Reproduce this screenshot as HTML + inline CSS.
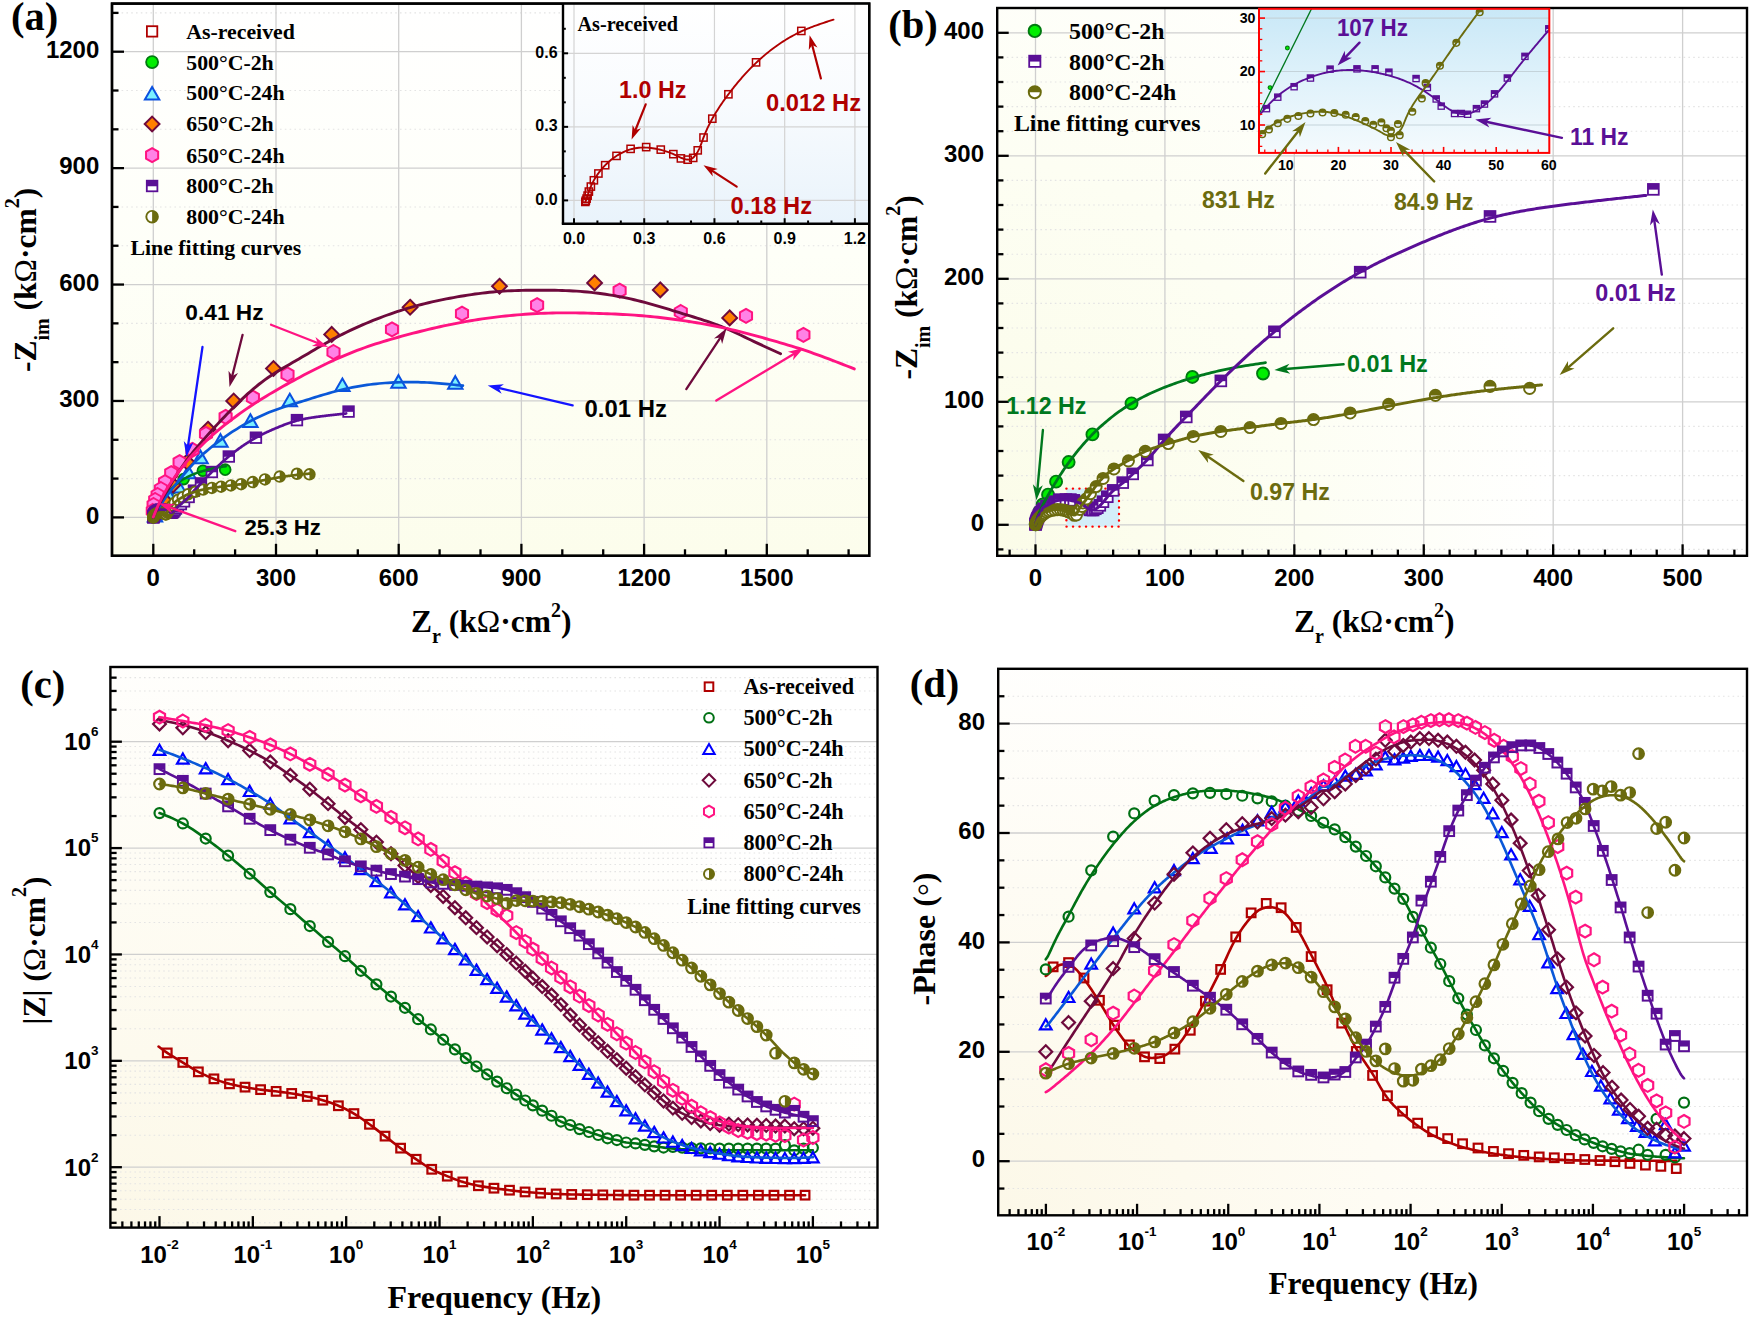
<!DOCTYPE html>
<html><head><meta charset="utf-8"><title>EIS Nyquist and Bode plots</title>
<style>
html,body{margin:0;padding:0;background:#fff;}
svg{display:block;}
text{white-space:pre;}
</style></head>
<body>
<svg width="1750" height="1317" viewBox="0 0 1750 1317">
<defs>
<linearGradient id="bgA" x1="0" y1="0" x2="0" y2="1"><stop offset="0" stop-color="#ffffff"/><stop offset="0.45" stop-color="#fefff8"/><stop offset="1" stop-color="#fcfdec"/></linearGradient>
<linearGradient id="bgAi" x1="0" y1="0" x2="0" y2="1"><stop offset="0" stop-color="#ffffff"/><stop offset="0.45" stop-color="#f8fbfe"/><stop offset="1" stop-color="#e9f3fb"/></linearGradient>
<radialGradient id="bgB" gradientUnits="userSpaceOnUse" cx="0" cy="0" r="1" gradientTransform="translate(997,556) scale(560,720)"><stop offset="0" stop-color="#fbfce8"/><stop offset="0.55" stop-color="#fdfef3"/><stop offset="1" stop-color="#ffffff"/></radialGradient>
<linearGradient id="bgBi" x1="0" y1="0" x2="0" y2="1"><stop offset="0" stop-color="#c9e8f7"/><stop offset="0.55" stop-color="#e2f3fb"/><stop offset="1" stop-color="#f4fafd"/></linearGradient>
<clipPath id="clipBi"><rect x="1259" y="8.8" width="290.3" height="144.1"/></clipPath>
<radialGradient id="bgC" gradientUnits="userSpaceOnUse" cx="0" cy="0" r="1" gradientTransform="translate(110,1227) scale(820,640)"><stop offset="0" stop-color="#fcf8e8"/><stop offset="0.55" stop-color="#fefcf4"/><stop offset="1" stop-color="#ffffff"/></radialGradient>
<radialGradient id="bgD" gradientUnits="userSpaceOnUse" cx="0" cy="0" r="1" gradientTransform="translate(998,1215) scale(700,600)"><stop offset="0" stop-color="#fcf8e8"/><stop offset="0.55" stop-color="#fefcf4"/><stop offset="1" stop-color="#ffffff"/></radialGradient>
<clipPath id="clipD"><rect x="998.2" y="668.8" width="748.8" height="546.5"/></clipPath>
</defs>
<rect x="0" y="0" width="1750" height="1317" fill="#fff"/>
<rect x="112" y="3.6" width="757.2" height="552.2" fill="url(#bgA)"/>
<line x1="112" y1="478.59" x2="869.2" y2="478.59" stroke="#e4e4e4" stroke-width="1.1" stroke-dasharray="1.6 3.2"/>
<line x1="112" y1="439.78" x2="869.2" y2="439.78" stroke="#e4e4e4" stroke-width="1.1" stroke-dasharray="1.6 3.2"/>
<line x1="112" y1="362.17" x2="869.2" y2="362.17" stroke="#e4e4e4" stroke-width="1.1" stroke-dasharray="1.6 3.2"/>
<line x1="112" y1="323.36" x2="869.2" y2="323.36" stroke="#e4e4e4" stroke-width="1.1" stroke-dasharray="1.6 3.2"/>
<line x1="112" y1="245.74" x2="869.2" y2="245.74" stroke="#e4e4e4" stroke-width="1.1" stroke-dasharray="1.6 3.2"/>
<line x1="112" y1="206.93" x2="869.2" y2="206.93" stroke="#e4e4e4" stroke-width="1.1" stroke-dasharray="1.6 3.2"/>
<line x1="112" y1="129.32" x2="869.2" y2="129.32" stroke="#e4e4e4" stroke-width="1.1" stroke-dasharray="1.6 3.2"/>
<line x1="112" y1="90.51" x2="869.2" y2="90.51" stroke="#e4e4e4" stroke-width="1.1" stroke-dasharray="1.6 3.2"/>
<line x1="112" y1="12.89" x2="869.2" y2="12.89" stroke="#e4e4e4" stroke-width="1.1" stroke-dasharray="1.6 3.2"/>
<line x1="112" y1="517.4" x2="869.2" y2="517.4" stroke="#cfcfcf" stroke-width="1.3" />
<line x1="112" y1="400.97" x2="869.2" y2="400.97" stroke="#cfcfcf" stroke-width="1.3" />
<line x1="112" y1="284.55" x2="869.2" y2="284.55" stroke="#cfcfcf" stroke-width="1.3" />
<line x1="112" y1="168.12" x2="869.2" y2="168.12" stroke="#cfcfcf" stroke-width="1.3" />
<line x1="112" y1="51.7" x2="869.2" y2="51.7" stroke="#cfcfcf" stroke-width="1.3" />
<line x1="153.3" y1="3.6" x2="153.3" y2="555.8" stroke="#cfcfcf" stroke-width="1.3" />
<line x1="276" y1="3.6" x2="276" y2="555.8" stroke="#cfcfcf" stroke-width="1.3" />
<line x1="398.7" y1="3.6" x2="398.7" y2="555.8" stroke="#cfcfcf" stroke-width="1.3" />
<line x1="521.4" y1="3.6" x2="521.4" y2="555.8" stroke="#cfcfcf" stroke-width="1.3" />
<line x1="644.1" y1="3.6" x2="644.1" y2="555.8" stroke="#cfcfcf" stroke-width="1.3" />
<line x1="766.8" y1="3.6" x2="766.8" y2="555.8" stroke="#cfcfcf" stroke-width="1.3" />
<rect x="149.8" y="513.7" width="7" height="7" fill="none" stroke="#b00000" stroke-width="1.5"/>
<circle cx="225.2" cy="469.67" r="5.4" fill="#00ee00" stroke="#007a10" stroke-width="1.8"/>
<circle cx="202.87" cy="470.75" r="5.4" fill="#00ee00" stroke="#007a10" stroke-width="1.8"/>
<circle cx="183.65" cy="479.1" r="5.4" fill="#00ee00" stroke="#007a10" stroke-width="1.8"/>
<circle cx="171.3" cy="488.88" r="5.4" fill="#00ee00" stroke="#007a10" stroke-width="1.8"/>
<circle cx="163.77" cy="497.61" r="5.4" fill="#00ee00" stroke="#007a10" stroke-width="1.8"/>
<circle cx="159.8" cy="503.78" r="5.4" fill="#00ee00" stroke="#007a10" stroke-width="1.8"/>
<circle cx="157.27" cy="507.89" r="5.4" fill="#00ee00" stroke="#007a10" stroke-width="1.8"/>
<circle cx="155.59" cy="511" r="5.4" fill="#00ee00" stroke="#007a10" stroke-width="1.8"/>
<circle cx="154.61" cy="513.21" r="5.4" fill="#00ee00" stroke="#007a10" stroke-width="1.8"/>
<circle cx="154.04" cy="514.76" r="5.4" fill="#00ee00" stroke="#007a10" stroke-width="1.8"/>
<circle cx="153.71" cy="515.77" r="5.4" fill="#00ee00" stroke="#007a10" stroke-width="1.8"/>
<circle cx="153.55" cy="516.43" r="5.4" fill="#00ee00" stroke="#007a10" stroke-width="1.8"/>
<circle cx="153.42" cy="516.93" r="5.4" fill="#00ee00" stroke="#007a10" stroke-width="1.8"/>
<circle cx="153.36" cy="517.24" r="5.4" fill="#00ee00" stroke="#007a10" stroke-width="1.8"/>
<polygon points="455.3,376.14 462.5,388.74 448.1,388.74" fill="#7af0ff" stroke="#0a50e0" stroke-width="2" stroke-linejoin="miter"/>
<polygon points="398.5,375.14 405.7,387.74 391.3,387.74" fill="#7af0ff" stroke="#0a50e0" stroke-width="2" stroke-linejoin="miter"/>
<polygon points="342.4,378.44 349.6,391.04 335.2,391.04" fill="#7af0ff" stroke="#0a50e0" stroke-width="2" stroke-linejoin="miter"/>
<polygon points="289.8,393.74 297,406.34 282.6,406.34" fill="#7af0ff" stroke="#0a50e0" stroke-width="2" stroke-linejoin="miter"/>
<polygon points="250.4,414.34 257.6,426.94 243.2,426.94" fill="#7af0ff" stroke="#0a50e0" stroke-width="2" stroke-linejoin="miter"/>
<polygon points="220.5,434.14 227.7,446.74 213.3,446.74" fill="#7af0ff" stroke="#0a50e0" stroke-width="2" stroke-linejoin="miter"/>
<polygon points="200.6,450.64 207.8,463.24 193.4,463.24" fill="#7af0ff" stroke="#0a50e0" stroke-width="2" stroke-linejoin="miter"/>
<polygon points="188.3,465.74 195.5,478.34 181.1,478.34" fill="#7af0ff" stroke="#0a50e0" stroke-width="2" stroke-linejoin="miter"/>
<polygon points="178.5,479.94 185.7,492.54 171.3,492.54" fill="#7af0ff" stroke="#0a50e0" stroke-width="2" stroke-linejoin="miter"/>
<polygon points="170,490.94 177.2,503.54 162.8,503.54" fill="#7af0ff" stroke="#0a50e0" stroke-width="2" stroke-linejoin="miter"/>
<polygon points="163,498.94 170.2,511.54 155.8,511.54" fill="#7af0ff" stroke="#0a50e0" stroke-width="2" stroke-linejoin="miter"/>
<polygon points="158,504.94 165.2,517.54 150.8,517.54" fill="#7af0ff" stroke="#0a50e0" stroke-width="2" stroke-linejoin="miter"/>
<polygon points="155,508.94 162.2,521.54 147.8,521.54" fill="#7af0ff" stroke="#0a50e0" stroke-width="2" stroke-linejoin="miter"/>
<polygon points="729.7,310.5 737.1,317.9 729.7,325.3 722.3,317.9" fill="#ff8000" stroke="#6e0a3c" stroke-width="2"/>
<polygon points="660.3,282.5 667.7,289.9 660.3,297.3 652.9,289.9" fill="#ff8000" stroke="#6e0a3c" stroke-width="2"/>
<polygon points="594.6,275.5 602,282.9 594.6,290.3 587.2,282.9" fill="#ff8000" stroke="#6e0a3c" stroke-width="2"/>
<polygon points="499.5,278.8 506.9,286.2 499.5,293.6 492.1,286.2" fill="#ff8000" stroke="#6e0a3c" stroke-width="2"/>
<polygon points="410.1,299.8 417.5,307.2 410.1,314.6 402.7,307.2" fill="#ff8000" stroke="#6e0a3c" stroke-width="2"/>
<polygon points="331.7,327 339.1,334.4 331.7,341.8 324.3,334.4" fill="#ff8000" stroke="#6e0a3c" stroke-width="2"/>
<polygon points="273.5,361.1 280.9,368.5 273.5,375.9 266.1,368.5" fill="#ff8000" stroke="#6e0a3c" stroke-width="2"/>
<polygon points="233.7,393.6 241.1,401 233.7,408.4 226.3,401" fill="#ff8000" stroke="#6e0a3c" stroke-width="2"/>
<polygon points="208,421.8 215.4,429.2 208,436.6 200.6,429.2" fill="#ff8000" stroke="#6e0a3c" stroke-width="2"/>
<polygon points="187,454.6 194.4,462 187,469.4 179.6,462" fill="#ff8000" stroke="#6e0a3c" stroke-width="2"/>
<polygon points="173,477.6 180.4,485 173,492.4 165.6,485" fill="#ff8000" stroke="#6e0a3c" stroke-width="2"/>
<polygon points="164,492.6 171.4,500 164,507.4 156.6,500" fill="#ff8000" stroke="#6e0a3c" stroke-width="2"/>
<polygon points="158,501.6 165.4,509 158,516.4 150.6,509" fill="#ff8000" stroke="#6e0a3c" stroke-width="2"/>
<polygon points="155,506.6 162.4,514 155,521.4 147.6,514" fill="#ff8000" stroke="#6e0a3c" stroke-width="2"/>
<polygon points="803.4,327.8 809.46,331.3 809.46,338.3 803.4,341.8 797.34,338.3 797.34,331.3" fill="#ff82e6" stroke="#ff1482" stroke-width="2"/>
<polygon points="746,308.9 752.06,312.4 752.06,319.4 746,322.9 739.94,319.4 739.94,312.4" fill="#ff82e6" stroke="#ff1482" stroke-width="2"/>
<polygon points="680.8,305 686.86,308.5 686.86,315.5 680.8,319 674.74,315.5 674.74,308.5" fill="#ff82e6" stroke="#ff1482" stroke-width="2"/>
<polygon points="619.6,283.6 625.66,287.1 625.66,294.1 619.6,297.6 613.54,294.1 613.54,287.1" fill="#ff82e6" stroke="#ff1482" stroke-width="2"/>
<polygon points="537.1,298.1 543.16,301.6 543.16,308.6 537.1,312.1 531.04,308.6 531.04,301.6" fill="#ff82e6" stroke="#ff1482" stroke-width="2"/>
<polygon points="462,306.6 468.06,310.1 468.06,317.1 462,320.6 455.94,317.1 455.94,310.1" fill="#ff82e6" stroke="#ff1482" stroke-width="2"/>
<polygon points="392,322.4 398.06,325.9 398.06,332.9 392,336.4 385.94,332.9 385.94,325.9" fill="#ff82e6" stroke="#ff1482" stroke-width="2"/>
<polygon points="333.5,345 339.56,348.5 339.56,355.5 333.5,359 327.44,355.5 327.44,348.5" fill="#ff82e6" stroke="#ff1482" stroke-width="2"/>
<polygon points="287.5,367.4 293.56,370.9 293.56,377.9 287.5,381.4 281.44,377.9 281.44,370.9" fill="#ff82e6" stroke="#ff1482" stroke-width="2"/>
<polygon points="252.9,390.6 258.96,394.1 258.96,401.1 252.9,404.6 246.84,401.1 246.84,394.1" fill="#ff82e6" stroke="#ff1482" stroke-width="2"/>
<polygon points="225.6,409.9 231.66,413.4 231.66,420.4 225.6,423.9 219.54,420.4 219.54,413.4" fill="#ff82e6" stroke="#ff1482" stroke-width="2"/>
<polygon points="206,426.8 212.06,430.3 212.06,437.3 206,440.8 199.94,437.3 199.94,430.3" fill="#ff82e6" stroke="#ff1482" stroke-width="2"/>
<polygon points="192.4,442.8 198.46,446.3 198.46,453.3 192.4,456.8 186.34,453.3 186.34,446.3" fill="#ff82e6" stroke="#ff1482" stroke-width="2"/>
<polygon points="179.6,455.2 185.66,458.7 185.66,465.7 179.6,469.2 173.54,465.7 173.54,458.7" fill="#ff82e6" stroke="#ff1482" stroke-width="2"/>
<polygon points="171.2,466.2 177.26,469.7 177.26,476.7 171.2,480.2 165.14,476.7 165.14,469.7" fill="#ff82e6" stroke="#ff1482" stroke-width="2"/>
<polygon points="165,475.1 171.06,478.6 171.06,485.6 165,489.1 158.94,485.6 158.94,478.6" fill="#ff82e6" stroke="#ff1482" stroke-width="2"/>
<polygon points="160.9,482 166.96,485.5 166.96,492.5 160.9,496 154.84,492.5 154.84,485.5" fill="#ff82e6" stroke="#ff1482" stroke-width="2"/>
<polygon points="157.6,488 163.66,491.5 163.66,498.5 157.6,502 151.54,498.5 151.54,491.5" fill="#ff82e6" stroke="#ff1482" stroke-width="2"/>
<polygon points="155.2,493 161.26,496.5 161.26,503.5 155.2,507 149.14,503.5 149.14,496.5" fill="#ff82e6" stroke="#ff1482" stroke-width="2"/>
<polygon points="153.6,498 159.66,501.5 159.66,508.5 153.6,512 147.54,508.5 147.54,501.5" fill="#ff82e6" stroke="#ff1482" stroke-width="2"/>
<polygon points="152.8,504 158.86,507.5 158.86,514.5 152.8,518 146.74,514.5 146.74,507.5" fill="#ff82e6" stroke="#ff1482" stroke-width="2"/>
<rect x="148.02" y="512.01" width="10.6" height="10.6" fill="#fff" stroke="#5a0f96" stroke-width="1.8"/>
<rect x="148.02" y="512.01" width="10.6" height="5.57" fill="#5a0f96"/>
<rect x="148.04" y="511.91" width="10.6" height="10.6" fill="#fff" stroke="#5a0f96" stroke-width="1.8"/>
<rect x="148.04" y="511.91" width="10.6" height="5.57" fill="#5a0f96"/>
<rect x="148.08" y="511.73" width="10.6" height="10.6" fill="#fff" stroke="#5a0f96" stroke-width="1.8"/>
<rect x="148.08" y="511.73" width="10.6" height="5.57" fill="#5a0f96"/>
<rect x="148.14" y="511.48" width="10.6" height="10.6" fill="#fff" stroke="#5a0f96" stroke-width="1.8"/>
<rect x="148.14" y="511.48" width="10.6" height="5.57" fill="#5a0f96"/>
<rect x="148.22" y="511.18" width="10.6" height="10.6" fill="#fff" stroke="#5a0f96" stroke-width="1.8"/>
<rect x="148.22" y="511.18" width="10.6" height="5.57" fill="#5a0f96"/>
<rect x="148.33" y="510.85" width="10.6" height="10.6" fill="#fff" stroke="#5a0f96" stroke-width="1.8"/>
<rect x="148.33" y="510.85" width="10.6" height="5.57" fill="#5a0f96"/>
<rect x="148.45" y="510.49" width="10.6" height="10.6" fill="#fff" stroke="#5a0f96" stroke-width="1.8"/>
<rect x="148.45" y="510.49" width="10.6" height="5.57" fill="#5a0f96"/>
<rect x="148.61" y="510.08" width="10.6" height="10.6" fill="#fff" stroke="#5a0f96" stroke-width="1.8"/>
<rect x="148.61" y="510.08" width="10.6" height="5.57" fill="#5a0f96"/>
<rect x="148.82" y="509.63" width="10.6" height="10.6" fill="#fff" stroke="#5a0f96" stroke-width="1.8"/>
<rect x="148.82" y="509.63" width="10.6" height="5.57" fill="#5a0f96"/>
<rect x="149.06" y="509.16" width="10.6" height="10.6" fill="#fff" stroke="#5a0f96" stroke-width="1.8"/>
<rect x="149.06" y="509.16" width="10.6" height="5.57" fill="#5a0f96"/>
<rect x="149.35" y="508.68" width="10.6" height="10.6" fill="#fff" stroke="#5a0f96" stroke-width="1.8"/>
<rect x="149.35" y="508.68" width="10.6" height="5.57" fill="#5a0f96"/>
<rect x="149.72" y="508.14" width="10.6" height="10.6" fill="#fff" stroke="#5a0f96" stroke-width="1.8"/>
<rect x="149.72" y="508.14" width="10.6" height="5.57" fill="#5a0f96"/>
<rect x="150.13" y="507.62" width="10.6" height="10.6" fill="#fff" stroke="#5a0f96" stroke-width="1.8"/>
<rect x="150.13" y="507.62" width="10.6" height="5.57" fill="#5a0f96"/>
<rect x="150.59" y="507.03" width="10.6" height="10.6" fill="#fff" stroke="#5a0f96" stroke-width="1.8"/>
<rect x="150.59" y="507.03" width="10.6" height="5.57" fill="#5a0f96"/>
<rect x="151.47" y="506.2" width="10.6" height="10.6" fill="#fff" stroke="#5a0f96" stroke-width="1.8"/>
<rect x="151.47" y="506.2" width="10.6" height="5.57" fill="#5a0f96"/>
<rect x="152.74" y="505.44" width="10.6" height="10.6" fill="#fff" stroke="#5a0f96" stroke-width="1.8"/>
<rect x="152.74" y="505.44" width="10.6" height="5.57" fill="#5a0f96"/>
<rect x="154.01" y="504.81" width="10.6" height="10.6" fill="#fff" stroke="#5a0f96" stroke-width="1.8"/>
<rect x="154.01" y="504.81" width="10.6" height="5.57" fill="#5a0f96"/>
<rect x="155.53" y="504.16" width="10.6" height="10.6" fill="#fff" stroke="#5a0f96" stroke-width="1.8"/>
<rect x="155.53" y="504.16" width="10.6" height="5.57" fill="#5a0f96"/>
<rect x="157.62" y="504.14" width="10.6" height="10.6" fill="#fff" stroke="#5a0f96" stroke-width="1.8"/>
<rect x="157.62" y="504.14" width="10.6" height="5.57" fill="#5a0f96"/>
<rect x="159.03" y="504.14" width="10.6" height="10.6" fill="#fff" stroke="#5a0f96" stroke-width="1.8"/>
<rect x="159.03" y="504.14" width="10.6" height="5.57" fill="#5a0f96"/>
<rect x="160.11" y="504.38" width="10.6" height="10.6" fill="#fff" stroke="#5a0f96" stroke-width="1.8"/>
<rect x="160.11" y="504.38" width="10.6" height="5.57" fill="#5a0f96"/>
<rect x="162.22" y="504.85" width="10.6" height="10.6" fill="#fff" stroke="#5a0f96" stroke-width="1.8"/>
<rect x="162.22" y="504.85" width="10.6" height="5.57" fill="#5a0f96"/>
<rect x="163.1" y="505.49" width="10.6" height="10.6" fill="#fff" stroke="#5a0f96" stroke-width="1.8"/>
<rect x="163.1" y="505.49" width="10.6" height="5.57" fill="#5a0f96"/>
<rect x="163.78" y="506.33" width="10.6" height="10.6" fill="#fff" stroke="#5a0f96" stroke-width="1.8"/>
<rect x="163.78" y="506.33" width="10.6" height="5.57" fill="#5a0f96"/>
<rect x="164.17" y="506.85" width="10.6" height="10.6" fill="#fff" stroke="#5a0f96" stroke-width="1.8"/>
<rect x="164.17" y="506.85" width="10.6" height="5.57" fill="#5a0f96"/>
<rect x="165.21" y="507.38" width="10.6" height="10.6" fill="#fff" stroke="#5a0f96" stroke-width="1.8"/>
<rect x="165.21" y="507.38" width="10.6" height="5.57" fill="#5a0f96"/>
<rect x="165.74" y="507.38" width="10.6" height="10.6" fill="#fff" stroke="#5a0f96" stroke-width="1.8"/>
<rect x="165.74" y="507.38" width="10.6" height="5.57" fill="#5a0f96"/>
<rect x="166.23" y="507.44" width="10.6" height="10.6" fill="#fff" stroke="#5a0f96" stroke-width="1.8"/>
<rect x="166.23" y="507.44" width="10.6" height="5.57" fill="#5a0f96"/>
<rect x="166.91" y="507.03" width="10.6" height="10.6" fill="#fff" stroke="#5a0f96" stroke-width="1.8"/>
<rect x="166.91" y="507.03" width="10.6" height="5.57" fill="#5a0f96"/>
<rect x="167.54" y="506.7" width="10.6" height="10.6" fill="#fff" stroke="#5a0f96" stroke-width="1.8"/>
<rect x="167.54" y="506.7" width="10.6" height="5.57" fill="#5a0f96"/>
<rect x="168.32" y="505.96" width="10.6" height="10.6" fill="#fff" stroke="#5a0f96" stroke-width="1.8"/>
<rect x="168.32" y="505.96" width="10.6" height="5.57" fill="#5a0f96"/>
<rect x="169.32" y="504.81" width="10.6" height="10.6" fill="#fff" stroke="#5a0f96" stroke-width="1.8"/>
<rect x="169.32" y="504.81" width="10.6" height="5.57" fill="#5a0f96"/>
<rect x="170.69" y="503.24" width="10.6" height="10.6" fill="#fff" stroke="#5a0f96" stroke-width="1.8"/>
<rect x="170.69" y="503.24" width="10.6" height="5.57" fill="#5a0f96"/>
<rect x="172.54" y="501.24" width="10.6" height="10.6" fill="#fff" stroke="#5a0f96" stroke-width="1.8"/>
<rect x="172.54" y="501.24" width="10.6" height="5.57" fill="#5a0f96"/>
<rect x="175.57" y="498.79" width="10.6" height="10.6" fill="#fff" stroke="#5a0f96" stroke-width="1.8"/>
<rect x="175.57" y="498.79" width="10.6" height="5.57" fill="#5a0f96"/>
<rect x="178.72" y="496.03" width="10.6" height="10.6" fill="#fff" stroke="#5a0f96" stroke-width="1.8"/>
<rect x="178.72" y="496.03" width="10.6" height="5.57" fill="#5a0f96"/>
<rect x="183.34" y="491.65" width="10.6" height="10.6" fill="#fff" stroke="#5a0f96" stroke-width="1.8"/>
<rect x="183.34" y="491.65" width="10.6" height="5.57" fill="#5a0f96"/>
<rect x="188.65" y="485.32" width="10.6" height="10.6" fill="#fff" stroke="#5a0f96" stroke-width="1.8"/>
<rect x="188.65" y="485.32" width="10.6" height="5.57" fill="#5a0f96"/>
<rect x="195.65" y="478.07" width="10.6" height="10.6" fill="#fff" stroke="#5a0f96" stroke-width="1.8"/>
<rect x="195.65" y="478.07" width="10.6" height="5.57" fill="#5a0f96"/>
<rect x="206.57" y="466.69" width="10.6" height="10.6" fill="#fff" stroke="#5a0f96" stroke-width="1.8"/>
<rect x="206.57" y="466.69" width="10.6" height="5.57" fill="#5a0f96"/>
<rect x="223.5" y="451.21" width="10.6" height="10.6" fill="#fff" stroke="#5a0f96" stroke-width="1.8"/>
<rect x="223.5" y="451.21" width="10.6" height="5.57" fill="#5a0f96"/>
<rect x="250.62" y="432.39" width="10.6" height="10.6" fill="#fff" stroke="#5a0f96" stroke-width="1.8"/>
<rect x="250.62" y="432.39" width="10.6" height="5.57" fill="#5a0f96"/>
<rect x="291.64" y="414.81" width="10.6" height="10.6" fill="#fff" stroke="#5a0f96" stroke-width="1.8"/>
<rect x="291.64" y="414.81" width="10.6" height="5.57" fill="#5a0f96"/>
<rect x="343.26" y="406.27" width="10.6" height="10.6" fill="#fff" stroke="#5a0f96" stroke-width="1.8"/>
<rect x="343.26" y="406.27" width="10.6" height="5.57" fill="#5a0f96"/>
<circle cx="153.32" cy="517.34" r="5.3" fill="#fff" stroke="#6b6b0e" stroke-width="1.9"/>
<path d="M153.32,512.04 A5.3,5.3 0 0 1 153.32,522.64 Z" fill="#6b6b0e"/>
<circle cx="153.34" cy="517.27" r="5.3" fill="#fff" stroke="#6b6b0e" stroke-width="1.9"/>
<path d="M153.34,511.97 A5.3,5.3 0 0 1 153.34,522.57 Z" fill="#6b6b0e"/>
<circle cx="153.38" cy="517.15" r="5.3" fill="#fff" stroke="#6b6b0e" stroke-width="1.9"/>
<path d="M153.38,511.85 A5.3,5.3 0 0 1 153.38,522.45 Z" fill="#6b6b0e"/>
<circle cx="153.44" cy="516.98" r="5.3" fill="#fff" stroke="#6b6b0e" stroke-width="1.9"/>
<path d="M153.44,511.68 A5.3,5.3 0 0 1 153.44,522.28 Z" fill="#6b6b0e"/>
<circle cx="153.52" cy="516.77" r="5.3" fill="#fff" stroke="#6b6b0e" stroke-width="1.9"/>
<path d="M153.52,511.47 A5.3,5.3 0 0 1 153.52,522.07 Z" fill="#6b6b0e"/>
<circle cx="153.63" cy="516.54" r="5.3" fill="#fff" stroke="#6b6b0e" stroke-width="1.9"/>
<path d="M153.63,511.24 A5.3,5.3 0 0 1 153.63,521.84 Z" fill="#6b6b0e"/>
<circle cx="153.75" cy="516.29" r="5.3" fill="#fff" stroke="#6b6b0e" stroke-width="1.9"/>
<path d="M153.75,510.99 A5.3,5.3 0 0 1 153.75,521.59 Z" fill="#6b6b0e"/>
<circle cx="153.91" cy="516" r="5.3" fill="#fff" stroke="#6b6b0e" stroke-width="1.9"/>
<path d="M153.91,510.7 A5.3,5.3 0 0 1 153.91,521.3 Z" fill="#6b6b0e"/>
<circle cx="154.12" cy="515.7" r="5.3" fill="#fff" stroke="#6b6b0e" stroke-width="1.9"/>
<path d="M154.12,510.4 A5.3,5.3 0 0 1 154.12,521 Z" fill="#6b6b0e"/>
<circle cx="154.36" cy="515.38" r="5.3" fill="#fff" stroke="#6b6b0e" stroke-width="1.9"/>
<path d="M154.36,510.08 A5.3,5.3 0 0 1 154.36,520.68 Z" fill="#6b6b0e"/>
<circle cx="154.65" cy="515.05" r="5.3" fill="#fff" stroke="#6b6b0e" stroke-width="1.9"/>
<path d="M154.65,509.75 A5.3,5.3 0 0 1 154.65,520.35 Z" fill="#6b6b0e"/>
<circle cx="155.02" cy="514.7" r="5.3" fill="#fff" stroke="#6b6b0e" stroke-width="1.9"/>
<path d="M155.02,509.4 A5.3,5.3 0 0 1 155.02,520 Z" fill="#6b6b0e"/>
<circle cx="155.34" cy="514.41" r="5.3" fill="#fff" stroke="#6b6b0e" stroke-width="1.9"/>
<path d="M155.34,509.11 A5.3,5.3 0 0 1 155.34,519.71 Z" fill="#6b6b0e"/>
<circle cx="155.55" cy="514.18" r="5.3" fill="#fff" stroke="#6b6b0e" stroke-width="1.9"/>
<path d="M155.55,508.88 A5.3,5.3 0 0 1 155.55,519.48 Z" fill="#6b6b0e"/>
<circle cx="156.08" cy="513.85" r="5.3" fill="#fff" stroke="#6b6b0e" stroke-width="1.9"/>
<path d="M156.08,508.55 A5.3,5.3 0 0 1 156.08,519.15 Z" fill="#6b6b0e"/>
<circle cx="156.77" cy="513.39" r="5.3" fill="#fff" stroke="#6b6b0e" stroke-width="1.9"/>
<path d="M156.77,508.09 A5.3,5.3 0 0 1 156.77,518.69 Z" fill="#6b6b0e"/>
<circle cx="157.51" cy="513.07" r="5.3" fill="#fff" stroke="#6b6b0e" stroke-width="1.9"/>
<path d="M157.51,507.77 A5.3,5.3 0 0 1 157.51,518.37 Z" fill="#6b6b0e"/>
<circle cx="158.37" cy="512.87" r="5.3" fill="#fff" stroke="#6b6b0e" stroke-width="1.9"/>
<path d="M158.37,507.57 A5.3,5.3 0 0 1 158.37,518.17 Z" fill="#6b6b0e"/>
<circle cx="159.31" cy="512.68" r="5.3" fill="#fff" stroke="#6b6b0e" stroke-width="1.9"/>
<path d="M159.31,507.38 A5.3,5.3 0 0 1 159.31,517.98 Z" fill="#6b6b0e"/>
<circle cx="160.25" cy="512.61" r="5.3" fill="#fff" stroke="#6b6b0e" stroke-width="1.9"/>
<path d="M160.25,507.31 A5.3,5.3 0 0 1 160.25,517.91 Z" fill="#6b6b0e"/>
<circle cx="161.17" cy="512.65" r="5.3" fill="#fff" stroke="#6b6b0e" stroke-width="1.9"/>
<path d="M161.17,507.35 A5.3,5.3 0 0 1 161.17,517.95 Z" fill="#6b6b0e"/>
<circle cx="162.04" cy="512.78" r="5.3" fill="#fff" stroke="#6b6b0e" stroke-width="1.9"/>
<path d="M162.04,507.48 A5.3,5.3 0 0 1 162.04,518.08 Z" fill="#6b6b0e"/>
<circle cx="162.83" cy="512.94" r="5.3" fill="#fff" stroke="#6b6b0e" stroke-width="1.9"/>
<path d="M162.83,507.64 A5.3,5.3 0 0 1 162.83,518.24 Z" fill="#6b6b0e"/>
<circle cx="163.57" cy="513.24" r="5.3" fill="#fff" stroke="#6b6b0e" stroke-width="1.9"/>
<path d="M163.57,507.94 A5.3,5.3 0 0 1 163.57,518.54 Z" fill="#6b6b0e"/>
<circle cx="164.2" cy="513.5" r="5.3" fill="#fff" stroke="#6b6b0e" stroke-width="1.9"/>
<path d="M164.2,508.2 A5.3,5.3 0 0 1 164.2,518.8 Z" fill="#6b6b0e"/>
<circle cx="164.82" cy="513.33" r="5.3" fill="#fff" stroke="#6b6b0e" stroke-width="1.9"/>
<path d="M164.82,508.03 A5.3,5.3 0 0 1 164.82,518.63 Z" fill="#6b6b0e"/>
<circle cx="165.21" cy="513.76" r="5.3" fill="#fff" stroke="#6b6b0e" stroke-width="1.9"/>
<path d="M165.21,508.46 A5.3,5.3 0 0 1 165.21,519.06 Z" fill="#6b6b0e"/>
<circle cx="165.56" cy="513.94" r="5.3" fill="#fff" stroke="#6b6b0e" stroke-width="1.9"/>
<path d="M165.56,508.64 A5.3,5.3 0 0 1 165.56,519.24 Z" fill="#6b6b0e"/>
<circle cx="165.56" cy="514.41" r="5.3" fill="#fff" stroke="#6b6b0e" stroke-width="1.9"/>
<path d="M165.56,509.11 A5.3,5.3 0 0 1 165.56,519.71 Z" fill="#6b6b0e"/>
<circle cx="166.11" cy="513.44" r="5.3" fill="#fff" stroke="#6b6b0e" stroke-width="1.9"/>
<path d="M166.11,508.14 A5.3,5.3 0 0 1 166.11,518.74 Z" fill="#6b6b0e"/>
<circle cx="166.25" cy="514.26" r="5.3" fill="#fff" stroke="#6b6b0e" stroke-width="1.9"/>
<path d="M166.25,508.96 A5.3,5.3 0 0 1 166.25,519.56 Z" fill="#6b6b0e"/>
<circle cx="167.23" cy="512.55" r="5.3" fill="#fff" stroke="#6b6b0e" stroke-width="1.9"/>
<path d="M167.23,507.25 A5.3,5.3 0 0 1 167.23,517.85 Z" fill="#6b6b0e"/>
<circle cx="167.97" cy="511.59" r="5.3" fill="#fff" stroke="#6b6b0e" stroke-width="1.9"/>
<path d="M167.97,506.29 A5.3,5.3 0 0 1 167.97,516.89 Z" fill="#6b6b0e"/>
<circle cx="168.26" cy="510.48" r="5.3" fill="#fff" stroke="#6b6b0e" stroke-width="1.9"/>
<path d="M168.26,505.18 A5.3,5.3 0 0 1 168.26,515.78 Z" fill="#6b6b0e"/>
<circle cx="169.38" cy="509.22" r="5.3" fill="#fff" stroke="#6b6b0e" stroke-width="1.9"/>
<path d="M169.38,503.92 A5.3,5.3 0 0 1 169.38,514.52 Z" fill="#6b6b0e"/>
<circle cx="170.65" cy="507.55" r="5.3" fill="#fff" stroke="#6b6b0e" stroke-width="1.9"/>
<path d="M170.65,502.25 A5.3,5.3 0 0 1 170.65,512.85 Z" fill="#6b6b0e"/>
<circle cx="172.47" cy="505.33" r="5.3" fill="#fff" stroke="#6b6b0e" stroke-width="1.9"/>
<path d="M172.47,500.03 A5.3,5.3 0 0 1 172.47,510.63 Z" fill="#6b6b0e"/>
<circle cx="174.65" cy="502.77" r="5.3" fill="#fff" stroke="#6b6b0e" stroke-width="1.9"/>
<path d="M174.65,497.47 A5.3,5.3 0 0 1 174.65,508.07 Z" fill="#6b6b0e"/>
<circle cx="178.09" cy="499.78" r="5.3" fill="#fff" stroke="#6b6b0e" stroke-width="1.9"/>
<path d="M178.09,494.48 A5.3,5.3 0 0 1 178.09,505.08 Z" fill="#6b6b0e"/>
<circle cx="182.67" cy="497.22" r="5.3" fill="#fff" stroke="#6b6b0e" stroke-width="1.9"/>
<path d="M182.67,491.92 A5.3,5.3 0 0 1 182.67,502.52 Z" fill="#6b6b0e"/>
<circle cx="187.98" cy="494.23" r="5.3" fill="#fff" stroke="#6b6b0e" stroke-width="1.9"/>
<path d="M187.98,488.93 A5.3,5.3 0 0 1 187.98,499.53 Z" fill="#6b6b0e"/>
<circle cx="195.26" cy="491.75" r="5.3" fill="#fff" stroke="#6b6b0e" stroke-width="1.9"/>
<path d="M195.26,486.45 A5.3,5.3 0 0 1 195.26,497.05 Z" fill="#6b6b0e"/>
<circle cx="203.16" cy="489.54" r="5.3" fill="#fff" stroke="#6b6b0e" stroke-width="1.9"/>
<path d="M203.16,484.24 A5.3,5.3 0 0 1 203.16,494.84 Z" fill="#6b6b0e"/>
<circle cx="211.87" cy="487.94" r="5.3" fill="#fff" stroke="#6b6b0e" stroke-width="1.9"/>
<path d="M211.87,482.64 A5.3,5.3 0 0 1 211.87,493.24 Z" fill="#6b6b0e"/>
<circle cx="221.07" cy="486.7" r="5.3" fill="#fff" stroke="#6b6b0e" stroke-width="1.9"/>
<path d="M221.07,481.4 A5.3,5.3 0 0 1 221.07,492 Z" fill="#6b6b0e"/>
<circle cx="230.89" cy="485.42" r="5.3" fill="#fff" stroke="#6b6b0e" stroke-width="1.9"/>
<path d="M230.89,480.12 A5.3,5.3 0 0 1 230.89,490.72 Z" fill="#6b6b0e"/>
<circle cx="241.15" cy="484.18" r="5.3" fill="#fff" stroke="#6b6b0e" stroke-width="1.9"/>
<path d="M241.15,478.88 A5.3,5.3 0 0 1 241.15,489.48 Z" fill="#6b6b0e"/>
<circle cx="252.73" cy="482.12" r="5.3" fill="#fff" stroke="#6b6b0e" stroke-width="1.9"/>
<path d="M252.73,476.82 A5.3,5.3 0 0 1 252.73,487.42 Z" fill="#6b6b0e"/>
<circle cx="264.92" cy="479.41" r="5.3" fill="#fff" stroke="#6b6b0e" stroke-width="1.9"/>
<path d="M264.92,474.11 A5.3,5.3 0 0 1 264.92,484.71 Z" fill="#6b6b0e"/>
<circle cx="279.68" cy="476.57" r="5.3" fill="#fff" stroke="#6b6b0e" stroke-width="1.9"/>
<path d="M279.68,471.27 A5.3,5.3 0 0 1 279.68,481.87 Z" fill="#6b6b0e"/>
<circle cx="296.94" cy="473.74" r="5.3" fill="#fff" stroke="#6b6b0e" stroke-width="1.9"/>
<path d="M296.94,468.44 A5.3,5.3 0 0 1 296.94,479.04 Z" fill="#6b6b0e"/>
<circle cx="309.46" cy="474.36" r="5.3" fill="#fff" stroke="#6b6b0e" stroke-width="1.9"/>
<path d="M309.46,469.06 A5.3,5.3 0 0 1 309.46,479.66 Z" fill="#6b6b0e"/>
<polyline points="153.34,517.4 153.61,516.24 153.94,515.09 154.34,513.97 154.81,512.87 155.31,511.79 155.84,510.72 156.39,509.66 156.97,508.62 157.56,507.58 158.15,506.54 158.75,505.51 159.37,504.49 159.99,503.47 160.62,502.46 161.27,501.46 161.92,500.46 162.59,499.47 163.28,498.49 163.97,497.53 164.68,496.57 165.4,495.62 166.14,494.68 166.89,493.75 167.66,492.84 168.44,491.94 169.24,491.05 170.05,490.17 170.87,489.31 171.72,488.46 172.57,487.62 173.44,486.8 174.33,486 175.23,485.21 176.14,484.44 177.07,483.68 178.01,482.94 178.97,482.22 179.94,481.52 180.92,480.84 181.91,480.18 182.92,479.54 183.94,478.92 184.97,478.32 186.01,477.74 187.07,477.19 188.13,476.65 189.21,476.12 190.29,475.62 191.38,475.14 192.48,474.67 193.59,474.21 194.7,473.78 195.82,473.35 196.95,472.94 198.08,472.55 199.22,472.17 200.36,471.8 201.5,471.44 202.64,471.09 203.79,470.75 204.94,470.43 206.09,470.11 207.25,469.81 208.4,469.51 209.56,469.23 210.72,468.95 211.88,468.69 213.05,468.44 214.21,468.2 215.38,467.97 216.56,467.75 217.73,467.54 218.9,467.34 220.08,467.15 221.26,466.96 222.44,466.78 223.62,466.6 224.8,466.43 225.98,466.25" fill="none" stroke="#00781e" stroke-width="2.5" stroke-linejoin="round" stroke-linecap="round" />
<polyline points="153.2,517 154.73,514.42 156.27,511.84 157.83,509.28 159.42,506.74 161.04,504.22 162.7,501.72 164.4,499.25 166.14,496.81 167.92,494.39 169.73,492 171.56,489.63 173.42,487.28 175.3,484.94 177.19,482.61 179.09,480.28 180.99,477.96 182.89,475.64 184.81,473.33 186.76,471.05 188.72,468.78 190.71,466.54 192.74,464.33 194.81,462.16 196.91,460.03 199.06,457.94 201.24,455.88 203.46,453.85 205.71,451.87 207.99,449.91 210.3,447.99 212.63,446.09 214.98,444.23 217.36,442.39 219.75,440.59 222.17,438.81 224.61,437.06 227.07,435.34 229.54,433.65 232.04,431.99 234.57,430.36 237.11,428.77 239.67,427.2 242.25,425.67 244.85,424.16 247.47,422.69 250.11,421.26 252.77,419.87 255.45,418.51 258.15,417.19 260.87,415.91 263.6,414.68 266.35,413.49 269.13,412.35 271.92,411.25 274.72,410.2 277.54,409.19 280.38,408.21 283.22,407.26 286.07,406.33 288.93,405.42 291.8,404.53 294.67,403.64 297.54,402.76 300.4,401.87 303.27,400.98 306.14,400.09 309,399.19 311.87,398.3 314.73,397.41 317.6,396.53 320.47,395.66 323.34,394.8 326.22,393.95 329.1,393.12 331.99,392.31 334.88,391.53 337.78,390.77 340.69,390.04 343.6,389.33 346.53,388.66 349.46,388.03 352.4,387.43 355.34,386.85 358.3,386.32 361.26,385.81 364.22,385.34 367.19,384.91 370.16,384.5 373.14,384.14 376.13,383.8 379.11,383.5 382.1,383.24 385.09,383 388.08,382.8 391.07,382.62 394.07,382.47 397.07,382.35 400.07,382.26 403.06,382.18 406.06,382.14 409.06,382.11 412.07,382.11 415.06,382.14 418.06,382.2 421.06,382.28 424.06,382.38 427.06,382.52 430.05,382.68 433.04,382.87 436.03,383.08 439.02,383.32 442.01,383.58 445,383.85 447.98,384.13 450.97,384.43 453.95,384.74 456.93,385.06 459.92,385.38 462.9,385.7" fill="none" stroke="#0a58d8" stroke-width="2.7" stroke-linejoin="round" stroke-linecap="round" />
<polyline points="153.3,517.4 153.48,516.65 153.72,515.91 153.98,515.19 154.29,514.5 154.84,513.87 155.33,513.25 155.3,512.54 155.73,511.95 156.51,511.49 157.32,511.07 158.02,510.69 158.67,510.34 159.33,510.04 160.06,509.82 160.82,509.65 161.6,509.56 162.37,509.53 163.14,509.55 163.91,509.63 164.67,509.76 165.43,509.93 166.17,510.15 166.89,510.42 167.59,510.74 168.26,511.12 168.91,511.55 169.53,512 170.18,512.42 170.91,512.7 171.67,512.68 172.39,512.37 173.03,511.93 173.61,511.42 174.14,510.87 174.66,510.29 175.15,509.7 175.64,509.1 176.13,508.5 176.63,507.91 177.14,507.33 177.68,506.78 178.25,506.26 178.84,505.77 179.45,505.3 180.06,504.83 180.68,504.35 181.28,503.87 181.87,503.37 182.45,502.86 183.02,502.34 183.58,501.82 184.15,501.29 184.71,500.76 185.27,500.23 185.83,499.7 186.38,499.16 186.94,498.62 187.48,498.08 188.02,497.52 188.55,496.96 189.07,496.4 189.59,495.82 190.1,495.24 190.6,494.66 191.1,494.07 191.6,493.48 192.09,492.89 192.59,492.3 193.09,491.71 193.59,491.12 194.09,490.54 194.6,489.96 195.12,489.39 195.64,488.82 196.16,488.25 196.69,487.68 197.22,487.12 197.75,486.56 198.28,486.01 198.82,485.45 199.35,484.9 199.89,484.34 200.43,483.79 200.96,483.23 201.5,482.68 202.04,482.12 202.57,481.57 203.11,481.01 203.64,480.45 204.18,479.9 204.71,479.34 205.25,478.78 205.78,478.23 206.32,477.67 206.85,477.12 207.39,476.56 207.92,476.01 208.46,475.45 209,474.9 209.54,474.35 210.08,473.8 210.62,473.25 211.16,472.7 211.71,472.16 212.25,471.61 212.8,471.07 213.35,470.52 213.9,469.98 214.45,469.45 215.01,468.91 215.56,468.37 216.12,467.84 216.68,467.31 217.23,466.78 217.8,466.25 218.36,465.72 218.92,465.19 219.49,464.67 220.06,464.15 220.63,463.63 221.2,463.11 221.77,462.59 222.35,462.07 222.92,461.56 223.5,461.05 224.08,460.54 224.66,460.03 225.25,459.53 225.83,459.02 226.42,458.52 227,458.02 227.59,457.52 228.19,457.02 228.78,456.53 229.38,456.03 229.97,455.54 230.57,455.05 231.17,454.57 231.77,454.08 232.38,453.6 232.98,453.12 233.59,452.64 234.2,452.17 234.81,451.69 235.43,451.22 236.04,450.75 236.66,450.28 237.28,449.82 237.9,449.36 238.52,448.9 239.15,448.44 239.77,447.99 240.4,447.54 241.03,447.09 241.66,446.64 242.29,446.2 242.93,445.76 243.57,445.32 244.21,444.89 244.85,444.46 245.49,444.03 246.14,443.61 246.78,443.18 247.43,442.76 248.08,442.35 248.73,441.94 249.39,441.53 250.04,441.12 250.7,440.72 251.36,440.32 252.03,439.92 252.69,439.53 253.36,439.14 254.02,438.76 254.69,438.37 255.37,437.99 256.04,437.62 256.72,437.25 257.39,436.88 258.07,436.52 258.75,436.16 259.44,435.8 260.12,435.45 260.81,435.1 261.5,434.75 262.19,434.4 262.88,434.06 263.57,433.72 264.27,433.39 264.96,433.06 265.66,432.73 266.36,432.4 267.06,432.07 267.76,431.75 268.46,431.43 269.17,431.11 269.87,430.79 270.58,430.48 271.28,430.17 271.99,429.86 272.7,429.55 273.41,429.24 274.12,428.94 274.83,428.63 275.54,428.33 276.26,428.03 276.97,427.73 277.68,427.44 278.4,427.14 279.11,426.85 279.83,426.56 280.55,426.27 281.27,425.98 281.99,425.7 282.71,425.41 283.43,425.13 284.15,424.86 284.87,424.58 285.59,424.31 286.32,424.05 287.05,423.78 287.77,423.52 288.5,423.27 289.23,423.02 289.96,422.77 290.69,422.53 291.43,422.29 292.16,422.05 292.9,421.82 293.63,421.6 294.37,421.38 295.11,421.16 295.85,420.95 296.59,420.74 297.34,420.55 298.08,420.35 298.83,420.16 299.58,419.98 300.33,419.8 301.08,419.63 301.83,419.46 302.58,419.29 303.34,419.14 304.09,418.98 304.85,418.83 305.61,418.68 306.37,418.54 307.13,418.4 307.89,418.26 308.65,418.13 309.41,418 310.17,417.88 310.93,417.75 311.7,417.63 312.46,417.51 313.23,417.4 313.99,417.29 314.76,417.18 315.52,417.07 316.29,416.96 317.05,416.86 317.82,416.75 318.59,416.65 319.35,416.55 320.12,416.45 320.89,416.36 321.65,416.26 322.42,416.16 323.19,416.07 323.96,415.97 324.72,415.88 325.49,415.79 326.26,415.7 327.02,415.6 327.79,415.51 328.56,415.42 329.32,415.33 330.09,415.25 330.86,415.16 331.62,415.07 332.39,414.98 333.16,414.9 333.92,414.81 334.69,414.72 335.45,414.64 336.22,414.55 336.99,414.47 337.75,414.38 338.52,414.3 339.29,414.22 340.05,414.13 340.82,414.05 341.59,413.97 342.35,413.88 343.12,413.8 343.89,413.72 344.65,413.64 345.42,413.55 346.18,413.47" fill="none" stroke="#5a0f96" stroke-width="2.7" stroke-linejoin="round" stroke-linecap="round" />
<polyline points="153.3,517.4 153.49,516.85 153.74,516.33 154.01,515.83 154.34,515.36 154.86,514.98 155.31,514.59 155.29,514.07 155.58,513.67 156.19,513.41 156.91,513.22 157.54,513.03 158.09,512.86 158.6,512.72 159.14,512.61 159.71,512.55 160.3,512.55 160.88,512.61 161.45,512.73 162.01,512.88 162.56,513.06 163.1,513.27 163.63,513.49 164.15,513.72 164.67,513.98 165.2,514.25 165.76,514.28 166.24,513.95 166.54,513.46 166.78,512.92 167.06,512.4 167.38,511.91 167.72,511.45 168.07,510.99 168.43,510.54 168.78,510.09 169.13,509.63 169.48,509.17 169.82,508.7 170.16,508.23 170.5,507.76 170.83,507.29 171.17,506.81 171.5,506.34 171.84,505.87 172.18,505.4 172.53,504.93 172.88,504.47 173.24,504.02 173.61,503.58 173.99,503.15 174.38,502.73 174.79,502.32 175.22,501.93 175.65,501.55 176.1,501.19 176.56,500.84 177.03,500.5 177.51,500.17 177.99,499.84 178.48,499.53 178.97,499.22 179.46,498.92 179.96,498.62 180.45,498.33 180.95,498.04 181.45,497.76 181.96,497.47 182.46,497.18 182.96,496.9 183.46,496.61 183.97,496.32 184.47,496.04 184.97,495.76 185.48,495.48 185.99,495.21 186.51,494.94 187.02,494.68 187.54,494.43 188.07,494.19 188.6,493.97 189.13,493.75 189.67,493.54 190.21,493.34 190.75,493.15 191.3,492.96 191.85,492.78 192.4,492.61 192.96,492.44 193.51,492.27 194.07,492.1 194.62,491.94 195.18,491.77 195.73,491.61 196.29,491.44 196.84,491.28 197.4,491.11 197.95,490.95 198.51,490.79 199.06,490.63 199.62,490.47 200.17,490.31 200.73,490.16 201.29,490.01 201.84,489.86 202.4,489.72 202.96,489.58 203.53,489.45 204.09,489.32 204.65,489.2 205.22,489.08 205.78,488.97 206.35,488.86 206.92,488.75 207.49,488.65 208.06,488.55 208.63,488.45 209.2,488.35 209.77,488.26 210.34,488.17 210.91,488.09 211.48,488 212.06,487.92 212.63,487.83 213.2,487.75 213.77,487.67 214.35,487.59 214.92,487.52 215.49,487.44 216.06,487.36 216.64,487.29 217.21,487.21 217.78,487.13 218.35,487.06 218.93,486.98 219.5,486.91 220.07,486.83 220.64,486.76 221.22,486.68 221.79,486.61 222.36,486.53 222.93,486.46 223.51,486.38 224.08,486.3 224.65,486.23 225.23,486.15 225.8,486.07 226.37,486 226.94,485.92 227.52,485.85 228.09,485.77 228.66,485.7 229.24,485.63 229.81,485.55 230.38,485.48 230.96,485.41 231.53,485.34 232.1,485.28 232.68,485.21 233.25,485.14 233.83,485.07 234.4,485.01 234.97,484.94 235.55,484.88 236.12,484.81 236.7,484.74 237.27,484.67 237.84,484.6 238.42,484.53 238.99,484.46 239.56,484.39 240.14,484.32 240.71,484.24 241.28,484.16 241.85,484.08 242.42,484 243,483.92 243.57,483.83 244.14,483.75 244.71,483.66 245.28,483.57 245.85,483.48 246.42,483.38 246.99,483.29 247.56,483.19 248.13,483.1 248.7,483 249.27,482.9 249.84,482.8 250.41,482.7 250.98,482.6 251.55,482.49 252.11,482.39 252.68,482.29 253.25,482.18 253.82,482.08 254.39,481.97 254.95,481.86 255.52,481.76 256.09,481.65 256.66,481.54 257.23,481.43 257.79,481.32 258.36,481.22 258.93,481.11 259.49,481 260.06,480.89 260.63,480.78 261.2,480.67 261.76,480.56 262.33,480.45 262.9,480.34 263.47,480.23 264.03,480.12 264.6,480.01 265.17,479.9 265.73,479.79 266.3,479.68 266.87,479.58 267.44,479.47 268,479.36 268.57,479.25 269.14,479.14 269.71,479.04 270.28,478.93 270.84,478.83 271.41,478.72 271.98,478.62 272.55,478.51 273.12,478.41 273.69,478.31 274.25,478.2 274.82,478.1 275.39,478 275.96,477.9 276.53,477.8 277.1,477.7 277.67,477.61 278.24,477.51 278.81,477.42 279.38,477.32 279.95,477.23 280.52,477.14 281.09,477.05 281.66,476.96 282.23,476.87 282.8,476.78 283.37,476.69 283.94,476.61 284.52,476.52 285.09,476.44 285.66,476.35 286.23,476.27 286.8,476.19 287.38,476.11 287.95,476.03 288.52,475.95 289.09,475.87 289.67,475.8 290.24,475.72 290.81,475.65 291.39,475.57 291.96,475.5 292.53,475.43 293.11,475.36 293.68,475.29 294.25,475.22 294.83,475.15 295.4,475.08 295.97,475.02 296.55,474.95 297.12,474.88 297.7,474.82 298.27,474.76 298.84,474.69 299.42,474.63 299.99,474.57 300.57,474.51 301.14,474.45 301.72,474.39 302.29,474.33 302.87,474.27 303.44,474.21 304.02,474.15 304.59,474.1 305.17,474.04 305.74,473.98 306.32,473.93 306.89,473.87 307.47,473.82 308.04,473.76 308.62,473.71 309.19,473.65 309.77,473.6 310.34,473.54 310.92,473.49 311.49,473.44 312.07,473.38 312.64,473.33 313.22,473.27" fill="none" stroke="#6b6b0e" stroke-width="2.7" stroke-linejoin="round" stroke-linecap="round" />
<polyline points="153.3,517 154.81,513.69 156.35,510.4 157.94,507.12 159.59,503.88 161.3,500.68 163.07,497.5 164.87,494.33 166.71,491.19 168.56,488.06 170.43,484.93 172.32,481.82 174.23,478.72 176.17,475.64 178.14,472.59 180.15,469.56 182.2,466.55 184.3,463.58 186.44,460.65 188.63,457.74 190.86,454.87 193.13,452.02 195.43,449.2 197.76,446.41 200.12,443.63 202.49,440.87 204.89,438.13 207.29,435.4 209.71,432.69 212.15,429.99 214.6,427.3 217.06,424.63 219.54,421.97 222.03,419.32 224.53,416.68 227.06,414.06 229.6,411.45 232.15,408.85 234.73,406.27 237.32,403.7 239.93,401.15 242.56,398.63 245.23,396.13 247.92,393.67 250.64,391.25 253.39,388.87 256.18,386.54 259.01,384.25 261.88,382.03 264.8,379.86 267.76,377.77 270.76,375.73 273.81,373.75 276.88,371.81 279.99,369.92 283.11,368.05 286.25,366.21 289.41,364.39 292.57,362.58 295.73,360.76 298.89,358.94 302.04,357.11 305.18,355.26 308.31,353.41 311.44,351.55 314.57,349.69 317.7,347.84 320.84,346.01 323.98,344.19 327.14,342.39 330.32,340.62 333.51,338.88 336.72,337.18 339.95,335.51 343.2,333.87 346.46,332.26 349.74,330.68 353.04,329.14 356.35,327.62 359.67,326.13 363.01,324.67 366.35,323.24 369.71,321.84 373.08,320.46 376.47,319.11 379.86,317.8 383.26,316.51 386.68,315.25 390.11,314.02 393.54,312.82 396.99,311.66 400.45,310.53 403.92,309.44 407.4,308.38 410.89,307.36 414.39,306.37 417.9,305.42 421.42,304.5 424.94,303.61 428.48,302.76 432.02,301.93 435.58,301.14 439.13,300.37 442.7,299.63 446.27,298.92 449.84,298.23 453.42,297.56 457.01,296.92 460.6,296.29 464.19,295.7 467.78,295.13 471.38,294.58 474.99,294.06 478.59,293.58 482.2,293.12 485.82,292.7 489.43,292.31 493.05,291.95 496.67,291.64 500.3,291.36 503.93,291.11 507.56,290.91 511.19,290.73 514.82,290.59 518.46,290.47 522.1,290.38 525.73,290.31 529.37,290.26 533.01,290.22 536.65,290.2 540.29,290.19 543.93,290.19 547.57,290.21 551.21,290.24 554.85,290.29 558.49,290.37 562.13,290.47 565.76,290.6 569.39,290.75 573.03,290.94 576.66,291.16 580.28,291.42 583.91,291.72 587.53,292.05 591.15,292.42 594.77,292.83 598.38,293.28 601.98,293.76 605.59,294.28 609.18,294.84 612.77,295.44 616.36,296.07 619.94,296.74 623.51,297.44 627.07,298.18 630.63,298.95 634.17,299.76 637.71,300.6 641.25,301.47 644.77,302.38 648.28,303.31 651.79,304.28 655.28,305.28 658.77,306.29 662.26,307.33 665.74,308.39 669.22,309.45 672.69,310.53 676.17,311.61 679.64,312.69 683.12,313.77 686.6,314.84 690.08,315.92 693.56,316.99 697.04,318.08 700.51,319.19 703.97,320.31 707.43,321.46 710.87,322.64 714.29,323.86 717.7,325.12 721.09,326.43 724.46,327.78 727.81,329.2 731.13,330.67 734.44,332.18 737.73,333.72 741.02,335.29 744.29,336.87 747.57,338.46 750.85,340.04 754.14,341.6 757.43,343.15 760.73,344.68 764.03,346.2 767.34,347.72 770.65,349.22 773.97,350.72 777.28,352.21 780.6,353.7" fill="none" stroke="#6e0a3c" stroke-width="2.9" stroke-linejoin="round" stroke-linecap="round" />
<polyline points="153.3,517 154.76,513.37 156.25,509.75 157.81,506.15 159.45,502.6 161.18,499.08 162.99,495.61 164.9,492.18 166.89,488.81 168.96,485.49 171.12,482.22 173.34,478.99 175.63,475.81 177.97,472.66 180.35,469.55 182.78,466.47 185.25,463.42 187.76,460.41 190.31,457.44 192.91,454.51 195.56,451.63 198.25,448.79 201,446 203.79,443.25 206.63,440.55 209.51,437.9 212.43,435.29 215.38,432.72 218.38,430.18 221.4,427.69 224.45,425.23 227.53,422.8 230.63,420.4 233.76,418.04 236.91,415.71 240.08,413.41 243.27,411.14 246.49,408.91 249.73,406.7 252.98,404.53 256.26,402.39 259.56,400.28 262.88,398.2 266.21,396.15 269.57,394.13 272.94,392.13 276.32,390.16 279.72,388.22 283.13,386.29 286.55,384.38 289.98,382.5 293.43,380.62 296.88,378.77 300.33,376.92 303.8,375.09 307.27,373.27 310.74,371.47 314.23,369.69 317.73,367.93 321.23,366.19 324.76,364.47 328.29,362.79 331.84,361.13 335.4,359.5 338.98,357.91 342.57,356.35 346.18,354.83 349.8,353.34 353.44,351.89 357.09,350.47 360.76,349.1 364.44,347.76 368.14,346.46 371.84,345.2 375.56,343.98 379.3,342.79 383.04,341.63 386.79,340.5 390.55,339.4 394.31,338.32 398.08,337.27 401.86,336.22 405.64,335.2 409.42,334.19 413.21,333.2 417,332.23 420.8,331.27 424.6,330.34 428.41,329.42 432.22,328.52 436.04,327.64 439.86,326.78 443.68,325.94 447.51,325.13 451.35,324.33 455.19,323.56 459.03,322.81 462.88,322.09 466.73,321.4 470.59,320.74 474.46,320.1 478.33,319.49 482.2,318.91 486.08,318.36 489.96,317.84 493.84,317.34 497.73,316.87 501.62,316.43 505.52,316.01 509.42,315.62 513.32,315.25 517.22,314.91 521.12,314.6 525.03,314.31 528.94,314.04 532.85,313.8 536.76,313.59 540.67,313.4 544.58,313.24 548.49,313.1 552.41,312.99 556.32,312.91 560.24,312.86 564.15,312.83 568.07,312.83 571.98,312.86 575.9,312.9 579.81,312.96 583.73,313.04 587.64,313.13 591.56,313.24 595.47,313.35 599.39,313.48 603.3,313.61 607.22,313.76 611.13,313.91 615.05,314.07 618.96,314.25 622.87,314.45 626.78,314.66 630.69,314.9 634.6,315.16 638.5,315.44 642.41,315.75 646.31,316.09 650.2,316.46 654.1,316.86 657.99,317.28 661.88,317.74 665.76,318.22 669.65,318.73 673.53,319.25 677.41,319.8 681.28,320.36 685.16,320.94 689.03,321.53 692.9,322.14 696.77,322.77 700.63,323.43 704.49,324.1 708.34,324.8 712.19,325.52 716.03,326.27 719.87,327.05 723.7,327.86 727.52,328.71 731.34,329.58 735.14,330.49 738.95,331.42 742.74,332.38 746.53,333.36 750.32,334.36 754.1,335.38 757.88,336.41 761.66,337.45 765.43,338.51 769.2,339.57 772.97,340.64 776.74,341.71 780.5,342.8 784.26,343.9 788.01,345.02 791.76,346.16 795.5,347.32 799.23,348.5 802.95,349.72 806.66,350.96 810.36,352.23 814.05,353.53 817.74,354.85 821.42,356.19 825.09,357.55 828.75,358.93 832.41,360.33 836.07,361.74 839.72,363.16 843.37,364.59 847.01,366.02 850.66,367.46 854.3,368.9" fill="none" stroke="#ff1482" stroke-width="2.9" stroke-linejoin="round" stroke-linecap="round" />
<line x1="112" y1="517.4" x2="124" y2="517.4" stroke="#000" stroke-width="2.3" />
<line x1="112" y1="400.97" x2="124" y2="400.97" stroke="#000" stroke-width="2.3" />
<line x1="112" y1="284.55" x2="124" y2="284.55" stroke="#000" stroke-width="2.3" />
<line x1="112" y1="168.12" x2="124" y2="168.12" stroke="#000" stroke-width="2.3" />
<line x1="112" y1="51.7" x2="124" y2="51.7" stroke="#000" stroke-width="2.3" />
<line x1="112" y1="478.59" x2="118.5" y2="478.59" stroke="#000" stroke-width="2.3" />
<line x1="112" y1="439.78" x2="118.5" y2="439.78" stroke="#000" stroke-width="2.3" />
<line x1="112" y1="362.17" x2="118.5" y2="362.17" stroke="#000" stroke-width="2.3" />
<line x1="112" y1="323.36" x2="118.5" y2="323.36" stroke="#000" stroke-width="2.3" />
<line x1="112" y1="245.74" x2="118.5" y2="245.74" stroke="#000" stroke-width="2.3" />
<line x1="112" y1="206.93" x2="118.5" y2="206.93" stroke="#000" stroke-width="2.3" />
<line x1="112" y1="129.32" x2="118.5" y2="129.32" stroke="#000" stroke-width="2.3" />
<line x1="112" y1="90.51" x2="118.5" y2="90.51" stroke="#000" stroke-width="2.3" />
<line x1="112" y1="12.89" x2="118.5" y2="12.89" stroke="#000" stroke-width="2.3" />
<line x1="153.3" y1="555.8" x2="153.3" y2="543.8" stroke="#000" stroke-width="2.3" />
<line x1="276" y1="555.8" x2="276" y2="543.8" stroke="#000" stroke-width="2.3" />
<line x1="398.7" y1="555.8" x2="398.7" y2="543.8" stroke="#000" stroke-width="2.3" />
<line x1="521.4" y1="555.8" x2="521.4" y2="543.8" stroke="#000" stroke-width="2.3" />
<line x1="644.1" y1="555.8" x2="644.1" y2="543.8" stroke="#000" stroke-width="2.3" />
<line x1="766.8" y1="555.8" x2="766.8" y2="543.8" stroke="#000" stroke-width="2.3" />
<line x1="194.2" y1="555.8" x2="194.2" y2="549.3" stroke="#000" stroke-width="2.3" />
<line x1="235.1" y1="555.8" x2="235.1" y2="549.3" stroke="#000" stroke-width="2.3" />
<line x1="316.9" y1="555.8" x2="316.9" y2="549.3" stroke="#000" stroke-width="2.3" />
<line x1="357.8" y1="555.8" x2="357.8" y2="549.3" stroke="#000" stroke-width="2.3" />
<line x1="439.6" y1="555.8" x2="439.6" y2="549.3" stroke="#000" stroke-width="2.3" />
<line x1="480.5" y1="555.8" x2="480.5" y2="549.3" stroke="#000" stroke-width="2.3" />
<line x1="562.3" y1="555.8" x2="562.3" y2="549.3" stroke="#000" stroke-width="2.3" />
<line x1="603.2" y1="555.8" x2="603.2" y2="549.3" stroke="#000" stroke-width="2.3" />
<line x1="685" y1="555.8" x2="685" y2="549.3" stroke="#000" stroke-width="2.3" />
<line x1="725.9" y1="555.8" x2="725.9" y2="549.3" stroke="#000" stroke-width="2.3" />
<line x1="807.7" y1="555.8" x2="807.7" y2="549.3" stroke="#000" stroke-width="2.3" />
<line x1="848.6" y1="555.8" x2="848.6" y2="549.3" stroke="#000" stroke-width="2.3" />
<rect x="112" y="3.6" width="757.2" height="552.2" fill="none" stroke="#000" stroke-width="2.4"/>
<text x="99.3" y="523.7" font-family='"Liberation Sans", sans-serif' font-size="24" font-weight="bold" text-anchor="end" fill="#000" >0</text>
<text x="99.3" y="407.27" font-family='"Liberation Sans", sans-serif' font-size="24" font-weight="bold" text-anchor="end" fill="#000" >300</text>
<text x="99.3" y="290.85" font-family='"Liberation Sans", sans-serif' font-size="24" font-weight="bold" text-anchor="end" fill="#000" >600</text>
<text x="99.3" y="174.43" font-family='"Liberation Sans", sans-serif' font-size="24" font-weight="bold" text-anchor="end" fill="#000" >900</text>
<text x="99.3" y="58" font-family='"Liberation Sans", sans-serif' font-size="24" font-weight="bold" text-anchor="end" fill="#000" >1200</text>
<text x="153.3" y="586.3" font-family='"Liberation Sans", sans-serif' font-size="24" font-weight="bold" text-anchor="middle" fill="#000" >0</text>
<text x="276" y="586.3" font-family='"Liberation Sans", sans-serif' font-size="24" font-weight="bold" text-anchor="middle" fill="#000" >300</text>
<text x="398.7" y="586.3" font-family='"Liberation Sans", sans-serif' font-size="24" font-weight="bold" text-anchor="middle" fill="#000" >600</text>
<text x="521.4" y="586.3" font-family='"Liberation Sans", sans-serif' font-size="24" font-weight="bold" text-anchor="middle" fill="#000" >900</text>
<text x="644.1" y="586.3" font-family='"Liberation Sans", sans-serif' font-size="24" font-weight="bold" text-anchor="middle" fill="#000" >1200</text>
<text x="766.8" y="586.3" font-family='"Liberation Sans", sans-serif' font-size="24" font-weight="bold" text-anchor="middle" fill="#000" >1500</text>
<text x="10.9" y="30" font-family='"Liberation Serif", serif' font-size="40.5" font-weight="bold" text-anchor="start" fill="#000" >(a)</text>
<text x="411" y="632.3" font-family='"Liberation Serif", serif' font-size="31.5" font-weight="bold" fill="#000">Z<tspan dy="11" font-size="20">r</tspan><tspan dy="-11"> (k</tspan><tspan font-weight="normal">Ω</tspan>·cm<tspan dy="-15" font-size="20">2</tspan><tspan dy="15">)</tspan></text>
<text transform="translate(36,372) rotate(-90)" font-family='"Liberation Serif", serif' font-size="31.5" font-weight="bold" fill="#000">-Z<tspan dy="12.5" font-size="20">im</tspan><tspan dy="-12.5"> (k</tspan><tspan font-weight="normal">Ω</tspan>·cm<tspan dy="-17" font-size="20">2</tspan><tspan dy="17">)</tspan></text>
<rect x="146.9" y="26.2" width="10.4" height="10.4" fill="#fff" stroke="#b00000" stroke-width="1.8"/>
<circle cx="152.1" cy="62.1" r="6" fill="#00ee00" stroke="#007a10" stroke-width="1.8"/>
<polygon points="152.1,86.94 159.3,99.54 144.9,99.54" fill="#7af0ff" stroke="#0a50e0" stroke-width="2" stroke-linejoin="miter"/>
<polygon points="152.1,116.6 159.5,124 152.1,131.4 144.7,124" fill="#ff8000" stroke="#6e0a3c" stroke-width="2"/>
<polygon points="152.1,148.1 158.16,151.6 158.16,158.6 152.1,162.1 146.04,158.6 146.04,151.6" fill="#ff82e6" stroke="#ff1482" stroke-width="2"/>
<rect x="146.8" y="180.7" width="10.6" height="10.6" fill="#fff" stroke="#5a0f96" stroke-width="1.8"/>
<rect x="146.8" y="180.7" width="10.6" height="5.57" fill="#5a0f96"/>
<circle cx="152.1" cy="216.7" r="5.8" fill="#fff" stroke="#6b6b0e" stroke-width="1.9"/>
<path d="M152.1,210.9 A5.8,5.8 0 0 1 152.1,222.5 Z" fill="#6b6b0e"/>
<text x="186.3" y="38.8" font-family='"Liberation Serif", serif' font-size="21.8" font-weight="bold" text-anchor="start" fill="#000" >As-received</text>
<text x="186.3" y="69.5" font-family='"Liberation Serif", serif' font-size="21.8" font-weight="bold" text-anchor="start" fill="#000" >500°C-2h</text>
<text x="186.3" y="100.4" font-family='"Liberation Serif", serif' font-size="21.8" font-weight="bold" text-anchor="start" fill="#000" >500°C-24h</text>
<text x="186.3" y="131.4" font-family='"Liberation Serif", serif' font-size="21.8" font-weight="bold" text-anchor="start" fill="#000" >650°C-2h</text>
<text x="186.3" y="162.5" font-family='"Liberation Serif", serif' font-size="21.8" font-weight="bold" text-anchor="start" fill="#000" >650°C-24h</text>
<text x="186.3" y="193.4" font-family='"Liberation Serif", serif' font-size="21.8" font-weight="bold" text-anchor="start" fill="#000" >800°C-2h</text>
<text x="186.3" y="224.1" font-family='"Liberation Serif", serif' font-size="21.8" font-weight="bold" text-anchor="start" fill="#000" >800°C-24h</text>
<text x="130.5" y="255.2" font-family='"Liberation Serif", serif' font-size="21.8" font-weight="bold" text-anchor="start" fill="#000" >Line fitting curves</text>
<text x="185.3" y="319.7" font-family='"Liberation Sans", "DejaVu Sans", sans-serif' font-size="22.3" font-weight="bold" fill="#000" textLength="78.3" lengthAdjust="spacingAndGlyphs">0.41 Hz</text>
<line x1="271" y1="324.7" x2="317.71" y2="343.02" stroke="#ff1482" stroke-width="2.3" stroke-linecap="round"/>
<polygon points="328.1,347.1 311.88,346 317.71,343.02 315.46,336.88" fill="#ff1482"/>
<line x1="242.6" y1="334.8" x2="232.22" y2="376.08" stroke="#6e0a3c" stroke-width="2.3" stroke-linecap="round"/>
<polygon points="229.5,386.9 228.53,370.67 232.22,376.08 238.03,373.06" fill="#6e0a3c"/>
<line x1="202.5" y1="346.8" x2="188.01" y2="445.96" stroke="#1414ff" stroke-width="2.3" stroke-linecap="round"/>
<polygon points="186.4,457 183.79,440.95 188.01,445.96 193.49,442.37" fill="#1414ff"/>
<text x="584.6" y="416.6" font-family='"Liberation Sans", "DejaVu Sans", sans-serif' font-size="23.3" font-weight="bold" fill="#000" textLength="82.3" lengthAdjust="spacingAndGlyphs">0.01 Hz</text>
<line x1="572.6" y1="405.4" x2="498.56" y2="387.96" stroke="#1414ff" stroke-width="2.3" stroke-linecap="round"/>
<polygon points="487.7,385.4 503.91,384.18 498.56,387.96 501.66,393.72" fill="#1414ff"/>
<line x1="686.3" y1="389.1" x2="720.43" y2="337.6" stroke="#6e0a3c" stroke-width="2.3" stroke-linecap="round"/>
<polygon points="726.6,328.3 722.12,343.93 720.43,337.6 713.95,338.51" fill="#6e0a3c"/>
<line x1="716.3" y1="400.6" x2="794.14" y2="353.75" stroke="#ff1482" stroke-width="2.3" stroke-linecap="round"/>
<polygon points="803.7,348 792.95,360.19 794.14,353.75 787.89,351.79" fill="#ff1482"/>
<text x="244.4" y="535.3" font-family='"Liberation Sans", "DejaVu Sans", sans-serif' font-size="22" font-weight="bold" fill="#000" textLength="76.5" lengthAdjust="spacingAndGlyphs">25.3 Hz</text>
<line x1="235.3" y1="531.2" x2="169.28" y2="507.12" stroke="#ff1482" stroke-width="2.4" stroke-linecap="round"/>
<polygon points="158.8,503.3 175.04,504.01 169.28,507.12 171.68,513.21" fill="#ff1482"/>
<rect x="562.5" y="3.6" width="306.5" height="220.2" fill="url(#bgAi)"/>
<line x1="562.5" y1="200.4" x2="869" y2="200.4" stroke="#d4d4d4" stroke-width="1.2" />
<line x1="562.5" y1="126.85" x2="869" y2="126.85" stroke="#d4d4d4" stroke-width="1.2" />
<line x1="562.5" y1="53.3" x2="869" y2="53.3" stroke="#d4d4d4" stroke-width="1.2" />
<line x1="574" y1="3.6" x2="574" y2="223.8" stroke="#d4d4d4" stroke-width="1.2" />
<line x1="644.23" y1="3.6" x2="644.23" y2="223.8" stroke="#d4d4d4" stroke-width="1.2" />
<line x1="714.45" y1="3.6" x2="714.45" y2="223.8" stroke="#d4d4d4" stroke-width="1.2" />
<line x1="784.67" y1="3.6" x2="784.67" y2="223.8" stroke="#d4d4d4" stroke-width="1.2" />
<line x1="854.9" y1="3.6" x2="854.9" y2="223.8" stroke="#d4d4d4" stroke-width="1.2" />
<rect x="797.73" y="27.33" width="7.2" height="7.2" fill="none" stroke="#b00000" stroke-width="1.5"/>
<rect x="752.47" y="58.76" width="7.2" height="7.2" fill="none" stroke="#b00000" stroke-width="1.5"/>
<rect x="724.81" y="90.69" width="7.2" height="7.2" fill="none" stroke="#b00000" stroke-width="1.5"/>
<rect x="708.72" y="115.08" width="7.2" height="7.2" fill="none" stroke="#b00000" stroke-width="1.5"/>
<rect x="699.92" y="133.94" width="7.2" height="7.2" fill="none" stroke="#b00000" stroke-width="1.5"/>
<rect x="694.13" y="146.76" width="7.2" height="7.2" fill="none" stroke="#b00000" stroke-width="1.5"/>
<rect x="689.61" y="154.31" width="7.2" height="7.2" fill="none" stroke="#b00000" stroke-width="1.5"/>
<rect x="684.07" y="156.07" width="7.2" height="7.2" fill="none" stroke="#b00000" stroke-width="1.5"/>
<rect x="677.29" y="154.81" width="7.2" height="7.2" fill="none" stroke="#b00000" stroke-width="1.5"/>
<rect x="669.74" y="150.54" width="7.2" height="7.2" fill="none" stroke="#b00000" stroke-width="1.5"/>
<rect x="657.17" y="146.01" width="7.2" height="7.2" fill="none" stroke="#b00000" stroke-width="1.5"/>
<rect x="642.59" y="143.5" width="7.2" height="7.2" fill="none" stroke="#b00000" stroke-width="1.5"/>
<rect x="627" y="145.26" width="7.2" height="7.2" fill="none" stroke="#b00000" stroke-width="1.5"/>
<rect x="612.91" y="152.3" width="7.2" height="7.2" fill="none" stroke="#b00000" stroke-width="1.5"/>
<rect x="601.6" y="161.6" width="7.2" height="7.2" fill="none" stroke="#b00000" stroke-width="1.5"/>
<rect x="594.81" y="169.9" width="7.2" height="7.2" fill="none" stroke="#b00000" stroke-width="1.5"/>
<rect x="590.28" y="176.69" width="7.2" height="7.2" fill="none" stroke="#b00000" stroke-width="1.5"/>
<rect x="587.27" y="182.97" width="7.2" height="7.2" fill="none" stroke="#b00000" stroke-width="1.5"/>
<rect x="585.26" y="188" width="7.2" height="7.2" fill="none" stroke="#b00000" stroke-width="1.5"/>
<rect x="584" y="192.02" width="7.2" height="7.2" fill="none" stroke="#b00000" stroke-width="1.5"/>
<rect x="582.99" y="195.04" width="7.2" height="7.2" fill="none" stroke="#b00000" stroke-width="1.5"/>
<rect x="582.24" y="197.05" width="7.2" height="7.2" fill="none" stroke="#b00000" stroke-width="1.5"/>
<rect x="581.74" y="198.31" width="7.2" height="7.2" fill="none" stroke="#b00000" stroke-width="1.5"/>
<polyline points="585.34,201.91 585.97,200.31 586.57,198.71 587.12,197.08 587.64,195.45 588.15,193.81 588.67,192.17 589.22,190.55 589.82,188.94 590.46,187.34 591.14,185.76 591.86,184.2 592.62,182.66 593.42,181.14 594.25,179.64 595.13,178.15 596.04,176.69 596.98,175.26 597.96,173.84 598.98,172.45 600.03,171.09 601.11,169.75 602.22,168.43 603.36,167.14 604.54,165.89 605.74,164.66 606.97,163.46 608.23,162.29 609.52,161.15 610.84,160.04 612.18,158.97 613.55,157.94 614.95,156.94 616.38,155.98 617.84,155.06 619.32,154.18 620.83,153.35 622.36,152.56 623.92,151.82 625.5,151.14 627.1,150.51 628.72,149.93 630.37,149.42 632.03,148.98 633.71,148.59 635.4,148.27 637.11,148.01 638.82,147.81 640.54,147.67 642.26,147.58 643.98,147.56 645.7,147.58 647.42,147.66 649.13,147.79 650.84,147.97 652.54,148.2 654.24,148.47 655.93,148.77 657.61,149.12 659.29,149.5 660.97,149.91 662.64,150.36 664.3,150.83 665.95,151.34 667.59,151.88 669.21,152.45 670.81,153.06 672.38,153.71 673.93,154.4 675.46,155.13 676.98,155.87 678.51,156.61 680.07,157.32 681.67,158.01 683.32,158.64 685.04,159.18 686.79,159.56 688.51,159.67 690.15,159.43 691.66,158.76 693.05,157.73 694.31,156.47 695.46,155.08 696.5,153.64 697.43,152.16 698.28,150.65 699.05,149.12 699.76,147.56 700.42,145.98 701.04,144.38 701.63,142.78 702.21,141.17 702.78,139.55 703.37,137.94 703.97,136.34 704.6,134.74 705.25,133.16 705.92,131.58 706.61,130.01 707.32,128.44 708.06,126.89 708.81,125.34 709.58,123.81 710.37,122.28 711.18,120.76 712,119.25 712.84,117.75 713.69,116.26 714.56,114.78 715.44,113.3 716.34,111.84 717.25,110.38 718.17,108.94 719.1,107.5 720.05,106.06 721.01,104.64 721.98,103.22 722.95,101.81 723.94,100.4 724.94,99.01 725.95,97.62 726.97,96.23 727.99,94.85 729.02,93.48 730.06,92.11 731.11,90.75 732.17,89.39 733.23,88.04 734.3,86.69 735.38,85.36 736.47,84.03 737.57,82.7 738.67,81.39 739.78,80.08 740.91,78.77 742.04,77.48 743.18,76.2 744.32,74.92 745.48,73.65 746.65,72.39 747.82,71.13 749.01,69.89 750.2,68.66 751.4,67.43 752.62,66.22 753.84,65.01 755.07,63.81 756.31,62.63 757.56,61.45 758.83,60.29 760.1,59.13 761.38,57.99 762.67,56.86 763.97,55.74 765.28,54.63 766.6,53.53 767.94,52.45 769.28,51.37 770.63,50.32 771.99,49.27 773.36,48.23 774.75,47.21 776.14,46.21 777.54,45.21 778.95,44.23 780.38,43.27 781.81,42.32 783.25,41.38 784.71,40.46 786.17,39.56 787.64,38.67 789.12,37.8 790.61,36.94 792.11,36.1 793.62,35.28 795.14,34.48 796.67,33.69 798.2,32.92 799.74,32.18 801.3,31.45 802.86,30.73 804.42,30.04 806,29.37 807.58,28.71 809.17,28.06 810.77,27.44 812.37,26.82 813.97,26.22 815.58,25.63 817.2,25.05 818.82,24.48 820.44,23.91 822.07,23.36 823.7,22.81 825.33,22.27 826.96,21.73 828.6,21.2 830.24,20.67 831.87,20.14 833.51,19.61" fill="none" stroke="#b00000" stroke-width="1.9" stroke-linejoin="round" stroke-linecap="round" />
<line x1="562.5" y1="200.4" x2="568.1" y2="200.4" stroke="#000" stroke-width="2" />
<line x1="562.5" y1="126.85" x2="568.1" y2="126.85" stroke="#000" stroke-width="2" />
<line x1="562.5" y1="53.3" x2="568.1" y2="53.3" stroke="#000" stroke-width="2" />
<line x1="562.5" y1="175.88" x2="565.8" y2="175.88" stroke="#000" stroke-width="2" />
<line x1="562.5" y1="151.37" x2="565.8" y2="151.37" stroke="#000" stroke-width="2" />
<line x1="562.5" y1="102.33" x2="565.8" y2="102.33" stroke="#000" stroke-width="2" />
<line x1="562.5" y1="77.82" x2="565.8" y2="77.82" stroke="#000" stroke-width="2" />
<line x1="562.5" y1="28.78" x2="565.8" y2="28.78" stroke="#000" stroke-width="2" />
<line x1="574" y1="223.8" x2="574" y2="218.2" stroke="#000" stroke-width="2" />
<line x1="644.23" y1="223.8" x2="644.23" y2="218.2" stroke="#000" stroke-width="2" />
<line x1="714.45" y1="223.8" x2="714.45" y2="218.2" stroke="#000" stroke-width="2" />
<line x1="784.67" y1="223.8" x2="784.67" y2="218.2" stroke="#000" stroke-width="2" />
<line x1="854.9" y1="223.8" x2="854.9" y2="218.2" stroke="#000" stroke-width="2" />
<line x1="597.41" y1="223.8" x2="597.41" y2="220.5" stroke="#000" stroke-width="2" />
<line x1="620.82" y1="223.8" x2="620.82" y2="220.5" stroke="#000" stroke-width="2" />
<line x1="667.63" y1="223.8" x2="667.63" y2="220.5" stroke="#000" stroke-width="2" />
<line x1="691.04" y1="223.8" x2="691.04" y2="220.5" stroke="#000" stroke-width="2" />
<line x1="737.86" y1="223.8" x2="737.86" y2="220.5" stroke="#000" stroke-width="2" />
<line x1="761.27" y1="223.8" x2="761.27" y2="220.5" stroke="#000" stroke-width="2" />
<line x1="808.08" y1="223.8" x2="808.08" y2="220.5" stroke="#000" stroke-width="2" />
<line x1="831.49" y1="223.8" x2="831.49" y2="220.5" stroke="#000" stroke-width="2" />
<line x1="563" y1="3.6" x2="563" y2="223.8" stroke="#000" stroke-width="2.4" />
<line x1="561.8" y1="223.8" x2="869" y2="223.8" stroke="#000" stroke-width="2.4" />
<text x="557.6" y="205" font-family='"Liberation Sans", sans-serif' font-size="16" font-weight="bold" text-anchor="end" fill="#000" >0.0</text>
<text x="557.6" y="131.45" font-family='"Liberation Sans", sans-serif' font-size="16" font-weight="bold" text-anchor="end" fill="#000" >0.3</text>
<text x="557.6" y="57.9" font-family='"Liberation Sans", sans-serif' font-size="16" font-weight="bold" text-anchor="end" fill="#000" >0.6</text>
<text x="574" y="243.6" font-family='"Liberation Sans", sans-serif' font-size="16" font-weight="bold" text-anchor="middle" fill="#000" >0.0</text>
<text x="644.23" y="243.6" font-family='"Liberation Sans", sans-serif' font-size="16" font-weight="bold" text-anchor="middle" fill="#000" >0.3</text>
<text x="714.45" y="243.6" font-family='"Liberation Sans", sans-serif' font-size="16" font-weight="bold" text-anchor="middle" fill="#000" >0.6</text>
<text x="784.67" y="243.6" font-family='"Liberation Sans", sans-serif' font-size="16" font-weight="bold" text-anchor="middle" fill="#000" >0.9</text>
<text x="854.9" y="243.6" font-family='"Liberation Sans", sans-serif' font-size="16" font-weight="bold" text-anchor="middle" fill="#000" >1.2</text>
<text x="577.5" y="30.7" font-family='"Liberation Serif", serif' font-size="20.2" font-weight="bold" text-anchor="start" fill="#000" >As-received</text>
<text x="619" y="98" font-family='"Liberation Sans", "DejaVu Sans", sans-serif' font-size="24" font-weight="bold" fill="#b00000" textLength="67.4" lengthAdjust="spacingAndGlyphs">1.0 Hz</text>
<line x1="645.7" y1="104.3" x2="635.34" y2="130.24" stroke="#b00000" stroke-width="2.2" stroke-linecap="round"/>
<polygon points="631.6,139.6 632.61,124.93 635.34,130.24 640.97,128.27" fill="#b00000"/>
<text x="766" y="110.6" font-family='"Liberation Sans", "DejaVu Sans", sans-serif' font-size="24" font-weight="bold" fill="#b00000" textLength="95" lengthAdjust="spacingAndGlyphs">0.012 Hz</text>
<line x1="820.9" y1="78.5" x2="812.15" y2="44.95" stroke="#b00000" stroke-width="2.2" stroke-linecap="round"/>
<polygon points="809.6,35.2 817.49,47.61 812.15,44.95 808.78,49.88" fill="#b00000"/>
<text x="730.4" y="213.7" font-family='"Liberation Sans", "DejaVu Sans", sans-serif' font-size="24" font-weight="bold" fill="#b00000" textLength="81.6" lengthAdjust="spacingAndGlyphs">0.18 Hz</text>
<line x1="736.7" y1="186.6" x2="711.97" y2="170.66" stroke="#b00000" stroke-width="2.2" stroke-linecap="round"/>
<polygon points="703.5,165.2 717.71,169 711.97,170.66 712.83,176.57" fill="#b00000"/>
<rect x="112" y="3.6" width="757.2" height="552.2" fill="none" stroke="#000" stroke-width="2.4"/>
<rect x="997.2" y="8" width="749.8" height="547.8" fill="url(#bgB)"/>
<line x1="997.2" y1="549.4" x2="1747" y2="549.4" stroke="#e4e4e4" stroke-width="1.1" stroke-dasharray="1.6 3.2"/>
<line x1="997.2" y1="500.2" x2="1747" y2="500.2" stroke="#e4e4e4" stroke-width="1.1" stroke-dasharray="1.6 3.2"/>
<line x1="997.2" y1="475.6" x2="1747" y2="475.6" stroke="#e4e4e4" stroke-width="1.1" stroke-dasharray="1.6 3.2"/>
<line x1="997.2" y1="451" x2="1747" y2="451" stroke="#e4e4e4" stroke-width="1.1" stroke-dasharray="1.6 3.2"/>
<line x1="997.2" y1="426.4" x2="1747" y2="426.4" stroke="#e4e4e4" stroke-width="1.1" stroke-dasharray="1.6 3.2"/>
<line x1="997.2" y1="377.2" x2="1747" y2="377.2" stroke="#e4e4e4" stroke-width="1.1" stroke-dasharray="1.6 3.2"/>
<line x1="997.2" y1="352.6" x2="1747" y2="352.6" stroke="#e4e4e4" stroke-width="1.1" stroke-dasharray="1.6 3.2"/>
<line x1="997.2" y1="328" x2="1747" y2="328" stroke="#e4e4e4" stroke-width="1.1" stroke-dasharray="1.6 3.2"/>
<line x1="997.2" y1="303.4" x2="1747" y2="303.4" stroke="#e4e4e4" stroke-width="1.1" stroke-dasharray="1.6 3.2"/>
<line x1="997.2" y1="254.2" x2="1747" y2="254.2" stroke="#e4e4e4" stroke-width="1.1" stroke-dasharray="1.6 3.2"/>
<line x1="997.2" y1="229.6" x2="1747" y2="229.6" stroke="#e4e4e4" stroke-width="1.1" stroke-dasharray="1.6 3.2"/>
<line x1="997.2" y1="205" x2="1747" y2="205" stroke="#e4e4e4" stroke-width="1.1" stroke-dasharray="1.6 3.2"/>
<line x1="997.2" y1="180.4" x2="1747" y2="180.4" stroke="#e4e4e4" stroke-width="1.1" stroke-dasharray="1.6 3.2"/>
<line x1="997.2" y1="131.2" x2="1747" y2="131.2" stroke="#e4e4e4" stroke-width="1.1" stroke-dasharray="1.6 3.2"/>
<line x1="997.2" y1="106.6" x2="1747" y2="106.6" stroke="#e4e4e4" stroke-width="1.1" stroke-dasharray="1.6 3.2"/>
<line x1="997.2" y1="82" x2="1747" y2="82" stroke="#e4e4e4" stroke-width="1.1" stroke-dasharray="1.6 3.2"/>
<line x1="997.2" y1="57.4" x2="1747" y2="57.4" stroke="#e4e4e4" stroke-width="1.1" stroke-dasharray="1.6 3.2"/>
<line x1="997.2" y1="8.2" x2="1747" y2="8.2" stroke="#e4e4e4" stroke-width="1.1" stroke-dasharray="1.6 3.2"/>
<line x1="997.2" y1="524.8" x2="1747" y2="524.8" stroke="#cfcfcf" stroke-width="1.3" />
<line x1="997.2" y1="401.8" x2="1747" y2="401.8" stroke="#cfcfcf" stroke-width="1.3" />
<line x1="997.2" y1="278.8" x2="1747" y2="278.8" stroke="#cfcfcf" stroke-width="1.3" />
<line x1="997.2" y1="155.8" x2="1747" y2="155.8" stroke="#cfcfcf" stroke-width="1.3" />
<line x1="997.2" y1="32.8" x2="1747" y2="32.8" stroke="#cfcfcf" stroke-width="1.3" />
<line x1="1035.5" y1="8" x2="1035.5" y2="555.8" stroke="#cfcfcf" stroke-width="1.3" />
<line x1="1164.92" y1="8" x2="1164.92" y2="555.8" stroke="#cfcfcf" stroke-width="1.3" />
<line x1="1294.34" y1="8" x2="1294.34" y2="555.8" stroke="#cfcfcf" stroke-width="1.3" />
<line x1="1423.76" y1="8" x2="1423.76" y2="555.8" stroke="#cfcfcf" stroke-width="1.3" />
<line x1="1553.18" y1="8" x2="1553.18" y2="555.8" stroke="#cfcfcf" stroke-width="1.3" />
<line x1="1682.6" y1="8" x2="1682.6" y2="555.8" stroke="#cfcfcf" stroke-width="1.3" />
<rect x="1066.4" y="488.6" width="52.6" height="38" fill="#d4eef9" stroke="#ff0000" stroke-width="2.4" stroke-dasharray="0.1 6.4" stroke-linecap="round"/>
<circle cx="1263.02" cy="373.51" r="6" fill="#00ee00" stroke="#007a10" stroke-width="1.9"/>
<circle cx="1192.36" cy="376.95" r="6" fill="#00ee00" stroke="#007a10" stroke-width="1.9"/>
<circle cx="1131.53" cy="403.4" r="6" fill="#00ee00" stroke="#007a10" stroke-width="1.9"/>
<circle cx="1092.44" cy="434.39" r="6" fill="#00ee00" stroke="#007a10" stroke-width="1.9"/>
<circle cx="1068.63" cy="462.07" r="6" fill="#00ee00" stroke="#007a10" stroke-width="1.9"/>
<circle cx="1056.08" cy="481.63" r="6" fill="#00ee00" stroke="#007a10" stroke-width="1.9"/>
<circle cx="1048.05" cy="494.66" r="6" fill="#00ee00" stroke="#007a10" stroke-width="1.9"/>
<circle cx="1042.75" cy="504.5" r="6" fill="#00ee00" stroke="#007a10" stroke-width="1.9"/>
<circle cx="1039.64" cy="511.52" r="6" fill="#00ee00" stroke="#007a10" stroke-width="1.9"/>
<circle cx="1037.83" cy="516.44" r="6" fill="#00ee00" stroke="#007a10" stroke-width="1.9"/>
<circle cx="1036.79" cy="519.63" r="6" fill="#00ee00" stroke="#007a10" stroke-width="1.9"/>
<circle cx="1036.28" cy="521.72" r="6" fill="#00ee00" stroke="#007a10" stroke-width="1.9"/>
<circle cx="1035.89" cy="523.32" r="6" fill="#00ee00" stroke="#007a10" stroke-width="1.9"/>
<circle cx="1035.69" cy="524.31" r="6" fill="#00ee00" stroke="#007a10" stroke-width="1.9"/>
<rect x="1030.16" y="519.1" width="10.8" height="10.8" fill="#fff" stroke="#5a0f96" stroke-width="1.8"/>
<rect x="1030.16" y="519.1" width="10.8" height="5.67" fill="#5a0f96"/>
<rect x="1030.23" y="518.81" width="10.8" height="10.8" fill="#fff" stroke="#5a0f96" stroke-width="1.8"/>
<rect x="1030.23" y="518.81" width="10.8" height="5.67" fill="#5a0f96"/>
<rect x="1030.36" y="518.23" width="10.8" height="10.8" fill="#fff" stroke="#5a0f96" stroke-width="1.8"/>
<rect x="1030.36" y="518.23" width="10.8" height="5.67" fill="#5a0f96"/>
<rect x="1030.55" y="517.42" width="10.8" height="10.8" fill="#fff" stroke="#5a0f96" stroke-width="1.8"/>
<rect x="1030.55" y="517.42" width="10.8" height="5.67" fill="#5a0f96"/>
<rect x="1030.81" y="516.47" width="10.8" height="10.8" fill="#fff" stroke="#5a0f96" stroke-width="1.8"/>
<rect x="1030.81" y="516.47" width="10.8" height="5.67" fill="#5a0f96"/>
<rect x="1031.14" y="515.43" width="10.8" height="10.8" fill="#fff" stroke="#5a0f96" stroke-width="1.8"/>
<rect x="1031.14" y="515.43" width="10.8" height="5.67" fill="#5a0f96"/>
<rect x="1031.52" y="514.31" width="10.8" height="10.8" fill="#fff" stroke="#5a0f96" stroke-width="1.8"/>
<rect x="1031.52" y="514.31" width="10.8" height="5.67" fill="#5a0f96"/>
<rect x="1032.04" y="513" width="10.8" height="10.8" fill="#fff" stroke="#5a0f96" stroke-width="1.8"/>
<rect x="1032.04" y="513" width="10.8" height="5.67" fill="#5a0f96"/>
<rect x="1032.69" y="511.58" width="10.8" height="10.8" fill="#fff" stroke="#5a0f96" stroke-width="1.8"/>
<rect x="1032.69" y="511.58" width="10.8" height="5.67" fill="#5a0f96"/>
<rect x="1033.46" y="510.08" width="10.8" height="10.8" fill="#fff" stroke="#5a0f96" stroke-width="1.8"/>
<rect x="1033.46" y="510.08" width="10.8" height="5.67" fill="#5a0f96"/>
<rect x="1034.37" y="508.56" width="10.8" height="10.8" fill="#fff" stroke="#5a0f96" stroke-width="1.8"/>
<rect x="1034.37" y="508.56" width="10.8" height="5.67" fill="#5a0f96"/>
<rect x="1035.54" y="506.84" width="10.8" height="10.8" fill="#fff" stroke="#5a0f96" stroke-width="1.8"/>
<rect x="1035.54" y="506.84" width="10.8" height="5.67" fill="#5a0f96"/>
<rect x="1036.83" y="505.19" width="10.8" height="10.8" fill="#fff" stroke="#5a0f96" stroke-width="1.8"/>
<rect x="1036.83" y="505.19" width="10.8" height="5.67" fill="#5a0f96"/>
<rect x="1038.28" y="503.34" width="10.8" height="10.8" fill="#fff" stroke="#5a0f96" stroke-width="1.8"/>
<rect x="1038.28" y="503.34" width="10.8" height="5.67" fill="#5a0f96"/>
<rect x="1041.07" y="500.7" width="10.8" height="10.8" fill="#fff" stroke="#5a0f96" stroke-width="1.8"/>
<rect x="1041.07" y="500.7" width="10.8" height="5.67" fill="#5a0f96"/>
<rect x="1045.09" y="498.29" width="10.8" height="10.8" fill="#fff" stroke="#5a0f96" stroke-width="1.8"/>
<rect x="1045.09" y="498.29" width="10.8" height="5.67" fill="#5a0f96"/>
<rect x="1049.11" y="496.29" width="10.8" height="10.8" fill="#fff" stroke="#5a0f96" stroke-width="1.8"/>
<rect x="1049.11" y="496.29" width="10.8" height="5.67" fill="#5a0f96"/>
<rect x="1053.94" y="494.24" width="10.8" height="10.8" fill="#fff" stroke="#5a0f96" stroke-width="1.8"/>
<rect x="1053.94" y="494.24" width="10.8" height="5.67" fill="#5a0f96"/>
<rect x="1060.56" y="494.18" width="10.8" height="10.8" fill="#fff" stroke="#5a0f96" stroke-width="1.8"/>
<rect x="1060.56" y="494.18" width="10.8" height="5.67" fill="#5a0f96"/>
<rect x="1065.01" y="494.18" width="10.8" height="10.8" fill="#fff" stroke="#5a0f96" stroke-width="1.8"/>
<rect x="1065.01" y="494.18" width="10.8" height="5.67" fill="#5a0f96"/>
<rect x="1068.41" y="494.94" width="10.8" height="10.8" fill="#fff" stroke="#5a0f96" stroke-width="1.8"/>
<rect x="1068.41" y="494.94" width="10.8" height="5.67" fill="#5a0f96"/>
<rect x="1075.09" y="496.41" width="10.8" height="10.8" fill="#fff" stroke="#5a0f96" stroke-width="1.8"/>
<rect x="1075.09" y="496.41" width="10.8" height="5.67" fill="#5a0f96"/>
<rect x="1077.88" y="498.47" width="10.8" height="10.8" fill="#fff" stroke="#5a0f96" stroke-width="1.8"/>
<rect x="1077.88" y="498.47" width="10.8" height="5.67" fill="#5a0f96"/>
<rect x="1080.04" y="501.11" width="10.8" height="10.8" fill="#fff" stroke="#5a0f96" stroke-width="1.8"/>
<rect x="1080.04" y="501.11" width="10.8" height="5.67" fill="#5a0f96"/>
<rect x="1081.28" y="502.75" width="10.8" height="10.8" fill="#fff" stroke="#5a0f96" stroke-width="1.8"/>
<rect x="1081.28" y="502.75" width="10.8" height="5.67" fill="#5a0f96"/>
<rect x="1084.56" y="504.45" width="10.8" height="10.8" fill="#fff" stroke="#5a0f96" stroke-width="1.8"/>
<rect x="1084.56" y="504.45" width="10.8" height="5.67" fill="#5a0f96"/>
<rect x="1086.23" y="504.45" width="10.8" height="10.8" fill="#fff" stroke="#5a0f96" stroke-width="1.8"/>
<rect x="1086.23" y="504.45" width="10.8" height="5.67" fill="#5a0f96"/>
<rect x="1087.78" y="504.63" width="10.8" height="10.8" fill="#fff" stroke="#5a0f96" stroke-width="1.8"/>
<rect x="1087.78" y="504.63" width="10.8" height="5.67" fill="#5a0f96"/>
<rect x="1089.94" y="503.34" width="10.8" height="10.8" fill="#fff" stroke="#5a0f96" stroke-width="1.8"/>
<rect x="1089.94" y="503.34" width="10.8" height="5.67" fill="#5a0f96"/>
<rect x="1091.92" y="502.28" width="10.8" height="10.8" fill="#fff" stroke="#5a0f96" stroke-width="1.8"/>
<rect x="1091.92" y="502.28" width="10.8" height="5.67" fill="#5a0f96"/>
<rect x="1094.4" y="499.93" width="10.8" height="10.8" fill="#fff" stroke="#5a0f96" stroke-width="1.8"/>
<rect x="1094.4" y="499.93" width="10.8" height="5.67" fill="#5a0f96"/>
<rect x="1097.55" y="496.29" width="10.8" height="10.8" fill="#fff" stroke="#5a0f96" stroke-width="1.8"/>
<rect x="1097.55" y="496.29" width="10.8" height="5.67" fill="#5a0f96"/>
<rect x="1101.88" y="491.31" width="10.8" height="10.8" fill="#fff" stroke="#5a0f96" stroke-width="1.8"/>
<rect x="1101.88" y="491.31" width="10.8" height="5.67" fill="#5a0f96"/>
<rect x="1107.76" y="484.97" width="10.8" height="10.8" fill="#fff" stroke="#5a0f96" stroke-width="1.8"/>
<rect x="1107.76" y="484.97" width="10.8" height="5.67" fill="#5a0f96"/>
<rect x="1117.33" y="477.21" width="10.8" height="10.8" fill="#fff" stroke="#5a0f96" stroke-width="1.8"/>
<rect x="1117.33" y="477.21" width="10.8" height="5.67" fill="#5a0f96"/>
<rect x="1127.29" y="468.48" width="10.8" height="10.8" fill="#fff" stroke="#5a0f96" stroke-width="1.8"/>
<rect x="1127.29" y="468.48" width="10.8" height="5.67" fill="#5a0f96"/>
<rect x="1141.92" y="454.58" width="10.8" height="10.8" fill="#fff" stroke="#5a0f96" stroke-width="1.8"/>
<rect x="1141.92" y="454.58" width="10.8" height="5.67" fill="#5a0f96"/>
<rect x="1158.74" y="434.53" width="10.8" height="10.8" fill="#fff" stroke="#5a0f96" stroke-width="1.8"/>
<rect x="1158.74" y="434.53" width="10.8" height="5.67" fill="#5a0f96"/>
<rect x="1180.87" y="411.53" width="10.8" height="10.8" fill="#fff" stroke="#5a0f96" stroke-width="1.8"/>
<rect x="1180.87" y="411.53" width="10.8" height="5.67" fill="#5a0f96"/>
<rect x="1215.43" y="375.49" width="10.8" height="10.8" fill="#fff" stroke="#5a0f96" stroke-width="1.8"/>
<rect x="1215.43" y="375.49" width="10.8" height="5.67" fill="#5a0f96"/>
<rect x="1269.01" y="326.41" width="10.8" height="10.8" fill="#fff" stroke="#5a0f96" stroke-width="1.8"/>
<rect x="1269.01" y="326.41" width="10.8" height="5.67" fill="#5a0f96"/>
<rect x="1354.81" y="266.76" width="10.8" height="10.8" fill="#fff" stroke="#5a0f96" stroke-width="1.8"/>
<rect x="1354.81" y="266.76" width="10.8" height="5.67" fill="#5a0f96"/>
<rect x="1484.62" y="211.04" width="10.8" height="10.8" fill="#fff" stroke="#5a0f96" stroke-width="1.8"/>
<rect x="1484.62" y="211.04" width="10.8" height="5.67" fill="#5a0f96"/>
<rect x="1647.95" y="183.98" width="10.8" height="10.8" fill="#fff" stroke="#5a0f96" stroke-width="1.8"/>
<rect x="1647.95" y="183.98" width="10.8" height="5.67" fill="#5a0f96"/>
<circle cx="1035.56" cy="524.6" r="5.6" fill="#fff" stroke="#6b6b0e" stroke-width="1.9"/>
<path d="M1029.96,524.6 A5.6,5.6 0 0 1 1041.16,524.6 Z" fill="#6b6b0e"/>
<circle cx="1035.63" cy="524.4" r="5.6" fill="#fff" stroke="#6b6b0e" stroke-width="1.9"/>
<path d="M1030.03,524.4 A5.6,5.6 0 0 1 1041.23,524.4 Z" fill="#6b6b0e"/>
<circle cx="1035.76" cy="524.01" r="5.6" fill="#fff" stroke="#6b6b0e" stroke-width="1.9"/>
<path d="M1030.16,524.01 A5.6,5.6 0 0 1 1041.36,524.01 Z" fill="#6b6b0e"/>
<circle cx="1035.95" cy="523.45" r="5.6" fill="#fff" stroke="#6b6b0e" stroke-width="1.9"/>
<path d="M1030.35,523.45 A5.6,5.6 0 0 1 1041.55,523.45 Z" fill="#6b6b0e"/>
<circle cx="1036.21" cy="522.8" r="5.6" fill="#fff" stroke="#6b6b0e" stroke-width="1.9"/>
<path d="M1030.61,522.8 A5.6,5.6 0 0 1 1041.81,522.8 Z" fill="#6b6b0e"/>
<circle cx="1036.54" cy="522.07" r="5.6" fill="#fff" stroke="#6b6b0e" stroke-width="1.9"/>
<path d="M1030.94,522.07 A5.6,5.6 0 0 1 1042.14,522.07 Z" fill="#6b6b0e"/>
<circle cx="1036.92" cy="521.29" r="5.6" fill="#fff" stroke="#6b6b0e" stroke-width="1.9"/>
<path d="M1031.32,521.29 A5.6,5.6 0 0 1 1042.52,521.29 Z" fill="#6b6b0e"/>
<circle cx="1037.44" cy="520.37" r="5.6" fill="#fff" stroke="#6b6b0e" stroke-width="1.9"/>
<path d="M1031.84,520.37 A5.6,5.6 0 0 1 1043.04,520.37 Z" fill="#6b6b0e"/>
<circle cx="1038.09" cy="519.4" r="5.6" fill="#fff" stroke="#6b6b0e" stroke-width="1.9"/>
<path d="M1032.49,519.4 A5.6,5.6 0 0 1 1043.69,519.4 Z" fill="#6b6b0e"/>
<circle cx="1038.86" cy="518.39" r="5.6" fill="#fff" stroke="#6b6b0e" stroke-width="1.9"/>
<path d="M1033.26,518.39 A5.6,5.6 0 0 1 1044.46,518.39 Z" fill="#6b6b0e"/>
<circle cx="1039.77" cy="517.37" r="5.6" fill="#fff" stroke="#6b6b0e" stroke-width="1.9"/>
<path d="M1034.17,517.37 A5.6,5.6 0 0 1 1045.37,517.37 Z" fill="#6b6b0e"/>
<circle cx="1040.94" cy="516.23" r="5.6" fill="#fff" stroke="#6b6b0e" stroke-width="1.9"/>
<path d="M1035.34,516.23 A5.6,5.6 0 0 1 1046.54,516.23 Z" fill="#6b6b0e"/>
<circle cx="1041.97" cy="515.33" r="5.6" fill="#fff" stroke="#6b6b0e" stroke-width="1.9"/>
<path d="M1036.37,515.33 A5.6,5.6 0 0 1 1047.57,515.33 Z" fill="#6b6b0e"/>
<circle cx="1042.63" cy="514.61" r="5.6" fill="#fff" stroke="#6b6b0e" stroke-width="1.9"/>
<path d="M1037.03,514.61 A5.6,5.6 0 0 1 1048.23,514.61 Z" fill="#6b6b0e"/>
<circle cx="1044.3" cy="513.55" r="5.6" fill="#fff" stroke="#6b6b0e" stroke-width="1.9"/>
<path d="M1038.7,513.55 A5.6,5.6 0 0 1 1049.9,513.55 Z" fill="#6b6b0e"/>
<circle cx="1046.47" cy="512.08" r="5.6" fill="#fff" stroke="#6b6b0e" stroke-width="1.9"/>
<path d="M1040.87,512.08 A5.6,5.6 0 0 1 1052.07,512.08 Z" fill="#6b6b0e"/>
<circle cx="1048.82" cy="511.08" r="5.6" fill="#fff" stroke="#6b6b0e" stroke-width="1.9"/>
<path d="M1043.22,511.08 A5.6,5.6 0 0 1 1054.42,511.08 Z" fill="#6b6b0e"/>
<circle cx="1051.54" cy="510.44" r="5.6" fill="#fff" stroke="#6b6b0e" stroke-width="1.9"/>
<path d="M1045.94,510.44 A5.6,5.6 0 0 1 1057.14,510.44 Z" fill="#6b6b0e"/>
<circle cx="1054.51" cy="509.85" r="5.6" fill="#fff" stroke="#6b6b0e" stroke-width="1.9"/>
<path d="M1048.91,509.85 A5.6,5.6 0 0 1 1060.11,509.85 Z" fill="#6b6b0e"/>
<circle cx="1057.48" cy="509.62" r="5.6" fill="#fff" stroke="#6b6b0e" stroke-width="1.9"/>
<path d="M1051.88,509.62 A5.6,5.6 0 0 1 1063.08,509.62 Z" fill="#6b6b0e"/>
<circle cx="1060.39" cy="509.73" r="5.6" fill="#fff" stroke="#6b6b0e" stroke-width="1.9"/>
<path d="M1054.79,509.73 A5.6,5.6 0 0 1 1065.99,509.73 Z" fill="#6b6b0e"/>
<circle cx="1063.17" cy="510.15" r="5.6" fill="#fff" stroke="#6b6b0e" stroke-width="1.9"/>
<path d="M1057.57,510.15 A5.6,5.6 0 0 1 1068.77,510.15 Z" fill="#6b6b0e"/>
<circle cx="1065.65" cy="510.67" r="5.6" fill="#fff" stroke="#6b6b0e" stroke-width="1.9"/>
<path d="M1060.05,510.67 A5.6,5.6 0 0 1 1071.25,510.67 Z" fill="#6b6b0e"/>
<circle cx="1068" cy="511.61" r="5.6" fill="#fff" stroke="#6b6b0e" stroke-width="1.9"/>
<path d="M1062.4,511.61 A5.6,5.6 0 0 1 1073.6,511.61 Z" fill="#6b6b0e"/>
<circle cx="1069.98" cy="512.43" r="5.6" fill="#fff" stroke="#6b6b0e" stroke-width="1.9"/>
<path d="M1064.38,512.43 A5.6,5.6 0 0 1 1075.58,512.43 Z" fill="#6b6b0e"/>
<circle cx="1071.96" cy="511.91" r="5.6" fill="#fff" stroke="#6b6b0e" stroke-width="1.9"/>
<path d="M1066.36,511.91 A5.6,5.6 0 0 1 1077.56,511.91 Z" fill="#6b6b0e"/>
<circle cx="1073.19" cy="513.26" r="5.6" fill="#fff" stroke="#6b6b0e" stroke-width="1.9"/>
<path d="M1067.59,513.26 A5.6,5.6 0 0 1 1078.79,513.26 Z" fill="#6b6b0e"/>
<circle cx="1074.31" cy="513.84" r="5.6" fill="#fff" stroke="#6b6b0e" stroke-width="1.9"/>
<path d="M1068.71,513.84 A5.6,5.6 0 0 1 1079.91,513.84 Z" fill="#6b6b0e"/>
<circle cx="1074.31" cy="515.31" r="5.6" fill="#fff" stroke="#6b6b0e" stroke-width="1.9"/>
<path d="M1068.71,515.31 A5.6,5.6 0 0 1 1079.91,515.31 Z" fill="#6b6b0e"/>
<circle cx="1076.04" cy="512.26" r="5.6" fill="#fff" stroke="#6b6b0e" stroke-width="1.9"/>
<path d="M1070.44,512.26 A5.6,5.6 0 0 1 1081.64,512.26 Z" fill="#6b6b0e"/>
<circle cx="1076.47" cy="514.84" r="5.6" fill="#fff" stroke="#6b6b0e" stroke-width="1.9"/>
<path d="M1070.87,514.84 A5.6,5.6 0 0 1 1082.07,514.84 Z" fill="#6b6b0e"/>
<circle cx="1079.57" cy="509.44" r="5.6" fill="#fff" stroke="#6b6b0e" stroke-width="1.9"/>
<path d="M1073.97,509.44 A5.6,5.6 0 0 1 1085.17,509.44 Z" fill="#6b6b0e"/>
<circle cx="1081.92" cy="506.39" r="5.6" fill="#fff" stroke="#6b6b0e" stroke-width="1.9"/>
<path d="M1076.32,506.39 A5.6,5.6 0 0 1 1087.52,506.39 Z" fill="#6b6b0e"/>
<circle cx="1082.85" cy="502.87" r="5.6" fill="#fff" stroke="#6b6b0e" stroke-width="1.9"/>
<path d="M1077.25,502.87 A5.6,5.6 0 0 1 1088.45,502.87 Z" fill="#6b6b0e"/>
<circle cx="1086.37" cy="498.88" r="5.6" fill="#fff" stroke="#6b6b0e" stroke-width="1.9"/>
<path d="M1080.77,498.88 A5.6,5.6 0 0 1 1091.97,498.88 Z" fill="#6b6b0e"/>
<circle cx="1090.39" cy="493.6" r="5.6" fill="#fff" stroke="#6b6b0e" stroke-width="1.9"/>
<path d="M1084.79,493.6 A5.6,5.6 0 0 1 1095.99,493.6 Z" fill="#6b6b0e"/>
<circle cx="1096.15" cy="486.55" r="5.6" fill="#fff" stroke="#6b6b0e" stroke-width="1.9"/>
<path d="M1090.55,486.55 A5.6,5.6 0 0 1 1101.75,486.55 Z" fill="#6b6b0e"/>
<circle cx="1103.06" cy="478.43" r="5.6" fill="#fff" stroke="#6b6b0e" stroke-width="1.9"/>
<path d="M1097.46,478.43 A5.6,5.6 0 0 1 1108.66,478.43 Z" fill="#6b6b0e"/>
<circle cx="1113.93" cy="468.96" r="5.6" fill="#fff" stroke="#6b6b0e" stroke-width="1.9"/>
<path d="M1108.33,468.96 A5.6,5.6 0 0 1 1119.53,468.96 Z" fill="#6b6b0e"/>
<circle cx="1128.42" cy="460.84" r="5.6" fill="#fff" stroke="#6b6b0e" stroke-width="1.9"/>
<path d="M1122.82,460.84 A5.6,5.6 0 0 1 1134.02,460.84 Z" fill="#6b6b0e"/>
<circle cx="1145.25" cy="451.37" r="5.6" fill="#fff" stroke="#6b6b0e" stroke-width="1.9"/>
<path d="M1139.65,451.37 A5.6,5.6 0 0 1 1150.85,451.37 Z" fill="#6b6b0e"/>
<circle cx="1168.28" cy="443.5" r="5.6" fill="#fff" stroke="#6b6b0e" stroke-width="1.9"/>
<path d="M1162.68,443.5 A5.6,5.6 0 0 1 1173.88,443.5 Z" fill="#6b6b0e"/>
<circle cx="1193.26" cy="436.49" r="5.6" fill="#fff" stroke="#6b6b0e" stroke-width="1.9"/>
<path d="M1187.66,436.49 A5.6,5.6 0 0 1 1198.86,436.49 Z" fill="#6b6b0e"/>
<circle cx="1220.83" cy="431.44" r="5.6" fill="#fff" stroke="#6b6b0e" stroke-width="1.9"/>
<path d="M1215.23,431.44 A5.6,5.6 0 0 1 1226.43,431.44 Z" fill="#6b6b0e"/>
<circle cx="1249.95" cy="427.51" r="5.6" fill="#fff" stroke="#6b6b0e" stroke-width="1.9"/>
<path d="M1244.35,427.51 A5.6,5.6 0 0 1 1255.55,427.51 Z" fill="#6b6b0e"/>
<circle cx="1281.01" cy="423.45" r="5.6" fill="#fff" stroke="#6b6b0e" stroke-width="1.9"/>
<path d="M1275.41,423.45 A5.6,5.6 0 0 1 1286.61,423.45 Z" fill="#6b6b0e"/>
<circle cx="1313.49" cy="419.51" r="5.6" fill="#fff" stroke="#6b6b0e" stroke-width="1.9"/>
<path d="M1307.89,419.51 A5.6,5.6 0 0 1 1319.09,419.51 Z" fill="#6b6b0e"/>
<circle cx="1350.12" cy="412.99" r="5.6" fill="#fff" stroke="#6b6b0e" stroke-width="1.9"/>
<path d="M1344.52,412.99 A5.6,5.6 0 0 1 1355.72,412.99 Z" fill="#6b6b0e"/>
<circle cx="1388.69" cy="404.38" r="5.6" fill="#fff" stroke="#6b6b0e" stroke-width="1.9"/>
<path d="M1383.09,404.38 A5.6,5.6 0 0 1 1394.29,404.38 Z" fill="#6b6b0e"/>
<circle cx="1435.41" cy="395.4" r="5.6" fill="#fff" stroke="#6b6b0e" stroke-width="1.9"/>
<path d="M1429.81,395.4 A5.6,5.6 0 0 1 1441.01,395.4 Z" fill="#6b6b0e"/>
<circle cx="1490.02" cy="386.42" r="5.6" fill="#fff" stroke="#6b6b0e" stroke-width="1.9"/>
<path d="M1484.42,386.42 A5.6,5.6 0 0 1 1495.62,386.42 Z" fill="#6b6b0e"/>
<circle cx="1529.63" cy="388.39" r="5.6" fill="#fff" stroke="#6b6b0e" stroke-width="1.9"/>
<path d="M1524.03,388.39 A5.6,5.6 0 0 1 1535.23,388.39 Z" fill="#6b6b0e"/>
<polyline points="1035.63,524.8 1036.17,522.35 1036.78,519.92 1037.51,517.52 1038.34,515.15 1039.25,512.82 1040.24,510.51 1041.27,508.23 1042.36,505.97 1043.48,503.73 1044.64,501.5 1045.83,499.29 1047.04,497.1 1048.26,494.91 1049.5,492.72 1050.75,490.55 1052.02,488.38 1053.29,486.22 1054.58,484.07 1055.88,481.92 1057.2,479.79 1058.53,477.67 1059.88,475.55 1061.25,473.45 1062.63,471.36 1064.03,469.27 1065.44,467.21 1066.88,465.15 1068.33,463.11 1069.8,461.08 1071.29,459.06 1072.8,457.06 1074.33,455.07 1075.89,453.1 1077.46,451.15 1079.05,449.21 1080.66,447.29 1082.29,445.38 1083.94,443.49 1085.62,441.62 1087.31,439.77 1089.02,437.93 1090.76,436.12 1092.52,434.32 1094.29,432.55 1096.09,430.79 1097.91,429.06 1099.75,427.34 1101.61,425.65 1103.49,423.98 1105.39,422.33 1107.32,420.71 1109.26,419.11 1111.21,417.53 1113.19,415.98 1115.19,414.46 1117.21,412.96 1119.24,411.48 1121.3,410.04 1123.37,408.62 1125.46,407.22 1127.56,405.86 1129.69,404.52 1131.83,403.22 1133.99,401.94 1136.16,400.7 1138.35,399.48 1140.56,398.29 1142.78,397.12 1145.02,395.98 1147.27,394.87 1149.53,393.79 1151.81,392.73 1154.09,391.69 1156.39,390.68 1158.7,389.69 1161.02,388.72 1163.36,387.78 1165.7,386.86 1168.05,385.95 1170.4,385.07 1172.77,384.21 1175.14,383.37 1177.52,382.54 1179.91,381.73 1182.3,380.95 1184.69,380.17 1187.09,379.42 1189.5,378.67 1191.91,377.95 1194.32,377.24 1196.73,376.54 1199.15,375.86 1201.57,375.19 1203.99,374.54 1206.42,373.9 1208.85,373.27 1211.28,372.67 1213.71,372.07 1216.15,371.49 1218.59,370.93 1221.04,370.38 1223.48,369.85 1225.93,369.34 1228.39,368.84 1230.85,368.35 1233.31,367.88 1235.77,367.43 1238.24,366.99 1240.7,366.56 1243.18,366.14 1245.65,365.73 1248.12,365.33 1250.6,364.94 1253.08,364.55 1255.56,364.17 1258.04,363.8 1260.52,363.43 1263,363.06 1265.48,362.69" fill="none" stroke="#00781e" stroke-width="2.8" stroke-linejoin="round" stroke-linecap="round" />
<polyline points="1035.5,524.8 1035.9,523.01 1036.41,521.25 1037.03,519.53 1037.65,517.82 1038.34,516.15 1039.39,514.58 1040.86,513.15 1041.92,511.66 1041.78,509.95 1042.28,508.42 1043.71,507.16 1045.61,506.07 1047.57,505.08 1049.33,504.14 1050.93,503.25 1052.46,502.43 1054.02,501.71 1055.68,501.11 1057.44,500.62 1059.26,500.25 1061.11,500.01 1062.94,499.87 1064.76,499.85 1066.59,499.93 1068.41,500.1 1070.22,500.36 1072.03,500.7 1073.82,501.12 1075.59,501.62 1077.33,502.2 1079.03,502.88 1080.68,503.67 1082.28,504.56 1083.83,505.54 1085.34,506.57 1086.82,507.65 1088.33,508.68 1089.98,509.53 1091.76,510 1093.56,509.85 1095.3,509.17 1096.89,508.23 1098.34,507.12 1099.7,505.89 1100.99,504.6 1102.22,503.25 1103.42,501.86 1104.59,500.45 1105.74,499.02 1106.9,497.59 1108.07,496.17 1109.25,494.78 1110.47,493.41 1111.72,492.07 1113.02,490.79 1114.37,489.57 1115.77,488.39 1117.2,487.25 1118.65,486.13 1120.11,485.02 1121.56,483.9 1123,482.76 1124.42,481.6 1125.81,480.41 1127.18,479.2 1128.54,477.98 1129.89,476.74 1131.23,475.49 1132.57,474.24 1133.9,472.99 1135.24,471.73 1136.57,470.47 1137.89,469.21 1139.21,467.94 1140.53,466.66 1141.83,465.38 1143.13,464.09 1144.41,462.78 1145.68,461.47 1146.94,460.14 1148.18,458.8 1149.41,457.44 1150.63,456.07 1151.83,454.7 1153.03,453.31 1154.21,451.92 1155.4,450.52 1156.58,449.12 1157.75,447.72 1158.93,446.31 1160.11,444.91 1161.29,443.51 1162.47,442.12 1163.67,440.73 1164.87,439.35 1166.08,437.97 1167.3,436.61 1168.52,435.25 1169.76,433.9 1171,432.55 1172.24,431.21 1173.49,429.87 1174.75,428.54 1176.01,427.22 1177.27,425.89 1178.54,424.57 1179.81,423.25 1181.08,421.93 1182.35,420.62 1183.63,419.3 1184.9,417.98 1186.17,416.67 1187.44,415.35 1188.71,414.03 1189.98,412.71 1191.25,411.39 1192.52,410.07 1193.79,408.75 1195.05,407.43 1196.32,406.11 1197.59,404.79 1198.86,403.47 1200.12,402.14 1201.39,400.82 1202.66,399.5 1203.93,398.19 1205.2,396.87 1206.47,395.55 1207.74,394.23 1209.01,392.92 1210.29,391.61 1211.56,390.29 1212.84,388.98 1214.12,387.68 1215.4,386.37 1216.69,385.07 1217.97,383.76 1219.26,382.47 1220.55,381.17 1221.85,379.87 1223.14,378.58 1224.44,377.29 1225.74,376.01 1227.05,374.72 1228.35,373.44 1229.66,372.17 1230.98,370.89 1232.29,369.62 1233.61,368.35 1234.93,367.09 1236.26,365.82 1237.58,364.56 1238.91,363.3 1240.25,362.05 1241.58,360.8 1242.92,359.55 1244.26,358.31 1245.61,357.06 1246.95,355.82 1248.31,354.59 1249.66,353.35 1251.01,352.13 1252.37,350.9 1253.74,349.67 1255.1,348.45 1256.47,347.24 1257.84,346.02 1259.21,344.81 1260.59,343.6 1261.97,342.4 1263.36,341.2 1264.74,340 1266.13,338.81 1267.52,337.62 1268.92,336.43 1270.32,335.24 1271.72,334.06 1273.12,332.88 1274.53,331.71 1275.94,330.54 1277.36,329.37 1278.78,328.21 1280.2,327.05 1281.62,325.89 1283.05,324.74 1284.48,323.59 1285.91,322.45 1287.35,321.3 1288.79,320.17 1290.23,319.03 1291.68,317.9 1293.13,316.78 1294.58,315.66 1296.04,314.54 1297.49,313.43 1298.96,312.32 1300.42,311.22 1301.89,310.12 1303.36,309.02 1304.84,307.93 1306.32,306.85 1307.8,305.77 1309.29,304.69 1310.78,303.62 1312.27,302.55 1313.76,301.49 1315.26,300.43 1316.76,299.38 1318.27,298.33 1319.78,297.29 1321.29,296.25 1322.81,295.22 1324.32,294.2 1325.85,293.18 1327.37,292.16 1328.9,291.15 1330.43,290.14 1331.97,289.15 1333.51,288.15 1335.05,287.16 1336.6,286.18 1338.15,285.2 1339.7,284.23 1341.25,283.27 1342.81,282.31 1344.38,281.36 1345.94,280.41 1347.51,279.47 1349.09,278.53 1350.66,277.61 1352.25,276.68 1353.83,275.77 1355.42,274.86 1357.01,273.95 1358.6,273.06 1360.2,272.17 1361.8,271.28 1363.41,270.41 1365.01,269.53 1366.63,268.67 1368.24,267.81 1369.86,266.96 1371.48,266.11 1373.1,265.27 1374.73,264.44 1376.36,263.61 1378,262.78 1379.63,261.96 1381.27,261.15 1382.91,260.34 1384.56,259.54 1386.2,258.74 1387.85,257.95 1389.51,257.16 1391.16,256.38 1392.82,255.6 1394.48,254.82 1396.14,254.05 1397.8,253.29 1399.47,252.52 1401.13,251.77 1402.8,251.01 1404.48,250.26 1406.15,249.51 1407.83,248.77 1409.5,248.03 1411.18,247.3 1412.86,246.56 1414.54,245.83 1416.23,245.11 1417.91,244.38 1419.6,243.66 1421.29,242.95 1422.98,242.23 1424.67,241.52 1426.36,240.81 1428.05,240.1 1429.75,239.4 1431.44,238.69 1433.14,238 1434.84,237.3 1436.54,236.61 1438.24,235.93 1439.94,235.24 1441.65,234.56 1443.35,233.89 1445.06,233.22 1446.77,232.56 1448.48,231.9 1450.2,231.25 1451.91,230.6 1453.63,229.96 1455.35,229.32 1457.07,228.69 1458.79,228.06 1460.51,227.45 1462.24,226.84 1463.97,226.23 1465.7,225.63 1467.43,225.05 1469.17,224.46 1470.9,223.89 1472.64,223.32 1474.38,222.76 1476.13,222.21 1477.87,221.67 1479.62,221.13 1481.37,220.61 1483.13,220.09 1484.88,219.59 1486.64,219.09 1488.4,218.6 1490.17,218.12 1491.93,217.65 1493.7,217.2 1495.47,216.75 1497.25,216.31 1499.02,215.88 1500.8,215.45 1502.58,215.04 1504.36,214.64 1506.15,214.24 1507.94,213.85 1509.73,213.47 1511.52,213.1 1513.31,212.73 1515.1,212.38 1516.9,212.03 1518.7,211.68 1520.5,211.35 1522.3,211.02 1524.1,210.69 1525.91,210.37 1527.71,210.06 1529.52,209.76 1531.33,209.46 1533.14,209.16 1534.95,208.87 1536.76,208.59 1538.57,208.31 1540.38,208.03 1542.2,207.76 1544.01,207.49 1545.83,207.23 1547.65,206.97 1549.46,206.72 1551.28,206.46 1553.1,206.21 1554.92,205.97 1556.73,205.73 1558.55,205.48 1560.37,205.25 1562.19,205.01 1564.01,204.78 1565.83,204.54 1567.65,204.31 1569.47,204.09 1571.29,203.86 1573.11,203.63 1574.93,203.41 1576.75,203.19 1578.56,202.96 1580.38,202.74 1582.2,202.52 1584.02,202.31 1585.84,202.09 1587.66,201.88 1589.48,201.66 1591.3,201.45 1593.12,201.24 1594.93,201.03 1596.75,200.82 1598.57,200.61 1600.39,200.4 1602.21,200.19 1604.03,199.99 1605.84,199.78 1607.66,199.58 1609.48,199.37 1611.3,199.17 1613.12,198.97 1614.94,198.77 1616.75,198.57 1618.57,198.37 1620.39,198.17 1622.21,197.97 1624.03,197.77 1625.85,197.57 1627.66,197.37 1629.48,197.17 1631.3,196.98 1633.12,196.78 1634.94,196.58 1636.75,196.39 1638.57,196.19 1640.39,195.99 1642.21,195.8 1644.03,195.6 1645.84,195.41" fill="none" stroke="#5a0f96" stroke-width="3" stroke-linejoin="round" stroke-linecap="round" />
<polyline points="1035.5,524.8 1035.94,523.5 1036.47,522.24 1037.1,521.01 1037.74,519.82 1038.47,518.68 1039.52,517.69 1040.88,516.85 1041.87,515.91 1041.82,514.66 1042.08,513.55 1043.11,512.75 1044.63,512.16 1046.33,511.69 1047.93,511.26 1049.34,510.83 1050.62,510.43 1051.84,510.07 1053.08,509.77 1054.39,509.56 1055.76,509.44 1057.16,509.42 1058.54,509.51 1059.9,509.7 1061.24,509.98 1062.57,510.33 1063.88,510.73 1065.18,511.19 1066.46,511.69 1067.72,512.21 1068.97,512.74 1070.2,513.31 1071.44,513.92 1072.7,514.59 1074,515.01 1075.32,514.75 1076.41,513.92 1077.17,512.78 1077.76,511.5 1078.35,510.22 1079.02,509 1079.75,507.84 1080.53,506.72 1081.35,505.63 1082.19,504.55 1083.04,503.48 1083.88,502.41 1084.72,501.32 1085.54,500.24 1086.37,499.14 1087.18,498.04 1087.99,496.93 1088.8,495.82 1089.6,494.71 1090.4,493.59 1091.19,492.46 1091.99,491.33 1092.78,490.21 1093.57,489.08 1094.37,487.96 1095.18,486.84 1095.99,485.74 1096.82,484.64 1097.66,483.55 1098.51,482.48 1099.38,481.43 1100.28,480.39 1101.19,479.38 1102.13,478.38 1103.09,477.42 1104.08,476.47 1105.09,475.56 1106.13,474.66 1107.19,473.79 1108.27,472.95 1109.37,472.12 1110.48,471.31 1111.61,470.52 1112.74,469.74 1113.89,468.98 1115.04,468.24 1116.2,467.51 1117.37,466.78 1118.54,466.07 1119.71,465.37 1120.89,464.67 1122.08,463.98 1123.26,463.3 1124.45,462.62 1125.64,461.94 1126.83,461.26 1128.02,460.58 1129.21,459.9 1130.4,459.21 1131.59,458.53 1132.79,457.85 1133.98,457.18 1135.18,456.5 1136.38,455.84 1137.58,455.18 1138.79,454.54 1140.01,453.9 1141.23,453.28 1142.45,452.67 1143.69,452.08 1144.93,451.51 1146.18,450.96 1147.44,450.43 1148.7,449.91 1149.98,449.41 1151.26,448.93 1152.54,448.46 1153.83,448 1155.13,447.56 1156.43,447.12 1157.74,446.7 1159.05,446.28 1160.36,445.87 1161.67,445.47 1162.99,445.07 1164.3,444.68 1165.62,444.29 1166.94,443.9 1168.26,443.51 1169.57,443.11 1170.89,442.72 1172.21,442.33 1173.52,441.94 1174.84,441.55 1176.15,441.16 1177.47,440.77 1178.78,440.38 1180.1,440 1181.41,439.62 1182.73,439.25 1184.05,438.88 1185.37,438.51 1186.69,438.16 1188.01,437.8 1189.34,437.46 1190.66,437.12 1191.99,436.79 1193.32,436.47 1194.66,436.16 1195.99,435.86 1197.33,435.56 1198.67,435.27 1200.01,435 1201.35,434.72 1202.7,434.46 1204.04,434.2 1205.39,433.95 1206.74,433.71 1208.09,433.47 1209.44,433.23 1210.79,433 1212.14,432.78 1213.5,432.56 1214.85,432.35 1216.21,432.14 1217.57,431.93 1218.92,431.73 1220.28,431.52 1221.64,431.33 1222.99,431.13 1224.35,430.94 1225.71,430.74 1227.06,430.55 1228.42,430.37 1229.78,430.18 1231.14,429.99 1232.5,429.81 1233.85,429.63 1235.21,429.45 1236.57,429.27 1237.93,429.09 1239.29,428.91 1240.64,428.73 1242,428.55 1243.36,428.37 1244.72,428.19 1246.08,428.02 1247.44,427.84 1248.79,427.66 1250.15,427.48 1251.51,427.3 1252.87,427.12 1254.23,426.94 1255.58,426.76 1256.94,426.58 1258.3,426.39 1259.66,426.21 1261.02,426.03 1262.38,425.85 1263.73,425.67 1265.09,425.49 1266.45,425.31 1267.81,425.13 1269.17,424.95 1270.53,424.77 1271.89,424.6 1273.24,424.42 1274.6,424.25 1275.96,424.08 1277.32,423.9 1278.68,423.73 1280.04,423.57 1281.4,423.4 1282.76,423.24 1284.12,423.07 1285.49,422.91 1286.85,422.75 1288.21,422.59 1289.57,422.43 1290.93,422.28 1292.29,422.12 1293.65,421.96 1295.01,421.8 1296.37,421.64 1297.74,421.48 1299.1,421.32 1300.46,421.16 1301.82,421 1303.18,420.83 1304.54,420.67 1305.9,420.5 1307.26,420.33 1308.62,420.16 1309.98,419.98 1311.33,419.8 1312.69,419.62 1314.05,419.44 1315.41,419.25 1316.76,419.05 1318.12,418.86 1319.48,418.66 1320.83,418.46 1322.19,418.25 1323.54,418.05 1324.89,417.84 1326.25,417.62 1327.6,417.41 1328.95,417.19 1330.31,416.97 1331.66,416.74 1333.01,416.52 1334.36,416.29 1335.71,416.06 1337.06,415.82 1338.41,415.59 1339.76,415.35 1341.11,415.12 1342.46,414.88 1343.81,414.63 1345.16,414.39 1346.51,414.15 1347.86,413.9 1349.2,413.65 1350.55,413.41 1351.9,413.16 1353.25,412.91 1354.59,412.65 1355.94,412.4 1357.29,412.15 1358.63,411.89 1359.98,411.64 1361.33,411.38 1362.67,411.13 1364.02,410.87 1365.37,410.61 1366.71,410.35 1368.06,410.1 1369.4,409.84 1370.75,409.58 1372.09,409.32 1373.44,409.06 1374.78,408.8 1376.13,408.54 1377.47,408.28 1378.82,408.02 1380.16,407.75 1381.51,407.49 1382.85,407.23 1384.2,406.97 1385.55,406.71 1386.89,406.45 1388.24,406.19 1389.58,405.93 1390.93,405.67 1392.27,405.41 1393.62,405.16 1394.96,404.9 1396.31,404.64 1397.66,404.38 1399,404.13 1400.35,403.87 1401.7,403.62 1403.04,403.36 1404.39,403.11 1405.74,402.86 1407.08,402.61 1408.43,402.36 1409.78,402.11 1411.13,401.86 1412.47,401.61 1413.82,401.37 1415.17,401.12 1416.52,400.88 1417.87,400.63 1419.22,400.39 1420.56,400.15 1421.91,399.91 1423.26,399.68 1424.61,399.44 1425.96,399.21 1427.31,398.98 1428.66,398.74 1430.02,398.52 1431.37,398.29 1432.72,398.06 1434.07,397.84 1435.42,397.62 1436.77,397.4 1438.13,397.18 1439.48,396.96 1440.83,396.75 1442.19,396.53 1443.54,396.32 1444.9,396.11 1446.25,395.9 1447.61,395.7 1448.96,395.5 1450.32,395.29 1451.67,395.09 1453.03,394.89 1454.38,394.7 1455.74,394.5 1457.1,394.31 1458.45,394.12 1459.81,393.93 1461.17,393.74 1462.53,393.55 1463.88,393.37 1465.24,393.18 1466.6,393 1467.96,392.82 1469.32,392.64 1470.68,392.47 1472.04,392.29 1473.4,392.12 1474.75,391.94 1476.11,391.77 1477.47,391.6 1478.83,391.44 1480.2,391.27 1481.56,391.11 1482.92,390.94 1484.28,390.78 1485.64,390.62 1487,390.46 1488.36,390.3 1489.72,390.15 1491.08,389.99 1492.45,389.84 1493.81,389.69 1495.17,389.54 1496.53,389.39 1497.89,389.24 1499.26,389.1 1500.62,388.95 1501.98,388.81 1503.34,388.66 1504.71,388.52 1506.07,388.38 1507.43,388.24 1508.8,388.1 1510.16,387.96 1511.52,387.83 1512.89,387.69 1514.25,387.55 1515.61,387.42 1516.98,387.29 1518.34,387.15 1519.71,387.02 1521.07,386.89 1522.43,386.75 1523.8,386.62 1525.16,386.49 1526.53,386.36 1527.89,386.23 1529.25,386.1 1530.62,385.97 1531.98,385.85 1533.35,385.72 1534.71,385.59 1536.07,385.46 1537.44,385.33 1538.8,385.2 1540.17,385.08 1541.53,384.95" fill="none" stroke="#6b6b0e" stroke-width="3" stroke-linejoin="round" stroke-linecap="round" />
<line x1="997.2" y1="524.8" x2="1008.7" y2="524.8" stroke="#000" stroke-width="2.3" />
<line x1="997.2" y1="401.8" x2="1008.7" y2="401.8" stroke="#000" stroke-width="2.3" />
<line x1="997.2" y1="278.8" x2="1008.7" y2="278.8" stroke="#000" stroke-width="2.3" />
<line x1="997.2" y1="155.8" x2="1008.7" y2="155.8" stroke="#000" stroke-width="2.3" />
<line x1="997.2" y1="32.8" x2="1008.7" y2="32.8" stroke="#000" stroke-width="2.3" />
<line x1="997.2" y1="549.4" x2="1003.4" y2="549.4" stroke="#000" stroke-width="2.3" />
<line x1="997.2" y1="500.2" x2="1003.4" y2="500.2" stroke="#000" stroke-width="2.3" />
<line x1="997.2" y1="475.6" x2="1003.4" y2="475.6" stroke="#000" stroke-width="2.3" />
<line x1="997.2" y1="451" x2="1003.4" y2="451" stroke="#000" stroke-width="2.3" />
<line x1="997.2" y1="426.4" x2="1003.4" y2="426.4" stroke="#000" stroke-width="2.3" />
<line x1="997.2" y1="377.2" x2="1003.4" y2="377.2" stroke="#000" stroke-width="2.3" />
<line x1="997.2" y1="352.6" x2="1003.4" y2="352.6" stroke="#000" stroke-width="2.3" />
<line x1="997.2" y1="328" x2="1003.4" y2="328" stroke="#000" stroke-width="2.3" />
<line x1="997.2" y1="303.4" x2="1003.4" y2="303.4" stroke="#000" stroke-width="2.3" />
<line x1="997.2" y1="254.2" x2="1003.4" y2="254.2" stroke="#000" stroke-width="2.3" />
<line x1="997.2" y1="229.6" x2="1003.4" y2="229.6" stroke="#000" stroke-width="2.3" />
<line x1="997.2" y1="205" x2="1003.4" y2="205" stroke="#000" stroke-width="2.3" />
<line x1="997.2" y1="180.4" x2="1003.4" y2="180.4" stroke="#000" stroke-width="2.3" />
<line x1="997.2" y1="131.2" x2="1003.4" y2="131.2" stroke="#000" stroke-width="2.3" />
<line x1="997.2" y1="106.6" x2="1003.4" y2="106.6" stroke="#000" stroke-width="2.3" />
<line x1="997.2" y1="82" x2="1003.4" y2="82" stroke="#000" stroke-width="2.3" />
<line x1="997.2" y1="57.4" x2="1003.4" y2="57.4" stroke="#000" stroke-width="2.3" />
<line x1="1035.5" y1="555.8" x2="1035.5" y2="544.3" stroke="#000" stroke-width="2.3" />
<line x1="1164.92" y1="555.8" x2="1164.92" y2="544.3" stroke="#000" stroke-width="2.3" />
<line x1="1294.34" y1="555.8" x2="1294.34" y2="544.3" stroke="#000" stroke-width="2.3" />
<line x1="1423.76" y1="555.8" x2="1423.76" y2="544.3" stroke="#000" stroke-width="2.3" />
<line x1="1553.18" y1="555.8" x2="1553.18" y2="544.3" stroke="#000" stroke-width="2.3" />
<line x1="1682.6" y1="555.8" x2="1682.6" y2="544.3" stroke="#000" stroke-width="2.3" />
<line x1="1009.62" y1="555.8" x2="1009.62" y2="549.6" stroke="#000" stroke-width="2.3" />
<line x1="1061.38" y1="555.8" x2="1061.38" y2="549.6" stroke="#000" stroke-width="2.3" />
<line x1="1087.27" y1="555.8" x2="1087.27" y2="549.6" stroke="#000" stroke-width="2.3" />
<line x1="1113.15" y1="555.8" x2="1113.15" y2="549.6" stroke="#000" stroke-width="2.3" />
<line x1="1139.04" y1="555.8" x2="1139.04" y2="549.6" stroke="#000" stroke-width="2.3" />
<line x1="1190.8" y1="555.8" x2="1190.8" y2="549.6" stroke="#000" stroke-width="2.3" />
<line x1="1216.69" y1="555.8" x2="1216.69" y2="549.6" stroke="#000" stroke-width="2.3" />
<line x1="1242.57" y1="555.8" x2="1242.57" y2="549.6" stroke="#000" stroke-width="2.3" />
<line x1="1268.46" y1="555.8" x2="1268.46" y2="549.6" stroke="#000" stroke-width="2.3" />
<line x1="1320.22" y1="555.8" x2="1320.22" y2="549.6" stroke="#000" stroke-width="2.3" />
<line x1="1346.11" y1="555.8" x2="1346.11" y2="549.6" stroke="#000" stroke-width="2.3" />
<line x1="1371.99" y1="555.8" x2="1371.99" y2="549.6" stroke="#000" stroke-width="2.3" />
<line x1="1397.88" y1="555.8" x2="1397.88" y2="549.6" stroke="#000" stroke-width="2.3" />
<line x1="1449.64" y1="555.8" x2="1449.64" y2="549.6" stroke="#000" stroke-width="2.3" />
<line x1="1475.53" y1="555.8" x2="1475.53" y2="549.6" stroke="#000" stroke-width="2.3" />
<line x1="1501.41" y1="555.8" x2="1501.41" y2="549.6" stroke="#000" stroke-width="2.3" />
<line x1="1527.3" y1="555.8" x2="1527.3" y2="549.6" stroke="#000" stroke-width="2.3" />
<line x1="1579.06" y1="555.8" x2="1579.06" y2="549.6" stroke="#000" stroke-width="2.3" />
<line x1="1604.95" y1="555.8" x2="1604.95" y2="549.6" stroke="#000" stroke-width="2.3" />
<line x1="1630.83" y1="555.8" x2="1630.83" y2="549.6" stroke="#000" stroke-width="2.3" />
<line x1="1656.72" y1="555.8" x2="1656.72" y2="549.6" stroke="#000" stroke-width="2.3" />
<line x1="1708.48" y1="555.8" x2="1708.48" y2="549.6" stroke="#000" stroke-width="2.3" />
<line x1="1734.37" y1="555.8" x2="1734.37" y2="549.6" stroke="#000" stroke-width="2.3" />
<rect x="997.2" y="8" width="749.8" height="547.8" fill="none" stroke="#000" stroke-width="2.4"/>
<text x="984" y="531.1" font-family='"Liberation Sans", sans-serif' font-size="24" font-weight="bold" text-anchor="end" fill="#000" >0</text>
<text x="984" y="408.1" font-family='"Liberation Sans", sans-serif' font-size="24" font-weight="bold" text-anchor="end" fill="#000" >100</text>
<text x="984" y="285.1" font-family='"Liberation Sans", sans-serif' font-size="24" font-weight="bold" text-anchor="end" fill="#000" >200</text>
<text x="984" y="162.1" font-family='"Liberation Sans", sans-serif' font-size="24" font-weight="bold" text-anchor="end" fill="#000" >300</text>
<text x="984" y="39.1" font-family='"Liberation Sans", sans-serif' font-size="24" font-weight="bold" text-anchor="end" fill="#000" >400</text>
<text x="1035.5" y="586.3" font-family='"Liberation Sans", sans-serif' font-size="24" font-weight="bold" text-anchor="middle" fill="#000" >0</text>
<text x="1164.92" y="586.3" font-family='"Liberation Sans", sans-serif' font-size="24" font-weight="bold" text-anchor="middle" fill="#000" >100</text>
<text x="1294.34" y="586.3" font-family='"Liberation Sans", sans-serif' font-size="24" font-weight="bold" text-anchor="middle" fill="#000" >200</text>
<text x="1423.76" y="586.3" font-family='"Liberation Sans", sans-serif' font-size="24" font-weight="bold" text-anchor="middle" fill="#000" >300</text>
<text x="1553.18" y="586.3" font-family='"Liberation Sans", sans-serif' font-size="24" font-weight="bold" text-anchor="middle" fill="#000" >400</text>
<text x="1682.6" y="586.3" font-family='"Liberation Sans", sans-serif' font-size="24" font-weight="bold" text-anchor="middle" fill="#000" >500</text>
<text x="888.3" y="38.3" font-family='"Liberation Serif", serif' font-size="40.5" font-weight="bold" text-anchor="start" fill="#000" >(b)</text>
<text x="1294" y="632.3" font-family='"Liberation Serif", serif' font-size="31.5" font-weight="bold" fill="#000">Z<tspan dy="11" font-size="20">r</tspan><tspan dy="-11"> (k</tspan><tspan font-weight="normal">Ω</tspan>·cm<tspan dy="-15" font-size="20">2</tspan><tspan dy="15">)</tspan></text>
<text transform="translate(917.3,379.5) rotate(-90)" font-family='"Liberation Serif", serif' font-size="31.5" font-weight="bold" fill="#000">-Z<tspan dy="12.5" font-size="20">im</tspan><tspan dy="-12.5"> (k</tspan><tspan font-weight="normal">Ω</tspan>·cm<tspan dy="-17" font-size="20">2</tspan><tspan dy="17">)</tspan></text>
<circle cx="1034.8" cy="30.9" r="6.2" fill="#00ee00" stroke="#007a10" stroke-width="1.9"/>
<rect x="1029.2" y="55.7" width="11.2" height="11.2" fill="#fff" stroke="#5a0f96" stroke-width="1.8"/>
<rect x="1029.2" y="55.7" width="11.2" height="5.88" fill="#5a0f96"/>
<circle cx="1034.8" cy="92.2" r="6" fill="#fff" stroke="#6b6b0e" stroke-width="2"/>
<path d="M1028.8,92.2 A6,6 0 0 1 1040.8,92.2 Z" fill="#6b6b0e"/>
<text x="1069" y="39.1" font-family='"Liberation Serif", serif' font-size="23.8" font-weight="bold" text-anchor="start" fill="#000" >500°C-2h</text>
<text x="1069" y="69.5" font-family='"Liberation Serif", serif' font-size="23.8" font-weight="bold" text-anchor="start" fill="#000" >800°C-2h</text>
<text x="1069" y="100.4" font-family='"Liberation Serif", serif' font-size="23.8" font-weight="bold" text-anchor="start" fill="#000" >800°C-24h</text>
<text x="1014" y="131" font-family='"Liberation Serif", serif' font-size="23.8" font-weight="bold" text-anchor="start" fill="#000" >Line fitting curves</text>
<rect x="1259" y="8.8" width="290.3" height="144.1" fill="url(#bgBi)"/>
<line x1="1259" y1="125" x2="1549.3" y2="125" stroke="#c4d3da" stroke-width="1.1" />
<line x1="1259" y1="71.55" x2="1549.3" y2="71.55" stroke="#c4d3da" stroke-width="1.1" />
<line x1="1259" y1="18.1" x2="1549.3" y2="18.1" stroke="#c4d3da" stroke-width="1.1" />
<g clip-path="url(#clipBi)">
<circle cx="1270.02" cy="87.58" r="1.9" fill="#00ee00" stroke="#007a10" stroke-width="1.1"/>
<circle cx="1287.38" cy="48.03" r="1.9" fill="#00ee00" stroke="#007a10" stroke-width="1.1"/>
<line x1="1259.67" y1="112.98" x2="1312.98" y2="5.87" stroke="#00781e" stroke-width="1.3" />
<rect x="1263.36" y="105.55" width="6.2" height="6.2" fill="none" stroke="#5a0f96" stroke-width="1.3"/>
<rect x="1263.36" y="105.55" width="6.2" height="3.26" fill="#5a0f96"/>
<rect x="1274.67" y="94.07" width="6.2" height="6.2" fill="none" stroke="#5a0f96" stroke-width="1.3"/>
<rect x="1274.67" y="94.07" width="6.2" height="3.26" fill="#5a0f96"/>
<rect x="1291.02" y="83.61" width="6.2" height="6.2" fill="none" stroke="#5a0f96" stroke-width="1.3"/>
<rect x="1291.02" y="83.61" width="6.2" height="3.26" fill="#5a0f96"/>
<rect x="1307.36" y="74.94" width="6.2" height="6.2" fill="none" stroke="#5a0f96" stroke-width="1.3"/>
<rect x="1307.36" y="74.94" width="6.2" height="3.26" fill="#5a0f96"/>
<rect x="1326.98" y="66.02" width="6.2" height="6.2" fill="none" stroke="#5a0f96" stroke-width="1.3"/>
<rect x="1326.98" y="66.02" width="6.2" height="3.26" fill="#5a0f96"/>
<rect x="1353.88" y="65.76" width="6.2" height="6.2" fill="none" stroke="#5a0f96" stroke-width="1.3"/>
<rect x="1353.88" y="65.76" width="6.2" height="3.26" fill="#5a0f96"/>
<rect x="1371.98" y="65.76" width="6.2" height="6.2" fill="none" stroke="#5a0f96" stroke-width="1.3"/>
<rect x="1371.98" y="65.76" width="6.2" height="3.26" fill="#5a0f96"/>
<rect x="1385.81" y="69.08" width="6.2" height="6.2" fill="none" stroke="#5a0f96" stroke-width="1.3"/>
<rect x="1385.81" y="69.08" width="6.2" height="3.26" fill="#5a0f96"/>
<rect x="1412.97" y="75.45" width="6.2" height="6.2" fill="none" stroke="#5a0f96" stroke-width="1.3"/>
<rect x="1412.97" y="75.45" width="6.2" height="3.26" fill="#5a0f96"/>
<rect x="1424.28" y="84.38" width="6.2" height="6.2" fill="none" stroke="#5a0f96" stroke-width="1.3"/>
<rect x="1424.28" y="84.38" width="6.2" height="3.26" fill="#5a0f96"/>
<rect x="1433.09" y="95.86" width="6.2" height="6.2" fill="none" stroke="#5a0f96" stroke-width="1.3"/>
<rect x="1433.09" y="95.86" width="6.2" height="3.26" fill="#5a0f96"/>
<rect x="1438.11" y="103" width="6.2" height="6.2" fill="none" stroke="#5a0f96" stroke-width="1.3"/>
<rect x="1438.11" y="103" width="6.2" height="3.26" fill="#5a0f96"/>
<rect x="1451.44" y="110.39" width="6.2" height="6.2" fill="none" stroke="#5a0f96" stroke-width="1.3"/>
<rect x="1451.44" y="110.39" width="6.2" height="3.26" fill="#5a0f96"/>
<rect x="1458.23" y="110.39" width="6.2" height="6.2" fill="none" stroke="#5a0f96" stroke-width="1.3"/>
<rect x="1458.23" y="110.39" width="6.2" height="3.26" fill="#5a0f96"/>
<rect x="1464.52" y="111.16" width="6.2" height="6.2" fill="none" stroke="#5a0f96" stroke-width="1.3"/>
<rect x="1464.52" y="111.16" width="6.2" height="3.26" fill="#5a0f96"/>
<rect x="1473.32" y="105.55" width="6.2" height="6.2" fill="none" stroke="#5a0f96" stroke-width="1.3"/>
<rect x="1473.32" y="105.55" width="6.2" height="3.26" fill="#5a0f96"/>
<rect x="1481.36" y="100.96" width="6.2" height="6.2" fill="none" stroke="#5a0f96" stroke-width="1.3"/>
<rect x="1481.36" y="100.96" width="6.2" height="3.26" fill="#5a0f96"/>
<rect x="1491.42" y="90.76" width="6.2" height="6.2" fill="none" stroke="#5a0f96" stroke-width="1.3"/>
<rect x="1491.42" y="90.76" width="6.2" height="3.26" fill="#5a0f96"/>
<rect x="1504.24" y="74.94" width="6.2" height="6.2" fill="none" stroke="#5a0f96" stroke-width="1.3"/>
<rect x="1504.24" y="74.94" width="6.2" height="3.26" fill="#5a0f96"/>
<rect x="1521.85" y="53.27" width="6.2" height="6.2" fill="none" stroke="#5a0f96" stroke-width="1.3"/>
<rect x="1521.85" y="53.27" width="6.2" height="3.26" fill="#5a0f96"/>
<rect x="1545.73" y="25.72" width="6.2" height="6.2" fill="none" stroke="#5a0f96" stroke-width="1.3"/>
<rect x="1545.73" y="25.72" width="6.2" height="3.26" fill="#5a0f96"/>
<circle cx="1262.19" cy="134.15" r="3.3" fill="none" stroke="#6b6b0e" stroke-width="1.5"/>
<path d="M1258.89,134.15 A3.3,3.3 0 0 1 1265.49,134.15 Z" fill="#6b6b0e"/>
<circle cx="1268.97" cy="129.56" r="3.3" fill="none" stroke="#6b6b0e" stroke-width="1.5"/>
<path d="M1265.67,129.56 A3.3,3.3 0 0 1 1272.27,129.56 Z" fill="#6b6b0e"/>
<circle cx="1277.77" cy="123.18" r="3.3" fill="none" stroke="#6b6b0e" stroke-width="1.5"/>
<path d="M1274.47,123.18 A3.3,3.3 0 0 1 1281.07,123.18 Z" fill="#6b6b0e"/>
<circle cx="1287.33" cy="118.85" r="3.3" fill="none" stroke="#6b6b0e" stroke-width="1.5"/>
<path d="M1284.03,118.85 A3.3,3.3 0 0 1 1290.63,118.85 Z" fill="#6b6b0e"/>
<circle cx="1298.39" cy="116.04" r="3.3" fill="none" stroke="#6b6b0e" stroke-width="1.5"/>
<path d="M1295.09,116.04 A3.3,3.3 0 0 1 1301.69,116.04 Z" fill="#6b6b0e"/>
<circle cx="1310.46" cy="113.49" r="3.3" fill="none" stroke="#6b6b0e" stroke-width="1.5"/>
<path d="M1307.16,113.49 A3.3,3.3 0 0 1 1313.76,113.49 Z" fill="#6b6b0e"/>
<circle cx="1322.53" cy="112.47" r="3.3" fill="none" stroke="#6b6b0e" stroke-width="1.5"/>
<path d="M1319.23,112.47 A3.3,3.3 0 0 1 1325.83,112.47 Z" fill="#6b6b0e"/>
<circle cx="1334.35" cy="112.98" r="3.3" fill="none" stroke="#6b6b0e" stroke-width="1.5"/>
<path d="M1331.05,112.98 A3.3,3.3 0 0 1 1337.65,112.98 Z" fill="#6b6b0e"/>
<circle cx="1345.67" cy="114.77" r="3.3" fill="none" stroke="#6b6b0e" stroke-width="1.5"/>
<path d="M1342.37,114.77 A3.3,3.3 0 0 1 1348.97,114.77 Z" fill="#6b6b0e"/>
<circle cx="1355.72" cy="117.06" r="3.3" fill="none" stroke="#6b6b0e" stroke-width="1.5"/>
<path d="M1352.42,117.06 A3.3,3.3 0 0 1 1359.02,117.06 Z" fill="#6b6b0e"/>
<circle cx="1365.28" cy="121.14" r="3.3" fill="none" stroke="#6b6b0e" stroke-width="1.5"/>
<path d="M1361.98,121.14 A3.3,3.3 0 0 1 1368.58,121.14 Z" fill="#6b6b0e"/>
<circle cx="1373.32" cy="124.71" r="3.3" fill="none" stroke="#6b6b0e" stroke-width="1.5"/>
<path d="M1370.02,124.71 A3.3,3.3 0 0 1 1376.62,124.71 Z" fill="#6b6b0e"/>
<circle cx="1381.37" cy="122.42" r="3.3" fill="none" stroke="#6b6b0e" stroke-width="1.5"/>
<path d="M1378.07,122.42 A3.3,3.3 0 0 1 1384.67,122.42 Z" fill="#6b6b0e"/>
<circle cx="1386.4" cy="128.28" r="3.3" fill="none" stroke="#6b6b0e" stroke-width="1.5"/>
<path d="M1383.1,128.28 A3.3,3.3 0 0 1 1389.7,128.28 Z" fill="#6b6b0e"/>
<circle cx="1390.93" cy="130.83" r="3.3" fill="none" stroke="#6b6b0e" stroke-width="1.5"/>
<path d="M1387.63,130.83 A3.3,3.3 0 0 1 1394.23,130.83 Z" fill="#6b6b0e"/>
<circle cx="1390.93" cy="137.21" r="3.3" fill="none" stroke="#6b6b0e" stroke-width="1.5"/>
<path d="M1387.63,137.21 A3.3,3.3 0 0 1 1394.23,137.21 Z" fill="#6b6b0e"/>
<circle cx="1397.97" cy="123.95" r="3.3" fill="none" stroke="#6b6b0e" stroke-width="1.5"/>
<path d="M1394.67,123.95 A3.3,3.3 0 0 1 1401.27,123.95 Z" fill="#6b6b0e"/>
<circle cx="1399.73" cy="135.17" r="3.3" fill="none" stroke="#6b6b0e" stroke-width="1.5"/>
<path d="M1396.43,135.17 A3.3,3.3 0 0 1 1403.03,135.17 Z" fill="#6b6b0e"/>
<circle cx="1412.3" cy="111.71" r="3.3" fill="none" stroke="#6b6b0e" stroke-width="1.5"/>
<path d="M1409,111.71 A3.3,3.3 0 0 1 1415.6,111.71 Z" fill="#6b6b0e"/>
<circle cx="1421.85" cy="98.45" r="3.3" fill="none" stroke="#6b6b0e" stroke-width="1.5"/>
<path d="M1418.55,98.45 A3.3,3.3 0 0 1 1425.15,98.45 Z" fill="#6b6b0e"/>
<circle cx="1425.62" cy="83.14" r="3.3" fill="none" stroke="#6b6b0e" stroke-width="1.5"/>
<path d="M1422.32,83.14 A3.3,3.3 0 0 1 1428.92,83.14 Z" fill="#6b6b0e"/>
<circle cx="1439.96" cy="65.8" r="3.3" fill="none" stroke="#6b6b0e" stroke-width="1.5"/>
<path d="M1436.66,65.8 A3.3,3.3 0 0 1 1443.26,65.8 Z" fill="#6b6b0e"/>
<circle cx="1456.3" cy="42.85" r="3.3" fill="none" stroke="#6b6b0e" stroke-width="1.5"/>
<path d="M1453,42.85 A3.3,3.3 0 0 1 1459.6,42.85 Z" fill="#6b6b0e"/>
<circle cx="1479.69" cy="12.25" r="3.3" fill="none" stroke="#6b6b0e" stroke-width="1.5"/>
<path d="M1476.39,12.25 A3.3,3.3 0 0 1 1482.99,12.25 Z" fill="#6b6b0e"/>
<polyline points="1258.92,115.53 1260.09,114.2 1261.26,112.86 1262.44,111.53 1263.62,110.21 1264.81,108.89 1266,107.57 1267.2,106.27 1268.41,104.98 1269.63,103.7 1270.87,102.44 1272.11,101.19 1273.37,99.96 1274.65,98.75 1275.95,97.56 1277.26,96.39 1278.6,95.24 1279.95,94.12 1281.33,93.03 1282.74,91.97 1284.16,90.93 1285.6,89.92 1287.07,88.93 1288.55,87.97 1290.06,87.04 1291.58,86.13 1293.11,85.25 1294.67,84.39 1296.24,83.55 1297.82,82.75 1299.41,81.96 1301.02,81.2 1302.64,80.46 1304.27,79.75 1305.91,79.06 1307.56,78.39 1309.22,77.75 1310.89,77.12 1312.56,76.52 1314.24,75.94 1315.92,75.39 1317.61,74.86 1319.31,74.35 1321.01,73.87 1322.72,73.42 1324.44,72.99 1326.16,72.59 1327.88,72.21 1329.61,71.87 1331.35,71.55 1333.09,71.26 1334.84,71.01 1336.59,70.78 1338.34,70.58 1340.1,70.42 1341.86,70.28 1343.62,70.17 1345.39,70.09 1347.16,70.04 1348.93,70.01 1350.7,70.01 1352.46,70.03 1354.23,70.08 1356,70.15 1357.76,70.25 1359.53,70.36 1361.29,70.5 1363.05,70.67 1364.81,70.85 1366.56,71.06 1368.31,71.28 1370.06,71.53 1371.81,71.8 1373.55,72.09 1375.29,72.4 1377.03,72.73 1378.77,73.08 1380.5,73.45 1382.23,73.84 1383.95,74.24 1385.67,74.67 1387.38,75.11 1389.1,75.58 1390.8,76.06 1392.5,76.56 1394.2,77.08 1395.88,77.62 1397.56,78.19 1399.24,78.77 1400.9,79.37 1402.56,80 1404.2,80.65 1405.84,81.32 1407.46,82.02 1409.08,82.73 1410.68,83.48 1412.27,84.24 1413.85,85.04 1415.42,85.85 1416.97,86.7 1418.51,87.56 1420.03,88.46 1421.54,89.37 1423.04,90.31 1424.53,91.26 1426.01,92.24 1427.47,93.23 1428.93,94.23 1430.37,95.26 1431.81,96.29 1433.23,97.34 1434.65,98.4 1436.05,99.46 1437.45,100.54 1438.85,101.62 1440.23,102.71 1441.62,103.79 1443.01,104.87 1444.42,105.93 1445.84,106.96 1447.29,107.97 1448.77,108.94 1450.29,109.87 1451.86,110.75 1453.47,111.57 1455.12,112.31 1456.8,112.96 1458.51,113.49 1460.24,113.9 1461.97,114.16 1463.72,114.26 1465.46,114.18 1467.2,113.94 1468.92,113.55 1470.63,113.03 1472.31,112.39 1473.97,111.67 1475.59,110.87 1477.18,110.01 1478.73,109.1 1480.24,108.15 1481.71,107.16 1483.15,106.12 1484.56,105.05 1485.94,103.95 1487.29,102.81 1488.62,101.64 1489.92,100.45 1491.19,99.23 1492.45,98 1493.69,96.74 1494.91,95.47 1496.12,94.19 1497.31,92.89 1498.49,91.58 1499.66,90.25 1500.81,88.92 1501.95,87.58 1503.09,86.22 1504.21,84.86 1505.33,83.5 1506.43,82.12 1507.53,80.74 1508.63,79.35 1509.72,77.96 1510.81,76.57 1511.9,75.17 1512.98,73.77 1514.06,72.37 1515.14,70.97 1516.22,69.57 1517.31,68.18 1518.4,66.78 1519.49,65.39 1520.58,64 1521.68,62.62 1522.78,61.24 1523.89,59.86 1525,58.48 1526.11,57.11 1527.23,55.74 1528.35,54.38 1529.47,53.02 1530.6,51.65 1531.72,50.3 1532.85,48.94 1533.99,47.59 1535.12,46.23 1536.26,44.88 1537.39,43.53 1538.53,42.19 1539.67,40.84 1540.82,39.49 1541.96,38.15 1543.1,36.81 1544.25,35.46 1545.39,34.12 1546.54,32.78 1547.69,31.44 1548.83,30.1" fill="none" stroke="#5a0f96" stroke-width="1.9" stroke-linejoin="round" stroke-linecap="round" />
<polyline points="1258.92,134.66 1260.13,133.75 1261.35,132.84 1262.57,131.94 1263.79,131.04 1265.01,130.15 1266.24,129.27 1267.47,128.4 1268.71,127.54 1269.96,126.69 1271.22,125.86 1272.48,125.04 1273.76,124.25 1275.04,123.48 1276.34,122.72 1277.65,122 1278.97,121.3 1280.31,120.62 1281.67,119.98 1283.03,119.36 1284.41,118.77 1285.81,118.21 1287.21,117.68 1288.63,117.17 1290.06,116.68 1291.5,116.23 1292.95,115.79 1294.4,115.38 1295.87,114.99 1297.34,114.62 1298.82,114.28 1300.3,113.95 1301.79,113.65 1303.28,113.36 1304.77,113.09 1306.27,112.85 1307.77,112.61 1309.27,112.4 1310.77,112.22 1312.27,112.05 1313.77,111.91 1315.28,111.8 1316.78,111.71 1318.28,111.66 1319.78,111.64 1321.29,111.65 1322.79,111.7 1324.28,111.78 1325.78,111.9 1327.28,112.05 1328.77,112.24 1330.26,112.46 1331.74,112.71 1333.23,112.99 1334.71,113.3 1336.18,113.63 1337.65,113.99 1339.12,114.37 1340.58,114.77 1342.04,115.19 1343.49,115.64 1344.93,116.1 1346.37,116.57 1347.8,117.07 1349.23,117.57 1350.65,118.1 1352.06,118.63 1353.47,119.18 1354.88,119.74 1356.27,120.31 1357.66,120.88 1359.05,121.47 1360.43,122.07 1361.8,122.67 1363.16,123.27 1364.52,123.89 1365.88,124.5 1367.22,125.12 1368.56,125.75 1369.9,126.38 1371.24,127.02 1372.57,127.67 1373.91,128.34 1375.25,129.03 1376.59,129.73 1377.93,130.46 1379.28,131.2 1380.64,131.98 1382.01,132.77 1383.38,133.56 1384.77,134.31 1386.17,134.96 1387.58,135.47 1389.02,135.82 1390.46,135.95 1391.93,135.82 1393.39,135.45 1394.82,134.86 1396.17,134.11 1397.43,133.22 1398.55,132.22 1399.56,131.13 1400.47,129.95 1401.29,128.7 1402.04,127.4 1402.72,126.04 1403.36,124.64 1403.96,123.21 1404.54,121.77 1405.11,120.32 1405.69,118.87 1406.28,117.44 1406.91,116.02 1407.55,114.63 1408.22,113.25 1408.91,111.9 1409.63,110.55 1410.36,109.23 1411.11,107.91 1411.88,106.62 1412.67,105.33 1413.47,104.06 1414.28,102.79 1415.11,101.54 1415.95,100.29 1416.8,99.06 1417.66,97.83 1418.52,96.6 1419.4,95.38 1420.28,94.17 1421.16,92.96 1422.05,91.75 1422.94,90.54 1423.83,89.33 1424.72,88.13 1425.61,86.92 1426.49,85.71 1427.37,84.49 1428.25,83.27 1429.13,82.06 1430,80.83 1430.88,79.61 1431.74,78.38 1432.61,77.15 1433.48,75.92 1434.34,74.69 1435.2,73.46 1436.06,72.22 1436.91,70.98 1437.77,69.75 1438.63,68.51 1439.48,67.27 1440.33,66.03 1441.18,64.78 1442.04,63.54 1442.89,62.3 1443.74,61.05 1444.59,59.81 1445.44,58.57 1446.29,57.32 1447.14,56.08 1447.99,54.84 1448.85,53.59 1449.7,52.35 1450.56,51.11 1451.41,49.87 1452.27,48.63 1453.13,47.39 1453.99,46.16 1454.85,44.92 1455.71,43.69 1456.58,42.45 1457.45,41.22 1458.32,39.99 1459.19,38.77 1460.07,37.54 1460.94,36.32 1461.82,35.09 1462.7,33.87 1463.58,32.65 1464.47,31.43 1465.35,30.21 1466.24,29 1467.13,27.78 1468.01,26.57 1468.9,25.35 1469.8,24.14 1470.69,22.93 1471.58,21.72 1472.47,20.51 1473.37,19.3 1474.27,18.09 1475.16,16.88 1476.06,15.67 1476.96,14.46 1477.85,13.25 1478.75,12.04 1479.65,10.84 1480.55,9.63 1481.45,8.42" fill="none" stroke="#6b6b0e" stroke-width="1.9" stroke-linejoin="round" stroke-linecap="round" />
</g>
<line x1="1259" y1="125" x2="1265" y2="125" stroke="#ff0000" stroke-width="1.6" />
<line x1="1259" y1="71.55" x2="1265" y2="71.55" stroke="#ff0000" stroke-width="1.6" />
<line x1="1259" y1="18.1" x2="1265" y2="18.1" stroke="#ff0000" stroke-width="1.6" />
<line x1="1259" y1="146.38" x2="1262.3" y2="146.38" stroke="#ff0000" stroke-width="1.3" />
<line x1="1259" y1="135.69" x2="1262.3" y2="135.69" stroke="#ff0000" stroke-width="1.3" />
<line x1="1259" y1="114.31" x2="1262.3" y2="114.31" stroke="#ff0000" stroke-width="1.3" />
<line x1="1259" y1="103.62" x2="1262.3" y2="103.62" stroke="#ff0000" stroke-width="1.3" />
<line x1="1259" y1="92.93" x2="1262.3" y2="92.93" stroke="#ff0000" stroke-width="1.3" />
<line x1="1259" y1="82.24" x2="1262.3" y2="82.24" stroke="#ff0000" stroke-width="1.3" />
<line x1="1259" y1="60.86" x2="1262.3" y2="60.86" stroke="#ff0000" stroke-width="1.3" />
<line x1="1259" y1="50.17" x2="1262.3" y2="50.17" stroke="#ff0000" stroke-width="1.3" />
<line x1="1259" y1="39.48" x2="1262.3" y2="39.48" stroke="#ff0000" stroke-width="1.3" />
<line x1="1259" y1="28.79" x2="1262.3" y2="28.79" stroke="#ff0000" stroke-width="1.3" />
<line x1="1285.8" y1="152.9" x2="1285.8" y2="146.9" stroke="#ff0000" stroke-width="1.6" />
<line x1="1338.4" y1="152.9" x2="1338.4" y2="146.9" stroke="#ff0000" stroke-width="1.6" />
<line x1="1391" y1="152.9" x2="1391" y2="146.9" stroke="#ff0000" stroke-width="1.6" />
<line x1="1443.6" y1="152.9" x2="1443.6" y2="146.9" stroke="#ff0000" stroke-width="1.6" />
<line x1="1496.2" y1="152.9" x2="1496.2" y2="146.9" stroke="#ff0000" stroke-width="1.6" />
<line x1="1264.76" y1="152.9" x2="1264.76" y2="149.6" stroke="#ff0000" stroke-width="1.3" />
<line x1="1275.28" y1="152.9" x2="1275.28" y2="149.6" stroke="#ff0000" stroke-width="1.3" />
<line x1="1296.32" y1="152.9" x2="1296.32" y2="149.6" stroke="#ff0000" stroke-width="1.3" />
<line x1="1306.84" y1="152.9" x2="1306.84" y2="149.6" stroke="#ff0000" stroke-width="1.3" />
<line x1="1317.36" y1="152.9" x2="1317.36" y2="149.6" stroke="#ff0000" stroke-width="1.3" />
<line x1="1327.88" y1="152.9" x2="1327.88" y2="149.6" stroke="#ff0000" stroke-width="1.3" />
<line x1="1348.92" y1="152.9" x2="1348.92" y2="149.6" stroke="#ff0000" stroke-width="1.3" />
<line x1="1359.44" y1="152.9" x2="1359.44" y2="149.6" stroke="#ff0000" stroke-width="1.3" />
<line x1="1369.96" y1="152.9" x2="1369.96" y2="149.6" stroke="#ff0000" stroke-width="1.3" />
<line x1="1380.48" y1="152.9" x2="1380.48" y2="149.6" stroke="#ff0000" stroke-width="1.3" />
<line x1="1401.52" y1="152.9" x2="1401.52" y2="149.6" stroke="#ff0000" stroke-width="1.3" />
<line x1="1412.04" y1="152.9" x2="1412.04" y2="149.6" stroke="#ff0000" stroke-width="1.3" />
<line x1="1422.56" y1="152.9" x2="1422.56" y2="149.6" stroke="#ff0000" stroke-width="1.3" />
<line x1="1433.08" y1="152.9" x2="1433.08" y2="149.6" stroke="#ff0000" stroke-width="1.3" />
<line x1="1454.12" y1="152.9" x2="1454.12" y2="149.6" stroke="#ff0000" stroke-width="1.3" />
<line x1="1464.64" y1="152.9" x2="1464.64" y2="149.6" stroke="#ff0000" stroke-width="1.3" />
<line x1="1475.16" y1="152.9" x2="1475.16" y2="149.6" stroke="#ff0000" stroke-width="1.3" />
<line x1="1485.68" y1="152.9" x2="1485.68" y2="149.6" stroke="#ff0000" stroke-width="1.3" />
<line x1="1506.72" y1="152.9" x2="1506.72" y2="149.6" stroke="#ff0000" stroke-width="1.3" />
<line x1="1517.24" y1="152.9" x2="1517.24" y2="149.6" stroke="#ff0000" stroke-width="1.3" />
<line x1="1527.76" y1="152.9" x2="1527.76" y2="149.6" stroke="#ff0000" stroke-width="1.3" />
<line x1="1538.28" y1="152.9" x2="1538.28" y2="149.6" stroke="#ff0000" stroke-width="1.3" />
<rect x="1259" y="8.8" width="290.3" height="144.1" fill="none" stroke="#ff0000" stroke-width="2"/>
<text x="1255.5" y="129.6" font-family='"Liberation Sans", sans-serif' font-size="14.2" font-weight="bold" text-anchor="end" fill="#000" >10</text>
<text x="1255.5" y="76.15" font-family='"Liberation Sans", sans-serif' font-size="14.2" font-weight="bold" text-anchor="end" fill="#000" >20</text>
<text x="1255.5" y="22.7" font-family='"Liberation Sans", sans-serif' font-size="14.2" font-weight="bold" text-anchor="end" fill="#000" >30</text>
<text x="1285.8" y="170.3" font-family='"Liberation Sans", sans-serif' font-size="14.2" font-weight="bold" text-anchor="middle" fill="#000" >10</text>
<text x="1338.4" y="170.3" font-family='"Liberation Sans", sans-serif' font-size="14.2" font-weight="bold" text-anchor="middle" fill="#000" >20</text>
<text x="1391" y="170.3" font-family='"Liberation Sans", sans-serif' font-size="14.2" font-weight="bold" text-anchor="middle" fill="#000" >30</text>
<text x="1443.6" y="170.3" font-family='"Liberation Sans", sans-serif' font-size="14.2" font-weight="bold" text-anchor="middle" fill="#000" >40</text>
<text x="1496.2" y="170.3" font-family='"Liberation Sans", sans-serif' font-size="14.2" font-weight="bold" text-anchor="middle" fill="#000" >50</text>
<text x="1548.8" y="170.3" font-family='"Liberation Sans", sans-serif' font-size="14.2" font-weight="bold" text-anchor="middle" fill="#000" >60</text>
<text x="1336.9" y="36" font-family='"Liberation Sans", "DejaVu Sans", sans-serif' font-size="23" font-weight="bold" fill="#5a0f96" textLength="71" lengthAdjust="spacingAndGlyphs">107 Hz</text>
<line x1="1359.5" y1="42.7" x2="1345.35" y2="57.37" stroke="#5a0f96" stroke-width="2.4" stroke-linecap="round"/>
<polygon points="1337.6,65.4 1344.76,50.77 1345.35,57.37 1351.96,57.72" fill="#5a0f96"/>
<text x="1570" y="145.3" font-family='"Liberation Sans", "DejaVu Sans", sans-serif' font-size="23" font-weight="bold" fill="#5a0f96" textLength="58.5" lengthAdjust="spacingAndGlyphs">11 Hz</text>
<line x1="1561.9" y1="137.8" x2="1486.12" y2="121.72" stroke="#5a0f96" stroke-width="2.4" stroke-linecap="round"/>
<polygon points="1475.2,119.4 1491.4,117.73 1486.12,121.72 1489.32,127.51" fill="#5a0f96"/>
<text x="1393.9" y="210" font-family='"Liberation Sans", "DejaVu Sans", sans-serif' font-size="23" font-weight="bold" fill="#6b6b0e" textLength="79.5" lengthAdjust="spacingAndGlyphs">84.9 Hz</text>
<line x1="1434.2" y1="181.5" x2="1403.77" y2="150.11" stroke="#6b6b0e" stroke-width="2.4" stroke-linecap="round"/>
<polygon points="1396,142.1 1410.38,149.75 1403.77,150.11 1403.2,156.71" fill="#6b6b0e"/>
<text x="1201.9" y="208" font-family='"Liberation Sans", "DejaVu Sans", sans-serif' font-size="23" font-weight="bold" fill="#6b6b0e" textLength="72.9" lengthAdjust="spacingAndGlyphs">831 Hz</text>
<line x1="1265.2" y1="173.5" x2="1298.62" y2="130.79" stroke="#6b6b0e" stroke-width="2.4" stroke-linecap="round"/>
<polygon points="1305.5,122 1299.89,137.29 1298.62,130.79 1292.01,131.13" fill="#6b6b0e"/>
<text x="1595.2" y="300.7" font-family='"Liberation Sans", "DejaVu Sans", sans-serif' font-size="23" font-weight="bold" fill="#5a0f96" textLength="80.6" lengthAdjust="spacingAndGlyphs">0.01 Hz</text>
<line x1="1661.8" y1="274.6" x2="1654.33" y2="220.55" stroke="#5a0f96" stroke-width="2.4" stroke-linecap="round"/>
<polygon points="1652.8,209.5 1659.88,224.17 1654.33,220.55 1649.97,225.54" fill="#5a0f96"/>
<line x1="1613.2" y1="328.3" x2="1568.02" y2="367.58" stroke="#6b6b0e" stroke-width="2.4" stroke-linecap="round"/>
<polygon points="1559.6,374.9 1568.02,360.96 1568.02,367.58 1574.58,368.5" fill="#6b6b0e"/>
<text x="1347.1" y="371.9" font-family='"Liberation Sans", "DejaVu Sans", sans-serif' font-size="23" font-weight="bold" fill="#00781e" textLength="80.7" lengthAdjust="spacingAndGlyphs">0.01 Hz</text>
<line x1="1343.6" y1="364.3" x2="1285.52" y2="369" stroke="#00781e" stroke-width="2.4" stroke-linecap="round"/>
<polygon points="1274.4,369.9 1289.45,363.67 1285.52,369 1290.25,373.63" fill="#00781e"/>
<text x="1006.3" y="413.5" font-family='"Liberation Sans", "DejaVu Sans", sans-serif' font-size="23" font-weight="bold" fill="#00781e" textLength="80.2" lengthAdjust="spacingAndGlyphs">1.12 Hz</text>
<line x1="1042.9" y1="430" x2="1037.43" y2="489.09" stroke="#00781e" stroke-width="2.4" stroke-linecap="round"/>
<polygon points="1036.4,500.2 1032.85,484.31 1037.43,489.09 1042.81,485.23" fill="#00781e"/>
<text x="1249.9" y="500.2" font-family='"Liberation Sans", "DejaVu Sans", sans-serif' font-size="23" font-weight="bold" fill="#6b6b0e" textLength="80.1" lengthAdjust="spacingAndGlyphs">0.97 Hz</text>
<line x1="1243.4" y1="481.1" x2="1207.39" y2="456.33" stroke="#6b6b0e" stroke-width="2.4" stroke-linecap="round"/>
<polygon points="1198.2,450 1213.8,454.67 1207.39,456.33 1208.14,462.91" fill="#6b6b0e"/>
<rect x="110.4" y="667" width="767.1" height="560.6" fill="url(#bgC)"/>
<line x1="110.4" y1="1222.82" x2="877.5" y2="1222.82" stroke="#e4e4e4" stroke-width="1.1" stroke-dasharray="1.6 3.2"/>
<line x1="110.4" y1="1209.53" x2="877.5" y2="1209.53" stroke="#e4e4e4" stroke-width="1.1" stroke-dasharray="1.6 3.2"/>
<line x1="110.4" y1="1199.22" x2="877.5" y2="1199.22" stroke="#e4e4e4" stroke-width="1.1" stroke-dasharray="1.6 3.2"/>
<line x1="110.4" y1="1190.8" x2="877.5" y2="1190.8" stroke="#e4e4e4" stroke-width="1.1" stroke-dasharray="1.6 3.2"/>
<line x1="110.4" y1="1183.68" x2="877.5" y2="1183.68" stroke="#e4e4e4" stroke-width="1.1" stroke-dasharray="1.6 3.2"/>
<line x1="110.4" y1="1177.51" x2="877.5" y2="1177.51" stroke="#e4e4e4" stroke-width="1.1" stroke-dasharray="1.6 3.2"/>
<line x1="110.4" y1="1172.07" x2="877.5" y2="1172.07" stroke="#e4e4e4" stroke-width="1.1" stroke-dasharray="1.6 3.2"/>
<line x1="110.4" y1="1135.18" x2="877.5" y2="1135.18" stroke="#e4e4e4" stroke-width="1.1" stroke-dasharray="1.6 3.2"/>
<line x1="110.4" y1="1116.45" x2="877.5" y2="1116.45" stroke="#e4e4e4" stroke-width="1.1" stroke-dasharray="1.6 3.2"/>
<line x1="110.4" y1="1103.16" x2="877.5" y2="1103.16" stroke="#e4e4e4" stroke-width="1.1" stroke-dasharray="1.6 3.2"/>
<line x1="110.4" y1="1092.85" x2="877.5" y2="1092.85" stroke="#e4e4e4" stroke-width="1.1" stroke-dasharray="1.6 3.2"/>
<line x1="110.4" y1="1084.42" x2="877.5" y2="1084.42" stroke="#e4e4e4" stroke-width="1.1" stroke-dasharray="1.6 3.2"/>
<line x1="110.4" y1="1077.3" x2="877.5" y2="1077.3" stroke="#e4e4e4" stroke-width="1.1" stroke-dasharray="1.6 3.2"/>
<line x1="110.4" y1="1071.13" x2="877.5" y2="1071.13" stroke="#e4e4e4" stroke-width="1.1" stroke-dasharray="1.6 3.2"/>
<line x1="110.4" y1="1065.69" x2="877.5" y2="1065.69" stroke="#e4e4e4" stroke-width="1.1" stroke-dasharray="1.6 3.2"/>
<line x1="110.4" y1="1028.8" x2="877.5" y2="1028.8" stroke="#e4e4e4" stroke-width="1.1" stroke-dasharray="1.6 3.2"/>
<line x1="110.4" y1="1010.07" x2="877.5" y2="1010.07" stroke="#e4e4e4" stroke-width="1.1" stroke-dasharray="1.6 3.2"/>
<line x1="110.4" y1="996.78" x2="877.5" y2="996.78" stroke="#e4e4e4" stroke-width="1.1" stroke-dasharray="1.6 3.2"/>
<line x1="110.4" y1="986.47" x2="877.5" y2="986.47" stroke="#e4e4e4" stroke-width="1.1" stroke-dasharray="1.6 3.2"/>
<line x1="110.4" y1="978.05" x2="877.5" y2="978.05" stroke="#e4e4e4" stroke-width="1.1" stroke-dasharray="1.6 3.2"/>
<line x1="110.4" y1="970.93" x2="877.5" y2="970.93" stroke="#e4e4e4" stroke-width="1.1" stroke-dasharray="1.6 3.2"/>
<line x1="110.4" y1="964.76" x2="877.5" y2="964.76" stroke="#e4e4e4" stroke-width="1.1" stroke-dasharray="1.6 3.2"/>
<line x1="110.4" y1="959.32" x2="877.5" y2="959.32" stroke="#e4e4e4" stroke-width="1.1" stroke-dasharray="1.6 3.2"/>
<line x1="110.4" y1="922.43" x2="877.5" y2="922.43" stroke="#e4e4e4" stroke-width="1.1" stroke-dasharray="1.6 3.2"/>
<line x1="110.4" y1="903.7" x2="877.5" y2="903.7" stroke="#e4e4e4" stroke-width="1.1" stroke-dasharray="1.6 3.2"/>
<line x1="110.4" y1="890.41" x2="877.5" y2="890.41" stroke="#e4e4e4" stroke-width="1.1" stroke-dasharray="1.6 3.2"/>
<line x1="110.4" y1="880.1" x2="877.5" y2="880.1" stroke="#e4e4e4" stroke-width="1.1" stroke-dasharray="1.6 3.2"/>
<line x1="110.4" y1="871.67" x2="877.5" y2="871.67" stroke="#e4e4e4" stroke-width="1.1" stroke-dasharray="1.6 3.2"/>
<line x1="110.4" y1="864.55" x2="877.5" y2="864.55" stroke="#e4e4e4" stroke-width="1.1" stroke-dasharray="1.6 3.2"/>
<line x1="110.4" y1="858.38" x2="877.5" y2="858.38" stroke="#e4e4e4" stroke-width="1.1" stroke-dasharray="1.6 3.2"/>
<line x1="110.4" y1="852.94" x2="877.5" y2="852.94" stroke="#e4e4e4" stroke-width="1.1" stroke-dasharray="1.6 3.2"/>
<line x1="110.4" y1="816.05" x2="877.5" y2="816.05" stroke="#e4e4e4" stroke-width="1.1" stroke-dasharray="1.6 3.2"/>
<line x1="110.4" y1="797.32" x2="877.5" y2="797.32" stroke="#e4e4e4" stroke-width="1.1" stroke-dasharray="1.6 3.2"/>
<line x1="110.4" y1="784.03" x2="877.5" y2="784.03" stroke="#e4e4e4" stroke-width="1.1" stroke-dasharray="1.6 3.2"/>
<line x1="110.4" y1="773.72" x2="877.5" y2="773.72" stroke="#e4e4e4" stroke-width="1.1" stroke-dasharray="1.6 3.2"/>
<line x1="110.4" y1="765.3" x2="877.5" y2="765.3" stroke="#e4e4e4" stroke-width="1.1" stroke-dasharray="1.6 3.2"/>
<line x1="110.4" y1="758.18" x2="877.5" y2="758.18" stroke="#e4e4e4" stroke-width="1.1" stroke-dasharray="1.6 3.2"/>
<line x1="110.4" y1="752.01" x2="877.5" y2="752.01" stroke="#e4e4e4" stroke-width="1.1" stroke-dasharray="1.6 3.2"/>
<line x1="110.4" y1="746.57" x2="877.5" y2="746.57" stroke="#e4e4e4" stroke-width="1.1" stroke-dasharray="1.6 3.2"/>
<line x1="110.4" y1="709.68" x2="877.5" y2="709.68" stroke="#e4e4e4" stroke-width="1.1" stroke-dasharray="1.6 3.2"/>
<line x1="110.4" y1="690.95" x2="877.5" y2="690.95" stroke="#e4e4e4" stroke-width="1.1" stroke-dasharray="1.6 3.2"/>
<line x1="110.4" y1="677.66" x2="877.5" y2="677.66" stroke="#e4e4e4" stroke-width="1.1" stroke-dasharray="1.6 3.2"/>
<line x1="110.4" y1="1167.2" x2="877.5" y2="1167.2" stroke="#cfcfcf" stroke-width="1.3" />
<line x1="110.4" y1="1060.83" x2="877.5" y2="1060.83" stroke="#cfcfcf" stroke-width="1.3" />
<line x1="110.4" y1="954.45" x2="877.5" y2="954.45" stroke="#cfcfcf" stroke-width="1.3" />
<line x1="110.4" y1="848.08" x2="877.5" y2="848.08" stroke="#cfcfcf" stroke-width="1.3" />
<line x1="110.4" y1="741.7" x2="877.5" y2="741.7" stroke="#cfcfcf" stroke-width="1.3" />
<rect x="162.95" y="1048.61" width="8.6" height="8.6" fill="none" stroke="#b00000" stroke-width="2.2"/>
<rect x="178.5" y="1058.14" width="8.6" height="8.6" fill="none" stroke="#b00000" stroke-width="2.2"/>
<rect x="194.06" y="1067.54" width="8.6" height="8.6" fill="none" stroke="#b00000" stroke-width="2.2"/>
<rect x="209.62" y="1074.55" width="8.6" height="8.6" fill="none" stroke="#b00000" stroke-width="2.2"/>
<rect x="225.17" y="1079.54" width="8.6" height="8.6" fill="none" stroke="#b00000" stroke-width="2.2"/>
<rect x="240.73" y="1082.84" width="8.6" height="8.6" fill="none" stroke="#b00000" stroke-width="2.2"/>
<rect x="256.29" y="1085.33" width="8.6" height="8.6" fill="none" stroke="#b00000" stroke-width="2.2"/>
<rect x="271.84" y="1087.08" width="8.6" height="8.6" fill="none" stroke="#b00000" stroke-width="2.2"/>
<rect x="287.4" y="1089.14" width="8.6" height="8.6" fill="none" stroke="#b00000" stroke-width="2.2"/>
<rect x="302.96" y="1092.18" width="8.6" height="8.6" fill="none" stroke="#b00000" stroke-width="2.2"/>
<rect x="318.51" y="1095.91" width="8.6" height="8.6" fill="none" stroke="#b00000" stroke-width="2.2"/>
<rect x="334.07" y="1101.46" width="8.6" height="8.6" fill="none" stroke="#b00000" stroke-width="2.2"/>
<rect x="349.63" y="1109.27" width="8.6" height="8.6" fill="none" stroke="#b00000" stroke-width="2.2"/>
<rect x="365.18" y="1120.01" width="8.6" height="8.6" fill="none" stroke="#b00000" stroke-width="2.2"/>
<rect x="380.74" y="1131.82" width="8.6" height="8.6" fill="none" stroke="#b00000" stroke-width="2.2"/>
<rect x="396.3" y="1143.85" width="8.6" height="8.6" fill="none" stroke="#b00000" stroke-width="2.2"/>
<rect x="411.85" y="1154.96" width="8.6" height="8.6" fill="none" stroke="#b00000" stroke-width="2.2"/>
<rect x="427.41" y="1164.99" width="8.6" height="8.6" fill="none" stroke="#b00000" stroke-width="2.2"/>
<rect x="442.97" y="1171.87" width="8.6" height="8.6" fill="none" stroke="#b00000" stroke-width="2.2"/>
<rect x="458.52" y="1177.62" width="8.6" height="8.6" fill="none" stroke="#b00000" stroke-width="2.2"/>
<rect x="474.08" y="1181.46" width="8.6" height="8.6" fill="none" stroke="#b00000" stroke-width="2.2"/>
<rect x="489.64" y="1183.9" width="8.6" height="8.6" fill="none" stroke="#b00000" stroke-width="2.2"/>
<rect x="505.19" y="1185.9" width="8.6" height="8.6" fill="none" stroke="#b00000" stroke-width="2.2"/>
<rect x="520.75" y="1187.64" width="8.6" height="8.6" fill="none" stroke="#b00000" stroke-width="2.2"/>
<rect x="536.31" y="1188.87" width="8.6" height="8.6" fill="none" stroke="#b00000" stroke-width="2.2"/>
<rect x="551.86" y="1189.65" width="8.6" height="8.6" fill="none" stroke="#b00000" stroke-width="2.2"/>
<rect x="567.42" y="1190.15" width="8.6" height="8.6" fill="none" stroke="#b00000" stroke-width="2.2"/>
<rect x="582.98" y="1190.39" width="8.6" height="8.6" fill="none" stroke="#b00000" stroke-width="2.2"/>
<rect x="598.53" y="1190.59" width="8.6" height="8.6" fill="none" stroke="#b00000" stroke-width="2.2"/>
<rect x="614.09" y="1190.76" width="8.6" height="8.6" fill="none" stroke="#b00000" stroke-width="2.2"/>
<rect x="629.65" y="1190.87" width="8.6" height="8.6" fill="none" stroke="#b00000" stroke-width="2.2"/>
<rect x="645.2" y="1190.88" width="8.6" height="8.6" fill="none" stroke="#b00000" stroke-width="2.2"/>
<rect x="660.76" y="1190.88" width="8.6" height="8.6" fill="none" stroke="#b00000" stroke-width="2.2"/>
<rect x="676.32" y="1190.88" width="8.6" height="8.6" fill="none" stroke="#b00000" stroke-width="2.2"/>
<rect x="691.87" y="1190.88" width="8.6" height="8.6" fill="none" stroke="#b00000" stroke-width="2.2"/>
<rect x="707.43" y="1190.88" width="8.6" height="8.6" fill="none" stroke="#b00000" stroke-width="2.2"/>
<rect x="722.99" y="1190.88" width="8.6" height="8.6" fill="none" stroke="#b00000" stroke-width="2.2"/>
<rect x="738.54" y="1190.88" width="8.6" height="8.6" fill="none" stroke="#b00000" stroke-width="2.2"/>
<rect x="754.1" y="1190.88" width="8.6" height="8.6" fill="none" stroke="#b00000" stroke-width="2.2"/>
<rect x="769.66" y="1190.88" width="8.6" height="8.6" fill="none" stroke="#b00000" stroke-width="2.2"/>
<rect x="785.21" y="1190.88" width="8.6" height="8.6" fill="none" stroke="#b00000" stroke-width="2.2"/>
<rect x="800.77" y="1190.88" width="8.6" height="8.6" fill="none" stroke="#b00000" stroke-width="2.2"/>
<polyline points="158.57,1046.58 161.82,1049.04 165.06,1051.4 168.31,1053.61 171.56,1055.68 174.81,1057.66 178.06,1059.6 181.31,1061.54 184.56,1063.52 187.81,1065.56 191.06,1067.61 194.31,1069.58 197.56,1071.42 200.8,1073.09 204.05,1074.66 207.3,1076.14 210.55,1077.53 213.8,1078.8 217.05,1079.99 220.3,1081.12 223.55,1082.17 226.8,1083.13 230.05,1083.99 233.3,1084.77 236.54,1085.48 239.79,1086.15 243.04,1086.77 246.29,1087.37 249.54,1087.94 252.79,1088.48 256.04,1088.99 259.29,1089.46 262.54,1089.87 265.79,1090.25 269.04,1090.59 272.28,1090.94 275.53,1091.31 278.78,1091.7 282.03,1092.1 285.28,1092.51 288.53,1092.96 291.78,1093.45 295.03,1094.01 298.28,1094.62 301.53,1095.27 304.78,1095.95 308.02,1096.65 311.27,1097.35 314.52,1098.08 317.77,1098.86 321.02,1099.71 324.27,1100.64 327.52,1101.67 330.77,1102.8 334.02,1104.01 337.27,1105.3 340.51,1106.68 343.76,1108.17 347.01,1109.78 350.26,1111.5 353.51,1113.32 356.76,1115.31 360.01,1117.48 363.26,1119.78 366.51,1122.15 369.76,1124.51 373.01,1126.91 376.25,1129.36 379.5,1131.86 382.75,1134.36 386,1136.86 389.25,1139.39 392.5,1141.94 395.75,1144.47 399,1146.96 402.25,1149.38 405.5,1151.75 408.75,1154.09 411.99,1156.39 415.24,1158.64 418.49,1160.86 421.74,1163.09 424.99,1165.27 428.24,1167.32 431.49,1169.17 434.74,1170.81 437.99,1172.31 441.24,1173.7 444.49,1175.04 447.73,1176.35 450.98,1177.66 454.23,1178.94 457.48,1180.15 460.73,1181.27 463.98,1182.26 467.23,1183.17 470.48,1184.02 473.73,1184.79 476.98,1185.48 480.23,1186.1 483.47,1186.65 486.72,1187.15 489.97,1187.63 493.22,1188.1 496.47,1188.55 499.72,1188.98 502.97,1189.4 506.22,1189.8 509.47,1190.19 512.72,1190.59 515.96,1190.97 519.21,1191.35 522.46,1191.69 525.71,1192.01 528.96,1192.3 532.21,1192.57 535.46,1192.82 538.71,1193.05 541.96,1193.25 545.21,1193.44 548.46,1193.61 551.7,1193.76 554.95,1193.9 558.2,1194.03 561.45,1194.15 564.7,1194.26 567.95,1194.36 571.2,1194.44 574.45,1194.5 577.7,1194.56 580.95,1194.61 584.2,1194.65 587.44,1194.69 590.69,1194.73 593.94,1194.78 597.19,1194.82 600.44,1194.86 603.69,1194.9 606.94,1194.94 610.19,1194.98 613.44,1195.01 616.69,1195.05 619.94,1195.08 623.18,1195.11 626.43,1195.13 629.68,1195.15 632.93,1195.17 636.18,1195.18 639.43,1195.18 642.68,1195.18 645.93,1195.18 649.18,1195.18 652.43,1195.18 655.68,1195.18 658.92,1195.18 662.17,1195.18 665.42,1195.18 668.67,1195.18 671.92,1195.18 675.17,1195.18 678.42,1195.18 681.67,1195.18 684.92,1195.18 688.17,1195.18 691.42,1195.18 694.66,1195.18 697.91,1195.18 701.16,1195.18 704.41,1195.18 707.66,1195.18 710.91,1195.18 714.16,1195.18 717.41,1195.18 720.66,1195.18 723.91,1195.18 727.15,1195.18 730.4,1195.18 733.65,1195.18 736.9,1195.18 740.15,1195.18 743.4,1195.18 746.65,1195.18 749.9,1195.18 753.15,1195.18 756.4,1195.18 759.65,1195.18 762.89,1195.18 766.14,1195.18 769.39,1195.18 772.64,1195.18 775.89,1195.18 779.14,1195.18 782.39,1195.18 785.64,1195.18 788.89,1195.18 792.14,1195.18 795.39,1195.18 798.63,1195.18 801.88,1195.18 805.13,1195.18" fill="none" stroke="#b00000" stroke-width="2.6" stroke-linejoin="round" stroke-linecap="round" />
<circle cx="159.5" cy="813.09" r="5" fill="none" stroke="#007014" stroke-width="2.2"/>
<circle cx="182.84" cy="823.47" r="5" fill="none" stroke="#007014" stroke-width="2.2"/>
<circle cx="205.7" cy="838.56" r="5" fill="none" stroke="#007014" stroke-width="2.2"/>
<circle cx="228.1" cy="855.68" r="5" fill="none" stroke="#007014" stroke-width="2.2"/>
<circle cx="249.67" cy="873.73" r="5" fill="none" stroke="#007014" stroke-width="2.2"/>
<circle cx="270.29" cy="892.09" r="5" fill="none" stroke="#007014" stroke-width="2.2"/>
<circle cx="290.36" cy="909.15" r="5" fill="none" stroke="#007014" stroke-width="2.2"/>
<circle cx="309.78" cy="926.04" r="5" fill="none" stroke="#007014" stroke-width="2.2"/>
<circle cx="328.07" cy="941.83" r="5" fill="none" stroke="#007014" stroke-width="2.2"/>
<circle cx="344.97" cy="956.21" r="5" fill="none" stroke="#007014" stroke-width="2.2"/>
<circle cx="360.83" cy="970.81" r="5" fill="none" stroke="#007014" stroke-width="2.2"/>
<circle cx="376.42" cy="984.37" r="5" fill="none" stroke="#007014" stroke-width="2.2"/>
<circle cx="390.98" cy="996.56" r="5" fill="none" stroke="#007014" stroke-width="2.2"/>
<circle cx="404.98" cy="1007.81" r="5" fill="none" stroke="#007014" stroke-width="2.2"/>
<circle cx="418.15" cy="1019.2" r="5" fill="none" stroke="#007014" stroke-width="2.2"/>
<circle cx="430.84" cy="1029.47" r="5" fill="none" stroke="#007014" stroke-width="2.2"/>
<circle cx="443.16" cy="1039.71" r="5" fill="none" stroke="#007014" stroke-width="2.2"/>
<circle cx="454.92" cy="1049.42" r="5" fill="none" stroke="#007014" stroke-width="2.2"/>
<circle cx="465.75" cy="1058.12" r="5" fill="none" stroke="#007014" stroke-width="2.2"/>
<circle cx="476.48" cy="1066.48" r="5" fill="none" stroke="#007014" stroke-width="2.2"/>
<circle cx="487.12" cy="1074.43" r="5" fill="none" stroke="#007014" stroke-width="2.2"/>
<circle cx="497.11" cy="1081.61" r="5" fill="none" stroke="#007014" stroke-width="2.2"/>
<circle cx="506.72" cy="1088.24" r="5" fill="none" stroke="#007014" stroke-width="2.2"/>
<circle cx="516.25" cy="1094.59" r="5" fill="none" stroke="#007014" stroke-width="2.2"/>
<circle cx="525.21" cy="1100.51" r="5" fill="none" stroke="#007014" stroke-width="2.2"/>
<circle cx="532.86" cy="1105.36" r="5" fill="none" stroke="#007014" stroke-width="2.2"/>
<circle cx="542.19" cy="1110.63" r="5" fill="none" stroke="#007014" stroke-width="2.2"/>
<circle cx="551.53" cy="1115.75" r="5" fill="none" stroke="#007014" stroke-width="2.2"/>
<circle cx="560.86" cy="1121.55" r="5" fill="none" stroke="#007014" stroke-width="2.2"/>
<circle cx="570.2" cy="1124.99" r="5" fill="none" stroke="#007014" stroke-width="2.2"/>
<circle cx="579.53" cy="1129.11" r="5" fill="none" stroke="#007014" stroke-width="2.2"/>
<circle cx="588.86" cy="1132.01" r="5" fill="none" stroke="#007014" stroke-width="2.2"/>
<circle cx="598.2" cy="1135.02" r="5" fill="none" stroke="#007014" stroke-width="2.2"/>
<circle cx="607.53" cy="1138.28" r="5" fill="none" stroke="#007014" stroke-width="2.2"/>
<circle cx="616.87" cy="1140.06" r="5" fill="none" stroke="#007014" stroke-width="2.2"/>
<circle cx="626.2" cy="1142.51" r="5" fill="none" stroke="#007014" stroke-width="2.2"/>
<circle cx="635.53" cy="1143.44" r="5" fill="none" stroke="#007014" stroke-width="2.2"/>
<circle cx="644.87" cy="1144.84" r="5" fill="none" stroke="#007014" stroke-width="2.2"/>
<circle cx="654.2" cy="1146.33" r="5" fill="none" stroke="#007014" stroke-width="2.2"/>
<circle cx="663.54" cy="1147.56" r="5" fill="none" stroke="#007014" stroke-width="2.2"/>
<circle cx="672.87" cy="1146.85" r="5" fill="none" stroke="#007014" stroke-width="2.2"/>
<circle cx="682.2" cy="1147.57" r="5" fill="none" stroke="#007014" stroke-width="2.2"/>
<circle cx="691.54" cy="1148.05" r="5" fill="none" stroke="#007014" stroke-width="2.2"/>
<circle cx="700.87" cy="1148.31" r="5" fill="none" stroke="#007014" stroke-width="2.2"/>
<circle cx="710.21" cy="1148.5" r="5" fill="none" stroke="#007014" stroke-width="2.2"/>
<circle cx="719.54" cy="1148.58" r="5" fill="none" stroke="#007014" stroke-width="2.2"/>
<circle cx="728.87" cy="1148.58" r="5" fill="none" stroke="#007014" stroke-width="2.2"/>
<circle cx="738.21" cy="1148.58" r="5" fill="none" stroke="#007014" stroke-width="2.2"/>
<circle cx="747.54" cy="1148.58" r="5" fill="none" stroke="#007014" stroke-width="2.2"/>
<circle cx="756.88" cy="1148.58" r="5" fill="none" stroke="#007014" stroke-width="2.2"/>
<circle cx="766.21" cy="1148.58" r="5" fill="none" stroke="#007014" stroke-width="2.2"/>
<circle cx="775.54" cy="1148.58" r="5" fill="none" stroke="#007014" stroke-width="2.2"/>
<circle cx="784.88" cy="1145.18" r="5" fill="none" stroke="#007014" stroke-width="2.2"/>
<circle cx="794.21" cy="1150.29" r="5" fill="none" stroke="#007014" stroke-width="2.2"/>
<circle cx="803.55" cy="1148.58" r="5" fill="none" stroke="#007014" stroke-width="2.2"/>
<circle cx="812.88" cy="1147.73" r="5" fill="none" stroke="#007014" stroke-width="2.2"/>
<polyline points="159.5,813.09 162.02,813.97 164.55,814.93 167.07,815.94 169.59,817.02 172.11,818.15 174.64,819.33 177.16,820.56 179.68,821.83 182.2,823.14 184.73,824.51 187.25,825.98 189.77,827.54 192.3,829.18 194.82,830.88 197.34,832.63 199.86,834.4 202.39,836.2 204.91,837.99 207.43,839.79 209.95,841.63 212.48,843.5 215,845.4 217.52,847.34 220.04,849.3 222.57,851.28 225.09,853.27 227.61,855.28 230.14,857.31 232.66,859.36 235.18,861.44 237.7,863.54 240.23,865.66 242.75,867.8 245.27,869.95 247.79,872.12 250.32,874.29 252.84,876.5 255.36,878.74 257.89,881.01 260.41,883.28 262.93,885.56 265.45,887.82 267.98,890.06 270.5,892.27 273.02,894.45 275.54,896.6 278.07,898.74 280.59,900.87 283.11,902.99 285.64,905.12 288.16,907.26 290.68,909.42 293.2,911.6 295.73,913.79 298.25,915.99 300.77,918.19 303.29,920.4 305.82,922.6 308.34,924.8 310.86,926.98 313.38,929.17 315.91,931.35 318.43,933.53 320.95,935.71 323.48,937.88 326,940.05 328.52,942.22 331.04,944.36 333.57,946.48 336.09,948.6 338.61,950.72 341.13,952.87 343.66,955.05 346.18,957.29 348.7,959.59 351.23,961.93 353.75,964.3 356.27,966.65 358.79,968.98 361.32,971.24 363.84,973.47 366.36,975.69 368.88,977.89 371.41,980.07 373.93,982.24 376.45,984.39 378.98,986.53 381.5,988.66 384.02,990.78 386.54,992.88 389.07,994.98 391.59,997.06 394.11,999.1 396.63,1001.11 399.16,1003.11 401.68,1005.12 404.2,1007.17 406.72,1009.27 409.25,1011.45 411.77,1013.67 414.29,1015.89 416.82,1018.07 419.34,1020.19 421.86,1022.25 424.38,1024.28 426.91,1026.3 429.43,1028.32 431.95,1030.38 434.47,1032.46 437,1034.56 439.52,1036.66 442.04,1038.77 444.57,1040.88 447.09,1042.99 449.61,1045.08 452.13,1047.15 454.66,1049.21 457.18,1051.25 459.7,1053.28 462.22,1055.31 464.75,1057.32 467.27,1059.32 469.79,1061.31 472.32,1063.28 474.84,1065.22 477.36,1067.15 479.88,1069.05 482.41,1070.94 484.93,1072.82 487.45,1074.67 489.97,1076.51 492.5,1078.33 495.02,1080.13 497.54,1081.91 500.06,1083.68 502.59,1085.42 505.11,1087.14 507.63,1088.85 510.16,1090.55 512.68,1092.23 515.2,1093.9 517.72,1095.57 520.25,1097.24 522.77,1098.91 525.29,1100.56 527.81,1102.2 530.34,1103.8 532.86,1105.36 535.38,1106.87 537.91,1108.3 540.43,1109.68 542.95,1111.04 545.47,1112.38 548,1113.75 550.52,1115.16 553.04,1116.65 555.56,1118.34 558.09,1120.05 560.61,1121.43 563.13,1122.49 565.66,1123.4 568.18,1124.26 570.7,1125.19 573.22,1126.29 575.75,1127.5 578.27,1128.63 580.79,1129.55 583.31,1130.35 585.84,1131.1 588.36,1131.85 590.88,1132.64 593.4,1133.45 595.93,1134.27 598.45,1135.11 600.97,1136.02 603.5,1136.97 606.02,1137.83 608.54,1138.53 611.06,1139.04 613.59,1139.46 616.11,1139.91 618.63,1140.5 621.15,1141.23 623.68,1141.95 626.2,1142.51 628.72,1142.83 631.25,1143.06 633.77,1143.26 636.29,1143.53 638.81,1143.87 641.34,1144.25 643.86,1144.67 646.38,1145.1 648.9,1145.52 651.43,1145.93 653.95,1146.3 656.47,1146.64 659,1146.97 661.52,1147.3 664.04,1147.62 666.56,1147.92 669.09,1148.19 671.61,1148.44 674.13,1148.65 676.65,1148.86 679.18,1149.05 681.7,1149.24 684.22,1149.4 686.74,1149.55 689.27,1149.67 691.79,1149.77 694.31,1149.84 696.84,1149.91 699.36,1149.98 701.88,1150.04 704.4,1150.1 706.93,1150.15 709.45,1150.19 711.97,1150.23 714.49,1150.26 717.02,1150.28 719.54,1150.29 722.06,1150.29 724.59,1150.29 727.11,1150.29 729.63,1150.29 732.15,1150.29 734.68,1150.29 737.2,1150.29 739.72,1150.29 742.24,1150.29 744.77,1150.29 747.29,1150.29 749.81,1150.29 752.34,1150.29 754.86,1150.29 757.38,1150.29 759.9,1150.29 762.43,1150.29 764.95,1150.29 767.47,1150.29 769.99,1150.29 772.52,1150.29 775.04,1150.29 777.56,1150.29 780.08,1150.29 782.61,1150.29 785.13,1150.29 787.65,1150.29 790.18,1150.29 792.7,1150.29 795.22,1150.29 797.74,1150.29 800.27,1150.29 802.79,1150.29 805.31,1150.29 807.83,1150.29 810.36,1150.29 812.88,1150.29" fill="none" stroke="#007014" stroke-width="2.6" stroke-linejoin="round" stroke-linecap="round" />
<polygon points="159.5,744.77 165.3,754.92 153.7,754.92" fill="none" stroke="#0000ff" stroke-width="2.2" stroke-linejoin="miter"/>
<polygon points="182.84,753.49 188.64,763.64 177.03,763.64" fill="none" stroke="#0000ff" stroke-width="2.2" stroke-linejoin="miter"/>
<polygon points="205.7,763.17 211.5,773.32 199.9,773.32" fill="none" stroke="#0000ff" stroke-width="2.2" stroke-linejoin="miter"/>
<polygon points="228.1,773.95 233.9,784.1 222.3,784.1" fill="none" stroke="#0000ff" stroke-width="2.2" stroke-linejoin="miter"/>
<polygon points="249.67,785.84 255.47,795.99 243.87,795.99" fill="none" stroke="#0000ff" stroke-width="2.2" stroke-linejoin="miter"/>
<polygon points="270.29,798.5 276.09,808.65 264.49,808.65" fill="none" stroke="#0000ff" stroke-width="2.2" stroke-linejoin="miter"/>
<polygon points="290.36,813.19 296.16,823.34 284.56,823.34" fill="none" stroke="#0000ff" stroke-width="2.2" stroke-linejoin="miter"/>
<polygon points="309.78,827.06 315.58,837.21 303.98,837.21" fill="none" stroke="#0000ff" stroke-width="2.2" stroke-linejoin="miter"/>
<polygon points="328.07,840.12 333.87,850.27 322.27,850.27" fill="none" stroke="#0000ff" stroke-width="2.2" stroke-linejoin="miter"/>
<polygon points="344.97,852.2 350.77,862.35 339.17,862.35" fill="none" stroke="#0000ff" stroke-width="2.2" stroke-linejoin="miter"/>
<polygon points="360.83,864.02 366.63,874.17 355.03,874.17" fill="none" stroke="#0000ff" stroke-width="2.2" stroke-linejoin="miter"/>
<polygon points="376.42,876.02 382.22,886.17 370.62,886.17" fill="none" stroke="#0000ff" stroke-width="2.2" stroke-linejoin="miter"/>
<polygon points="390.98,887.3 396.78,897.45 385.18,897.45" fill="none" stroke="#0000ff" stroke-width="2.2" stroke-linejoin="miter"/>
<polygon points="404.98,899.23 410.78,909.38 399.18,909.38" fill="none" stroke="#0000ff" stroke-width="2.2" stroke-linejoin="miter"/>
<polygon points="418.15,910.99 423.95,921.14 412.35,921.14" fill="none" stroke="#0000ff" stroke-width="2.2" stroke-linejoin="miter"/>
<polygon points="430.84,922.36 436.64,932.51 425.04,932.51" fill="none" stroke="#0000ff" stroke-width="2.2" stroke-linejoin="miter"/>
<polygon points="443.16,933.24 448.96,943.39 437.36,943.39" fill="none" stroke="#0000ff" stroke-width="2.2" stroke-linejoin="miter"/>
<polygon points="454.92,943.89 460.72,954.04 449.12,954.04" fill="none" stroke="#0000ff" stroke-width="2.2" stroke-linejoin="miter"/>
<polygon points="465.75,954.35 471.55,964.5 459.95,964.5" fill="none" stroke="#0000ff" stroke-width="2.2" stroke-linejoin="miter"/>
<polygon points="476.48,964.64 482.28,974.79 470.68,974.79" fill="none" stroke="#0000ff" stroke-width="2.2" stroke-linejoin="miter"/>
<polygon points="487.12,974 492.92,984.15 481.32,984.15" fill="none" stroke="#0000ff" stroke-width="2.2" stroke-linejoin="miter"/>
<polygon points="497.11,982.7 502.91,992.85 491.31,992.85" fill="none" stroke="#0000ff" stroke-width="2.2" stroke-linejoin="miter"/>
<polygon points="506.72,991.39 512.52,1001.54 500.92,1001.54" fill="none" stroke="#0000ff" stroke-width="2.2" stroke-linejoin="miter"/>
<polygon points="516.25,1000.13 522.05,1010.28 510.45,1010.28" fill="none" stroke="#0000ff" stroke-width="2.2" stroke-linejoin="miter"/>
<polygon points="525.21,1008.45 531.01,1018.6 519.41,1018.6" fill="none" stroke="#0000ff" stroke-width="2.2" stroke-linejoin="miter"/>
<polygon points="532.86,1015.61 538.66,1025.76 527.06,1025.76" fill="none" stroke="#0000ff" stroke-width="2.2" stroke-linejoin="miter"/>
<polygon points="542.19,1024.39 547.99,1034.54 536.39,1034.54" fill="none" stroke="#0000ff" stroke-width="2.2" stroke-linejoin="miter"/>
<polygon points="551.53,1033.21 557.33,1043.36 545.73,1043.36" fill="none" stroke="#0000ff" stroke-width="2.2" stroke-linejoin="miter"/>
<polygon points="560.86,1042.04 566.66,1052.19 555.06,1052.19" fill="none" stroke="#0000ff" stroke-width="2.2" stroke-linejoin="miter"/>
<polygon points="570.2,1050.88 576,1061.03 564.4,1061.03" fill="none" stroke="#0000ff" stroke-width="2.2" stroke-linejoin="miter"/>
<polygon points="579.53,1059.78 585.33,1069.93 573.73,1069.93" fill="none" stroke="#0000ff" stroke-width="2.2" stroke-linejoin="miter"/>
<polygon points="588.86,1068.7 594.66,1078.85 583.06,1078.85" fill="none" stroke="#0000ff" stroke-width="2.2" stroke-linejoin="miter"/>
<polygon points="598.2,1077.56 604,1087.71 592.4,1087.71" fill="none" stroke="#0000ff" stroke-width="2.2" stroke-linejoin="miter"/>
<polygon points="607.53,1086.53 613.33,1096.68 601.73,1096.68" fill="none" stroke="#0000ff" stroke-width="2.2" stroke-linejoin="miter"/>
<polygon points="616.87,1096.07 622.67,1106.22 611.07,1106.22" fill="none" stroke="#0000ff" stroke-width="2.2" stroke-linejoin="miter"/>
<polygon points="626.2,1105.19 632,1115.34 620.4,1115.34" fill="none" stroke="#0000ff" stroke-width="2.2" stroke-linejoin="miter"/>
<polygon points="635.53,1113.24 641.33,1123.39 629.73,1123.39" fill="none" stroke="#0000ff" stroke-width="2.2" stroke-linejoin="miter"/>
<polygon points="644.87,1120.45 650.67,1130.6 639.07,1130.6" fill="none" stroke="#0000ff" stroke-width="2.2" stroke-linejoin="miter"/>
<polygon points="654.2,1126.9 660,1137.05 648.4,1137.05" fill="none" stroke="#0000ff" stroke-width="2.2" stroke-linejoin="miter"/>
<polygon points="663.54,1132.35 669.34,1142.5 657.74,1142.5" fill="none" stroke="#0000ff" stroke-width="2.2" stroke-linejoin="miter"/>
<polygon points="672.87,1136.59 678.67,1146.74 667.07,1146.74" fill="none" stroke="#0000ff" stroke-width="2.2" stroke-linejoin="miter"/>
<polygon points="682.2,1140.03 688,1150.18 676.4,1150.18" fill="none" stroke="#0000ff" stroke-width="2.2" stroke-linejoin="miter"/>
<polygon points="691.54,1142.85 697.34,1153 685.74,1153" fill="none" stroke="#0000ff" stroke-width="2.2" stroke-linejoin="miter"/>
<polygon points="700.87,1145.17 706.67,1155.32 695.07,1155.32" fill="none" stroke="#0000ff" stroke-width="2.2" stroke-linejoin="miter"/>
<polygon points="710.21,1147.04 716.01,1157.19 704.41,1157.19" fill="none" stroke="#0000ff" stroke-width="2.2" stroke-linejoin="miter"/>
<polygon points="719.54,1148.61 725.34,1158.76 713.74,1158.76" fill="none" stroke="#0000ff" stroke-width="2.2" stroke-linejoin="miter"/>
<polygon points="728.87,1150.08 734.67,1160.23 723.07,1160.23" fill="none" stroke="#0000ff" stroke-width="2.2" stroke-linejoin="miter"/>
<polygon points="738.21,1151.22 744.01,1161.37 732.41,1161.37" fill="none" stroke="#0000ff" stroke-width="2.2" stroke-linejoin="miter"/>
<polygon points="747.54,1151.87 753.34,1162.02 741.74,1162.02" fill="none" stroke="#0000ff" stroke-width="2.2" stroke-linejoin="miter"/>
<polygon points="756.88,1152.36 762.68,1162.51 751.08,1162.51" fill="none" stroke="#0000ff" stroke-width="2.2" stroke-linejoin="miter"/>
<polygon points="766.21,1152.66 772.01,1162.81 760.41,1162.81" fill="none" stroke="#0000ff" stroke-width="2.2" stroke-linejoin="miter"/>
<polygon points="775.54,1152.83 781.34,1162.98 769.74,1162.98" fill="none" stroke="#0000ff" stroke-width="2.2" stroke-linejoin="miter"/>
<polygon points="784.88,1152.96 790.68,1163.11 779.08,1163.11" fill="none" stroke="#0000ff" stroke-width="2.2" stroke-linejoin="miter"/>
<polygon points="794.21,1153.01 800.01,1163.16 788.41,1163.16" fill="none" stroke="#0000ff" stroke-width="2.2" stroke-linejoin="miter"/>
<polygon points="803.55,1152.74 809.35,1162.89 797.75,1162.89" fill="none" stroke="#0000ff" stroke-width="2.2" stroke-linejoin="miter"/>
<polygon points="812.88,1152.15 818.68,1162.3 807.08,1162.3" fill="none" stroke="#0000ff" stroke-width="2.2" stroke-linejoin="miter"/>
<polyline points="159.5,749.76 162.02,750.65 164.55,751.55 167.07,752.46 169.59,753.39 172.11,754.33 174.64,755.29 177.16,756.26 179.68,757.24 182.2,758.23 184.73,759.24 187.25,760.26 189.77,761.29 192.3,762.34 194.82,763.4 197.34,764.48 199.86,765.57 202.39,766.67 204.91,767.8 207.43,768.94 209.95,770.09 212.48,771.27 215,772.46 217.52,773.67 220.04,774.89 222.57,776.14 225.09,777.4 227.61,778.69 230.14,779.99 232.66,781.32 235.18,782.68 237.7,784.05 240.23,785.45 242.75,786.86 245.27,788.3 247.79,789.74 250.32,791.21 252.84,792.68 255.36,794.17 257.89,795.67 260.41,797.2 262.93,798.76 265.45,800.34 267.98,801.96 270.5,803.63 273.02,805.35 275.54,807.15 278.07,809 280.59,810.88 283.11,812.78 285.64,814.68 288.16,816.56 290.68,818.41 293.2,820.22 295.73,822.03 298.25,823.84 300.77,825.63 303.29,827.43 305.82,829.22 308.34,831.02 310.86,832.82 313.38,834.62 315.91,836.42 318.43,838.23 320.95,840.03 323.48,841.83 326,843.63 328.52,845.43 331.04,847.23 333.57,849.02 336.09,850.81 338.61,852.6 341.13,854.41 343.66,856.23 346.18,858.08 348.7,859.93 351.23,861.8 353.75,863.68 356.27,865.57 358.79,867.47 361.32,869.38 363.84,871.3 366.36,873.24 368.88,875.18 371.41,877.13 373.93,879.08 376.45,881.03 378.98,882.96 381.5,884.88 384.02,886.8 386.54,888.75 389.07,890.74 391.59,892.79 394.11,894.87 396.63,897 399.16,899.15 401.68,901.33 404.2,903.53 406.72,905.76 409.25,908 411.77,910.25 414.29,912.51 416.82,914.78 419.34,917.05 421.86,919.32 424.38,921.59 426.91,923.85 429.43,926.1 431.95,928.33 434.47,930.56 437,932.78 439.52,935.01 442.04,937.24 444.57,939.48 447.09,941.73 449.61,944.01 452.13,946.3 454.66,948.63 457.18,951.01 459.7,953.43 462.22,955.89 464.75,958.36 467.27,960.84 469.79,963.3 472.32,965.73 474.84,968.11 477.36,970.43 479.88,972.7 482.41,974.91 484.93,977.1 487.45,979.27 489.97,981.44 492.5,983.62 495.02,985.83 497.54,988.07 500.06,990.34 502.59,992.62 505.11,994.91 507.63,997.21 510.16,999.52 512.68,1001.84 515.2,1004.16 517.72,1006.49 520.25,1008.82 522.77,1011.17 525.29,1013.52 527.81,1015.87 530.34,1018.23 532.86,1020.6 535.38,1022.96 537.91,1025.34 540.43,1027.71 542.95,1030.09 545.47,1032.47 548,1034.86 550.52,1037.24 553.04,1039.63 555.56,1042.02 558.09,1044.41 560.61,1046.8 563.13,1049.18 565.66,1051.57 568.18,1053.96 570.7,1056.35 573.22,1058.74 575.75,1061.15 578.27,1063.56 580.79,1065.97 583.31,1068.39 585.84,1070.8 588.36,1073.21 590.88,1075.61 593.4,1078.01 595.93,1080.4 598.45,1082.79 600.97,1085.19 603.5,1087.61 606.02,1090.05 608.54,1092.52 611.06,1095.07 613.59,1097.67 616.11,1100.28 618.63,1102.86 621.15,1105.4 623.68,1107.85 626.2,1110.18 628.72,1112.43 631.25,1114.62 633.77,1116.77 636.29,1118.85 638.81,1120.88 641.34,1122.83 643.86,1124.71 646.38,1126.52 648.9,1128.3 651.43,1130.04 653.95,1131.72 656.47,1133.34 659,1134.86 661.52,1136.29 664.04,1137.59 666.56,1138.81 669.09,1139.96 671.61,1141.05 674.13,1142.09 676.65,1143.06 679.18,1143.99 681.7,1144.85 684.22,1145.68 686.74,1146.46 689.27,1147.2 691.79,1147.91 694.31,1148.59 696.84,1149.22 699.36,1149.82 701.88,1150.38 704.4,1150.91 706.93,1151.42 709.45,1151.89 711.97,1152.34 714.49,1152.78 717.02,1153.2 719.54,1153.6 722.06,1153.99 724.59,1154.4 727.11,1154.79 729.63,1155.18 732.15,1155.53 734.68,1155.85 737.2,1156.12 739.72,1156.33 742.24,1156.51 744.77,1156.68 747.29,1156.85 749.81,1157 752.34,1157.13 754.86,1157.26 757.38,1157.37 759.9,1157.47 762.43,1157.55 764.95,1157.62 767.47,1157.67 769.99,1157.72 772.52,1157.77 775.04,1157.82 777.56,1157.86 780.08,1157.89 782.61,1157.93 785.13,1157.95 787.65,1157.98 790.18,1157.99 792.7,1158 795.22,1158 797.74,1157.96 800.27,1157.88 802.79,1157.77 805.31,1157.64 807.83,1157.48 810.36,1157.31 812.88,1157.14" fill="none" stroke="#0a58d8" stroke-width="2.6" stroke-linejoin="round" stroke-linecap="round" />
<polygon points="159.5,717.57 165.9,723.97 159.5,730.37 153.1,723.97" fill="none" stroke="#6e0a3c" stroke-width="2.2"/>
<polygon points="182.84,721.45 189.24,727.85 182.84,734.25 176.44,727.85" fill="none" stroke="#6e0a3c" stroke-width="2.2"/>
<polygon points="205.7,726.24 212.1,732.64 205.7,739.04 199.3,732.64" fill="none" stroke="#6e0a3c" stroke-width="2.2"/>
<polygon points="228.1,734.3 234.5,740.7 228.1,747.1 221.7,740.7" fill="none" stroke="#6e0a3c" stroke-width="2.2"/>
<polygon points="249.67,744.15 256.07,750.55 249.67,756.95 243.27,750.55" fill="none" stroke="#6e0a3c" stroke-width="2.2"/>
<polygon points="270.29,755.63 276.69,762.03 270.29,768.43 263.89,762.03" fill="none" stroke="#6e0a3c" stroke-width="2.2"/>
<polygon points="290.36,768.92 296.76,775.32 290.36,781.72 283.96,775.32" fill="none" stroke="#6e0a3c" stroke-width="2.2"/>
<polygon points="309.78,782.79 316.18,789.19 309.78,795.59 303.38,789.19" fill="none" stroke="#6e0a3c" stroke-width="2.2"/>
<polygon points="328.07,797.26 334.47,803.66 328.07,810.06 321.67,803.66" fill="none" stroke="#6e0a3c" stroke-width="2.2"/>
<polygon points="344.97,811.04 351.37,817.44 344.97,823.84 338.57,817.44" fill="none" stroke="#6e0a3c" stroke-width="2.2"/>
<polygon points="360.83,823.19 367.23,829.59 360.83,835.99 354.43,829.59" fill="none" stroke="#6e0a3c" stroke-width="2.2"/>
<polygon points="376.42,835.7 382.82,842.1 376.42,848.5 370.02,842.1" fill="none" stroke="#6e0a3c" stroke-width="2.2"/>
<polygon points="390.98,847.32 397.38,853.72 390.98,860.12 384.58,853.72" fill="none" stroke="#6e0a3c" stroke-width="2.2"/>
<polygon points="404.98,859.14 411.38,865.54 404.98,871.94 398.58,865.54" fill="none" stroke="#6e0a3c" stroke-width="2.2"/>
<polygon points="418.15,870.24 424.55,876.64 418.15,883.04 411.75,876.64" fill="none" stroke="#6e0a3c" stroke-width="2.2"/>
<polygon points="430.84,879.08 437.24,885.48 430.84,891.88 424.44,885.48" fill="none" stroke="#6e0a3c" stroke-width="2.2"/>
<polygon points="443.16,890.06 449.56,896.46 443.16,902.86 436.76,896.46" fill="none" stroke="#6e0a3c" stroke-width="2.2"/>
<polygon points="454.92,901.33 461.32,907.73 454.92,914.13 448.52,907.73" fill="none" stroke="#6e0a3c" stroke-width="2.2"/>
<polygon points="465.75,911.4 472.15,917.8 465.75,924.2 459.35,917.8" fill="none" stroke="#6e0a3c" stroke-width="2.2"/>
<polygon points="476.48,921.23 482.88,927.63 476.48,934.03 470.08,927.63" fill="none" stroke="#6e0a3c" stroke-width="2.2"/>
<polygon points="487.12,930.56 493.52,936.96 487.12,943.36 480.72,936.96" fill="none" stroke="#6e0a3c" stroke-width="2.2"/>
<polygon points="497.11,939.29 503.51,945.69 497.11,952.09 490.71,945.69" fill="none" stroke="#6e0a3c" stroke-width="2.2"/>
<polygon points="506.72,947.99 513.12,954.39 506.72,960.79 500.32,954.39" fill="none" stroke="#6e0a3c" stroke-width="2.2"/>
<polygon points="516.25,956.68 522.65,963.08 516.25,969.48 509.85,963.08" fill="none" stroke="#6e0a3c" stroke-width="2.2"/>
<polygon points="525.21,964.83 531.61,971.23 525.21,977.63 518.81,971.23" fill="none" stroke="#6e0a3c" stroke-width="2.2"/>
<polygon points="532.86,971.78 539.26,978.18 532.86,984.58 526.46,978.18" fill="none" stroke="#6e0a3c" stroke-width="2.2"/>
<polygon points="542.19,980.14 548.59,986.54 542.19,992.94 535.79,986.54" fill="none" stroke="#6e0a3c" stroke-width="2.2"/>
<polygon points="551.53,988.63 557.93,995.03 551.53,1001.43 545.13,995.03" fill="none" stroke="#6e0a3c" stroke-width="2.2"/>
<polygon points="560.86,998.21 567.26,1004.61 560.86,1011.01 554.46,1004.61" fill="none" stroke="#6e0a3c" stroke-width="2.2"/>
<polygon points="570.2,1008.6 576.6,1015 570.2,1021.4 563.8,1015" fill="none" stroke="#6e0a3c" stroke-width="2.2"/>
<polygon points="579.53,1018.56 585.93,1024.96 579.53,1031.36 573.13,1024.96" fill="none" stroke="#6e0a3c" stroke-width="2.2"/>
<polygon points="588.86,1027.62 595.26,1034.02 588.86,1040.42 582.46,1034.02" fill="none" stroke="#6e0a3c" stroke-width="2.2"/>
<polygon points="598.2,1036.34 604.6,1042.74 598.2,1049.14 591.8,1042.74" fill="none" stroke="#6e0a3c" stroke-width="2.2"/>
<polygon points="607.53,1044.86 613.93,1051.26 607.53,1057.66 601.13,1051.26" fill="none" stroke="#6e0a3c" stroke-width="2.2"/>
<polygon points="616.87,1053.3 623.27,1059.7 616.87,1066.1 610.47,1059.7" fill="none" stroke="#6e0a3c" stroke-width="2.2"/>
<polygon points="626.2,1061.84 632.6,1068.24 626.2,1074.64 619.8,1068.24" fill="none" stroke="#6e0a3c" stroke-width="2.2"/>
<polygon points="635.53,1070.26 641.93,1076.66 635.53,1083.06 629.13,1076.66" fill="none" stroke="#6e0a3c" stroke-width="2.2"/>
<polygon points="644.87,1078.43 651.27,1084.83 644.87,1091.23 638.47,1084.83" fill="none" stroke="#6e0a3c" stroke-width="2.2"/>
<polygon points="654.2,1086.39 660.6,1092.79 654.2,1099.19 647.8,1092.79" fill="none" stroke="#6e0a3c" stroke-width="2.2"/>
<polygon points="663.54,1094.54 669.94,1100.94 663.54,1107.34 657.14,1100.94" fill="none" stroke="#6e0a3c" stroke-width="2.2"/>
<polygon points="672.87,1101.71 679.27,1108.11 672.87,1114.51 666.47,1108.11" fill="none" stroke="#6e0a3c" stroke-width="2.2"/>
<polygon points="682.2,1106.96 688.6,1113.36 682.2,1119.76 675.8,1113.36" fill="none" stroke="#6e0a3c" stroke-width="2.2"/>
<polygon points="691.54,1111.13 697.94,1117.53 691.54,1123.93 685.14,1117.53" fill="none" stroke="#6e0a3c" stroke-width="2.2"/>
<polygon points="700.87,1114.59 707.27,1120.99 700.87,1127.39 694.47,1120.99" fill="none" stroke="#6e0a3c" stroke-width="2.2"/>
<polygon points="710.21,1117.19 716.61,1123.59 710.21,1129.99 703.81,1123.59" fill="none" stroke="#6e0a3c" stroke-width="2.2"/>
<polygon points="719.54,1118.78 725.94,1125.18 719.54,1131.58 713.14,1125.18" fill="none" stroke="#6e0a3c" stroke-width="2.2"/>
<polygon points="728.87,1117.7 735.27,1124.1 728.87,1130.5 722.47,1124.1" fill="none" stroke="#6e0a3c" stroke-width="2.2"/>
<polygon points="738.21,1118.25 744.61,1124.65 738.21,1131.05 731.81,1124.65" fill="none" stroke="#6e0a3c" stroke-width="2.2"/>
<polygon points="747.54,1118.59 753.94,1124.99 747.54,1131.39 741.14,1124.99" fill="none" stroke="#6e0a3c" stroke-width="2.2"/>
<polygon points="756.88,1118.8 763.28,1125.2 756.88,1131.6 750.48,1125.2" fill="none" stroke="#6e0a3c" stroke-width="2.2"/>
<polygon points="766.21,1118.98 772.61,1125.38 766.21,1131.78 759.81,1125.38" fill="none" stroke="#6e0a3c" stroke-width="2.2"/>
<polygon points="775.54,1119.63 781.94,1126.03 775.54,1132.43 769.14,1126.03" fill="none" stroke="#6e0a3c" stroke-width="2.2"/>
<polygon points="784.88,1119.66 791.28,1126.06 784.88,1132.46 778.48,1126.06" fill="none" stroke="#6e0a3c" stroke-width="2.2"/>
<polygon points="794.21,1122.32 800.61,1128.72 794.21,1135.12 787.81,1128.72" fill="none" stroke="#6e0a3c" stroke-width="2.2"/>
<polygon points="803.55,1122.32 809.95,1128.72 803.55,1135.12 797.15,1128.72" fill="none" stroke="#6e0a3c" stroke-width="2.2"/>
<polygon points="812.88,1121.79 819.28,1128.19 812.88,1134.59 806.48,1128.19" fill="none" stroke="#6e0a3c" stroke-width="2.2"/>
<polyline points="159.5,720.25 162.02,720.65 164.55,721.09 167.07,721.55 169.59,722.04 172.11,722.56 174.64,723.09 177.16,723.65 179.68,724.23 182.2,724.82 184.73,725.45 187.25,726.1 189.77,726.79 192.3,727.52 194.82,728.27 197.34,729.05 199.86,729.85 202.39,730.67 204.91,731.52 207.43,732.39 209.95,733.3 212.48,734.26 215,735.24 217.52,736.26 220.04,737.3 222.57,738.35 225.09,739.42 227.61,740.49 230.14,741.56 232.66,742.65 235.18,743.76 237.7,744.88 240.23,746.03 242.75,747.2 245.27,748.39 247.79,749.62 250.32,750.88 252.84,752.17 255.36,753.5 257.89,754.86 260.41,756.26 262.93,757.69 265.45,759.15 267.98,760.63 270.5,762.15 273.02,763.7 275.54,765.31 278.07,766.96 280.59,768.64 283.11,770.34 285.64,772.07 288.16,773.81 290.68,775.54 293.2,777.29 295.73,779.04 298.25,780.81 300.77,782.6 303.29,784.42 305.82,786.25 308.34,788.12 310.86,790.01 313.38,791.94 315.91,793.91 318.43,795.91 320.95,797.93 323.48,799.96 326,801.99 328.52,804.02 331.04,806.08 333.57,808.15 336.09,810.24 338.61,812.31 341.13,814.38 343.66,816.41 346.18,818.39 348.7,820.34 351.23,822.25 353.75,824.16 356.27,826.07 358.79,828 361.32,829.97 363.84,831.97 366.36,833.99 368.88,836.02 371.41,838.06 373.93,840.1 376.45,842.12 378.98,844.13 381.5,846.12 384.02,848.12 386.54,850.13 389.07,852.15 391.59,854.22 394.11,856.32 396.63,858.45 399.16,860.59 401.68,862.73 404.2,864.88 406.72,867.02 409.25,869.21 411.77,871.4 414.29,873.55 416.82,875.6 419.34,877.53 421.86,879.29 424.38,880.96 426.91,882.65 429.43,884.42 431.95,886.36 434.47,888.46 437,890.68 439.52,893 442.04,895.38 444.57,897.82 447.09,900.27 449.61,902.71 452.13,905.13 454.66,907.49 457.18,909.82 459.7,912.17 462.22,914.52 464.75,916.87 467.27,919.21 469.79,921.54 472.32,923.86 474.84,926.15 477.36,928.42 479.88,930.66 482.41,932.87 484.93,935.06 487.45,937.24 489.97,939.43 492.5,941.62 495.02,943.83 497.54,946.07 500.06,948.33 502.59,950.62 505.11,952.91 507.63,955.22 510.16,957.52 512.68,959.83 515.2,962.13 517.72,964.42 520.25,966.72 522.77,969.01 525.29,971.3 527.81,973.6 530.34,975.89 532.86,978.18 535.38,980.48 537.91,982.74 540.43,984.98 542.95,987.21 545.47,989.46 548,991.74 550.52,994.08 553.04,996.49 555.56,999 558.09,1001.62 560.61,1004.33 563.13,1007.11 565.66,1009.92 568.18,1012.75 570.7,1015.57 573.22,1018.34 575.75,1021.06 578.27,1023.69 580.79,1026.22 583.31,1028.7 585.84,1031.14 588.36,1033.54 590.88,1035.92 593.4,1038.27 595.93,1040.62 598.45,1042.97 600.97,1045.3 603.5,1047.6 606.02,1049.89 608.54,1052.17 611.06,1054.45 613.59,1056.72 616.11,1059.01 618.63,1061.31 621.15,1063.61 623.68,1065.93 626.2,1068.24 628.72,1070.54 631.25,1072.83 633.77,1075.09 636.29,1077.33 638.81,1079.56 641.34,1081.76 643.86,1083.96 646.38,1086.14 648.9,1088.3 651.43,1090.44 653.95,1092.57 656.47,1094.73 659,1096.94 661.52,1099.17 664.04,1101.37 666.56,1103.49 669.09,1105.48 671.61,1107.29 674.13,1108.89 676.65,1110.38 679.18,1111.79 681.7,1113.11 684.22,1114.35 686.74,1115.52 689.27,1116.61 691.79,1117.63 694.31,1118.61 696.84,1119.56 699.36,1120.47 701.88,1121.33 704.4,1122.12 706.93,1122.82 709.45,1123.43 711.97,1123.92 714.49,1124.38 717.02,1124.8 719.54,1125.18 722.06,1125.53 724.59,1125.83 727.11,1126.08 729.63,1126.28 732.15,1126.44 734.68,1126.59 737.2,1126.73 739.72,1126.84 742.24,1126.95 744.77,1127.04 747.29,1127.11 749.81,1127.17 752.34,1127.23 754.86,1127.29 757.38,1127.34 759.9,1127.39 762.43,1127.44 764.95,1127.49 767.47,1127.53 769.99,1127.57 772.52,1127.6 775.04,1127.62 777.56,1127.64 780.08,1127.65 782.61,1127.66 785.13,1127.66 787.65,1127.66 790.18,1127.66 792.7,1127.66 795.22,1127.66 797.74,1127.66 800.27,1127.66 802.79,1127.66 805.31,1127.66 807.83,1127.66 810.36,1127.66 812.88,1127.66" fill="none" stroke="#6e0a3c" stroke-width="2.6" stroke-linejoin="round" stroke-linecap="round" />
<polygon points="159.5,710.76 165.04,713.96 165.04,720.36 159.5,723.56 153.96,720.36 153.96,713.96" fill="none" stroke="#ff1482" stroke-width="2.2"/>
<polygon points="182.84,714.6 188.38,717.8 188.38,724.2 182.84,727.4 177.29,724.2 177.29,717.8" fill="none" stroke="#ff1482" stroke-width="2.2"/>
<polygon points="205.7,718.85 211.25,722.05 211.25,728.45 205.7,731.65 200.16,728.45 200.16,722.05" fill="none" stroke="#ff1482" stroke-width="2.2"/>
<polygon points="228.1,724.16 233.65,727.36 233.65,733.76 228.1,736.96 222.56,733.76 222.56,727.36" fill="none" stroke="#ff1482" stroke-width="2.2"/>
<polygon points="249.67,730.96 255.21,734.16 255.21,740.56 249.67,743.76 244.12,740.56 244.12,734.16" fill="none" stroke="#ff1482" stroke-width="2.2"/>
<polygon points="270.29,738.55 275.84,741.75 275.84,748.15 270.29,751.35 264.75,748.15 264.75,741.75" fill="none" stroke="#ff1482" stroke-width="2.2"/>
<polygon points="290.36,747.53 295.91,750.73 295.91,757.13 290.36,760.33 284.82,757.13 284.82,750.73" fill="none" stroke="#ff1482" stroke-width="2.2"/>
<polygon points="309.78,757.92 315.32,761.12 315.32,767.52 309.78,770.72 304.23,767.52 304.23,761.12" fill="none" stroke="#ff1482" stroke-width="2.2"/>
<polygon points="328.07,768.04 333.61,771.24 333.61,777.64 328.07,780.84 322.53,777.64 322.53,771.24" fill="none" stroke="#ff1482" stroke-width="2.2"/>
<polygon points="344.97,778.75 350.51,781.95 350.51,788.35 344.97,791.55 339.42,788.35 339.42,781.95" fill="none" stroke="#ff1482" stroke-width="2.2"/>
<polygon points="360.83,789.4 366.38,792.6 366.38,799 360.83,802.2 355.29,799 355.29,792.6" fill="none" stroke="#ff1482" stroke-width="2.2"/>
<polygon points="376.42,800.02 381.96,803.22 381.96,809.62 376.42,812.82 370.88,809.62 370.88,803.22" fill="none" stroke="#ff1482" stroke-width="2.2"/>
<polygon points="390.98,810.95 396.53,814.15 396.53,820.55 390.98,823.75 385.44,820.55 385.44,814.15" fill="none" stroke="#ff1482" stroke-width="2.2"/>
<polygon points="404.98,821.42 410.53,824.62 410.53,831.02 404.98,834.22 399.44,831.02 399.44,824.62" fill="none" stroke="#ff1482" stroke-width="2.2"/>
<polygon points="418.15,832.53 423.69,835.73 423.69,842.13 418.15,845.33 412.6,842.13 412.6,835.73" fill="none" stroke="#ff1482" stroke-width="2.2"/>
<polygon points="430.84,843.05 436.38,846.25 436.38,852.65 430.84,855.85 425.3,852.65 425.3,846.25" fill="none" stroke="#ff1482" stroke-width="2.2"/>
<polygon points="443.16,854.65 448.7,857.85 448.7,864.25 443.16,867.45 437.62,864.25 437.62,857.85" fill="none" stroke="#ff1482" stroke-width="2.2"/>
<polygon points="454.92,866.24 460.46,869.44 460.46,875.84 454.92,879.04 449.38,875.84 449.38,869.44" fill="none" stroke="#ff1482" stroke-width="2.2"/>
<polygon points="465.75,876.74 471.29,879.94 471.29,886.34 465.75,889.54 460.21,886.34 460.21,879.94" fill="none" stroke="#ff1482" stroke-width="2.2"/>
<polygon points="476.48,887.17 482.03,890.37 482.03,896.77 476.48,899.97 470.94,896.77 470.94,890.37" fill="none" stroke="#ff1482" stroke-width="2.2"/>
<polygon points="487.12,896.17 492.67,899.37 492.67,905.77 487.12,908.97 481.58,905.77 481.58,899.37" fill="none" stroke="#ff1482" stroke-width="2.2"/>
<polygon points="497.11,903.69 502.65,906.89 502.65,913.29 497.11,916.49 491.57,913.29 491.57,906.89" fill="none" stroke="#ff1482" stroke-width="2.2"/>
<polygon points="506.72,909.29 512.27,912.49 512.27,918.89 506.72,922.09 501.18,918.89 501.18,912.49" fill="none" stroke="#ff1482" stroke-width="2.2"/>
<polygon points="516.25,926.15 521.79,929.35 521.79,935.75 516.25,938.95 510.7,935.75 510.7,929.35" fill="none" stroke="#ff1482" stroke-width="2.2"/>
<polygon points="525.21,935.1 530.75,938.3 530.75,944.7 525.21,947.9 519.66,944.7 519.66,938.3" fill="none" stroke="#ff1482" stroke-width="2.2"/>
<polygon points="532.86,942.79 538.4,945.99 538.4,952.39 532.86,955.59 527.32,952.39 527.32,945.99" fill="none" stroke="#ff1482" stroke-width="2.2"/>
<polygon points="542.19,952.21 547.74,955.41 547.74,961.81 542.19,965.01 536.65,961.81 536.65,955.41" fill="none" stroke="#ff1482" stroke-width="2.2"/>
<polygon points="551.53,961.62 557.07,964.82 557.07,971.22 551.53,974.42 545.99,971.22 545.99,964.82" fill="none" stroke="#ff1482" stroke-width="2.2"/>
<polygon points="560.86,971.01 566.4,974.21 566.4,980.61 560.86,983.81 555.32,980.61 555.32,974.21" fill="none" stroke="#ff1482" stroke-width="2.2"/>
<polygon points="570.2,980.4 575.74,983.6 575.74,990 570.2,993.2 564.65,990 564.65,983.6" fill="none" stroke="#ff1482" stroke-width="2.2"/>
<polygon points="579.53,989.79 585.07,992.99 585.07,999.39 579.53,1002.59 573.99,999.39 573.99,992.99" fill="none" stroke="#ff1482" stroke-width="2.2"/>
<polygon points="588.86,999.18 594.41,1002.38 594.41,1008.78 588.86,1011.98 583.32,1008.78 583.32,1002.38" fill="none" stroke="#ff1482" stroke-width="2.2"/>
<polygon points="598.2,1008.57 603.74,1011.77 603.74,1018.17 598.2,1021.37 592.66,1018.17 592.66,1011.77" fill="none" stroke="#ff1482" stroke-width="2.2"/>
<polygon points="607.53,1017.95 613.07,1021.15 613.07,1027.55 607.53,1030.75 601.99,1027.55 601.99,1021.15" fill="none" stroke="#ff1482" stroke-width="2.2"/>
<polygon points="616.87,1027.34 622.41,1030.54 622.41,1036.94 616.87,1040.14 611.32,1036.94 611.32,1030.54" fill="none" stroke="#ff1482" stroke-width="2.2"/>
<polygon points="626.2,1036.74 631.74,1039.94 631.74,1046.34 626.2,1049.54 620.66,1046.34 620.66,1039.94" fill="none" stroke="#ff1482" stroke-width="2.2"/>
<polygon points="635.53,1046.08 641.08,1049.28 641.08,1055.68 635.53,1058.88 629.99,1055.68 629.99,1049.28" fill="none" stroke="#ff1482" stroke-width="2.2"/>
<polygon points="644.87,1055.5 650.41,1058.7 650.41,1065.1 644.87,1068.3 639.33,1065.1 639.33,1058.7" fill="none" stroke="#ff1482" stroke-width="2.2"/>
<polygon points="654.2,1065.39 659.74,1068.59 659.74,1074.99 654.2,1078.19 648.66,1074.99 648.66,1068.59" fill="none" stroke="#ff1482" stroke-width="2.2"/>
<polygon points="663.54,1075.12 669.08,1078.32 669.08,1084.72 663.54,1087.92 657.99,1084.72 657.99,1078.32" fill="none" stroke="#ff1482" stroke-width="2.2"/>
<polygon points="672.87,1083.9 678.41,1087.1 678.41,1093.5 672.87,1096.7 667.33,1093.5 667.33,1087.1" fill="none" stroke="#ff1482" stroke-width="2.2"/>
<polygon points="682.2,1092.01 687.75,1095.21 687.75,1101.61 682.2,1104.81 676.66,1101.61 676.66,1095.21" fill="none" stroke="#ff1482" stroke-width="2.2"/>
<polygon points="691.54,1099.82 697.08,1103.02 697.08,1109.42 691.54,1112.62 686,1109.42 686,1103.02" fill="none" stroke="#ff1482" stroke-width="2.2"/>
<polygon points="700.87,1106.34 706.41,1109.54 706.41,1115.94 700.87,1119.14 695.33,1115.94 695.33,1109.54" fill="none" stroke="#ff1482" stroke-width="2.2"/>
<polygon points="710.21,1111.19 715.75,1114.39 715.75,1120.79 710.21,1123.99 704.66,1120.79 704.66,1114.39" fill="none" stroke="#ff1482" stroke-width="2.2"/>
<polygon points="719.54,1116.48 725.08,1119.68 725.08,1126.08 719.54,1129.28 714,1126.08 714,1119.68" fill="none" stroke="#ff1482" stroke-width="2.2"/>
<polygon points="728.87,1120.7 734.42,1123.9 734.42,1130.3 728.87,1133.5 723.33,1130.3 723.33,1123.9" fill="none" stroke="#ff1482" stroke-width="2.2"/>
<polygon points="738.21,1124.13 743.75,1127.33 743.75,1133.73 738.21,1136.93 732.67,1133.73 732.67,1127.33" fill="none" stroke="#ff1482" stroke-width="2.2"/>
<polygon points="747.54,1126.02 753.08,1129.22 753.08,1135.62 747.54,1138.82 742,1135.62 742,1129.22" fill="none" stroke="#ff1482" stroke-width="2.2"/>
<polygon points="756.88,1127.22 762.42,1130.42 762.42,1136.82 756.88,1140.02 751.33,1136.82 751.33,1130.42" fill="none" stroke="#ff1482" stroke-width="2.2"/>
<polygon points="766.21,1127.67 771.75,1130.87 771.75,1137.27 766.21,1140.47 760.67,1137.27 760.67,1130.87" fill="none" stroke="#ff1482" stroke-width="2.2"/>
<polygon points="775.54,1128.85 781.09,1132.05 781.09,1138.45 775.54,1141.65 770,1138.45 770,1132.05" fill="none" stroke="#ff1482" stroke-width="2.2"/>
<polygon points="784.88,1129.26 790.42,1132.46 790.42,1138.86 784.88,1142.06 779.34,1138.86 779.34,1132.46" fill="none" stroke="#ff1482" stroke-width="2.2"/>
<polygon points="794.21,1097.66 799.75,1100.86 799.75,1107.26 794.21,1110.46 788.67,1107.26 788.67,1100.86" fill="none" stroke="#ff1482" stroke-width="2.2"/>
<polygon points="803.55,1133.62 809.09,1136.82 809.09,1143.22 803.55,1146.42 798,1143.22 798,1136.82" fill="none" stroke="#ff1482" stroke-width="2.2"/>
<polygon points="812.88,1131.07 818.42,1134.27 818.42,1140.67 812.88,1143.87 807.34,1140.67 807.34,1134.27" fill="none" stroke="#ff1482" stroke-width="2.2"/>
<polyline points="159.5,717.16 162.02,717.55 164.55,717.95 167.07,718.35 169.59,718.76 172.11,719.18 174.64,719.6 177.16,720.02 179.68,720.45 182.2,720.89 184.73,721.33 187.25,721.77 189.77,722.22 192.3,722.67 194.82,723.12 197.34,723.59 199.86,724.07 202.39,724.57 204.91,725.08 207.43,725.61 209.95,726.15 212.48,726.71 215,727.28 217.52,727.87 220.04,728.48 222.57,729.11 225.09,729.76 227.61,730.43 230.14,731.12 232.66,731.85 235.18,732.61 237.7,733.4 240.23,734.2 242.75,735.03 245.27,735.87 247.79,736.72 250.32,737.58 252.84,738.44 255.36,739.33 257.89,740.23 260.41,741.15 262.93,742.08 265.45,743.04 267.98,744.03 270.5,745.03 273.02,746.07 275.54,747.13 278.07,748.22 280.59,749.34 283.11,750.49 285.64,751.66 288.16,752.86 290.68,754.08 293.2,755.34 295.73,756.65 298.25,758 300.77,759.37 303.29,760.76 305.82,762.15 308.34,763.54 310.86,764.91 313.38,766.27 315.91,767.63 318.43,769 320.95,770.38 323.48,771.79 326,773.23 328.52,774.71 331.04,776.23 333.57,777.8 336.09,779.4 338.61,781.02 341.13,782.66 343.66,784.3 346.18,785.95 348.7,787.62 351.23,789.3 353.75,791 356.27,792.71 358.79,794.42 361.32,796.12 363.84,797.82 366.36,799.51 368.88,801.2 371.41,802.92 373.93,804.66 376.45,806.45 378.98,808.28 381.5,810.16 384.02,812.07 386.54,814 389.07,815.91 391.59,817.8 394.11,819.66 396.63,821.51 399.16,823.36 401.68,825.25 404.2,827.2 406.72,829.22 409.25,831.33 411.77,833.48 414.29,835.65 416.82,837.81 419.34,839.92 421.86,841.98 424.38,844.03 426.91,846.1 429.43,848.22 431.95,850.43 434.47,852.73 437,855.09 439.52,857.51 442.04,859.96 444.57,862.44 447.09,864.93 449.61,867.43 452.13,869.92 454.66,872.39 457.18,874.83 459.7,877.27 462.22,879.72 464.75,882.17 467.27,884.62 469.79,887.07 472.32,889.52 474.84,891.97 477.36,894.43 479.88,896.89 482.41,899.35 484.93,901.81 487.45,904.27 489.97,906.74 492.5,909.2 495.02,911.67 497.54,914.13 500.06,916.6 502.59,919.08 505.11,921.55 507.63,924.03 510.16,926.52 512.68,929.01 515.2,931.51 517.72,934.02 520.25,936.53 522.77,939.05 525.29,941.58 527.81,944.11 530.34,946.65 532.86,949.19 535.38,951.74 537.91,954.28 540.43,956.83 542.95,959.38 545.47,961.92 548,964.46 550.52,967 553.04,969.54 555.56,972.08 558.09,974.62 560.61,977.15 563.13,979.69 565.66,982.23 568.18,984.77 570.7,987.3 573.22,989.84 575.75,992.38 578.27,994.92 580.79,997.46 583.31,1000 585.84,1002.53 588.36,1005.07 590.88,1007.61 593.4,1010.15 595.93,1012.68 598.45,1015.22 600.97,1017.76 603.5,1020.29 606.02,1022.83 608.54,1025.37 611.06,1027.91 613.59,1030.44 616.11,1032.98 618.63,1035.52 621.15,1038.06 623.68,1040.6 626.2,1043.14 628.72,1045.67 631.25,1048.2 633.77,1050.72 636.29,1053.24 638.81,1055.77 641.34,1058.31 643.86,1060.87 646.38,1063.46 648.9,1066.08 651.43,1068.78 653.95,1071.52 656.47,1074.24 659,1076.93 661.52,1079.53 664.04,1082.01 666.56,1084.44 669.09,1086.82 671.61,1089.15 674.13,1091.44 676.65,1093.67 679.18,1095.85 681.7,1097.99 684.22,1100.11 686.74,1102.25 689.27,1104.37 691.79,1106.43 694.31,1108.38 696.84,1110.2 699.36,1111.85 701.88,1113.31 704.4,1114.69 706.93,1116 709.45,1117.23 711.97,1118.38 714.49,1119.42 717.02,1120.36 719.54,1121.18 722.06,1121.92 724.59,1122.62 727.11,1123.27 729.63,1123.87 732.15,1124.41 734.68,1124.88 737.2,1125.28 739.72,1125.61 742.24,1125.91 744.77,1126.19 747.29,1126.43 749.81,1126.66 752.34,1126.85 754.86,1127.02 757.38,1127.15 759.9,1127.28 762.43,1127.4 764.95,1127.52 767.47,1127.63 769.99,1127.73 772.52,1127.82 775.04,1127.89 777.56,1127.95 780.08,1127.99 782.61,1128 785.13,1128 787.65,1128 790.18,1128 792.7,1128 795.22,1128 797.74,1128 800.27,1128 802.79,1128 805.31,1128 807.83,1128 810.36,1128 812.88,1128" fill="none" stroke="#ff1482" stroke-width="2.6" stroke-linejoin="round" stroke-linecap="round" />
<rect x="154.6" y="764.25" width="9.8" height="9.8" fill="none" stroke="#5a0f96" stroke-width="2"/>
<rect x="154.6" y="764.25" width="9.8" height="5.15" fill="#5a0f96"/>
<rect x="177.94" y="775.93" width="9.8" height="9.8" fill="none" stroke="#5a0f96" stroke-width="2"/>
<rect x="177.94" y="775.93" width="9.8" height="5.15" fill="#5a0f96"/>
<rect x="200.8" y="788.65" width="9.8" height="9.8" fill="none" stroke="#5a0f96" stroke-width="2"/>
<rect x="200.8" y="788.65" width="9.8" height="5.15" fill="#5a0f96"/>
<rect x="223.2" y="801.48" width="9.8" height="9.8" fill="none" stroke="#5a0f96" stroke-width="2"/>
<rect x="223.2" y="801.48" width="9.8" height="5.15" fill="#5a0f96"/>
<rect x="244.77" y="813.87" width="9.8" height="9.8" fill="none" stroke="#5a0f96" stroke-width="2"/>
<rect x="244.77" y="813.87" width="9.8" height="5.15" fill="#5a0f96"/>
<rect x="265.39" y="825.22" width="9.8" height="9.8" fill="none" stroke="#5a0f96" stroke-width="2"/>
<rect x="265.39" y="825.22" width="9.8" height="5.15" fill="#5a0f96"/>
<rect x="285.46" y="834.75" width="9.8" height="9.8" fill="none" stroke="#5a0f96" stroke-width="2"/>
<rect x="285.46" y="834.75" width="9.8" height="5.15" fill="#5a0f96"/>
<rect x="304.88" y="842.9" width="9.8" height="9.8" fill="none" stroke="#5a0f96" stroke-width="2"/>
<rect x="304.88" y="842.9" width="9.8" height="5.15" fill="#5a0f96"/>
<rect x="323.17" y="849.52" width="9.8" height="9.8" fill="none" stroke="#5a0f96" stroke-width="2"/>
<rect x="323.17" y="849.52" width="9.8" height="5.15" fill="#5a0f96"/>
<rect x="340.07" y="856.4" width="9.8" height="9.8" fill="none" stroke="#5a0f96" stroke-width="2"/>
<rect x="340.07" y="856.4" width="9.8" height="5.15" fill="#5a0f96"/>
<rect x="355.93" y="861.45" width="9.8" height="9.8" fill="none" stroke="#5a0f96" stroke-width="2"/>
<rect x="355.93" y="861.45" width="9.8" height="5.15" fill="#5a0f96"/>
<rect x="371.52" y="865.72" width="9.8" height="9.8" fill="none" stroke="#5a0f96" stroke-width="2"/>
<rect x="371.52" y="865.72" width="9.8" height="5.15" fill="#5a0f96"/>
<rect x="386.08" y="869.17" width="9.8" height="9.8" fill="none" stroke="#5a0f96" stroke-width="2"/>
<rect x="386.08" y="869.17" width="9.8" height="5.15" fill="#5a0f96"/>
<rect x="400.08" y="871.7" width="9.8" height="9.8" fill="none" stroke="#5a0f96" stroke-width="2"/>
<rect x="400.08" y="871.7" width="9.8" height="5.15" fill="#5a0f96"/>
<rect x="413.25" y="874.26" width="9.8" height="9.8" fill="none" stroke="#5a0f96" stroke-width="2"/>
<rect x="413.25" y="874.26" width="9.8" height="5.15" fill="#5a0f96"/>
<rect x="425.94" y="877.47" width="9.8" height="9.8" fill="none" stroke="#5a0f96" stroke-width="2"/>
<rect x="425.94" y="877.47" width="9.8" height="5.15" fill="#5a0f96"/>
<rect x="438.26" y="878.96" width="9.8" height="9.8" fill="none" stroke="#5a0f96" stroke-width="2"/>
<rect x="438.26" y="878.96" width="9.8" height="5.15" fill="#5a0f96"/>
<rect x="450.02" y="880.01" width="9.8" height="9.8" fill="none" stroke="#5a0f96" stroke-width="2"/>
<rect x="450.02" y="880.01" width="9.8" height="5.15" fill="#5a0f96"/>
<rect x="460.85" y="880.86" width="9.8" height="9.8" fill="none" stroke="#5a0f96" stroke-width="2"/>
<rect x="460.85" y="880.86" width="9.8" height="5.15" fill="#5a0f96"/>
<rect x="471.58" y="881.66" width="9.8" height="9.8" fill="none" stroke="#5a0f96" stroke-width="2"/>
<rect x="471.58" y="881.66" width="9.8" height="5.15" fill="#5a0f96"/>
<rect x="482.22" y="882.46" width="9.8" height="9.8" fill="none" stroke="#5a0f96" stroke-width="2"/>
<rect x="482.22" y="882.46" width="9.8" height="5.15" fill="#5a0f96"/>
<rect x="492.21" y="883.38" width="9.8" height="9.8" fill="none" stroke="#5a0f96" stroke-width="2"/>
<rect x="492.21" y="883.38" width="9.8" height="5.15" fill="#5a0f96"/>
<rect x="501.82" y="884.94" width="9.8" height="9.8" fill="none" stroke="#5a0f96" stroke-width="2"/>
<rect x="501.82" y="884.94" width="9.8" height="5.15" fill="#5a0f96"/>
<rect x="511.35" y="888.28" width="9.8" height="9.8" fill="none" stroke="#5a0f96" stroke-width="2"/>
<rect x="511.35" y="888.28" width="9.8" height="5.15" fill="#5a0f96"/>
<rect x="520.31" y="892.25" width="9.8" height="9.8" fill="none" stroke="#5a0f96" stroke-width="2"/>
<rect x="520.31" y="892.25" width="9.8" height="5.15" fill="#5a0f96"/>
<rect x="527.96" y="896.97" width="9.8" height="9.8" fill="none" stroke="#5a0f96" stroke-width="2"/>
<rect x="527.96" y="896.97" width="9.8" height="5.15" fill="#5a0f96"/>
<rect x="537.29" y="903.7" width="9.8" height="9.8" fill="none" stroke="#5a0f96" stroke-width="2"/>
<rect x="537.29" y="903.7" width="9.8" height="5.15" fill="#5a0f96"/>
<rect x="546.63" y="909.97" width="9.8" height="9.8" fill="none" stroke="#5a0f96" stroke-width="2"/>
<rect x="546.63" y="909.97" width="9.8" height="5.15" fill="#5a0f96"/>
<rect x="555.96" y="916.41" width="9.8" height="9.8" fill="none" stroke="#5a0f96" stroke-width="2"/>
<rect x="555.96" y="916.41" width="9.8" height="5.15" fill="#5a0f96"/>
<rect x="565.3" y="923.29" width="9.8" height="9.8" fill="none" stroke="#5a0f96" stroke-width="2"/>
<rect x="565.3" y="923.29" width="9.8" height="5.15" fill="#5a0f96"/>
<rect x="574.63" y="930.74" width="9.8" height="9.8" fill="none" stroke="#5a0f96" stroke-width="2"/>
<rect x="574.63" y="930.74" width="9.8" height="5.15" fill="#5a0f96"/>
<rect x="583.96" y="939.27" width="9.8" height="9.8" fill="none" stroke="#5a0f96" stroke-width="2"/>
<rect x="583.96" y="939.27" width="9.8" height="5.15" fill="#5a0f96"/>
<rect x="593.3" y="948.46" width="9.8" height="9.8" fill="none" stroke="#5a0f96" stroke-width="2"/>
<rect x="593.3" y="948.46" width="9.8" height="5.15" fill="#5a0f96"/>
<rect x="602.63" y="957.76" width="9.8" height="9.8" fill="none" stroke="#5a0f96" stroke-width="2"/>
<rect x="602.63" y="957.76" width="9.8" height="5.15" fill="#5a0f96"/>
<rect x="611.97" y="967.13" width="9.8" height="9.8" fill="none" stroke="#5a0f96" stroke-width="2"/>
<rect x="611.97" y="967.13" width="9.8" height="5.15" fill="#5a0f96"/>
<rect x="621.3" y="975.95" width="9.8" height="9.8" fill="none" stroke="#5a0f96" stroke-width="2"/>
<rect x="621.3" y="975.95" width="9.8" height="5.15" fill="#5a0f96"/>
<rect x="630.63" y="984.88" width="9.8" height="9.8" fill="none" stroke="#5a0f96" stroke-width="2"/>
<rect x="630.63" y="984.88" width="9.8" height="5.15" fill="#5a0f96"/>
<rect x="639.97" y="995.32" width="9.8" height="9.8" fill="none" stroke="#5a0f96" stroke-width="2"/>
<rect x="639.97" y="995.32" width="9.8" height="5.15" fill="#5a0f96"/>
<rect x="649.3" y="1004.91" width="9.8" height="9.8" fill="none" stroke="#5a0f96" stroke-width="2"/>
<rect x="649.3" y="1004.91" width="9.8" height="5.15" fill="#5a0f96"/>
<rect x="658.64" y="1014.07" width="9.8" height="9.8" fill="none" stroke="#5a0f96" stroke-width="2"/>
<rect x="658.64" y="1014.07" width="9.8" height="5.15" fill="#5a0f96"/>
<rect x="667.97" y="1023.4" width="9.8" height="9.8" fill="none" stroke="#5a0f96" stroke-width="2"/>
<rect x="667.97" y="1023.4" width="9.8" height="5.15" fill="#5a0f96"/>
<rect x="677.3" y="1032.73" width="9.8" height="9.8" fill="none" stroke="#5a0f96" stroke-width="2"/>
<rect x="677.3" y="1032.73" width="9.8" height="5.15" fill="#5a0f96"/>
<rect x="686.64" y="1042.07" width="9.8" height="9.8" fill="none" stroke="#5a0f96" stroke-width="2"/>
<rect x="686.64" y="1042.07" width="9.8" height="5.15" fill="#5a0f96"/>
<rect x="695.97" y="1051.4" width="9.8" height="9.8" fill="none" stroke="#5a0f96" stroke-width="2"/>
<rect x="695.97" y="1051.4" width="9.8" height="5.15" fill="#5a0f96"/>
<rect x="705.31" y="1060.98" width="9.8" height="9.8" fill="none" stroke="#5a0f96" stroke-width="2"/>
<rect x="705.31" y="1060.98" width="9.8" height="5.15" fill="#5a0f96"/>
<rect x="714.64" y="1070.16" width="9.8" height="9.8" fill="none" stroke="#5a0f96" stroke-width="2"/>
<rect x="714.64" y="1070.16" width="9.8" height="5.15" fill="#5a0f96"/>
<rect x="723.97" y="1077.76" width="9.8" height="9.8" fill="none" stroke="#5a0f96" stroke-width="2"/>
<rect x="723.97" y="1077.76" width="9.8" height="5.15" fill="#5a0f96"/>
<rect x="733.31" y="1084.69" width="9.8" height="9.8" fill="none" stroke="#5a0f96" stroke-width="2"/>
<rect x="733.31" y="1084.69" width="9.8" height="5.15" fill="#5a0f96"/>
<rect x="742.64" y="1091.58" width="9.8" height="9.8" fill="none" stroke="#5a0f96" stroke-width="2"/>
<rect x="742.64" y="1091.58" width="9.8" height="5.15" fill="#5a0f96"/>
<rect x="751.98" y="1097.07" width="9.8" height="9.8" fill="none" stroke="#5a0f96" stroke-width="2"/>
<rect x="751.98" y="1097.07" width="9.8" height="5.15" fill="#5a0f96"/>
<rect x="761.31" y="1101.52" width="9.8" height="9.8" fill="none" stroke="#5a0f96" stroke-width="2"/>
<rect x="761.31" y="1101.52" width="9.8" height="5.15" fill="#5a0f96"/>
<rect x="770.64" y="1104.92" width="9.8" height="9.8" fill="none" stroke="#5a0f96" stroke-width="2"/>
<rect x="770.64" y="1104.92" width="9.8" height="5.15" fill="#5a0f96"/>
<rect x="779.98" y="1107.66" width="9.8" height="9.8" fill="none" stroke="#5a0f96" stroke-width="2"/>
<rect x="779.98" y="1107.66" width="9.8" height="5.15" fill="#5a0f96"/>
<rect x="789.31" y="1105.93" width="9.8" height="9.8" fill="none" stroke="#5a0f96" stroke-width="2"/>
<rect x="789.31" y="1105.93" width="9.8" height="5.15" fill="#5a0f96"/>
<rect x="798.65" y="1111.84" width="9.8" height="9.8" fill="none" stroke="#5a0f96" stroke-width="2"/>
<rect x="798.65" y="1111.84" width="9.8" height="5.15" fill="#5a0f96"/>
<rect x="807.98" y="1116.23" width="9.8" height="9.8" fill="none" stroke="#5a0f96" stroke-width="2"/>
<rect x="807.98" y="1116.23" width="9.8" height="5.15" fill="#5a0f96"/>
<polyline points="159.5,769.15 162.02,770.35 164.55,771.56 167.07,772.79 169.59,774.04 172.11,775.3 174.64,776.58 177.16,777.87 179.68,779.18 182.2,780.5 184.73,781.84 187.25,783.2 189.77,784.59 192.3,785.99 194.82,787.4 197.34,788.82 199.86,790.25 202.39,791.68 204.91,793.1 207.43,794.53 209.95,795.96 212.48,797.4 215,798.85 217.52,800.29 220.04,801.74 222.57,803.2 225.09,804.65 227.61,806.1 230.14,807.55 232.66,809 235.18,810.46 237.7,811.92 240.23,813.38 242.75,814.84 245.27,816.28 247.79,817.72 250.32,819.14 252.84,820.56 255.36,821.98 257.89,823.4 260.41,824.81 262.93,826.21 265.45,827.57 267.98,828.91 270.5,830.22 273.02,831.49 275.54,832.74 278.07,833.96 280.59,835.17 283.11,836.35 285.64,837.51 288.16,838.66 290.68,839.79 293.2,840.9 295.73,842 298.25,843.09 300.77,844.16 303.29,845.2 305.82,846.23 308.34,847.23 310.86,848.21 313.38,849.15 315.91,850.05 318.43,850.94 320.95,851.82 323.48,852.72 326,853.64 328.52,854.6 331.04,855.62 333.57,856.68 336.09,857.76 338.61,858.83 341.13,859.86 343.66,860.83 346.18,861.73 348.7,862.59 351.23,863.41 353.75,864.21 356.27,864.98 358.79,865.74 361.32,866.49 363.84,867.22 366.36,867.93 368.88,868.63 371.41,869.31 373.93,869.98 376.45,870.63 378.98,871.27 381.5,871.9 384.02,872.52 386.54,873.11 389.07,873.67 391.59,874.19 394.11,874.67 396.63,875.12 399.16,875.56 401.68,876 404.2,876.45 406.72,876.92 409.25,877.39 411.77,877.86 414.29,878.35 416.82,878.87 419.34,879.45 421.86,880.14 424.38,880.87 426.91,881.57 429.43,882.14 431.95,882.54 434.47,882.89 437,883.21 439.52,883.49 442.04,883.75 444.57,884 447.09,884.23 449.61,884.45 452.13,884.67 454.66,884.89 457.18,885.11 459.7,885.31 462.22,885.5 464.75,885.69 467.27,885.87 469.79,886.06 472.32,886.24 474.84,886.44 477.36,886.63 479.88,886.83 482.41,887.01 484.93,887.19 487.45,887.38 489.97,887.59 492.5,887.81 495.02,888.05 497.54,888.33 500.06,888.66 502.59,889.05 505.11,889.51 507.63,890.05 510.16,890.78 512.68,891.72 515.2,892.75 517.72,893.78 520.25,894.83 522.77,895.96 525.29,897.19 527.81,898.58 530.34,900.15 532.86,901.87 535.38,903.68 537.91,905.53 540.43,907.36 542.95,909.12 545.47,910.82 548,912.51 550.52,914.2 553.04,915.89 555.56,917.6 558.09,919.34 560.61,921.12 563.13,922.95 565.66,924.8 568.18,926.67 570.7,928.57 573.22,930.52 575.75,932.52 578.27,934.59 580.79,936.72 583.31,938.95 585.84,941.28 588.36,943.68 590.88,946.14 593.4,948.62 595.93,951.12 598.45,953.61 600.97,956.08 603.5,958.6 606.02,961.13 608.54,963.68 611.06,966.23 613.59,968.77 616.11,971.28 618.63,973.76 621.15,976.16 623.68,978.52 626.2,980.85 628.72,983.18 631.25,985.56 633.77,988.01 636.29,990.55 638.81,993.27 641.34,996.18 643.86,999.09 646.38,1001.85 648.9,1004.48 651.43,1007.05 653.95,1009.56 656.47,1012.04 659,1014.5 661.52,1016.97 664.04,1019.47 666.56,1021.99 669.09,1024.51 671.61,1027.04 674.13,1029.56 676.65,1032.08 679.18,1034.61 681.7,1037.13 684.22,1039.65 686.74,1042.17 689.27,1044.7 691.79,1047.22 694.31,1049.74 696.84,1052.26 699.36,1054.79 701.88,1057.31 704.4,1059.86 706.93,1062.47 709.45,1065.1 711.97,1067.71 714.49,1070.26 717.02,1072.72 719.54,1075.06 722.06,1077.24 724.59,1079.31 727.11,1081.3 729.63,1083.23 732.15,1085.12 734.68,1086.98 737.2,1088.84 739.72,1090.72 742.24,1092.64 744.77,1094.54 747.29,1096.32 749.81,1097.91 752.34,1099.41 754.86,1100.86 757.38,1102.24 759.9,1103.55 762.43,1104.77 764.95,1105.9 767.47,1106.93 769.99,1107.89 772.52,1108.8 775.04,1109.65 777.56,1110.46 780.08,1111.22 782.61,1111.94 785.13,1112.63 787.65,1113.27 790.18,1113.87 792.7,1114.44 795.22,1114.99 797.74,1115.52 800.27,1116.06 802.79,1116.59 805.31,1117.1 807.83,1117.61 810.36,1118.1 812.88,1118.58" fill="none" stroke="#5a0f96" stroke-width="2.6" stroke-linejoin="round" stroke-linecap="round" />
<circle cx="159.5" cy="784.02" r="5.3" fill="none" stroke="#6b6b0e" stroke-width="2.2"/>
<path d="M159.5,778.72 A5.3,5.3 0 0 1 159.5,789.32 Z" fill="#6b6b0e"/>
<circle cx="182.84" cy="787.87" r="5.3" fill="none" stroke="#6b6b0e" stroke-width="2.2"/>
<path d="M182.84,782.57 A5.3,5.3 0 0 1 182.84,793.17 Z" fill="#6b6b0e"/>
<circle cx="205.7" cy="793.48" r="5.3" fill="none" stroke="#6b6b0e" stroke-width="2.2"/>
<path d="M205.7,788.18 A5.3,5.3 0 0 1 205.7,798.78 Z" fill="#6b6b0e"/>
<circle cx="228.1" cy="799.13" r="5.3" fill="none" stroke="#6b6b0e" stroke-width="2.2"/>
<path d="M228.1,793.83 A5.3,5.3 0 0 1 228.1,804.43 Z" fill="#6b6b0e"/>
<circle cx="249.67" cy="804.22" r="5.3" fill="none" stroke="#6b6b0e" stroke-width="2.2"/>
<path d="M249.67,798.92 A5.3,5.3 0 0 1 249.67,809.52 Z" fill="#6b6b0e"/>
<circle cx="270.29" cy="809.29" r="5.3" fill="none" stroke="#6b6b0e" stroke-width="2.2"/>
<path d="M270.29,803.99 A5.3,5.3 0 0 1 270.29,814.59 Z" fill="#6b6b0e"/>
<circle cx="290.36" cy="814.47" r="5.3" fill="none" stroke="#6b6b0e" stroke-width="2.2"/>
<path d="M290.36,809.17 A5.3,5.3 0 0 1 290.36,819.77 Z" fill="#6b6b0e"/>
<circle cx="309.78" cy="820.02" r="5.3" fill="none" stroke="#6b6b0e" stroke-width="2.2"/>
<path d="M309.78,814.72 A5.3,5.3 0 0 1 309.78,825.32 Z" fill="#6b6b0e"/>
<circle cx="328.07" cy="825.78" r="5.3" fill="none" stroke="#6b6b0e" stroke-width="2.2"/>
<path d="M328.07,820.48 A5.3,5.3 0 0 1 328.07,831.08 Z" fill="#6b6b0e"/>
<circle cx="344.97" cy="831.84" r="5.3" fill="none" stroke="#6b6b0e" stroke-width="2.2"/>
<path d="M344.97,826.54 A5.3,5.3 0 0 1 344.97,837.14 Z" fill="#6b6b0e"/>
<circle cx="360.83" cy="838.95" r="5.3" fill="none" stroke="#6b6b0e" stroke-width="2.2"/>
<path d="M360.83,833.65 A5.3,5.3 0 0 1 360.83,844.25 Z" fill="#6b6b0e"/>
<circle cx="376.42" cy="846.67" r="5.3" fill="none" stroke="#6b6b0e" stroke-width="2.2"/>
<path d="M376.42,841.37 A5.3,5.3 0 0 1 376.42,851.97 Z" fill="#6b6b0e"/>
<circle cx="390.98" cy="853.6" r="5.3" fill="none" stroke="#6b6b0e" stroke-width="2.2"/>
<path d="M390.98,848.3 A5.3,5.3 0 0 1 390.98,858.9 Z" fill="#6b6b0e"/>
<circle cx="404.98" cy="860.35" r="5.3" fill="none" stroke="#6b6b0e" stroke-width="2.2"/>
<path d="M404.98,855.05 A5.3,5.3 0 0 1 404.98,865.65 Z" fill="#6b6b0e"/>
<circle cx="418.15" cy="867.19" r="5.3" fill="none" stroke="#6b6b0e" stroke-width="2.2"/>
<path d="M418.15,861.89 A5.3,5.3 0 0 1 418.15,872.49 Z" fill="#6b6b0e"/>
<circle cx="430.84" cy="874.42" r="5.3" fill="none" stroke="#6b6b0e" stroke-width="2.2"/>
<path d="M430.84,869.12 A5.3,5.3 0 0 1 430.84,879.72 Z" fill="#6b6b0e"/>
<circle cx="443.16" cy="879.72" r="5.3" fill="none" stroke="#6b6b0e" stroke-width="2.2"/>
<path d="M443.16,874.42 A5.3,5.3 0 0 1 443.16,885.02 Z" fill="#6b6b0e"/>
<circle cx="454.92" cy="884.76" r="5.3" fill="none" stroke="#6b6b0e" stroke-width="2.2"/>
<path d="M454.92,879.46 A5.3,5.3 0 0 1 454.92,890.06 Z" fill="#6b6b0e"/>
<circle cx="465.75" cy="889.79" r="5.3" fill="none" stroke="#6b6b0e" stroke-width="2.2"/>
<path d="M465.75,884.49 A5.3,5.3 0 0 1 465.75,895.09 Z" fill="#6b6b0e"/>
<circle cx="476.48" cy="893.4" r="5.3" fill="none" stroke="#6b6b0e" stroke-width="2.2"/>
<path d="M476.48,888.1 A5.3,5.3 0 0 1 476.48,898.7 Z" fill="#6b6b0e"/>
<circle cx="487.12" cy="896.07" r="5.3" fill="none" stroke="#6b6b0e" stroke-width="2.2"/>
<path d="M487.12,890.77 A5.3,5.3 0 0 1 487.12,901.37 Z" fill="#6b6b0e"/>
<circle cx="497.11" cy="898.57" r="5.3" fill="none" stroke="#6b6b0e" stroke-width="2.2"/>
<path d="M497.11,893.27 A5.3,5.3 0 0 1 497.11,903.87 Z" fill="#6b6b0e"/>
<circle cx="506.72" cy="903.43" r="5.3" fill="none" stroke="#6b6b0e" stroke-width="2.2"/>
<path d="M506.72,898.13 A5.3,5.3 0 0 1 506.72,908.73 Z" fill="#6b6b0e"/>
<circle cx="516.25" cy="900.58" r="5.3" fill="none" stroke="#6b6b0e" stroke-width="2.2"/>
<path d="M516.25,895.28 A5.3,5.3 0 0 1 516.25,905.88 Z" fill="#6b6b0e"/>
<circle cx="525.21" cy="900.79" r="5.3" fill="none" stroke="#6b6b0e" stroke-width="2.2"/>
<path d="M525.21,895.49 A5.3,5.3 0 0 1 525.21,906.09 Z" fill="#6b6b0e"/>
<circle cx="532.86" cy="901.04" r="5.3" fill="none" stroke="#6b6b0e" stroke-width="2.2"/>
<path d="M532.86,895.74 A5.3,5.3 0 0 1 532.86,906.34 Z" fill="#6b6b0e"/>
<circle cx="542.19" cy="901.39" r="5.3" fill="none" stroke="#6b6b0e" stroke-width="2.2"/>
<path d="M542.19,896.09 A5.3,5.3 0 0 1 542.19,906.69 Z" fill="#6b6b0e"/>
<circle cx="551.53" cy="901.9" r="5.3" fill="none" stroke="#6b6b0e" stroke-width="2.2"/>
<path d="M551.53,896.6 A5.3,5.3 0 0 1 551.53,907.2 Z" fill="#6b6b0e"/>
<circle cx="560.86" cy="902.7" r="5.3" fill="none" stroke="#6b6b0e" stroke-width="2.2"/>
<path d="M560.86,897.4 A5.3,5.3 0 0 1 560.86,908 Z" fill="#6b6b0e"/>
<circle cx="570.2" cy="904.3" r="5.3" fill="none" stroke="#6b6b0e" stroke-width="2.2"/>
<path d="M570.2,899 A5.3,5.3 0 0 1 570.2,909.6 Z" fill="#6b6b0e"/>
<circle cx="579.53" cy="906.73" r="5.3" fill="none" stroke="#6b6b0e" stroke-width="2.2"/>
<path d="M579.53,901.43 A5.3,5.3 0 0 1 579.53,912.03 Z" fill="#6b6b0e"/>
<circle cx="588.86" cy="909.2" r="5.3" fill="none" stroke="#6b6b0e" stroke-width="2.2"/>
<path d="M588.86,903.9 A5.3,5.3 0 0 1 588.86,914.5 Z" fill="#6b6b0e"/>
<circle cx="598.2" cy="911.99" r="5.3" fill="none" stroke="#6b6b0e" stroke-width="2.2"/>
<path d="M598.2,906.69 A5.3,5.3 0 0 1 598.2,917.29 Z" fill="#6b6b0e"/>
<circle cx="607.53" cy="915.14" r="5.3" fill="none" stroke="#6b6b0e" stroke-width="2.2"/>
<path d="M607.53,909.84 A5.3,5.3 0 0 1 607.53,920.44 Z" fill="#6b6b0e"/>
<circle cx="616.87" cy="918.69" r="5.3" fill="none" stroke="#6b6b0e" stroke-width="2.2"/>
<path d="M616.87,913.39 A5.3,5.3 0 0 1 616.87,923.99 Z" fill="#6b6b0e"/>
<circle cx="626.2" cy="922.59" r="5.3" fill="none" stroke="#6b6b0e" stroke-width="2.2"/>
<path d="M626.2,917.29 A5.3,5.3 0 0 1 626.2,927.89 Z" fill="#6b6b0e"/>
<circle cx="635.53" cy="927.02" r="5.3" fill="none" stroke="#6b6b0e" stroke-width="2.2"/>
<path d="M635.53,921.72 A5.3,5.3 0 0 1 635.53,932.32 Z" fill="#6b6b0e"/>
<circle cx="644.87" cy="932.42" r="5.3" fill="none" stroke="#6b6b0e" stroke-width="2.2"/>
<path d="M644.87,927.12 A5.3,5.3 0 0 1 644.87,937.72 Z" fill="#6b6b0e"/>
<circle cx="654.2" cy="938.67" r="5.3" fill="none" stroke="#6b6b0e" stroke-width="2.2"/>
<path d="M654.2,933.37 A5.3,5.3 0 0 1 654.2,943.97 Z" fill="#6b6b0e"/>
<circle cx="663.54" cy="945.45" r="5.3" fill="none" stroke="#6b6b0e" stroke-width="2.2"/>
<path d="M663.54,940.15 A5.3,5.3 0 0 1 663.54,950.75 Z" fill="#6b6b0e"/>
<circle cx="672.87" cy="952.76" r="5.3" fill="none" stroke="#6b6b0e" stroke-width="2.2"/>
<path d="M672.87,947.46 A5.3,5.3 0 0 1 672.87,958.06 Z" fill="#6b6b0e"/>
<circle cx="682.2" cy="960.21" r="5.3" fill="none" stroke="#6b6b0e" stroke-width="2.2"/>
<path d="M682.2,954.91 A5.3,5.3 0 0 1 682.2,965.51 Z" fill="#6b6b0e"/>
<circle cx="691.54" cy="967.97" r="5.3" fill="none" stroke="#6b6b0e" stroke-width="2.2"/>
<path d="M691.54,962.67 A5.3,5.3 0 0 1 691.54,973.27 Z" fill="#6b6b0e"/>
<circle cx="700.87" cy="976.25" r="5.3" fill="none" stroke="#6b6b0e" stroke-width="2.2"/>
<path d="M700.87,970.95 A5.3,5.3 0 0 1 700.87,981.55 Z" fill="#6b6b0e"/>
<circle cx="710.21" cy="984.87" r="5.3" fill="none" stroke="#6b6b0e" stroke-width="2.2"/>
<path d="M710.21,979.57 A5.3,5.3 0 0 1 710.21,990.17 Z" fill="#6b6b0e"/>
<circle cx="719.54" cy="993.6" r="5.3" fill="none" stroke="#6b6b0e" stroke-width="2.2"/>
<path d="M719.54,988.3 A5.3,5.3 0 0 1 719.54,998.9 Z" fill="#6b6b0e"/>
<circle cx="728.87" cy="1002.14" r="5.3" fill="none" stroke="#6b6b0e" stroke-width="2.2"/>
<path d="M728.87,996.84 A5.3,5.3 0 0 1 728.87,1007.44 Z" fill="#6b6b0e"/>
<circle cx="738.21" cy="1010.5" r="5.3" fill="none" stroke="#6b6b0e" stroke-width="2.2"/>
<path d="M738.21,1005.2 A5.3,5.3 0 0 1 738.21,1015.8 Z" fill="#6b6b0e"/>
<circle cx="747.54" cy="1018.56" r="5.3" fill="none" stroke="#6b6b0e" stroke-width="2.2"/>
<path d="M747.54,1013.26 A5.3,5.3 0 0 1 747.54,1023.86 Z" fill="#6b6b0e"/>
<circle cx="756.88" cy="1026.62" r="5.3" fill="none" stroke="#6b6b0e" stroke-width="2.2"/>
<path d="M756.88,1021.32 A5.3,5.3 0 0 1 756.88,1031.92 Z" fill="#6b6b0e"/>
<circle cx="766.21" cy="1035.08" r="5.3" fill="none" stroke="#6b6b0e" stroke-width="2.2"/>
<path d="M766.21,1029.78 A5.3,5.3 0 0 1 766.21,1040.38 Z" fill="#6b6b0e"/>
<circle cx="775.54" cy="1053.16" r="5.3" fill="none" stroke="#6b6b0e" stroke-width="2.2"/>
<path d="M775.54,1047.86 A5.3,5.3 0 0 1 775.54,1058.46 Z" fill="#6b6b0e"/>
<circle cx="784.88" cy="1101.29" r="5.3" fill="none" stroke="#6b6b0e" stroke-width="2.2"/>
<path d="M784.88,1095.99 A5.3,5.3 0 0 1 784.88,1106.59 Z" fill="#6b6b0e"/>
<circle cx="794.21" cy="1062.85" r="5.3" fill="none" stroke="#6b6b0e" stroke-width="2.2"/>
<path d="M794.21,1057.55 A5.3,5.3 0 0 1 794.21,1068.15 Z" fill="#6b6b0e"/>
<circle cx="803.55" cy="1069.34" r="5.3" fill="none" stroke="#6b6b0e" stroke-width="2.2"/>
<path d="M803.55,1064.04 A5.3,5.3 0 0 1 803.55,1074.64 Z" fill="#6b6b0e"/>
<circle cx="812.88" cy="1074.01" r="5.3" fill="none" stroke="#6b6b0e" stroke-width="2.2"/>
<path d="M812.88,1068.71 A5.3,5.3 0 0 1 812.88,1079.31 Z" fill="#6b6b0e"/>
<polyline points="159.5,784.02 162.02,784.34 164.55,784.7 167.07,785.07 169.59,785.47 172.11,785.89 174.64,786.33 177.16,786.78 179.68,787.26 182.2,787.74 184.73,788.26 187.25,788.82 189.77,789.42 192.3,790.04 194.82,790.68 197.34,791.34 199.86,791.99 202.39,792.64 204.91,793.28 207.43,793.91 209.95,794.55 212.48,795.19 215,795.83 217.52,796.48 220.04,797.12 222.57,797.75 225.09,798.38 227.61,799.01 230.14,799.62 232.66,800.22 235.18,800.81 237.7,801.4 240.23,801.99 242.75,802.58 245.27,803.17 247.79,803.77 250.32,804.37 252.84,804.98 255.36,805.6 257.89,806.21 260.41,806.83 262.93,807.45 265.45,808.08 267.98,808.71 270.5,809.34 273.02,809.98 275.54,810.61 278.07,811.25 280.59,811.9 283.11,812.55 285.64,813.21 288.16,813.88 290.68,814.56 293.2,815.25 295.73,815.95 298.25,816.66 300.77,817.38 303.29,818.11 305.82,818.84 308.34,819.59 310.86,820.34 313.38,821.11 315.91,821.88 318.43,822.66 320.95,823.46 323.48,824.26 326,825.09 328.52,825.93 331.04,826.78 333.57,827.64 336.09,828.52 338.61,829.42 341.13,830.35 343.66,831.32 346.18,832.33 348.7,833.4 351.23,834.51 353.75,835.65 356.27,836.81 358.79,838 361.32,839.18 363.84,840.4 366.36,841.65 368.88,842.91 371.41,844.18 373.93,845.44 376.45,846.68 378.98,847.89 381.5,849.1 384.02,850.29 386.54,851.48 389.07,852.68 391.59,853.89 394.11,855.09 396.63,856.29 399.16,857.5 401.68,858.72 404.2,859.96 406.72,861.22 409.25,862.51 411.77,863.81 414.29,865.13 416.82,866.47 419.34,867.85 421.86,869.32 424.38,870.82 426.91,872.3 429.43,873.7 431.95,874.96 434.47,876.1 437,877.17 439.52,878.21 442.04,879.25 444.57,880.32 447.09,881.39 449.61,882.46 452.13,883.54 454.66,884.64 457.18,885.8 459.7,887.02 462.22,888.23 464.75,889.37 467.27,890.37 469.79,891.29 472.32,892.13 474.84,892.92 477.36,893.65 479.88,894.31 482.41,894.93 484.93,895.53 487.45,896.15 489.97,896.81 492.5,897.48 495.02,898.11 497.54,898.65 500.06,899.18 502.59,899.67 505.11,900.07 507.63,900.3 510.16,900.41 512.68,900.49 515.2,900.56 517.72,900.62 520.25,900.67 522.77,900.73 525.29,900.8 527.81,900.88 530.34,900.95 532.86,901.04 535.38,901.12 537.91,901.21 540.43,901.31 542.95,901.42 545.47,901.55 548,901.68 550.52,901.84 553.04,902.01 555.56,902.2 558.09,902.42 560.61,902.67 563.13,902.96 565.66,903.35 568.18,903.85 570.7,904.42 573.22,905.05 575.75,905.72 578.27,906.39 580.79,907.05 583.31,907.7 585.84,908.37 588.36,909.06 590.88,909.78 593.4,910.52 595.93,911.28 598.45,912.07 600.97,912.88 603.5,913.72 606.02,914.6 608.54,915.5 611.06,916.44 613.59,917.4 616.11,918.39 618.63,919.4 621.15,920.43 623.68,921.49 626.2,922.59 628.72,923.72 631.25,924.89 633.77,926.13 636.29,927.42 638.81,928.78 641.34,930.24 643.86,931.78 646.38,933.39 648.9,935.05 651.43,936.76 653.95,938.49 656.47,940.24 659,942.05 661.52,943.92 664.04,945.84 666.56,947.79 669.09,949.77 671.61,951.77 674.13,953.76 676.65,955.76 679.18,957.77 681.7,959.8 684.22,961.85 686.74,963.93 689.27,966.04 691.79,968.19 694.31,970.37 696.84,972.6 699.36,974.87 701.88,977.17 704.4,979.49 706.93,981.83 709.45,984.17 711.97,986.5 714.49,988.86 717.02,991.24 719.54,993.6 722.06,995.92 724.59,998.23 727.11,1000.54 729.63,1002.83 732.15,1005.1 734.68,1007.36 737.2,1009.61 739.72,1011.83 742.24,1014.02 744.77,1016.19 747.29,1018.34 749.81,1020.49 752.34,1022.66 754.86,1024.85 757.38,1027.07 759.9,1029.3 762.43,1031.56 764.95,1033.88 767.47,1036.31 769.99,1038.92 772.52,1041.64 775.04,1044.41 777.56,1047.17 780.08,1049.83 782.61,1052.34 785.13,1054.71 787.65,1057.07 790.18,1059.37 792.7,1061.58 795.22,1063.67 797.74,1065.59 800.27,1067.32 802.79,1068.89 805.31,1070.36 807.83,1071.71 810.36,1072.93 812.88,1074.01" fill="none" stroke="#6b6b0e" stroke-width="2.6" stroke-linejoin="round" stroke-linecap="round" />
<line x1="110.4" y1="1167.2" x2="121.9" y2="1167.2" stroke="#000" stroke-width="2.3" />
<line x1="110.4" y1="1060.83" x2="121.9" y2="1060.83" stroke="#000" stroke-width="2.3" />
<line x1="110.4" y1="954.45" x2="121.9" y2="954.45" stroke="#000" stroke-width="2.3" />
<line x1="110.4" y1="848.08" x2="121.9" y2="848.08" stroke="#000" stroke-width="2.3" />
<line x1="110.4" y1="741.7" x2="121.9" y2="741.7" stroke="#000" stroke-width="2.3" />
<line x1="110.4" y1="1222.82" x2="116.6" y2="1222.82" stroke="#000" stroke-width="2.3" />
<line x1="110.4" y1="1209.53" x2="116.6" y2="1209.53" stroke="#000" stroke-width="2.3" />
<line x1="110.4" y1="1199.22" x2="116.6" y2="1199.22" stroke="#000" stroke-width="2.3" />
<line x1="110.4" y1="1190.8" x2="116.6" y2="1190.8" stroke="#000" stroke-width="2.3" />
<line x1="110.4" y1="1183.68" x2="116.6" y2="1183.68" stroke="#000" stroke-width="2.3" />
<line x1="110.4" y1="1177.51" x2="116.6" y2="1177.51" stroke="#000" stroke-width="2.3" />
<line x1="110.4" y1="1172.07" x2="116.6" y2="1172.07" stroke="#000" stroke-width="2.3" />
<line x1="110.4" y1="1135.18" x2="116.6" y2="1135.18" stroke="#000" stroke-width="2.3" />
<line x1="110.4" y1="1116.45" x2="116.6" y2="1116.45" stroke="#000" stroke-width="2.3" />
<line x1="110.4" y1="1103.16" x2="116.6" y2="1103.16" stroke="#000" stroke-width="2.3" />
<line x1="110.4" y1="1092.85" x2="116.6" y2="1092.85" stroke="#000" stroke-width="2.3" />
<line x1="110.4" y1="1084.42" x2="116.6" y2="1084.42" stroke="#000" stroke-width="2.3" />
<line x1="110.4" y1="1077.3" x2="116.6" y2="1077.3" stroke="#000" stroke-width="2.3" />
<line x1="110.4" y1="1071.13" x2="116.6" y2="1071.13" stroke="#000" stroke-width="2.3" />
<line x1="110.4" y1="1065.69" x2="116.6" y2="1065.69" stroke="#000" stroke-width="2.3" />
<line x1="110.4" y1="1028.8" x2="116.6" y2="1028.8" stroke="#000" stroke-width="2.3" />
<line x1="110.4" y1="1010.07" x2="116.6" y2="1010.07" stroke="#000" stroke-width="2.3" />
<line x1="110.4" y1="996.78" x2="116.6" y2="996.78" stroke="#000" stroke-width="2.3" />
<line x1="110.4" y1="986.47" x2="116.6" y2="986.47" stroke="#000" stroke-width="2.3" />
<line x1="110.4" y1="978.05" x2="116.6" y2="978.05" stroke="#000" stroke-width="2.3" />
<line x1="110.4" y1="970.93" x2="116.6" y2="970.93" stroke="#000" stroke-width="2.3" />
<line x1="110.4" y1="964.76" x2="116.6" y2="964.76" stroke="#000" stroke-width="2.3" />
<line x1="110.4" y1="959.32" x2="116.6" y2="959.32" stroke="#000" stroke-width="2.3" />
<line x1="110.4" y1="922.43" x2="116.6" y2="922.43" stroke="#000" stroke-width="2.3" />
<line x1="110.4" y1="903.7" x2="116.6" y2="903.7" stroke="#000" stroke-width="2.3" />
<line x1="110.4" y1="890.41" x2="116.6" y2="890.41" stroke="#000" stroke-width="2.3" />
<line x1="110.4" y1="880.1" x2="116.6" y2="880.1" stroke="#000" stroke-width="2.3" />
<line x1="110.4" y1="871.67" x2="116.6" y2="871.67" stroke="#000" stroke-width="2.3" />
<line x1="110.4" y1="864.55" x2="116.6" y2="864.55" stroke="#000" stroke-width="2.3" />
<line x1="110.4" y1="858.38" x2="116.6" y2="858.38" stroke="#000" stroke-width="2.3" />
<line x1="110.4" y1="852.94" x2="116.6" y2="852.94" stroke="#000" stroke-width="2.3" />
<line x1="110.4" y1="816.05" x2="116.6" y2="816.05" stroke="#000" stroke-width="2.3" />
<line x1="110.4" y1="797.32" x2="116.6" y2="797.32" stroke="#000" stroke-width="2.3" />
<line x1="110.4" y1="784.03" x2="116.6" y2="784.03" stroke="#000" stroke-width="2.3" />
<line x1="110.4" y1="773.72" x2="116.6" y2="773.72" stroke="#000" stroke-width="2.3" />
<line x1="110.4" y1="765.3" x2="116.6" y2="765.3" stroke="#000" stroke-width="2.3" />
<line x1="110.4" y1="758.18" x2="116.6" y2="758.18" stroke="#000" stroke-width="2.3" />
<line x1="110.4" y1="752.01" x2="116.6" y2="752.01" stroke="#000" stroke-width="2.3" />
<line x1="110.4" y1="746.57" x2="116.6" y2="746.57" stroke="#000" stroke-width="2.3" />
<line x1="110.4" y1="709.68" x2="116.6" y2="709.68" stroke="#000" stroke-width="2.3" />
<line x1="110.4" y1="690.95" x2="116.6" y2="690.95" stroke="#000" stroke-width="2.3" />
<line x1="110.4" y1="677.66" x2="116.6" y2="677.66" stroke="#000" stroke-width="2.3" />
<line x1="159.5" y1="1227.6" x2="159.5" y2="1216.1" stroke="#000" stroke-width="2.3" />
<line x1="252.84" y1="1227.6" x2="252.84" y2="1216.1" stroke="#000" stroke-width="2.3" />
<line x1="346.19" y1="1227.6" x2="346.19" y2="1216.1" stroke="#000" stroke-width="2.3" />
<line x1="439.53" y1="1227.6" x2="439.53" y2="1216.1" stroke="#000" stroke-width="2.3" />
<line x1="532.87" y1="1227.6" x2="532.87" y2="1216.1" stroke="#000" stroke-width="2.3" />
<line x1="626.21" y1="1227.6" x2="626.21" y2="1216.1" stroke="#000" stroke-width="2.3" />
<line x1="719.56" y1="1227.6" x2="719.56" y2="1216.1" stroke="#000" stroke-width="2.3" />
<line x1="812.9" y1="1227.6" x2="812.9" y2="1216.1" stroke="#000" stroke-width="2.3" />
<line x1="122.36" y1="1227.6" x2="122.36" y2="1221.4" stroke="#000" stroke-width="2.3" />
<line x1="131.4" y1="1227.6" x2="131.4" y2="1221.4" stroke="#000" stroke-width="2.3" />
<line x1="138.79" y1="1227.6" x2="138.79" y2="1221.4" stroke="#000" stroke-width="2.3" />
<line x1="145.04" y1="1227.6" x2="145.04" y2="1221.4" stroke="#000" stroke-width="2.3" />
<line x1="150.45" y1="1227.6" x2="150.45" y2="1221.4" stroke="#000" stroke-width="2.3" />
<line x1="155.23" y1="1227.6" x2="155.23" y2="1221.4" stroke="#000" stroke-width="2.3" />
<line x1="187.6" y1="1227.6" x2="187.6" y2="1221.4" stroke="#000" stroke-width="2.3" />
<line x1="204.04" y1="1227.6" x2="204.04" y2="1221.4" stroke="#000" stroke-width="2.3" />
<line x1="215.7" y1="1227.6" x2="215.7" y2="1221.4" stroke="#000" stroke-width="2.3" />
<line x1="224.74" y1="1227.6" x2="224.74" y2="1221.4" stroke="#000" stroke-width="2.3" />
<line x1="232.13" y1="1227.6" x2="232.13" y2="1221.4" stroke="#000" stroke-width="2.3" />
<line x1="238.38" y1="1227.6" x2="238.38" y2="1221.4" stroke="#000" stroke-width="2.3" />
<line x1="243.8" y1="1227.6" x2="243.8" y2="1221.4" stroke="#000" stroke-width="2.3" />
<line x1="248.57" y1="1227.6" x2="248.57" y2="1221.4" stroke="#000" stroke-width="2.3" />
<line x1="280.94" y1="1227.6" x2="280.94" y2="1221.4" stroke="#000" stroke-width="2.3" />
<line x1="297.38" y1="1227.6" x2="297.38" y2="1221.4" stroke="#000" stroke-width="2.3" />
<line x1="309.04" y1="1227.6" x2="309.04" y2="1221.4" stroke="#000" stroke-width="2.3" />
<line x1="318.09" y1="1227.6" x2="318.09" y2="1221.4" stroke="#000" stroke-width="2.3" />
<line x1="325.48" y1="1227.6" x2="325.48" y2="1221.4" stroke="#000" stroke-width="2.3" />
<line x1="331.73" y1="1227.6" x2="331.73" y2="1221.4" stroke="#000" stroke-width="2.3" />
<line x1="337.14" y1="1227.6" x2="337.14" y2="1221.4" stroke="#000" stroke-width="2.3" />
<line x1="341.91" y1="1227.6" x2="341.91" y2="1221.4" stroke="#000" stroke-width="2.3" />
<line x1="374.28" y1="1227.6" x2="374.28" y2="1221.4" stroke="#000" stroke-width="2.3" />
<line x1="390.72" y1="1227.6" x2="390.72" y2="1221.4" stroke="#000" stroke-width="2.3" />
<line x1="402.38" y1="1227.6" x2="402.38" y2="1221.4" stroke="#000" stroke-width="2.3" />
<line x1="411.43" y1="1227.6" x2="411.43" y2="1221.4" stroke="#000" stroke-width="2.3" />
<line x1="418.82" y1="1227.6" x2="418.82" y2="1221.4" stroke="#000" stroke-width="2.3" />
<line x1="425.07" y1="1227.6" x2="425.07" y2="1221.4" stroke="#000" stroke-width="2.3" />
<line x1="430.48" y1="1227.6" x2="430.48" y2="1221.4" stroke="#000" stroke-width="2.3" />
<line x1="435.26" y1="1227.6" x2="435.26" y2="1221.4" stroke="#000" stroke-width="2.3" />
<line x1="467.63" y1="1227.6" x2="467.63" y2="1221.4" stroke="#000" stroke-width="2.3" />
<line x1="484.06" y1="1227.6" x2="484.06" y2="1221.4" stroke="#000" stroke-width="2.3" />
<line x1="495.73" y1="1227.6" x2="495.73" y2="1221.4" stroke="#000" stroke-width="2.3" />
<line x1="504.77" y1="1227.6" x2="504.77" y2="1221.4" stroke="#000" stroke-width="2.3" />
<line x1="512.16" y1="1227.6" x2="512.16" y2="1221.4" stroke="#000" stroke-width="2.3" />
<line x1="518.41" y1="1227.6" x2="518.41" y2="1221.4" stroke="#000" stroke-width="2.3" />
<line x1="523.83" y1="1227.6" x2="523.83" y2="1221.4" stroke="#000" stroke-width="2.3" />
<line x1="528.6" y1="1227.6" x2="528.6" y2="1221.4" stroke="#000" stroke-width="2.3" />
<line x1="560.97" y1="1227.6" x2="560.97" y2="1221.4" stroke="#000" stroke-width="2.3" />
<line x1="577.41" y1="1227.6" x2="577.41" y2="1221.4" stroke="#000" stroke-width="2.3" />
<line x1="589.07" y1="1227.6" x2="589.07" y2="1221.4" stroke="#000" stroke-width="2.3" />
<line x1="598.12" y1="1227.6" x2="598.12" y2="1221.4" stroke="#000" stroke-width="2.3" />
<line x1="605.51" y1="1227.6" x2="605.51" y2="1221.4" stroke="#000" stroke-width="2.3" />
<line x1="611.76" y1="1227.6" x2="611.76" y2="1221.4" stroke="#000" stroke-width="2.3" />
<line x1="617.17" y1="1227.6" x2="617.17" y2="1221.4" stroke="#000" stroke-width="2.3" />
<line x1="621.94" y1="1227.6" x2="621.94" y2="1221.4" stroke="#000" stroke-width="2.3" />
<line x1="654.31" y1="1227.6" x2="654.31" y2="1221.4" stroke="#000" stroke-width="2.3" />
<line x1="670.75" y1="1227.6" x2="670.75" y2="1221.4" stroke="#000" stroke-width="2.3" />
<line x1="682.41" y1="1227.6" x2="682.41" y2="1221.4" stroke="#000" stroke-width="2.3" />
<line x1="691.46" y1="1227.6" x2="691.46" y2="1221.4" stroke="#000" stroke-width="2.3" />
<line x1="698.85" y1="1227.6" x2="698.85" y2="1221.4" stroke="#000" stroke-width="2.3" />
<line x1="705.1" y1="1227.6" x2="705.1" y2="1221.4" stroke="#000" stroke-width="2.3" />
<line x1="710.51" y1="1227.6" x2="710.51" y2="1221.4" stroke="#000" stroke-width="2.3" />
<line x1="715.29" y1="1227.6" x2="715.29" y2="1221.4" stroke="#000" stroke-width="2.3" />
<line x1="747.66" y1="1227.6" x2="747.66" y2="1221.4" stroke="#000" stroke-width="2.3" />
<line x1="764.09" y1="1227.6" x2="764.09" y2="1221.4" stroke="#000" stroke-width="2.3" />
<line x1="775.76" y1="1227.6" x2="775.76" y2="1221.4" stroke="#000" stroke-width="2.3" />
<line x1="784.8" y1="1227.6" x2="784.8" y2="1221.4" stroke="#000" stroke-width="2.3" />
<line x1="792.19" y1="1227.6" x2="792.19" y2="1221.4" stroke="#000" stroke-width="2.3" />
<line x1="798.44" y1="1227.6" x2="798.44" y2="1221.4" stroke="#000" stroke-width="2.3" />
<line x1="803.85" y1="1227.6" x2="803.85" y2="1221.4" stroke="#000" stroke-width="2.3" />
<line x1="808.63" y1="1227.6" x2="808.63" y2="1221.4" stroke="#000" stroke-width="2.3" />
<line x1="841" y1="1227.6" x2="841" y2="1221.4" stroke="#000" stroke-width="2.3" />
<line x1="857.44" y1="1227.6" x2="857.44" y2="1221.4" stroke="#000" stroke-width="2.3" />
<line x1="869.1" y1="1227.6" x2="869.1" y2="1221.4" stroke="#000" stroke-width="2.3" />
<rect x="110.4" y="667" width="767.1" height="560.6" fill="none" stroke="#000" stroke-width="2.4"/>
<text x="98.5" y="1175.5" font-family='"Liberation Sans", sans-serif' font-size="24" font-weight="bold" text-anchor="end" fill="#000">10<tspan dy="-14" font-size="13.5">2</tspan></text>
<text x="98.5" y="1069.12" font-family='"Liberation Sans", sans-serif' font-size="24" font-weight="bold" text-anchor="end" fill="#000">10<tspan dy="-14" font-size="13.5">3</tspan></text>
<text x="98.5" y="962.75" font-family='"Liberation Sans", sans-serif' font-size="24" font-weight="bold" text-anchor="end" fill="#000">10<tspan dy="-14" font-size="13.5">4</tspan></text>
<text x="98.5" y="856.38" font-family='"Liberation Sans", sans-serif' font-size="24" font-weight="bold" text-anchor="end" fill="#000">10<tspan dy="-14" font-size="13.5">5</tspan></text>
<text x="98.5" y="750" font-family='"Liberation Sans", sans-serif' font-size="24" font-weight="bold" text-anchor="end" fill="#000">10<tspan dy="-14" font-size="13.5">6</tspan></text>
<text x="159.5" y="1263" font-family='"Liberation Sans", sans-serif' font-size="24" font-weight="bold" text-anchor="middle" fill="#000">10<tspan dy="-14" font-size="13.5">-2</tspan></text>
<text x="252.84" y="1263" font-family='"Liberation Sans", sans-serif' font-size="24" font-weight="bold" text-anchor="middle" fill="#000">10<tspan dy="-14" font-size="13.5">-1</tspan></text>
<text x="346.19" y="1263" font-family='"Liberation Sans", sans-serif' font-size="24" font-weight="bold" text-anchor="middle" fill="#000">10<tspan dy="-14" font-size="13.5">0</tspan></text>
<text x="439.53" y="1263" font-family='"Liberation Sans", sans-serif' font-size="24" font-weight="bold" text-anchor="middle" fill="#000">10<tspan dy="-14" font-size="13.5">1</tspan></text>
<text x="532.87" y="1263" font-family='"Liberation Sans", sans-serif' font-size="24" font-weight="bold" text-anchor="middle" fill="#000">10<tspan dy="-14" font-size="13.5">2</tspan></text>
<text x="626.21" y="1263" font-family='"Liberation Sans", sans-serif' font-size="24" font-weight="bold" text-anchor="middle" fill="#000">10<tspan dy="-14" font-size="13.5">3</tspan></text>
<text x="719.56" y="1263" font-family='"Liberation Sans", sans-serif' font-size="24" font-weight="bold" text-anchor="middle" fill="#000">10<tspan dy="-14" font-size="13.5">4</tspan></text>
<text x="812.9" y="1263" font-family='"Liberation Sans", sans-serif' font-size="24" font-weight="bold" text-anchor="middle" fill="#000">10<tspan dy="-14" font-size="13.5">5</tspan></text>
<text x="20.2" y="697.7" font-family='"Liberation Serif", serif' font-size="40.5" font-weight="bold" text-anchor="start" fill="#000" >(c)</text>
<text x="494.3" y="1308" font-family='"Liberation Serif", serif' font-size="32" font-weight="bold" text-anchor="middle" fill="#000" >Frequency (Hz)</text>
<text transform="translate(44.5,950.5) rotate(-90)" text-anchor="middle" font-family='"Liberation Serif", serif' font-size="31.5" font-weight="bold" fill="#000">|Z| (<tspan font-weight="normal">Ω</tspan>·cm<tspan dy="-18.5" font-size="20">2</tspan><tspan dy="18.5">)</tspan></text>
<rect x="704.7" y="682.4" width="8.6" height="8.6" fill="none" stroke="#b00000" stroke-width="2"/>
<circle cx="709" cy="717.8" r="4.8" fill="none" stroke="#007014" stroke-width="2"/>
<polygon points="709,744.01 714.7,753.99 703.3,753.99" fill="none" stroke="#0000ff" stroke-width="2" stroke-linejoin="miter"/>
<polygon points="709,774 715.3,780.3 709,786.6 702.7,780.3" fill="none" stroke="#6e0a3c" stroke-width="2"/>
<polygon points="709,805.7 714.02,808.6 714.02,814.4 709,817.3 703.98,814.4 703.98,808.6" fill="none" stroke="#ff1482" stroke-width="2"/>
<rect x="704.4" y="838.2" width="9.2" height="9.2" fill="none" stroke="#5a0f96" stroke-width="1.8"/>
<rect x="704.4" y="838.2" width="9.2" height="4.83" fill="#5a0f96"/>
<circle cx="709" cy="874" r="5" fill="none" stroke="#6b6b0e" stroke-width="2"/>
<path d="M709,869 A5,5 0 0 1 709,879 Z" fill="#6b6b0e"/>
<text x="743.5" y="694.1" font-family='"Liberation Serif", serif' font-size="22.2" font-weight="bold" text-anchor="start" fill="#000" >As-received</text>
<text x="743.5" y="725.2" font-family='"Liberation Serif", serif' font-size="22.2" font-weight="bold" text-anchor="start" fill="#000" >500°C-2h</text>
<text x="743.5" y="756.4" font-family='"Liberation Serif", serif' font-size="22.2" font-weight="bold" text-anchor="start" fill="#000" >500°C-24h</text>
<text x="743.5" y="787.7" font-family='"Liberation Serif", serif' font-size="22.2" font-weight="bold" text-anchor="start" fill="#000" >650°C-2h</text>
<text x="743.5" y="818.9" font-family='"Liberation Serif", serif' font-size="22.2" font-weight="bold" text-anchor="start" fill="#000" >650°C-24h</text>
<text x="743.5" y="850.2" font-family='"Liberation Serif", serif' font-size="22.2" font-weight="bold" text-anchor="start" fill="#000" >800°C-2h</text>
<text x="743.5" y="881.4" font-family='"Liberation Serif", serif' font-size="22.2" font-weight="bold" text-anchor="start" fill="#000" >800°C-24h</text>
<text x="687.2" y="913.5" font-family='"Liberation Serif", serif' font-size="22.2" font-weight="bold" text-anchor="start" fill="#000" >Line fitting curves</text>
<rect x="998.2" y="668.8" width="748.8" height="546.5" fill="url(#bgD)"/>
<line x1="998.2" y1="1188.55" x2="1747" y2="1188.55" stroke="#e4e4e4" stroke-width="1.1" stroke-dasharray="1.6 3.2"/>
<line x1="998.2" y1="1133.85" x2="1747" y2="1133.85" stroke="#e4e4e4" stroke-width="1.1" stroke-dasharray="1.6 3.2"/>
<line x1="998.2" y1="1106.5" x2="1747" y2="1106.5" stroke="#e4e4e4" stroke-width="1.1" stroke-dasharray="1.6 3.2"/>
<line x1="998.2" y1="1079.15" x2="1747" y2="1079.15" stroke="#e4e4e4" stroke-width="1.1" stroke-dasharray="1.6 3.2"/>
<line x1="998.2" y1="1024.45" x2="1747" y2="1024.45" stroke="#e4e4e4" stroke-width="1.1" stroke-dasharray="1.6 3.2"/>
<line x1="998.2" y1="997.1" x2="1747" y2="997.1" stroke="#e4e4e4" stroke-width="1.1" stroke-dasharray="1.6 3.2"/>
<line x1="998.2" y1="969.75" x2="1747" y2="969.75" stroke="#e4e4e4" stroke-width="1.1" stroke-dasharray="1.6 3.2"/>
<line x1="998.2" y1="915.05" x2="1747" y2="915.05" stroke="#e4e4e4" stroke-width="1.1" stroke-dasharray="1.6 3.2"/>
<line x1="998.2" y1="887.7" x2="1747" y2="887.7" stroke="#e4e4e4" stroke-width="1.1" stroke-dasharray="1.6 3.2"/>
<line x1="998.2" y1="860.35" x2="1747" y2="860.35" stroke="#e4e4e4" stroke-width="1.1" stroke-dasharray="1.6 3.2"/>
<line x1="998.2" y1="805.65" x2="1747" y2="805.65" stroke="#e4e4e4" stroke-width="1.1" stroke-dasharray="1.6 3.2"/>
<line x1="998.2" y1="778.3" x2="1747" y2="778.3" stroke="#e4e4e4" stroke-width="1.1" stroke-dasharray="1.6 3.2"/>
<line x1="998.2" y1="750.95" x2="1747" y2="750.95" stroke="#e4e4e4" stroke-width="1.1" stroke-dasharray="1.6 3.2"/>
<line x1="998.2" y1="696.25" x2="1747" y2="696.25" stroke="#e4e4e4" stroke-width="1.1" stroke-dasharray="1.6 3.2"/>
<line x1="998.2" y1="1161.2" x2="1747" y2="1161.2" stroke="#cfcfcf" stroke-width="1.3" />
<line x1="998.2" y1="1051.8" x2="1747" y2="1051.8" stroke="#cfcfcf" stroke-width="1.3" />
<line x1="998.2" y1="942.4" x2="1747" y2="942.4" stroke="#cfcfcf" stroke-width="1.3" />
<line x1="998.2" y1="833" x2="1747" y2="833" stroke="#cfcfcf" stroke-width="1.3" />
<line x1="998.2" y1="723.6" x2="1747" y2="723.6" stroke="#cfcfcf" stroke-width="1.3" />
<g clip-path="url(#clipD)">
<rect x="1048.84" y="962.56" width="8.6" height="8.6" fill="none" stroke="#b00000" stroke-width="2.2"/>
<rect x="1064.27" y="958.27" width="8.6" height="8.6" fill="none" stroke="#b00000" stroke-width="2.2"/>
<rect x="1079.7" y="973.7" width="8.6" height="8.6" fill="none" stroke="#b00000" stroke-width="2.2"/>
<rect x="1095.13" y="995.99" width="8.6" height="8.6" fill="none" stroke="#b00000" stroke-width="2.2"/>
<rect x="1110.21" y="1020.84" width="8.6" height="8.6" fill="none" stroke="#b00000" stroke-width="2.2"/>
<rect x="1125.13" y="1040.56" width="8.6" height="8.6" fill="none" stroke="#b00000" stroke-width="2.2"/>
<rect x="1140.21" y="1052.56" width="8.6" height="8.6" fill="none" stroke="#b00000" stroke-width="2.2"/>
<rect x="1155.47" y="1054.27" width="8.6" height="8.6" fill="none" stroke="#b00000" stroke-width="2.2"/>
<rect x="1170.56" y="1044.84" width="8.6" height="8.6" fill="none" stroke="#b00000" stroke-width="2.2"/>
<rect x="1185.99" y="1025.99" width="8.6" height="8.6" fill="none" stroke="#b00000" stroke-width="2.2"/>
<rect x="1201.07" y="996.84" width="8.6" height="8.6" fill="none" stroke="#b00000" stroke-width="2.2"/>
<rect x="1216.33" y="965.13" width="8.6" height="8.6" fill="none" stroke="#b00000" stroke-width="2.2"/>
<rect x="1231.41" y="932.56" width="8.6" height="8.6" fill="none" stroke="#b00000" stroke-width="2.2"/>
<rect x="1246.84" y="908.56" width="8.6" height="8.6" fill="none" stroke="#b00000" stroke-width="2.2"/>
<rect x="1261.93" y="899.13" width="8.6" height="8.6" fill="none" stroke="#b00000" stroke-width="2.2"/>
<rect x="1276.84" y="903.41" width="8.6" height="8.6" fill="none" stroke="#b00000" stroke-width="2.2"/>
<rect x="1291.93" y="923.13" width="8.6" height="8.6" fill="none" stroke="#b00000" stroke-width="2.2"/>
<rect x="1306.84" y="952.27" width="8.6" height="8.6" fill="none" stroke="#b00000" stroke-width="2.2"/>
<rect x="1322.84" y="985.41" width="8.6" height="8.6" fill="none" stroke="#b00000" stroke-width="2.2"/>
<rect x="1337.41" y="1018.84" width="8.6" height="8.6" fill="none" stroke="#b00000" stroke-width="2.2"/>
<rect x="1351.99" y="1047.13" width="8.6" height="8.6" fill="none" stroke="#b00000" stroke-width="2.2"/>
<rect x="1368.27" y="1071.13" width="8.6" height="8.6" fill="none" stroke="#b00000" stroke-width="2.2"/>
<rect x="1383.19" y="1091.41" width="8.6" height="8.6" fill="none" stroke="#b00000" stroke-width="2.2"/>
<rect x="1398.27" y="1106.84" width="8.6" height="8.6" fill="none" stroke="#b00000" stroke-width="2.2"/>
<rect x="1413.36" y="1118.84" width="8.6" height="8.6" fill="none" stroke="#b00000" stroke-width="2.2"/>
<rect x="1428.27" y="1127.41" width="8.6" height="8.6" fill="none" stroke="#b00000" stroke-width="2.2"/>
<rect x="1443.36" y="1134.27" width="8.6" height="8.6" fill="none" stroke="#b00000" stroke-width="2.2"/>
<rect x="1458.27" y="1139.41" width="8.6" height="8.6" fill="none" stroke="#b00000" stroke-width="2.2"/>
<rect x="1473.7" y="1143.7" width="8.6" height="8.6" fill="none" stroke="#b00000" stroke-width="2.2"/>
<rect x="1489.13" y="1147.13" width="8.6" height="8.6" fill="none" stroke="#b00000" stroke-width="2.2"/>
<rect x="1504.21" y="1149.36" width="8.6" height="8.6" fill="none" stroke="#b00000" stroke-width="2.2"/>
<rect x="1519.47" y="1151.07" width="8.6" height="8.6" fill="none" stroke="#b00000" stroke-width="2.2"/>
<rect x="1534.9" y="1152.61" width="8.6" height="8.6" fill="none" stroke="#b00000" stroke-width="2.2"/>
<rect x="1549.99" y="1153.47" width="8.6" height="8.6" fill="none" stroke="#b00000" stroke-width="2.2"/>
<rect x="1565.07" y="1154.16" width="8.6" height="8.6" fill="none" stroke="#b00000" stroke-width="2.2"/>
<rect x="1580.5" y="1155.19" width="8.6" height="8.6" fill="none" stroke="#b00000" stroke-width="2.2"/>
<rect x="1595.76" y="1156.21" width="8.6" height="8.6" fill="none" stroke="#b00000" stroke-width="2.2"/>
<rect x="1610.61" y="1157.41" width="8.6" height="8.6" fill="none" stroke="#b00000" stroke-width="2.2"/>
<rect x="1625.7" y="1159.13" width="8.6" height="8.6" fill="none" stroke="#b00000" stroke-width="2.2"/>
<rect x="1641.13" y="1160.84" width="8.6" height="8.6" fill="none" stroke="#b00000" stroke-width="2.2"/>
<rect x="1656.56" y="1162.04" width="8.6" height="8.6" fill="none" stroke="#b00000" stroke-width="2.2"/>
<rect x="1671.99" y="1164.27" width="8.6" height="8.6" fill="none" stroke="#b00000" stroke-width="2.2"/>
<polyline points="1045.77,976 1047.03,975.14 1048.3,974.07 1049.56,972.88 1050.83,971.65 1052.09,970.46 1053.35,969.31 1054.62,968.22 1055.88,967.2 1057.14,966.3 1058.41,965.56 1059.67,965.01 1060.93,964.65 1062.2,964.44 1063.46,964.35 1064.72,964.32 1065.99,964.35 1067.25,964.44 1068.52,964.64 1069.78,965 1071.04,965.55 1072.31,966.29 1073.57,967.21 1074.83,968.26 1076.1,969.43 1077.36,970.7 1078.62,972.08 1079.89,973.57 1081.15,975.14 1082.41,976.78 1083.68,978.47 1084.94,980.19 1086.21,981.95 1087.47,983.74 1088.73,985.57 1090,987.44 1091.26,989.33 1092.52,991.25 1093.79,993.19 1095.05,995.15 1096.31,997.12 1097.58,999.11 1098.84,1001.12 1100.1,1003.14 1101.37,1005.2 1102.63,1007.29 1103.89,1009.4 1105.16,1011.53 1106.42,1013.67 1107.69,1015.81 1108.95,1017.92 1110.21,1020.01 1111.48,1022.06 1112.74,1024.05 1114,1026.01 1115.27,1027.92 1116.53,1029.8 1117.79,1031.66 1119.06,1033.49 1120.32,1035.29 1121.58,1037.05 1122.85,1038.76 1124.11,1040.4 1125.38,1041.97 1126.64,1043.45 1127.9,1044.84 1129.17,1046.15 1130.43,1047.37 1131.69,1048.51 1132.96,1049.59 1134.22,1050.6 1135.48,1051.54 1136.75,1052.41 1138.01,1053.21 1139.27,1053.95 1140.54,1054.64 1141.8,1055.29 1143.07,1055.89 1144.33,1056.44 1145.59,1056.92 1146.86,1057.32 1148.12,1057.62 1149.38,1057.81 1150.65,1057.91 1151.91,1057.94 1153.17,1057.91 1154.44,1057.85 1155.7,1057.75 1156.96,1057.63 1158.23,1057.48 1159.49,1057.27 1160.75,1057 1162.02,1056.63 1163.28,1056.17 1164.55,1055.6 1165.81,1054.93 1167.07,1054.17 1168.34,1053.33 1169.6,1052.43 1170.86,1051.48 1172.13,1050.47 1173.39,1049.42 1174.65,1048.31 1175.92,1047.13 1177.18,1045.85 1178.44,1044.46 1179.71,1042.97 1180.97,1041.37 1182.24,1039.69 1183.5,1037.92 1184.76,1036.09 1186.03,1034.22 1187.29,1032.3 1188.55,1030.35 1189.82,1028.37 1191.08,1026.35 1192.34,1024.27 1193.61,1022.14 1194.87,1019.94 1196.13,1017.69 1197.4,1015.38 1198.66,1013.03 1199.93,1010.66 1201.19,1008.26 1202.45,1005.86 1203.72,1003.45 1204.98,1001.03 1206.24,998.62 1207.51,996.2 1208.77,993.77 1210.03,991.32 1211.3,988.87 1212.56,986.39 1213.82,983.9 1215.09,981.4 1216.35,978.88 1217.62,976.34 1218.88,973.78 1220.14,971.19 1221.41,968.56 1222.67,965.88 1223.93,963.15 1225.2,960.38 1226.46,957.59 1227.72,954.81 1228.99,952.06 1230.25,949.36 1231.51,946.74 1232.78,944.21 1234.04,941.8 1235.3,939.51 1236.57,937.33 1237.83,935.24 1239.1,933.23 1240.36,931.28 1241.62,929.4 1242.89,927.58 1244.15,925.82 1245.41,924.13 1246.68,922.5 1247.94,920.93 1249.2,919.42 1250.47,917.97 1251.73,916.56 1252.99,915.21 1254.26,913.92 1255.52,912.73 1256.79,911.65 1258.05,910.71 1259.31,909.93 1260.58,909.28 1261.84,908.73 1263.1,908.28 1264.37,907.89 1265.63,907.57 1266.89,907.32 1268.16,907.15 1269.42,907.07 1270.68,907.09 1271.95,907.21 1273.21,907.42 1274.48,907.72 1275.74,908.11 1277,908.56 1278.27,909.07 1279.53,909.65 1280.79,910.31 1282.06,911.07 1283.32,911.96 1284.58,912.99 1285.85,914.17 1287.11,915.48 1288.37,916.92 1289.64,918.46 1290.9,920.09 1292.16,921.78 1293.43,923.53 1294.69,925.32 1295.96,927.17 1297.22,929.08 1298.48,931.09 1299.75,933.19 1301.01,935.39 1302.27,937.68 1303.54,940.05 1304.8,942.47 1306.06,944.92 1307.33,947.39 1308.59,949.86 1309.85,952.32 1311.12,954.76 1312.38,957.19 1313.65,959.61 1314.91,962.02 1316.17,964.44 1317.44,966.87 1318.7,969.31 1319.96,971.78 1321.23,974.27 1322.49,976.79 1323.75,979.34 1325.02,981.94 1326.28,984.58 1327.54,987.29 1328.81,990.05 1330.07,992.88 1331.34,995.76 1332.6,998.69 1333.86,1001.64 1335.13,1004.61 1336.39,1007.56 1337.65,1010.5 1338.92,1013.39 1340.18,1016.23 1341.44,1019.03 1342.71,1021.77 1343.97,1024.48 1345.23,1027.15 1346.5,1029.79 1347.76,1032.41 1349.02,1034.98 1350.29,1037.51 1351.55,1039.98 1352.82,1042.4 1354.08,1044.76 1355.34,1047.04 1356.61,1049.25 1357.87,1051.39 1359.13,1053.46 1360.4,1055.46 1361.66,1057.41 1362.92,1059.32 1364.19,1061.21 1365.45,1063.07 1366.71,1064.93 1367.98,1066.8 1369.24,1068.69 1370.51,1070.61 1371.77,1072.57 1373.03,1074.59 1374.3,1076.67 1375.56,1078.8 1376.82,1080.97 1378.09,1083.16 1379.35,1085.36 1380.61,1087.54 1381.88,1089.67 1383.14,1091.73 1384.4,1093.7 1385.67,1095.57 1386.93,1097.33 1388.2,1098.98 1389.46,1100.54 1390.72,1102.02 1391.99,1103.43 1393.25,1104.79 1394.51,1106.09 1395.78,1107.36 1397.04,1108.59 1398.3,1109.79 1399.57,1110.97 1400.83,1112.12 1402.09,1113.26 1403.36,1114.38 1404.62,1115.48 1405.88,1116.56 1407.15,1117.62 1408.41,1118.66 1409.68,1119.68 1410.94,1120.68 1412.2,1121.66 1413.47,1122.63 1414.73,1123.57 1415.99,1124.49 1417.26,1125.4 1418.52,1126.29 1419.78,1127.17 1421.05,1128.04 1422.31,1128.89 1423.57,1129.72 1424.84,1130.54 1426.1,1131.34 1427.37,1132.12 1428.63,1132.88 1429.89,1133.62 1431.16,1134.33 1432.42,1135.02 1433.68,1135.68 1434.95,1136.33 1436.21,1136.96 1437.47,1137.57 1438.74,1138.17 1440,1138.75 1441.26,1139.32 1442.53,1139.87 1443.79,1140.41 1445.06,1140.93 1446.32,1141.45 1447.58,1141.95 1448.85,1142.44 1450.11,1142.93 1451.37,1143.4 1452.64,1143.87 1453.9,1144.32 1455.16,1144.76 1456.43,1145.19 1457.69,1145.61 1458.95,1146.02 1460.22,1146.42 1461.48,1146.8 1462.74,1147.17 1464.01,1147.53 1465.27,1147.88 1466.54,1148.21 1467.8,1148.54 1469.06,1148.86 1470.33,1149.18 1471.59,1149.48 1472.85,1149.78 1474.12,1150.06 1475.38,1150.34 1476.64,1150.62 1477.91,1150.88 1479.17,1151.14 1480.43,1151.39 1481.7,1151.64 1482.96,1151.87 1484.23,1152.11 1485.49,1152.33 1486.75,1152.56 1488.02,1152.77 1489.28,1152.99 1490.54,1153.19 1491.81,1153.39 1493.07,1153.59 1494.33,1153.79 1495.6,1153.98 1496.86,1154.16 1498.12,1154.34 1499.39,1154.52 1500.65,1154.69 1501.92,1154.86 1503.18,1155.03 1504.44,1155.2 1505.71,1155.36 1506.97,1155.52 1508.23,1155.68 1509.5,1155.83 1510.76,1155.99 1512.02,1156.15 1513.29,1156.3 1514.55,1156.45 1515.81,1156.6 1517.08,1156.75 1518.34,1156.89 1519.6,1157.02 1520.87,1157.15 1522.13,1157.27 1523.4,1157.38 1524.66,1157.49 1525.92,1157.59 1527.19,1157.68 1528.45,1157.77 1529.71,1157.86 1530.98,1157.94 1532.24,1158.02 1533.5,1158.1 1534.77,1158.18 1536.03,1158.26 1537.29,1158.34 1538.56,1158.42 1539.82,1158.5 1541.09,1158.59 1542.35,1158.68 1543.61,1158.77 1544.88,1158.86 1546.14,1158.95 1547.4,1159.04 1548.67,1159.13 1549.93,1159.21 1551.19,1159.29 1552.46,1159.37 1553.72,1159.45 1554.98,1159.52 1556.25,1159.59 1557.51,1159.66 1558.78,1159.72 1560.04,1159.78 1561.3,1159.85 1562.57,1159.9 1563.83,1159.96 1565.09,1160.01 1566.36,1160.06 1567.62,1160.11 1568.88,1160.15 1570.15,1160.19 1571.41,1160.23 1572.67,1160.27 1573.94,1160.3 1575.2,1160.33 1576.46,1160.37 1577.73,1160.39 1578.99,1160.42 1580.26,1160.45 1581.52,1160.47 1582.78,1160.49 1584.05,1160.5 1585.31,1160.52 1586.57,1160.53 1587.84,1160.54 1589.1,1160.55 1590.36,1160.56 1591.63,1160.56 1592.89,1160.57 1594.15,1160.58 1595.42,1160.59 1596.68,1160.59 1597.95,1160.6 1599.21,1160.6 1600.47,1160.61 1601.74,1160.62 1603,1160.62 1604.26,1160.63 1605.53,1160.63 1606.79,1160.63 1608.05,1160.64 1609.32,1160.64 1610.58,1160.65 1611.84,1160.65 1613.11,1160.66 1614.37,1160.66 1615.64,1160.67 1616.9,1160.67 1618.16,1160.67 1619.43,1160.68 1620.69,1160.68 1621.95,1160.69 1623.22,1160.69 1624.48,1160.7 1625.74,1160.7 1627.01,1160.71 1628.27,1160.71 1629.53,1160.72 1630.8,1160.72 1632.06,1160.73 1633.32,1160.73 1634.59,1160.73 1635.85,1160.74 1637.12,1160.74 1638.38,1160.75 1639.64,1160.75 1640.91,1160.76 1642.17,1160.76 1643.43,1160.76 1644.7,1160.77 1645.96,1160.77 1647.22,1160.78 1648.49,1160.78 1649.75,1160.79 1651.01,1160.79 1652.28,1160.79 1653.54,1160.8 1654.81,1160.8 1656.07,1160.8 1657.33,1160.81 1658.6,1160.81 1659.86,1160.82 1661.12,1160.82 1662.39,1160.82 1663.65,1160.83 1664.91,1160.83 1666.18,1160.83 1667.44,1160.84 1668.7,1160.84 1669.97,1160.84 1671.23,1160.85 1672.5,1160.85 1673.76,1160.85 1675.02,1160.85 1676.29,1160.85" fill="none" stroke="#b00000" stroke-width="2.6" stroke-linejoin="round" stroke-linecap="round" />
<circle cx="1045.77" cy="969.43" r="5" fill="none" stroke="#007014" stroke-width="2.2"/>
<circle cx="1068.57" cy="916.63" r="5" fill="none" stroke="#007014" stroke-width="2.2"/>
<circle cx="1091.2" cy="870.34" r="5" fill="none" stroke="#007014" stroke-width="2.2"/>
<circle cx="1113.14" cy="836.57" r="5" fill="none" stroke="#007014" stroke-width="2.2"/>
<circle cx="1134.23" cy="813.43" r="5" fill="none" stroke="#007014" stroke-width="2.2"/>
<circle cx="1154.63" cy="800.57" r="5" fill="none" stroke="#007014" stroke-width="2.2"/>
<circle cx="1174" cy="795.09" r="5" fill="none" stroke="#007014" stroke-width="2.2"/>
<circle cx="1192.86" cy="793.37" r="5" fill="none" stroke="#007014" stroke-width="2.2"/>
<circle cx="1210" cy="792.86" r="5" fill="none" stroke="#007014" stroke-width="2.2"/>
<circle cx="1226.29" cy="794.06" r="5" fill="none" stroke="#007014" stroke-width="2.2"/>
<circle cx="1242.23" cy="795.77" r="5" fill="none" stroke="#007014" stroke-width="2.2"/>
<circle cx="1257.49" cy="798.34" r="5" fill="none" stroke="#007014" stroke-width="2.2"/>
<circle cx="1271.71" cy="801.43" r="5" fill="none" stroke="#007014" stroke-width="2.2"/>
<circle cx="1285.43" cy="805.71" r="5" fill="none" stroke="#007014" stroke-width="2.2"/>
<circle cx="1298.29" cy="810.86" r="5" fill="none" stroke="#007014" stroke-width="2.2"/>
<circle cx="1311.14" cy="816" r="5" fill="none" stroke="#007014" stroke-width="2.2"/>
<circle cx="1323.2" cy="822.57" r="5" fill="none" stroke="#007014" stroke-width="2.2"/>
<circle cx="1334.69" cy="829.43" r="5" fill="none" stroke="#007014" stroke-width="2.2"/>
<circle cx="1345.31" cy="837.14" r="5" fill="none" stroke="#007014" stroke-width="2.2"/>
<circle cx="1355.77" cy="846.57" r="5" fill="none" stroke="#007014" stroke-width="2.2"/>
<circle cx="1366.06" cy="856" r="5" fill="none" stroke="#007014" stroke-width="2.2"/>
<circle cx="1375.83" cy="866.29" r="5" fill="none" stroke="#007014" stroke-width="2.2"/>
<circle cx="1385.26" cy="877.43" r="5" fill="none" stroke="#007014" stroke-width="2.2"/>
<circle cx="1394.51" cy="888.57" r="5" fill="none" stroke="#007014" stroke-width="2.2"/>
<circle cx="1403.26" cy="898.86" r="5" fill="none" stroke="#007014" stroke-width="2.2"/>
<circle cx="1412.86" cy="916.86" r="5" fill="none" stroke="#007014" stroke-width="2.2"/>
<circle cx="1421.43" cy="930.57" r="5" fill="none" stroke="#007014" stroke-width="2.2"/>
<circle cx="1430.86" cy="947.71" r="5" fill="none" stroke="#007014" stroke-width="2.2"/>
<circle cx="1440.29" cy="964" r="5" fill="none" stroke="#007014" stroke-width="2.2"/>
<circle cx="1449.2" cy="981.14" r="5" fill="none" stroke="#007014" stroke-width="2.2"/>
<circle cx="1458.29" cy="998.29" r="5" fill="none" stroke="#007014" stroke-width="2.2"/>
<circle cx="1466.86" cy="1014.57" r="5" fill="none" stroke="#007014" stroke-width="2.2"/>
<circle cx="1475.94" cy="1030" r="5" fill="none" stroke="#007014" stroke-width="2.2"/>
<circle cx="1484.86" cy="1045.43" r="5" fill="none" stroke="#007014" stroke-width="2.2"/>
<circle cx="1493.94" cy="1058.29" r="5" fill="none" stroke="#007014" stroke-width="2.2"/>
<circle cx="1503.14" cy="1070.86" r="5" fill="none" stroke="#007014" stroke-width="2.2"/>
<circle cx="1512.57" cy="1082.86" r="5" fill="none" stroke="#007014" stroke-width="2.2"/>
<circle cx="1521.66" cy="1093.14" r="5" fill="none" stroke="#007014" stroke-width="2.2"/>
<circle cx="1530.57" cy="1102.57" r="5" fill="none" stroke="#007014" stroke-width="2.2"/>
<circle cx="1539.14" cy="1111.14" r="5" fill="none" stroke="#007014" stroke-width="2.2"/>
<circle cx="1548.57" cy="1118.86" r="5" fill="none" stroke="#007014" stroke-width="2.2"/>
<circle cx="1557.66" cy="1124.86" r="5" fill="none" stroke="#007014" stroke-width="2.2"/>
<circle cx="1566.57" cy="1130" r="5" fill="none" stroke="#007014" stroke-width="2.2"/>
<circle cx="1575.66" cy="1135.14" r="5" fill="none" stroke="#007014" stroke-width="2.2"/>
<circle cx="1584.57" cy="1139.43" r="5" fill="none" stroke="#007014" stroke-width="2.2"/>
<circle cx="1593.66" cy="1142.86" r="5" fill="none" stroke="#007014" stroke-width="2.2"/>
<circle cx="1602.57" cy="1146.29" r="5" fill="none" stroke="#007014" stroke-width="2.2"/>
<circle cx="1611.66" cy="1148.86" r="5" fill="none" stroke="#007014" stroke-width="2.2"/>
<circle cx="1620.57" cy="1151.43" r="5" fill="none" stroke="#007014" stroke-width="2.2"/>
<circle cx="1629.66" cy="1153.14" r="5" fill="none" stroke="#007014" stroke-width="2.2"/>
<circle cx="1638.57" cy="1149.71" r="5" fill="none" stroke="#007014" stroke-width="2.2"/>
<circle cx="1647.66" cy="1154.86" r="5" fill="none" stroke="#007014" stroke-width="2.2"/>
<circle cx="1656.57" cy="1118.86" r="5" fill="none" stroke="#007014" stroke-width="2.2"/>
<circle cx="1665.66" cy="1154.86" r="5" fill="none" stroke="#007014" stroke-width="2.2"/>
<circle cx="1674.91" cy="1157.43" r="5" fill="none" stroke="#007014" stroke-width="2.2"/>
<circle cx="1684" cy="1102.57" r="5" fill="none" stroke="#007014" stroke-width="2.2"/>
<polyline points="1045.77,959.36 1047.05,957.57 1048.33,955.27 1049.61,952.64 1050.89,949.87 1052.17,947.08 1053.45,944.32 1054.72,941.62 1056,938.99 1057.28,936.42 1058.56,933.92 1059.84,931.48 1061.12,929.08 1062.4,926.72 1063.68,924.37 1064.96,922.03 1066.24,919.69 1067.51,917.34 1068.79,914.96 1070.07,912.57 1071.35,910.17 1072.63,907.75 1073.91,905.33 1075.19,902.92 1076.47,900.53 1077.75,898.16 1079.03,895.81 1080.3,893.5 1081.58,891.22 1082.86,888.98 1084.14,886.77 1085.42,884.6 1086.7,882.45 1087.98,880.35 1089.26,878.28 1090.54,876.25 1091.82,874.25 1093.09,872.28 1094.37,870.33 1095.65,868.41 1096.93,866.5 1098.21,864.62 1099.49,862.75 1100.77,860.91 1102.05,859.08 1103.33,857.28 1104.61,855.51 1105.89,853.76 1107.16,852.03 1108.44,850.34 1109.72,848.67 1111,847.02 1112.28,845.41 1113.56,843.81 1114.84,842.24 1116.12,840.68 1117.4,839.15 1118.68,837.63 1119.95,836.13 1121.23,834.65 1122.51,833.19 1123.79,831.76 1125.07,830.35 1126.35,828.98 1127.63,827.63 1128.91,826.31 1130.19,825.03 1131.47,823.78 1132.74,822.57 1134.02,821.38 1135.3,820.23 1136.58,819.1 1137.86,817.99 1139.14,816.9 1140.42,815.83 1141.7,814.78 1142.98,813.76 1144.26,812.76 1145.53,811.78 1146.81,810.84 1148.09,809.92 1149.37,809.04 1150.65,808.19 1151.93,807.38 1153.21,806.6 1154.49,805.85 1155.77,805.13 1157.05,804.44 1158.32,803.77 1159.6,803.12 1160.88,802.49 1162.16,801.88 1163.44,801.29 1164.72,800.72 1166,800.17 1167.28,799.64 1168.56,799.13 1169.84,798.64 1171.11,798.17 1172.39,797.71 1173.67,797.28 1174.95,796.86 1176.23,796.45 1177.51,796.05 1178.79,795.66 1180.07,795.28 1181.35,794.92 1182.63,794.56 1183.91,794.23 1185.18,793.9 1186.46,793.6 1187.74,793.31 1189.02,793.05 1190.3,792.8 1191.58,792.58 1192.86,792.37 1194.14,792.17 1195.42,791.98 1196.7,791.8 1197.97,791.63 1199.25,791.47 1200.53,791.31 1201.81,791.17 1203.09,791.04 1204.37,790.92 1205.65,790.83 1206.93,790.75 1208.21,790.7 1209.49,790.67 1210.76,790.65 1212.04,790.64 1213.32,790.63 1214.6,790.63 1215.88,790.63 1217.16,790.63 1218.44,790.63 1219.72,790.63 1221,790.63 1222.28,790.63 1223.55,790.63 1224.83,790.64 1226.11,790.65 1227.39,790.68 1228.67,790.72 1229.95,790.78 1231.23,790.86 1232.51,790.95 1233.79,791.07 1235.07,791.19 1236.34,791.32 1237.62,791.47 1238.9,791.61 1240.18,791.76 1241.46,791.92 1242.74,792.08 1244.02,792.24 1245.3,792.42 1246.58,792.61 1247.86,792.81 1249.13,793.02 1250.41,793.24 1251.69,793.47 1252.97,793.7 1254.25,793.95 1255.53,794.19 1256.81,794.45 1258.09,794.7 1259.37,794.97 1260.65,795.24 1261.92,795.52 1263.2,795.81 1264.48,796.11 1265.76,796.42 1267.04,796.74 1268.32,797.08 1269.6,797.43 1270.88,797.79 1272.16,798.17 1273.44,798.58 1274.72,799 1275.99,799.44 1277.27,799.9 1278.55,800.38 1279.83,800.88 1281.11,801.38 1282.39,801.9 1283.67,802.42 1284.95,802.96 1286.23,803.5 1287.51,804.04 1288.78,804.6 1290.06,805.17 1291.34,805.76 1292.62,806.35 1293.9,806.97 1295.18,807.59 1296.46,808.23 1297.74,808.89 1299.02,809.57 1300.3,810.27 1301.57,810.99 1302.85,811.73 1304.13,812.49 1305.41,813.26 1306.69,814.05 1307.97,814.85 1309.25,815.67 1310.53,816.51 1311.81,817.38 1313.09,818.27 1314.36,819.2 1315.64,820.14 1316.92,821.08 1318.2,822.01 1319.48,822.89 1320.76,823.72 1322.04,824.48 1323.32,825.16 1324.6,825.76 1325.88,826.28 1327.15,826.76 1328.43,827.2 1329.71,827.63 1330.99,828.07 1332.27,828.55 1333.55,829.08 1334.83,829.69 1336.11,830.38 1337.39,831.15 1338.67,832 1339.94,832.91 1341.22,833.88 1342.5,834.89 1343.78,835.92 1345.06,836.97 1346.34,838.05 1347.62,839.15 1348.9,840.27 1350.18,841.42 1351.46,842.59 1352.74,843.76 1354.01,844.94 1355.29,846.11 1356.57,847.28 1357.85,848.44 1359.13,849.6 1360.41,850.76 1361.69,851.93 1362.97,853.11 1364.25,854.31 1365.53,855.54 1366.8,856.79 1368.08,858.07 1369.36,859.38 1370.64,860.71 1371.92,862.06 1373.2,863.44 1374.48,864.84 1375.76,866.26 1377.04,867.71 1378.32,869.18 1379.59,870.67 1380.87,872.18 1382.15,873.71 1383.43,875.24 1384.71,876.77 1385.99,878.31 1387.27,879.85 1388.55,881.39 1389.83,882.93 1391.11,884.47 1392.38,885.99 1393.66,887.51 1394.94,889 1396.22,890.47 1397.5,891.93 1398.78,893.41 1400.06,894.95 1401.34,896.57 1402.62,898.33 1403.9,900.26 1405.17,902.36 1406.45,904.62 1407.73,907 1409.01,909.44 1410.29,911.88 1411.57,914.28 1412.85,916.58 1414.13,918.79 1415.41,920.92 1416.69,922.99 1417.96,925.04 1419.24,927.11 1420.52,929.21 1421.8,931.36 1423.08,933.58 1424.36,935.85 1425.64,938.17 1426.92,940.5 1428.2,942.83 1429.48,945.15 1430.75,947.44 1432.03,949.7 1433.31,951.92 1434.59,954.13 1435.87,956.33 1437.15,958.55 1438.43,960.79 1439.71,963.07 1440.99,965.41 1442.27,967.79 1443.55,970.21 1444.82,972.67 1446.1,975.13 1447.38,977.61 1448.66,980.07 1449.94,982.52 1451.22,984.95 1452.5,987.37 1453.78,989.79 1455.06,992.2 1456.34,994.62 1457.61,997.04 1458.89,999.48 1460.17,1001.92 1461.45,1004.36 1462.73,1006.8 1464.01,1009.21 1465.29,1011.59 1466.57,1013.93 1467.85,1016.22 1469.13,1018.45 1470.4,1020.65 1471.68,1022.83 1472.96,1024.99 1474.24,1027.16 1475.52,1029.35 1476.8,1031.55 1478.08,1033.78 1479.36,1036.02 1480.64,1038.24 1481.92,1040.43 1483.19,1042.57 1484.47,1044.65 1485.75,1046.64 1487.03,1048.57 1488.31,1050.43 1489.59,1052.25 1490.87,1054.04 1492.15,1055.82 1493.43,1057.58 1494.71,1059.35 1495.98,1061.11 1497.26,1062.88 1498.54,1064.63 1499.82,1066.37 1501.1,1068.1 1502.38,1069.81 1503.66,1071.51 1504.94,1073.19 1506.22,1074.85 1507.5,1076.5 1508.77,1078.12 1510.05,1079.72 1511.33,1081.3 1512.61,1082.84 1513.89,1084.36 1515.17,1085.86 1516.45,1087.33 1517.73,1088.77 1519.01,1090.2 1520.29,1091.62 1521.57,1093.02 1522.84,1094.41 1524.12,1095.79 1525.4,1097.15 1526.68,1098.51 1527.96,1099.85 1529.24,1101.18 1530.52,1102.51 1531.8,1103.83 1533.08,1105.14 1534.36,1106.44 1535.63,1107.72 1536.91,1108.97 1538.19,1110.18 1539.47,1111.36 1540.75,1112.5 1542.03,1113.61 1543.31,1114.69 1544.59,1115.73 1545.87,1116.75 1547.15,1117.73 1548.42,1118.69 1549.7,1119.61 1550.98,1120.51 1552.26,1121.38 1553.54,1122.23 1554.82,1123.05 1556.1,1123.86 1557.38,1124.65 1558.66,1125.43 1559.94,1126.19 1561.21,1126.94 1562.49,1127.68 1563.77,1128.41 1565.05,1129.14 1566.33,1129.87 1567.61,1130.61 1568.89,1131.34 1570.17,1132.07 1571.45,1132.8 1572.73,1133.52 1574,1134.22 1575.28,1134.91 1576.56,1135.58 1577.84,1136.24 1579.12,1136.87 1580.4,1137.49 1581.68,1138.1 1582.96,1138.68 1584.24,1139.24 1585.52,1139.77 1586.79,1140.28 1588.07,1140.78 1589.35,1141.27 1590.63,1141.74 1591.91,1142.22 1593.19,1142.7 1594.47,1143.19 1595.75,1143.69 1597.03,1144.19 1598.31,1144.69 1599.58,1145.17 1600.86,1145.64 1602.14,1146.08 1603.42,1146.5 1604.7,1146.9 1605.98,1147.28 1607.26,1147.64 1608.54,1148 1609.82,1148.36 1611.1,1148.71 1612.38,1149.08 1613.65,1149.45 1614.93,1149.82 1616.21,1150.19 1617.49,1150.56 1618.77,1150.92 1620.05,1151.28 1621.33,1151.63 1622.61,1151.97 1623.89,1152.31 1625.17,1152.63 1626.44,1152.94 1627.72,1153.23 1629,1153.48 1630.28,1153.72 1631.56,1153.93 1632.84,1154.13 1634.12,1154.32 1635.4,1154.5 1636.68,1154.67 1637.96,1154.83 1639.23,1154.99 1640.51,1155.14 1641.79,1155.28 1643.07,1155.42 1644.35,1155.55 1645.63,1155.68 1646.91,1155.81 1648.19,1155.93 1649.47,1156.04 1650.75,1156.16 1652.02,1156.27 1653.3,1156.37 1654.58,1156.48 1655.86,1156.58 1657.14,1156.68 1658.42,1156.78 1659.7,1156.88 1660.98,1156.97 1662.26,1157.07 1663.54,1157.16 1664.81,1157.25 1666.09,1157.34 1667.37,1157.42 1668.65,1157.51 1669.93,1157.59 1671.21,1157.67 1672.49,1157.74 1673.77,1157.81 1675.05,1157.88 1676.33,1157.95 1677.6,1158.01 1678.88,1158.07 1680.16,1158.13 1681.44,1158.18 1682.72,1158.22 1684,1158.25" fill="none" stroke="#007014" stroke-width="2.6" stroke-linejoin="round" stroke-linecap="round" />
<polygon points="1045.77,1019.3 1051.57,1029.45 1039.97,1029.45" fill="none" stroke="#0000ff" stroke-width="2.2" stroke-linejoin="miter"/>
<polygon points="1068.57,991.87 1074.37,1002.02 1062.77,1002.02" fill="none" stroke="#0000ff" stroke-width="2.2" stroke-linejoin="miter"/>
<polygon points="1091.2,958.44 1097,968.59 1085.4,968.59" fill="none" stroke="#0000ff" stroke-width="2.2" stroke-linejoin="miter"/>
<polygon points="1113.14,927.58 1118.94,937.73 1107.34,937.73" fill="none" stroke="#0000ff" stroke-width="2.2" stroke-linejoin="miter"/>
<polygon points="1134.23,903.24 1140.03,913.39 1128.43,913.39" fill="none" stroke="#0000ff" stroke-width="2.2" stroke-linejoin="miter"/>
<polygon points="1154.63,882.15 1160.43,892.3 1148.83,892.3" fill="none" stroke="#0000ff" stroke-width="2.2" stroke-linejoin="miter"/>
<polygon points="1174,865.01 1179.8,875.16 1168.2,875.16" fill="none" stroke="#0000ff" stroke-width="2.2" stroke-linejoin="miter"/>
<polygon points="1192.86,853.01 1198.66,863.16 1187.06,863.16" fill="none" stroke="#0000ff" stroke-width="2.2" stroke-linejoin="miter"/>
<polygon points="1210.86,842.72 1216.66,852.87 1205.06,852.87" fill="none" stroke="#0000ff" stroke-width="2.2" stroke-linejoin="miter"/>
<polygon points="1227.14,833.3 1232.94,843.45 1221.34,843.45" fill="none" stroke="#0000ff" stroke-width="2.2" stroke-linejoin="miter"/>
<polygon points="1242.57,824.72 1248.37,834.87 1236.77,834.87" fill="none" stroke="#0000ff" stroke-width="2.2" stroke-linejoin="miter"/>
<polygon points="1257.49,815.3 1263.29,825.45 1251.69,825.45" fill="none" stroke="#0000ff" stroke-width="2.2" stroke-linejoin="miter"/>
<polygon points="1271.71,806.72 1277.51,816.87 1265.91,816.87" fill="none" stroke="#0000ff" stroke-width="2.2" stroke-linejoin="miter"/>
<polygon points="1285.43,801.58 1291.23,811.73 1279.63,811.73" fill="none" stroke="#0000ff" stroke-width="2.2" stroke-linejoin="miter"/>
<polygon points="1298.29,795.58 1304.09,805.73 1292.49,805.73" fill="none" stroke="#0000ff" stroke-width="2.2" stroke-linejoin="miter"/>
<polygon points="1311.14,787.87 1316.94,798.02 1305.34,798.02" fill="none" stroke="#0000ff" stroke-width="2.2" stroke-linejoin="miter"/>
<polygon points="1323.49,780.15 1329.29,790.3 1317.69,790.3" fill="none" stroke="#0000ff" stroke-width="2.2" stroke-linejoin="miter"/>
<polygon points="1334.69,776.44 1340.49,786.59 1328.89,786.59" fill="none" stroke="#0000ff" stroke-width="2.2" stroke-linejoin="miter"/>
<polygon points="1345.31,770.44 1351.11,780.59 1339.51,780.59" fill="none" stroke="#0000ff" stroke-width="2.2" stroke-linejoin="miter"/>
<polygon points="1355.77,768.72 1361.57,778.87 1349.97,778.87" fill="none" stroke="#0000ff" stroke-width="2.2" stroke-linejoin="miter"/>
<polygon points="1366.06,765.3 1371.86,775.45 1360.26,775.45" fill="none" stroke="#0000ff" stroke-width="2.2" stroke-linejoin="miter"/>
<polygon points="1375.83,759.3 1381.63,769.45 1370.03,769.45" fill="none" stroke="#0000ff" stroke-width="2.2" stroke-linejoin="miter"/>
<polygon points="1385.26,751.58 1391.06,761.73 1379.46,761.73" fill="none" stroke="#0000ff" stroke-width="2.2" stroke-linejoin="miter"/>
<polygon points="1394.51,754.15 1400.31,764.3 1388.71,764.3" fill="none" stroke="#0000ff" stroke-width="2.2" stroke-linejoin="miter"/>
<polygon points="1403.26,752.44 1409.06,762.59 1397.46,762.59" fill="none" stroke="#0000ff" stroke-width="2.2" stroke-linejoin="miter"/>
<polygon points="1410.8,750.72 1416.6,760.87 1405,760.87" fill="none" stroke="#0000ff" stroke-width="2.2" stroke-linejoin="miter"/>
<polygon points="1419.89,749.87 1425.69,760.02 1414.09,760.02" fill="none" stroke="#0000ff" stroke-width="2.2" stroke-linejoin="miter"/>
<polygon points="1428.97,749.87 1434.77,760.02 1423.17,760.02" fill="none" stroke="#0000ff" stroke-width="2.2" stroke-linejoin="miter"/>
<polygon points="1438.06,751.58 1443.86,761.73 1432.26,761.73" fill="none" stroke="#0000ff" stroke-width="2.2" stroke-linejoin="miter"/>
<polygon points="1447.31,755.01 1453.11,765.16 1441.51,765.16" fill="none" stroke="#0000ff" stroke-width="2.2" stroke-linejoin="miter"/>
<polygon points="1456.4,761.01 1462.2,771.16 1450.6,771.16" fill="none" stroke="#0000ff" stroke-width="2.2" stroke-linejoin="miter"/>
<polygon points="1465.49,768.72 1471.29,778.87 1459.69,778.87" fill="none" stroke="#0000ff" stroke-width="2.2" stroke-linejoin="miter"/>
<polygon points="1474.57,779.01 1480.37,789.16 1468.77,789.16" fill="none" stroke="#0000ff" stroke-width="2.2" stroke-linejoin="miter"/>
<polygon points="1483.66,792.72 1489.46,802.87 1477.86,802.87" fill="none" stroke="#0000ff" stroke-width="2.2" stroke-linejoin="miter"/>
<polygon points="1492.74,808.15 1498.54,818.3 1486.94,818.3" fill="none" stroke="#0000ff" stroke-width="2.2" stroke-linejoin="miter"/>
<polygon points="1501.83,827.01 1507.63,837.16 1496.03,837.16" fill="none" stroke="#0000ff" stroke-width="2.2" stroke-linejoin="miter"/>
<polygon points="1511.09,849.3 1516.89,859.45 1505.29,859.45" fill="none" stroke="#0000ff" stroke-width="2.2" stroke-linejoin="miter"/>
<polygon points="1520.17,874.15 1525.97,884.3 1514.37,884.3" fill="none" stroke="#0000ff" stroke-width="2.2" stroke-linejoin="miter"/>
<polygon points="1529.71,900.72 1535.51,910.87 1523.91,910.87" fill="none" stroke="#0000ff" stroke-width="2.2" stroke-linejoin="miter"/>
<polygon points="1539.14,929.01 1544.94,939.16 1533.34,939.16" fill="none" stroke="#0000ff" stroke-width="2.2" stroke-linejoin="miter"/>
<polygon points="1548.23,957.3 1554.03,967.45 1542.43,967.45" fill="none" stroke="#0000ff" stroke-width="2.2" stroke-linejoin="miter"/>
<polygon points="1557.14,983.01 1562.94,993.16 1551.34,993.16" fill="none" stroke="#0000ff" stroke-width="2.2" stroke-linejoin="miter"/>
<polygon points="1566.23,1007.87 1572.03,1018.02 1560.43,1018.02" fill="none" stroke="#0000ff" stroke-width="2.2" stroke-linejoin="miter"/>
<polygon points="1573.43,1029.01 1579.23,1039.16 1567.63,1039.16" fill="none" stroke="#0000ff" stroke-width="2.2" stroke-linejoin="miter"/>
<polygon points="1582.86,1048.72 1588.66,1058.87 1577.06,1058.87" fill="none" stroke="#0000ff" stroke-width="2.2" stroke-linejoin="miter"/>
<polygon points="1591.94,1065.87 1597.74,1076.02 1586.14,1076.02" fill="none" stroke="#0000ff" stroke-width="2.2" stroke-linejoin="miter"/>
<polygon points="1600.86,1080.44 1606.66,1090.59 1595.06,1090.59" fill="none" stroke="#0000ff" stroke-width="2.2" stroke-linejoin="miter"/>
<polygon points="1610.29,1093.3 1616.09,1103.45 1604.49,1103.45" fill="none" stroke="#0000ff" stroke-width="2.2" stroke-linejoin="miter"/>
<polygon points="1618.86,1104.44 1624.66,1114.59 1613.06,1114.59" fill="none" stroke="#0000ff" stroke-width="2.2" stroke-linejoin="miter"/>
<polygon points="1627.94,1113.01 1633.74,1123.16 1622.14,1123.16" fill="none" stroke="#0000ff" stroke-width="2.2" stroke-linejoin="miter"/>
<polygon points="1636.86,1120.72 1642.66,1130.87 1631.06,1130.87" fill="none" stroke="#0000ff" stroke-width="2.2" stroke-linejoin="miter"/>
<polygon points="1645.43,1126.72 1651.23,1136.87 1639.63,1136.87" fill="none" stroke="#0000ff" stroke-width="2.2" stroke-linejoin="miter"/>
<polygon points="1654.86,1135.3 1660.66,1145.45 1649.06,1145.45" fill="none" stroke="#0000ff" stroke-width="2.2" stroke-linejoin="miter"/>
<polygon points="1665.66,1119.01 1671.46,1129.16 1659.86,1129.16" fill="none" stroke="#0000ff" stroke-width="2.2" stroke-linejoin="miter"/>
<polygon points="1674.91,1147.3 1680.71,1157.45 1669.11,1157.45" fill="none" stroke="#0000ff" stroke-width="2.2" stroke-linejoin="miter"/>
<polygon points="1684,1140.44 1689.8,1150.59 1678.2,1150.59" fill="none" stroke="#0000ff" stroke-width="2.2" stroke-linejoin="miter"/>
<polyline points="1045.77,1026.4 1047.05,1025.4 1048.33,1024.1 1049.61,1022.59 1050.89,1020.98 1052.17,1019.32 1053.45,1017.64 1054.72,1015.96 1056,1014.28 1057.28,1012.6 1058.56,1010.91 1059.84,1009.23 1061.12,1007.54 1062.4,1005.86 1063.68,1004.17 1064.96,1002.48 1066.24,1000.8 1067.51,999.11 1068.79,997.42 1070.07,995.73 1071.35,994.04 1072.63,992.35 1073.91,990.65 1075.19,988.96 1076.47,987.26 1077.75,985.57 1079.03,983.87 1080.3,982.17 1081.58,980.48 1082.86,978.78 1084.14,977.08 1085.42,975.39 1086.7,973.69 1087.98,971.99 1089.26,970.29 1090.54,968.59 1091.82,966.89 1093.09,965.19 1094.37,963.48 1095.65,961.77 1096.93,960.06 1098.21,958.35 1099.49,956.64 1100.77,954.93 1102.05,953.22 1103.33,951.51 1104.61,949.81 1105.89,948.11 1107.16,946.41 1108.44,944.73 1109.72,943.04 1111,941.37 1112.28,939.7 1113.56,938.04 1114.84,936.38 1116.12,934.72 1117.4,933.06 1118.68,931.41 1119.95,929.76 1121.23,928.12 1122.51,926.48 1123.79,924.85 1125.07,923.22 1126.35,921.62 1127.63,920.02 1128.91,918.44 1130.19,916.87 1131.47,915.32 1132.74,913.79 1134.02,912.27 1135.3,910.77 1136.58,909.28 1137.86,907.8 1139.14,906.33 1140.42,904.88 1141.7,903.43 1142.98,902 1144.26,900.59 1145.53,899.19 1146.81,897.8 1148.09,896.43 1149.37,895.08 1150.65,893.76 1151.93,892.45 1153.21,891.16 1154.49,889.9 1155.77,888.65 1157.05,887.43 1158.32,886.22 1159.6,885.04 1160.88,883.86 1162.16,882.71 1163.44,881.57 1164.72,880.44 1166,879.33 1167.28,878.23 1168.56,877.14 1169.84,876.05 1171.11,874.98 1172.39,873.91 1173.67,872.85 1174.95,871.8 1176.23,870.75 1177.51,869.71 1178.79,868.67 1180.07,867.64 1181.35,866.62 1182.63,865.61 1183.91,864.61 1185.18,863.63 1186.46,862.66 1187.74,861.7 1189.02,860.76 1190.3,859.83 1191.58,858.92 1192.86,858.03 1194.14,857.16 1195.42,856.3 1196.7,855.46 1197.97,854.63 1199.25,853.81 1200.53,853 1201.81,852.21 1203.09,851.43 1204.37,850.66 1205.65,849.89 1206.93,849.14 1208.21,848.39 1209.49,847.66 1210.76,846.93 1212.04,846.21 1213.32,845.5 1214.6,844.8 1215.88,844.12 1217.16,843.44 1218.44,842.76 1219.72,842.1 1221,841.43 1222.28,840.78 1223.55,840.12 1224.83,839.47 1226.11,838.81 1227.39,838.15 1228.67,837.49 1229.95,836.83 1231.23,836.17 1232.51,835.51 1233.79,834.86 1235.07,834.21 1236.34,833.56 1237.62,832.93 1238.9,832.31 1240.18,831.7 1241.46,831.11 1242.74,830.54 1244.02,829.98 1245.3,829.44 1246.58,828.92 1247.86,828.41 1249.13,827.91 1250.41,827.41 1251.69,826.91 1252.97,826.41 1254.25,825.89 1255.53,825.37 1256.81,824.82 1258.09,824.26 1259.37,823.68 1260.65,823.09 1261.92,822.48 1263.2,821.86 1264.48,821.23 1265.76,820.6 1267.04,819.97 1268.32,819.35 1269.6,818.73 1270.88,818.13 1272.16,817.54 1273.44,816.96 1274.72,816.39 1275.99,815.82 1277.27,815.27 1278.55,814.71 1279.83,814.16 1281.11,813.61 1282.39,813.05 1283.67,812.49 1284.95,811.93 1286.23,811.37 1287.51,810.8 1288.78,810.24 1290.06,809.68 1291.34,809.11 1292.62,808.52 1293.9,807.92 1295.18,807.29 1296.46,806.63 1297.74,805.93 1299.02,805.18 1300.3,804.38 1301.57,803.53 1302.85,802.64 1304.13,801.72 1305.41,800.76 1306.69,799.77 1307.97,798.77 1309.25,797.73 1310.53,796.66 1311.81,795.53 1313.09,794.33 1314.36,793.07 1315.64,791.79 1316.92,790.52 1318.2,789.34 1319.48,788.32 1320.76,787.51 1322.04,786.98 1323.32,786.74 1324.6,786.72 1325.88,786.81 1327.15,786.89 1328.43,786.84 1329.71,786.6 1330.99,786.17 1332.27,785.58 1333.55,784.85 1334.83,784.02 1336.11,783.12 1337.39,782.17 1338.67,781.2 1339.94,780.24 1341.22,779.3 1342.5,778.41 1343.78,777.56 1345.06,776.75 1346.34,775.98 1347.62,775.22 1348.9,774.48 1350.18,773.74 1351.46,773 1352.74,772.28 1354.01,771.57 1355.29,770.87 1356.57,770.18 1357.85,769.51 1359.13,768.87 1360.41,768.24 1361.69,767.63 1362.97,767.03 1364.25,766.45 1365.53,765.88 1366.8,765.32 1368.08,764.78 1369.36,764.24 1370.64,763.72 1371.92,763.22 1373.2,762.73 1374.48,762.27 1375.76,761.81 1377.04,761.38 1378.32,760.96 1379.59,760.56 1380.87,760.16 1382.15,759.77 1383.43,759.39 1384.71,759.02 1385.99,758.66 1387.27,758.32 1388.55,757.99 1389.83,757.69 1391.11,757.41 1392.38,757.15 1393.66,756.92 1394.94,756.72 1396.22,756.54 1397.5,756.37 1398.78,756.22 1400.06,756.07 1401.34,755.93 1402.62,755.8 1403.9,755.68 1405.17,755.57 1406.45,755.48 1407.73,755.4 1409.01,755.33 1410.29,755.28 1411.57,755.26 1412.85,755.25 1414.13,755.28 1415.41,755.33 1416.69,755.41 1417.96,755.51 1419.24,755.64 1420.52,755.8 1421.8,755.97 1423.08,756.17 1424.36,756.38 1425.64,756.6 1426.92,756.84 1428.2,757.1 1429.48,757.37 1430.75,757.68 1432.03,758.02 1433.31,758.41 1434.59,758.85 1435.87,759.34 1437.15,759.87 1438.43,760.44 1439.71,761.05 1440.99,761.7 1442.27,762.38 1443.55,763.09 1444.82,763.82 1446.1,764.58 1447.38,765.39 1448.66,766.24 1449.94,767.14 1451.22,768.11 1452.5,769.13 1453.78,770.21 1455.06,771.35 1456.34,772.53 1457.61,773.76 1458.89,775.01 1460.17,776.3 1461.45,777.62 1462.73,778.96 1464.01,780.33 1465.29,781.72 1466.57,783.15 1467.85,784.62 1469.13,786.12 1470.4,787.68 1471.68,789.27 1472.96,790.91 1474.24,792.6 1475.52,794.34 1476.8,796.12 1478.08,797.95 1479.36,799.83 1480.64,801.77 1481.92,803.77 1483.19,805.84 1484.47,807.99 1485.75,810.21 1487.03,812.51 1488.31,814.88 1489.59,817.3 1490.87,819.78 1492.15,822.31 1493.43,824.88 1494.71,827.47 1495.98,830.1 1497.26,832.76 1498.54,835.44 1499.82,838.17 1501.1,840.93 1502.38,843.75 1503.66,846.61 1504.94,849.52 1506.22,852.46 1507.5,855.44 1508.77,858.43 1510.05,861.45 1511.33,864.47 1512.61,867.5 1513.89,870.53 1515.17,873.54 1516.45,876.55 1517.73,879.54 1519.01,882.52 1520.29,885.49 1521.57,888.46 1522.84,891.43 1524.12,894.4 1525.4,897.39 1526.68,900.39 1527.96,903.41 1529.24,906.46 1530.52,909.54 1531.8,912.66 1533.08,915.83 1534.36,919.04 1535.63,922.31 1536.91,925.64 1538.19,929.05 1539.47,932.54 1540.75,936.13 1542.03,939.83 1543.31,943.62 1544.59,947.5 1545.87,951.44 1547.15,955.44 1548.42,959.46 1549.7,963.49 1550.98,967.51 1552.26,971.5 1553.54,975.43 1554.82,979.3 1556.1,983.09 1557.38,986.8 1558.66,990.44 1559.94,994.01 1561.21,997.54 1562.49,1001.02 1563.77,1004.46 1565.05,1007.88 1566.33,1011.27 1567.61,1014.64 1568.89,1017.99 1570.17,1021.33 1571.45,1024.67 1572.73,1028.01 1574,1031.35 1575.28,1034.71 1576.56,1038.07 1577.84,1041.43 1579.12,1044.76 1580.4,1048.03 1581.68,1051.21 1582.96,1054.28 1584.24,1057.22 1585.52,1060.07 1586.79,1062.82 1588.07,1065.49 1589.35,1068.1 1590.63,1070.65 1591.91,1073.13 1593.19,1075.55 1594.47,1077.9 1595.75,1080.2 1597.03,1082.43 1598.31,1084.6 1599.58,1086.71 1600.86,1088.76 1602.14,1090.75 1603.42,1092.7 1604.7,1094.6 1605.98,1096.45 1607.26,1098.26 1608.54,1100.03 1609.82,1101.75 1611.1,1103.43 1612.38,1105.08 1613.65,1106.68 1614.93,1108.24 1616.21,1109.76 1617.49,1111.25 1618.77,1112.7 1620.05,1114.13 1621.33,1115.53 1622.61,1116.9 1623.89,1118.25 1625.17,1119.57 1626.44,1120.86 1627.72,1122.12 1629,1123.34 1630.28,1124.53 1631.56,1125.67 1632.84,1126.77 1634.12,1127.82 1635.4,1128.82 1636.68,1129.78 1637.96,1130.7 1639.23,1131.58 1640.51,1132.43 1641.79,1133.25 1643.07,1134.04 1644.35,1134.81 1645.63,1135.55 1646.91,1136.26 1648.19,1136.96 1649.47,1137.63 1650.75,1138.28 1652.02,1138.92 1653.3,1139.53 1654.58,1140.13 1655.86,1140.72 1657.14,1141.29 1658.42,1141.85 1659.7,1142.4 1660.98,1142.93 1662.26,1143.45 1663.54,1143.95 1664.81,1144.44 1666.09,1144.91 1667.37,1145.37 1668.65,1145.8 1669.93,1146.22 1671.21,1146.62 1672.49,1147 1673.77,1147.36 1675.05,1147.71 1676.33,1148.04 1677.6,1148.35 1678.88,1148.65 1680.16,1148.92 1681.44,1149.17 1682.72,1149.37 1684,1149.52" fill="none" stroke="#0a58d8" stroke-width="2.6" stroke-linejoin="round" stroke-linecap="round" />
<polygon points="1045.77,1045.31 1052.17,1051.71 1045.77,1058.11 1039.37,1051.71" fill="none" stroke="#6e0a3c" stroke-width="2.2"/>
<polygon points="1068.57,1016.17 1074.97,1022.57 1068.57,1028.97 1062.17,1022.57" fill="none" stroke="#6e0a3c" stroke-width="2.2"/>
<polygon points="1091.2,994.74 1097.6,1001.14 1091.2,1007.54 1084.8,1001.14" fill="none" stroke="#6e0a3c" stroke-width="2.2"/>
<polygon points="1113.14,962.17 1119.54,968.57 1113.14,974.97 1106.74,968.57" fill="none" stroke="#6e0a3c" stroke-width="2.2"/>
<polygon points="1134.23,932.17 1140.63,938.57 1134.23,944.97 1127.83,938.57" fill="none" stroke="#6e0a3c" stroke-width="2.2"/>
<polygon points="1154.63,896.69 1161.03,903.09 1154.63,909.49 1148.23,903.09" fill="none" stroke="#6e0a3c" stroke-width="2.2"/>
<polygon points="1174,867.89 1180.4,874.29 1174,880.69 1167.6,874.29" fill="none" stroke="#6e0a3c" stroke-width="2.2"/>
<polygon points="1192.86,846.46 1199.26,852.86 1192.86,859.26 1186.46,852.86" fill="none" stroke="#6e0a3c" stroke-width="2.2"/>
<polygon points="1210,831.89 1216.4,838.29 1210,844.69 1203.6,838.29" fill="none" stroke="#6e0a3c" stroke-width="2.2"/>
<polygon points="1226.29,823.31 1232.69,829.71 1226.29,836.11 1219.89,829.71" fill="none" stroke="#6e0a3c" stroke-width="2.2"/>
<polygon points="1242.23,817.31 1248.63,823.71 1242.23,830.11 1235.83,823.71" fill="none" stroke="#6e0a3c" stroke-width="2.2"/>
<polygon points="1257.49,815.6 1263.89,822 1257.49,828.4 1251.09,822" fill="none" stroke="#6e0a3c" stroke-width="2.2"/>
<polygon points="1271.71,812.17 1278.11,818.57 1271.71,824.97 1265.31,818.57" fill="none" stroke="#6e0a3c" stroke-width="2.2"/>
<polygon points="1285.43,808.74 1291.83,815.14 1285.43,821.54 1279.03,815.14" fill="none" stroke="#6e0a3c" stroke-width="2.2"/>
<polygon points="1298.29,805.31 1304.69,811.71 1298.29,818.11 1291.89,811.71" fill="none" stroke="#6e0a3c" stroke-width="2.2"/>
<polygon points="1311.14,801.03 1317.54,807.43 1311.14,813.83 1304.74,807.43" fill="none" stroke="#6e0a3c" stroke-width="2.2"/>
<polygon points="1323.49,792.46 1329.89,798.86 1323.49,805.26 1317.09,798.86" fill="none" stroke="#6e0a3c" stroke-width="2.2"/>
<polygon points="1334.69,785.31 1341.09,791.71 1334.69,798.11 1328.29,791.71" fill="none" stroke="#6e0a3c" stroke-width="2.2"/>
<polygon points="1345.31,777.6 1351.71,784 1345.31,790.4 1338.91,784" fill="none" stroke="#6e0a3c" stroke-width="2.2"/>
<polygon points="1355.77,769.03 1362.17,775.43 1355.77,781.83 1349.37,775.43" fill="none" stroke="#6e0a3c" stroke-width="2.2"/>
<polygon points="1366.06,761.31 1372.46,767.71 1366.06,774.11 1359.66,767.71" fill="none" stroke="#6e0a3c" stroke-width="2.2"/>
<polygon points="1375.83,752.74 1382.23,759.14 1375.83,765.54 1369.43,759.14" fill="none" stroke="#6e0a3c" stroke-width="2.2"/>
<polygon points="1385.26,733.89 1391.66,740.29 1385.26,746.69 1378.86,740.29" fill="none" stroke="#6e0a3c" stroke-width="2.2"/>
<polygon points="1394.51,745.03 1400.91,751.43 1394.51,757.83 1388.11,751.43" fill="none" stroke="#6e0a3c" stroke-width="2.2"/>
<polygon points="1403.26,739.03 1409.66,745.43 1403.26,751.83 1396.86,745.43" fill="none" stroke="#6e0a3c" stroke-width="2.2"/>
<polygon points="1410.8,735.6 1417.2,742 1410.8,748.4 1404.4,742" fill="none" stroke="#6e0a3c" stroke-width="2.2"/>
<polygon points="1419.89,732.17 1426.29,738.57 1419.89,744.97 1413.49,738.57" fill="none" stroke="#6e0a3c" stroke-width="2.2"/>
<polygon points="1428.97,732.17 1435.37,738.57 1428.97,744.97 1422.57,738.57" fill="none" stroke="#6e0a3c" stroke-width="2.2"/>
<polygon points="1438.06,733.89 1444.46,740.29 1438.06,746.69 1431.66,740.29" fill="none" stroke="#6e0a3c" stroke-width="2.2"/>
<polygon points="1447.31,735.6 1453.71,742 1447.31,748.4 1440.91,742" fill="none" stroke="#6e0a3c" stroke-width="2.2"/>
<polygon points="1456.4,739.89 1462.8,746.29 1456.4,752.69 1450,746.29" fill="none" stroke="#6e0a3c" stroke-width="2.2"/>
<polygon points="1465.49,745.89 1471.89,752.29 1465.49,758.69 1459.09,752.29" fill="none" stroke="#6e0a3c" stroke-width="2.2"/>
<polygon points="1474.57,753.6 1480.97,760 1474.57,766.4 1468.17,760" fill="none" stroke="#6e0a3c" stroke-width="2.2"/>
<polygon points="1483.66,763.89 1490.06,770.29 1483.66,776.69 1477.26,770.29" fill="none" stroke="#6e0a3c" stroke-width="2.2"/>
<polygon points="1492.74,777.6 1499.14,784 1492.74,790.4 1486.34,784" fill="none" stroke="#6e0a3c" stroke-width="2.2"/>
<polygon points="1501.83,793.89 1508.23,800.29 1501.83,806.69 1495.43,800.29" fill="none" stroke="#6e0a3c" stroke-width="2.2"/>
<polygon points="1511.09,813.6 1517.49,820 1511.09,826.4 1504.69,820" fill="none" stroke="#6e0a3c" stroke-width="2.2"/>
<polygon points="1520.17,836.74 1526.57,843.14 1520.17,849.54 1513.77,843.14" fill="none" stroke="#6e0a3c" stroke-width="2.2"/>
<polygon points="1529.26,864.17 1535.66,870.57 1529.26,876.97 1522.86,870.57" fill="none" stroke="#6e0a3c" stroke-width="2.2"/>
<polygon points="1538.34,889.03 1544.74,895.43 1538.34,901.83 1531.94,895.43" fill="none" stroke="#6e0a3c" stroke-width="2.2"/>
<polygon points="1548.57,923.31 1554.97,929.71 1548.57,936.11 1542.17,929.71" fill="none" stroke="#6e0a3c" stroke-width="2.2"/>
<polygon points="1557.66,952.46 1564.06,958.86 1557.66,965.26 1551.26,958.86" fill="none" stroke="#6e0a3c" stroke-width="2.2"/>
<polygon points="1566.57,980.74 1572.97,987.14 1566.57,993.54 1560.17,987.14" fill="none" stroke="#6e0a3c" stroke-width="2.2"/>
<polygon points="1576,1006.46 1582.4,1012.86 1576,1019.26 1569.6,1012.86" fill="none" stroke="#6e0a3c" stroke-width="2.2"/>
<polygon points="1585.09,1029.6 1591.49,1036 1585.09,1042.4 1578.69,1036" fill="none" stroke="#6e0a3c" stroke-width="2.2"/>
<polygon points="1594,1049.03 1600.4,1055.43 1594,1061.83 1587.6,1055.43" fill="none" stroke="#6e0a3c" stroke-width="2.2"/>
<polygon points="1603.09,1066.17 1609.49,1072.57 1603.09,1078.97 1596.69,1072.57" fill="none" stroke="#6e0a3c" stroke-width="2.2"/>
<polygon points="1612,1080.74 1618.4,1087.14 1612,1093.54 1605.6,1087.14" fill="none" stroke="#6e0a3c" stroke-width="2.2"/>
<polygon points="1621.09,1093.6 1627.49,1100 1621.09,1106.4 1614.69,1100" fill="none" stroke="#6e0a3c" stroke-width="2.2"/>
<polygon points="1630,1103.03 1636.4,1109.43 1630,1115.83 1623.6,1109.43" fill="none" stroke="#6e0a3c" stroke-width="2.2"/>
<polygon points="1638.57,1109.89 1644.97,1116.29 1638.57,1122.69 1632.17,1116.29" fill="none" stroke="#6e0a3c" stroke-width="2.2"/>
<polygon points="1647.66,1121.89 1654.06,1128.29 1647.66,1134.69 1641.26,1128.29" fill="none" stroke="#6e0a3c" stroke-width="2.2"/>
<polygon points="1656.57,1122.74 1662.97,1129.14 1656.57,1135.54 1650.17,1129.14" fill="none" stroke="#6e0a3c" stroke-width="2.2"/>
<polygon points="1665.66,1128.74 1672.06,1135.14 1665.66,1141.54 1659.26,1135.14" fill="none" stroke="#6e0a3c" stroke-width="2.2"/>
<polygon points="1674.91,1129.6 1681.31,1136 1674.91,1142.4 1668.51,1136" fill="none" stroke="#6e0a3c" stroke-width="2.2"/>
<polygon points="1684,1132.17 1690.4,1138.57 1684,1144.97 1677.6,1138.57" fill="none" stroke="#6e0a3c" stroke-width="2.2"/>
<polyline points="1048.86,1069.85 1050.13,1068.64 1051.4,1067.08 1052.68,1065.28 1053.95,1063.35 1055.22,1061.37 1056.49,1059.37 1057.77,1057.37 1059.04,1055.38 1060.31,1053.39 1061.59,1051.4 1062.86,1049.42 1064.13,1047.45 1065.4,1045.47 1066.68,1043.5 1067.95,1041.54 1069.22,1039.59 1070.5,1037.64 1071.77,1035.69 1073.04,1033.76 1074.31,1031.83 1075.59,1029.9 1076.86,1027.98 1078.13,1026.06 1079.41,1024.15 1080.68,1022.23 1081.95,1020.32 1083.22,1018.4 1084.5,1016.48 1085.77,1014.55 1087.04,1012.62 1088.31,1010.69 1089.59,1008.75 1090.86,1006.8 1092.13,1004.86 1093.41,1002.91 1094.68,1000.96 1095.95,999.02 1097.22,997.07 1098.5,995.13 1099.77,993.18 1101.04,991.22 1102.32,989.26 1103.59,987.28 1104.86,985.3 1106.13,983.3 1107.41,981.28 1108.68,979.25 1109.95,977.19 1111.23,975.11 1112.5,973 1113.77,970.86 1115.04,968.68 1116.32,966.46 1117.59,964.2 1118.86,961.91 1120.14,959.6 1121.41,957.26 1122.68,954.92 1123.95,952.57 1125.23,950.23 1126.5,947.9 1127.77,945.58 1129.05,943.3 1130.32,941.04 1131.59,938.83 1132.86,936.65 1134.14,934.52 1135.41,932.42 1136.68,930.36 1137.96,928.33 1139.23,926.32 1140.5,924.33 1141.77,922.36 1143.05,920.41 1144.32,918.48 1145.59,916.57 1146.87,914.68 1148.14,912.8 1149.41,910.94 1150.68,909.09 1151.96,907.26 1153.23,905.44 1154.5,903.63 1155.77,901.83 1157.05,900.04 1158.32,898.27 1159.59,896.5 1160.87,894.75 1162.14,893.02 1163.41,891.29 1164.68,889.59 1165.96,887.9 1167.23,886.24 1168.5,884.59 1169.78,882.97 1171.05,881.37 1172.32,879.8 1173.59,878.24 1174.87,876.7 1176.14,875.18 1177.41,873.67 1178.69,872.18 1179.96,870.7 1181.23,869.24 1182.5,867.8 1183.78,866.39 1185.05,865 1186.32,863.64 1187.6,862.31 1188.87,861.02 1190.14,859.76 1191.41,858.55 1192.69,857.37 1193.96,856.23 1195.23,855.12 1196.51,854.04 1197.78,852.99 1199.05,851.97 1200.32,850.97 1201.6,849.99 1202.87,849.03 1204.14,848.09 1205.42,847.18 1206.69,846.28 1207.96,845.4 1209.23,844.54 1210.51,843.69 1211.78,842.85 1213.05,842.02 1214.33,841.21 1215.6,840.42 1216.87,839.63 1218.14,838.87 1219.42,838.12 1220.69,837.39 1221.96,836.68 1223.24,836 1224.51,835.34 1225.78,834.7 1227.05,834.09 1228.33,833.5 1229.6,832.93 1230.87,832.38 1232.14,831.85 1233.42,831.33 1234.69,830.83 1235.96,830.35 1237.24,829.87 1238.51,829.41 1239.78,828.97 1241.05,828.53 1242.33,828.1 1243.6,827.69 1244.87,827.28 1246.15,826.89 1247.42,826.5 1248.69,826.13 1249.96,825.76 1251.24,825.4 1252.51,825.05 1253.78,824.71 1255.06,824.37 1256.33,824.03 1257.6,823.71 1258.87,823.39 1260.15,823.09 1261.42,822.79 1262.69,822.51 1263.97,822.22 1265.24,821.93 1266.51,821.63 1267.78,821.32 1269.06,820.99 1270.33,820.63 1271.6,820.25 1272.88,819.83 1274.15,819.37 1275.42,818.88 1276.69,818.36 1277.97,817.81 1279.24,817.23 1280.51,816.64 1281.79,816.04 1283.06,815.43 1284.33,814.81 1285.6,814.19 1286.88,813.56 1288.15,812.93 1289.42,812.28 1290.7,811.62 1291.97,810.95 1293.24,810.26 1294.51,809.56 1295.79,808.84 1297.06,808.11 1298.33,807.36 1299.6,806.58 1300.88,805.78 1302.15,804.96 1303.42,804.13 1304.7,803.27 1305.97,802.41 1307.24,801.53 1308.51,800.65 1309.79,799.74 1311.06,798.8 1312.33,797.81 1313.61,796.78 1314.88,795.71 1316.15,794.64 1317.42,793.61 1318.7,792.68 1319.97,791.89 1321.24,791.29 1322.52,790.9 1323.79,790.69 1325.06,790.6 1326.33,790.56 1327.61,790.46 1328.88,790.23 1330.15,789.83 1331.43,789.26 1332.7,788.53 1333.97,787.67 1335.24,786.7 1336.52,785.64 1337.79,784.54 1339.06,783.41 1340.34,782.27 1341.61,781.16 1342.88,780.07 1344.15,779.02 1345.43,778 1346.7,776.98 1347.97,775.97 1349.25,774.94 1350.52,773.91 1351.79,772.87 1353.06,771.83 1354.34,770.79 1355.61,769.75 1356.88,768.72 1358.16,767.71 1359.43,766.71 1360.7,765.72 1361.97,764.75 1363.25,763.79 1364.52,762.84 1365.79,761.89 1367.06,760.95 1368.34,760.02 1369.61,759.1 1370.88,758.2 1372.16,757.31 1373.43,756.44 1374.7,755.6 1375.97,754.78 1377.25,753.98 1378.52,753.21 1379.79,752.45 1381.07,751.71 1382.34,750.98 1383.61,750.27 1384.88,749.57 1386.16,748.88 1387.43,748.22 1388.7,747.58 1389.98,746.97 1391.25,746.39 1392.52,745.85 1393.79,745.33 1395.07,744.85 1396.34,744.39 1397.61,743.95 1398.89,743.53 1400.16,743.11 1401.43,742.71 1402.7,742.33 1403.98,741.97 1405.25,741.63 1406.52,741.32 1407.8,741.05 1409.07,740.81 1410.34,740.62 1411.61,740.46 1412.89,740.34 1414.16,740.25 1415.43,740.17 1416.71,740.11 1417.98,740.05 1419.25,740 1420.52,739.95 1421.8,739.91 1423.07,739.88 1424.34,739.85 1425.62,739.82 1426.89,739.81 1428.16,739.81 1429.43,739.82 1430.71,739.87 1431.98,739.95 1433.25,740.08 1434.53,740.25 1435.8,740.47 1437.07,740.74 1438.34,741.04 1439.62,741.37 1440.89,741.73 1442.16,742.11 1443.43,742.51 1444.71,742.93 1445.98,743.36 1447.25,743.82 1448.53,744.32 1449.8,744.86 1451.07,745.45 1452.34,746.1 1453.62,746.8 1454.89,747.54 1456.16,748.32 1457.44,749.15 1458.71,750 1459.98,750.89 1461.25,751.8 1462.53,752.73 1463.8,753.69 1465.07,754.68 1466.35,755.71 1467.62,756.78 1468.89,757.89 1470.16,759.05 1471.44,760.26 1472.71,761.51 1473.98,762.81 1475.26,764.15 1476.53,765.53 1477.8,766.96 1479.07,768.42 1480.35,769.93 1481.62,771.49 1482.89,773.1 1484.17,774.77 1485.44,776.51 1486.71,778.31 1487.98,780.17 1489.26,782.1 1490.53,784.08 1491.8,786.12 1493.08,788.21 1494.35,790.36 1495.62,792.55 1496.89,794.8 1498.17,797.1 1499.44,799.47 1500.71,801.91 1501.99,804.43 1503.26,807.03 1504.53,809.7 1505.8,812.44 1507.08,815.24 1508.35,818.1 1509.62,821.01 1510.89,823.97 1512.17,826.97 1513.44,830 1514.71,833.07 1515.99,836.18 1517.26,839.34 1518.53,842.55 1519.8,845.81 1521.08,849.12 1522.35,852.49 1523.62,855.91 1524.9,859.37 1526.17,862.87 1527.44,866.4 1528.71,869.97 1529.99,873.57 1531.26,877.2 1532.53,880.85 1533.81,884.55 1535.08,888.28 1536.35,892.06 1537.62,895.88 1538.9,899.75 1540.17,903.64 1541.44,907.56 1542.72,911.5 1543.99,915.45 1545.26,919.42 1546.53,923.38 1547.81,927.36 1549.08,931.35 1550.35,935.36 1551.63,939.4 1552.9,943.46 1554.17,947.54 1555.44,951.64 1556.72,955.73 1557.99,959.81 1559.26,963.86 1560.54,967.88 1561.81,971.86 1563.08,975.77 1564.35,979.62 1565.63,983.39 1566.9,987.11 1568.17,990.76 1569.45,994.36 1570.72,997.91 1571.99,1001.42 1573.26,1004.89 1574.54,1008.32 1575.81,1011.7 1577.08,1015.05 1578.35,1018.35 1579.63,1021.6 1580.9,1024.82 1582.17,1027.98 1583.45,1031.11 1584.72,1034.2 1585.99,1037.26 1587.26,1040.29 1588.54,1043.3 1589.81,1046.28 1591.08,1049.23 1592.36,1052.14 1593.63,1055.02 1594.9,1057.85 1596.17,1060.63 1597.45,1063.35 1598.72,1066 1599.99,1068.58 1601.27,1071.08 1602.54,1073.51 1603.81,1075.85 1605.08,1078.12 1606.36,1080.33 1607.63,1082.47 1608.9,1084.55 1610.18,1086.58 1611.45,1088.56 1612.72,1090.49 1613.99,1092.37 1615.27,1094.21 1616.54,1096 1617.81,1097.75 1619.09,1099.46 1620.36,1101.13 1621.63,1102.76 1622.9,1104.36 1624.18,1105.92 1625.45,1107.46 1626.72,1108.96 1628,1110.42 1629.27,1111.86 1630.54,1113.26 1631.81,1114.63 1633.09,1115.97 1634.36,1117.28 1635.63,1118.55 1636.91,1119.79 1638.18,1121.01 1639.45,1122.19 1640.72,1123.35 1642,1124.48 1643.27,1125.59 1644.54,1126.68 1645.82,1127.74 1647.09,1128.78 1648.36,1129.79 1649.63,1130.77 1650.91,1131.73 1652.18,1132.66 1653.45,1133.56 1654.72,1134.43 1656,1135.28 1657.27,1136.1 1658.54,1136.9 1659.82,1137.68 1661.09,1138.44 1662.36,1139.18 1663.63,1139.9 1664.91,1140.6 1666.18,1141.28 1667.45,1141.94 1668.73,1142.58 1670,1143.21 1671.27,1143.81 1672.54,1144.39 1673.82,1144.96 1675.09,1145.51 1676.36,1146.04 1677.64,1146.54 1678.91,1147.03 1680.18,1147.49 1681.45,1147.91 1682.73,1148.26 1684,1148.52" fill="none" stroke="#6e0a3c" stroke-width="2.6" stroke-linejoin="round" stroke-linecap="round" />
<polygon points="1045.77,1063.31 1051.31,1066.51 1051.31,1072.91 1045.77,1076.11 1040.23,1072.91 1040.23,1066.51" fill="none" stroke="#ff1482" stroke-width="2.2"/>
<polygon points="1068.57,1047.03 1074.11,1050.23 1074.11,1056.63 1068.57,1059.83 1063.03,1056.63 1063.03,1050.23" fill="none" stroke="#ff1482" stroke-width="2.2"/>
<polygon points="1091.2,1033.31 1096.74,1036.51 1096.74,1042.91 1091.2,1046.11 1085.66,1042.91 1085.66,1036.51" fill="none" stroke="#ff1482" stroke-width="2.2"/>
<polygon points="1113.14,1006.74 1118.69,1009.94 1118.69,1016.34 1113.14,1019.54 1107.6,1016.34 1107.6,1009.94" fill="none" stroke="#ff1482" stroke-width="2.2"/>
<polygon points="1134.23,989.6 1139.77,992.8 1139.77,999.2 1134.23,1002.4 1128.69,999.2 1128.69,992.8" fill="none" stroke="#ff1482" stroke-width="2.2"/>
<polygon points="1154.63,964.23 1160.17,967.43 1160.17,973.83 1154.63,977.03 1149.09,973.83 1149.09,967.43" fill="none" stroke="#ff1482" stroke-width="2.2"/>
<polygon points="1174,938.17 1179.54,941.37 1179.54,947.77 1174,950.97 1168.46,947.77 1168.46,941.37" fill="none" stroke="#ff1482" stroke-width="2.2"/>
<polygon points="1192.86,914.17 1198.4,917.37 1198.4,923.77 1192.86,926.97 1187.31,923.77 1187.31,917.37" fill="none" stroke="#ff1482" stroke-width="2.2"/>
<polygon points="1210,891.89 1215.54,895.09 1215.54,901.49 1210,904.69 1204.46,901.49 1204.46,895.09" fill="none" stroke="#ff1482" stroke-width="2.2"/>
<polygon points="1226.29,872.17 1231.83,875.37 1231.83,881.77 1226.29,884.97 1220.74,881.77 1220.74,875.37" fill="none" stroke="#ff1482" stroke-width="2.2"/>
<polygon points="1242.23,853.31 1247.77,856.51 1247.77,862.91 1242.23,866.11 1236.69,862.91 1236.69,856.51" fill="none" stroke="#ff1482" stroke-width="2.2"/>
<polygon points="1257.49,835.31 1263.03,838.51 1263.03,844.91 1257.49,848.11 1251.94,844.91 1251.94,838.51" fill="none" stroke="#ff1482" stroke-width="2.2"/>
<polygon points="1271.71,818.17 1277.26,821.37 1277.26,827.77 1271.71,830.97 1266.17,827.77 1266.17,821.37" fill="none" stroke="#ff1482" stroke-width="2.2"/>
<polygon points="1285.43,801.89 1290.97,805.09 1290.97,811.49 1285.43,814.69 1279.89,811.49 1279.89,805.09" fill="none" stroke="#ff1482" stroke-width="2.2"/>
<polygon points="1298.29,789.89 1303.83,793.09 1303.83,799.49 1298.29,802.69 1292.74,799.49 1292.74,793.09" fill="none" stroke="#ff1482" stroke-width="2.2"/>
<polygon points="1311.14,780.46 1316.69,783.66 1316.69,790.06 1311.14,793.26 1305.6,790.06 1305.6,783.66" fill="none" stroke="#ff1482" stroke-width="2.2"/>
<polygon points="1323.49,773.6 1329.03,776.8 1329.03,783.2 1323.49,786.4 1317.94,783.2 1317.94,776.8" fill="none" stroke="#ff1482" stroke-width="2.2"/>
<polygon points="1334.51,760.97 1340.06,764.17 1340.06,770.57 1334.51,773.77 1328.97,770.57 1328.97,764.17" fill="none" stroke="#ff1482" stroke-width="2.2"/>
<polygon points="1345.14,753.6 1350.69,756.8 1350.69,763.2 1345.14,766.4 1339.6,763.2 1339.6,756.8" fill="none" stroke="#ff1482" stroke-width="2.2"/>
<polygon points="1355.43,739.89 1360.97,743.09 1360.97,749.49 1355.43,752.69 1349.89,749.49 1349.89,743.09" fill="none" stroke="#ff1482" stroke-width="2.2"/>
<polygon points="1365.71,739.89 1371.26,743.09 1371.26,749.49 1365.71,752.69 1360.17,749.49 1360.17,743.09" fill="none" stroke="#ff1482" stroke-width="2.2"/>
<polygon points="1376,746.74 1381.54,749.94 1381.54,756.34 1376,759.54 1370.46,756.34 1370.46,749.94" fill="none" stroke="#ff1482" stroke-width="2.2"/>
<polygon points="1385.43,720.17 1390.97,723.37 1390.97,729.77 1385.43,732.97 1379.89,729.77 1379.89,723.37" fill="none" stroke="#ff1482" stroke-width="2.2"/>
<polygon points="1394,730.46 1399.54,733.66 1399.54,740.06 1394,743.26 1388.46,740.06 1388.46,733.66" fill="none" stroke="#ff1482" stroke-width="2.2"/>
<polygon points="1403.43,720.17 1408.97,723.37 1408.97,729.77 1403.43,732.97 1397.89,729.77 1397.89,723.37" fill="none" stroke="#ff1482" stroke-width="2.2"/>
<polygon points="1412.86,718.46 1418.4,721.66 1418.4,728.06 1412.86,731.26 1407.31,728.06 1407.31,721.66" fill="none" stroke="#ff1482" stroke-width="2.2"/>
<polygon points="1421.43,715.89 1426.97,719.09 1426.97,725.49 1421.43,728.69 1415.89,725.49 1415.89,719.09" fill="none" stroke="#ff1482" stroke-width="2.2"/>
<polygon points="1430.86,714.17 1436.4,717.37 1436.4,723.77 1430.86,726.97 1425.31,723.77 1425.31,717.37" fill="none" stroke="#ff1482" stroke-width="2.2"/>
<polygon points="1439.43,713.31 1444.97,716.51 1444.97,722.91 1439.43,726.11 1433.89,722.91 1433.89,716.51" fill="none" stroke="#ff1482" stroke-width="2.2"/>
<polygon points="1448.86,713.31 1454.4,716.51 1454.4,722.91 1448.86,726.11 1443.31,722.91 1443.31,716.51" fill="none" stroke="#ff1482" stroke-width="2.2"/>
<polygon points="1458.29,714.17 1463.83,717.37 1463.83,723.77 1458.29,726.97 1452.74,723.77 1452.74,717.37" fill="none" stroke="#ff1482" stroke-width="2.2"/>
<polygon points="1466.86,716.74 1472.4,719.94 1472.4,726.34 1466.86,729.54 1461.31,726.34 1461.31,719.94" fill="none" stroke="#ff1482" stroke-width="2.2"/>
<polygon points="1475.43,721.03 1480.97,724.23 1480.97,730.63 1475.43,733.83 1469.89,730.63 1469.89,724.23" fill="none" stroke="#ff1482" stroke-width="2.2"/>
<polygon points="1484.86,726.17 1490.4,729.37 1490.4,735.77 1484.86,738.97 1479.31,735.77 1479.31,729.37" fill="none" stroke="#ff1482" stroke-width="2.2"/>
<polygon points="1494.29,733.89 1499.83,737.09 1499.83,743.49 1494.29,746.69 1488.74,743.49 1488.74,737.09" fill="none" stroke="#ff1482" stroke-width="2.2"/>
<polygon points="1503.71,739.89 1509.26,743.09 1509.26,749.49 1503.71,752.69 1498.17,749.49 1498.17,743.09" fill="none" stroke="#ff1482" stroke-width="2.2"/>
<polygon points="1512.29,750.17 1517.83,753.37 1517.83,759.77 1512.29,762.97 1506.74,759.77 1506.74,753.37" fill="none" stroke="#ff1482" stroke-width="2.2"/>
<polygon points="1520.86,762.17 1526.4,765.37 1526.4,771.77 1520.86,774.97 1515.31,771.77 1515.31,765.37" fill="none" stroke="#ff1482" stroke-width="2.2"/>
<polygon points="1529.94,777.6 1535.49,780.8 1535.49,787.2 1529.94,790.4 1524.4,787.2 1524.4,780.8" fill="none" stroke="#ff1482" stroke-width="2.2"/>
<polygon points="1538.86,794.74 1544.4,797.94 1544.4,804.34 1538.86,807.54 1533.31,804.34 1533.31,797.94" fill="none" stroke="#ff1482" stroke-width="2.2"/>
<polygon points="1548.29,816.17 1553.83,819.37 1553.83,825.77 1548.29,828.97 1542.74,825.77 1542.74,819.37" fill="none" stroke="#ff1482" stroke-width="2.2"/>
<polygon points="1557.71,840.17 1563.26,843.37 1563.26,849.77 1557.71,852.97 1552.17,849.77 1552.17,843.37" fill="none" stroke="#ff1482" stroke-width="2.2"/>
<polygon points="1566.63,866.74 1572.17,869.94 1572.17,876.34 1566.63,879.54 1561.09,876.34 1561.09,869.94" fill="none" stroke="#ff1482" stroke-width="2.2"/>
<polygon points="1575.71,890.74 1581.26,893.94 1581.26,900.34 1575.71,903.54 1570.17,900.34 1570.17,893.94" fill="none" stroke="#ff1482" stroke-width="2.2"/>
<polygon points="1585.09,924.69 1590.63,927.89 1590.63,934.29 1585.09,937.49 1579.54,934.29 1579.54,927.89" fill="none" stroke="#ff1482" stroke-width="2.2"/>
<polygon points="1594,953.31 1599.54,956.51 1599.54,962.91 1594,966.11 1588.46,962.91 1588.46,956.51" fill="none" stroke="#ff1482" stroke-width="2.2"/>
<polygon points="1602.57,980.74 1608.11,983.94 1608.11,990.34 1602.57,993.54 1597.03,990.34 1597.03,983.94" fill="none" stroke="#ff1482" stroke-width="2.2"/>
<polygon points="1611.66,1004.74 1617.2,1007.94 1617.2,1014.34 1611.66,1017.54 1606.11,1014.34 1606.11,1007.94" fill="none" stroke="#ff1482" stroke-width="2.2"/>
<polygon points="1620.57,1028.74 1626.11,1031.94 1626.11,1038.34 1620.57,1041.54 1615.03,1038.34 1615.03,1031.94" fill="none" stroke="#ff1482" stroke-width="2.2"/>
<polygon points="1629.66,1047.6 1635.2,1050.8 1635.2,1057.2 1629.66,1060.4 1624.11,1057.2 1624.11,1050.8" fill="none" stroke="#ff1482" stroke-width="2.2"/>
<polygon points="1638.57,1063.89 1644.11,1067.09 1644.11,1073.49 1638.57,1076.69 1633.03,1073.49 1633.03,1067.09" fill="none" stroke="#ff1482" stroke-width="2.2"/>
<polygon points="1647.66,1079.03 1653.2,1082.23 1653.2,1088.63 1647.66,1091.83 1642.11,1088.63 1642.11,1082.23" fill="none" stroke="#ff1482" stroke-width="2.2"/>
<polygon points="1656.57,1094.46 1662.11,1097.66 1662.11,1104.06 1656.57,1107.26 1651.03,1104.06 1651.03,1097.66" fill="none" stroke="#ff1482" stroke-width="2.2"/>
<polygon points="1665.66,1106.46 1671.2,1109.66 1671.2,1116.06 1665.66,1119.26 1660.11,1116.06 1660.11,1109.66" fill="none" stroke="#ff1482" stroke-width="2.2"/>
<polygon points="1674.91,1140.74 1680.46,1143.94 1680.46,1150.34 1674.91,1153.54 1669.37,1150.34 1669.37,1143.94" fill="none" stroke="#ff1482" stroke-width="2.2"/>
<polygon points="1684,1115.03 1689.54,1118.23 1689.54,1124.63 1684,1127.83 1678.46,1124.63 1678.46,1118.23" fill="none" stroke="#ff1482" stroke-width="2.2"/>
<polyline points="1045.77,1092.07 1047.05,1091.46 1048.33,1090.66 1049.61,1089.75 1050.89,1088.76 1052.17,1087.74 1053.45,1086.7 1054.73,1085.66 1056.01,1084.6 1057.29,1083.55 1058.57,1082.49 1059.85,1081.42 1061.13,1080.34 1062.41,1079.26 1063.69,1078.18 1064.97,1077.09 1066.25,1075.99 1067.53,1074.89 1068.81,1073.79 1070.09,1072.68 1071.37,1071.57 1072.65,1070.46 1073.93,1069.34 1075.21,1068.21 1076.49,1067.09 1077.77,1065.95 1079.05,1064.81 1080.33,1063.66 1081.61,1062.5 1082.89,1061.33 1084.17,1060.14 1085.45,1058.95 1086.73,1057.74 1088.01,1056.52 1089.29,1055.28 1090.57,1054.02 1091.84,1052.75 1093.12,1051.46 1094.4,1050.16 1095.68,1048.83 1096.96,1047.49 1098.24,1046.14 1099.52,1044.77 1100.8,1043.39 1102.08,1041.99 1103.36,1040.58 1104.64,1039.15 1105.92,1037.72 1107.2,1036.27 1108.48,1034.81 1109.76,1033.34 1111.04,1031.86 1112.32,1030.36 1113.6,1028.86 1114.88,1027.33 1116.16,1025.79 1117.44,1024.23 1118.72,1022.66 1120,1021.07 1121.28,1019.46 1122.56,1017.84 1123.84,1016.22 1125.12,1014.58 1126.4,1012.94 1127.68,1011.29 1128.96,1009.65 1130.24,1008 1131.52,1006.35 1132.8,1004.7 1134.08,1003.05 1135.36,1001.4 1136.64,999.75 1137.92,998.09 1139.2,996.43 1140.48,994.76 1141.76,993.09 1143.04,991.42 1144.32,989.74 1145.6,988.07 1146.88,986.39 1148.16,984.72 1149.44,983.05 1150.72,981.38 1152,979.71 1153.28,978.05 1154.56,976.39 1155.84,974.74 1157.12,973.09 1158.4,971.45 1159.68,969.81 1160.95,968.17 1162.23,966.53 1163.51,964.9 1164.79,963.26 1166.07,961.62 1167.35,959.99 1168.63,958.35 1169.91,956.7 1171.19,955.05 1172.47,953.4 1173.75,951.74 1175.03,950.07 1176.31,948.4 1177.59,946.72 1178.87,945.04 1180.15,943.35 1181.43,941.66 1182.71,939.97 1183.99,938.27 1185.27,936.58 1186.55,934.89 1187.83,933.19 1189.11,931.5 1190.39,929.82 1191.67,928.13 1192.95,926.45 1194.23,924.78 1195.51,923.1 1196.79,921.43 1198.07,919.76 1199.35,918.08 1200.63,916.42 1201.91,914.75 1203.19,913.09 1204.47,911.43 1205.75,909.77 1207.03,908.12 1208.31,906.47 1209.59,904.82 1210.87,903.18 1212.15,901.55 1213.43,899.92 1214.71,898.29 1215.99,896.67 1217.27,895.05 1218.55,893.43 1219.83,891.82 1221.11,890.21 1222.39,888.6 1223.67,887 1224.95,885.39 1226.23,883.79 1227.51,882.19 1228.79,880.59 1230.07,879 1231.34,877.4 1232.62,875.81 1233.9,874.22 1235.18,872.63 1236.46,871.05 1237.74,869.48 1239.02,867.91 1240.3,866.35 1241.58,864.8 1242.86,863.25 1244.14,861.71 1245.42,860.18 1246.7,858.66 1247.98,857.14 1249.26,855.62 1250.54,854.12 1251.82,852.61 1253.1,851.11 1254.38,849.62 1255.66,848.13 1256.94,846.64 1258.22,845.15 1259.5,843.66 1260.78,842.17 1262.06,840.69 1263.34,839.21 1264.62,837.74 1265.9,836.28 1267.18,834.82 1268.46,833.37 1269.74,831.93 1271.02,830.51 1272.3,829.09 1273.58,827.69 1274.86,826.3 1276.14,824.92 1277.42,823.55 1278.7,822.19 1279.98,820.83 1281.26,819.49 1282.54,818.15 1283.82,816.82 1285.1,815.5 1286.38,814.18 1287.66,812.87 1288.94,811.57 1290.22,810.28 1291.5,808.99 1292.78,807.71 1294.06,806.44 1295.34,805.18 1296.62,803.92 1297.9,802.68 1299.18,801.44 1300.45,800.21 1301.73,798.99 1303.01,797.77 1304.29,796.56 1305.57,795.37 1306.85,794.18 1308.13,793 1309.41,791.81 1310.69,790.61 1311.97,789.37 1313.25,788.09 1314.53,786.78 1315.81,785.48 1317.09,784.23 1318.37,783.09 1319.65,782.13 1320.93,781.41 1322.21,781 1323.49,780.91 1324.77,781.06 1326.05,781.29 1327.33,781.44 1328.61,781.34 1329.89,780.95 1331.17,780.27 1332.45,779.35 1333.73,778.23 1335.01,776.97 1336.29,775.6 1337.57,774.17 1338.85,772.71 1340.13,771.27 1341.41,769.88 1342.69,768.55 1343.97,767.31 1345.25,766.13 1346.53,765 1347.81,763.91 1349.09,762.84 1350.37,761.78 1351.65,760.73 1352.93,759.69 1354.21,758.66 1355.49,757.65 1356.77,756.66 1358.05,755.68 1359.33,754.72 1360.61,753.78 1361.89,752.85 1363.17,751.94 1364.45,751.05 1365.73,750.17 1367.01,749.31 1368.29,748.46 1369.57,747.62 1370.84,746.79 1372.12,745.97 1373.4,745.17 1374.68,744.37 1375.96,743.59 1377.24,742.81 1378.52,742.03 1379.8,741.27 1381.08,740.5 1382.36,739.74 1383.64,738.98 1384.92,738.23 1386.2,737.49 1387.48,736.77 1388.76,736.06 1390.04,735.37 1391.32,734.7 1392.6,734.06 1393.88,733.45 1395.16,732.86 1396.44,732.3 1397.72,731.76 1399,731.23 1400.28,730.73 1401.56,730.23 1402.84,729.75 1404.12,729.29 1405.4,728.85 1406.68,728.42 1407.96,728.01 1409.24,727.61 1410.52,727.24 1411.8,726.88 1413.08,726.54 1414.36,726.21 1415.64,725.89 1416.92,725.58 1418.2,725.27 1419.48,724.98 1420.76,724.7 1422.04,724.44 1423.32,724.19 1424.6,723.95 1425.88,723.74 1427.16,723.54 1428.44,723.36 1429.72,723.2 1431,723.05 1432.28,722.92 1433.56,722.79 1434.84,722.66 1436.12,722.55 1437.4,722.43 1438.68,722.33 1439.95,722.24 1441.23,722.16 1442.51,722.09 1443.79,722.04 1445.07,722.01 1446.35,721.99 1447.63,722 1448.91,722.03 1450.19,722.08 1451.47,722.17 1452.75,722.27 1454.03,722.4 1455.31,722.55 1456.59,722.72 1457.87,722.9 1459.15,723.11 1460.43,723.32 1461.71,723.55 1462.99,723.8 1464.27,724.07 1465.55,724.38 1466.83,724.73 1468.11,725.14 1469.39,725.6 1470.67,726.11 1471.95,726.66 1473.23,727.26 1474.51,727.89 1475.79,728.55 1477.07,729.25 1478.35,729.96 1479.63,730.7 1480.91,731.47 1482.19,732.26 1483.47,733.1 1484.75,733.99 1486.03,734.92 1487.31,735.91 1488.59,736.95 1489.87,738.03 1491.15,739.15 1492.43,740.31 1493.71,741.51 1494.99,742.74 1496.27,744.01 1497.55,745.3 1498.83,746.63 1500.11,748.01 1501.39,749.43 1502.67,750.9 1503.95,752.43 1505.23,754 1506.51,755.63 1507.79,757.3 1509.07,759.02 1510.34,760.79 1511.62,762.6 1512.9,764.45 1514.18,766.35 1515.46,768.29 1516.74,770.29 1518.02,772.35 1519.3,774.46 1520.58,776.64 1521.86,778.89 1523.14,781.19 1524.42,783.55 1525.7,785.97 1526.98,788.43 1528.26,790.95 1529.54,793.52 1530.82,796.14 1532.1,798.8 1533.38,801.53 1534.66,804.31 1535.94,807.16 1537.22,810.08 1538.5,813.07 1539.78,816.12 1541.06,819.23 1542.34,822.4 1543.62,825.62 1544.9,828.89 1546.18,832.21 1547.46,835.58 1548.74,838.98 1550.02,842.43 1551.3,845.92 1552.58,849.47 1553.86,853.07 1555.14,856.72 1556.42,860.43 1557.7,864.2 1558.98,868.03 1560.26,871.92 1561.54,875.86 1562.82,879.87 1564.1,883.95 1565.38,888.1 1566.66,892.35 1567.94,896.72 1569.22,901.23 1570.5,905.89 1571.78,910.68 1573.06,915.57 1574.34,920.53 1575.62,925.52 1576.9,930.5 1578.18,935.43 1579.46,940.26 1580.73,944.96 1582.01,949.48 1583.29,953.79 1584.57,957.88 1585.85,961.75 1587.13,965.4 1588.41,968.89 1589.69,972.26 1590.97,975.56 1592.25,978.84 1593.53,982.12 1594.81,985.41 1596.09,988.72 1597.37,992.03 1598.65,995.33 1599.93,998.6 1601.21,1001.85 1602.49,1005.07 1603.77,1008.25 1605.05,1011.39 1606.33,1014.5 1607.61,1017.56 1608.89,1020.57 1610.17,1023.53 1611.45,1026.43 1612.73,1029.27 1614.01,1032.08 1615.29,1034.87 1616.57,1037.65 1617.85,1040.44 1619.13,1043.26 1620.41,1046.09 1621.69,1048.93 1622.97,1051.77 1624.25,1054.59 1625.53,1057.37 1626.81,1060.1 1628.09,1062.77 1629.37,1065.4 1630.65,1067.98 1631.93,1070.52 1633.21,1073.02 1634.49,1075.48 1635.77,1077.91 1637.05,1080.3 1638.33,1082.67 1639.61,1084.99 1640.89,1087.28 1642.17,1089.52 1643.45,1091.72 1644.73,1093.88 1646.01,1095.99 1647.29,1098.07 1648.57,1100.1 1649.84,1102.1 1651.12,1104.06 1652.4,1105.99 1653.68,1107.88 1654.96,1109.74 1656.24,1111.56 1657.52,1113.33 1658.8,1115.07 1660.08,1116.76 1661.36,1118.4 1662.64,1120 1663.92,1121.56 1665.2,1123.08 1666.48,1124.56 1667.76,1126.01 1669.04,1127.43 1670.32,1128.81 1671.6,1130.16 1672.88,1131.47 1674.16,1132.74 1675.44,1133.96 1676.72,1135.13 1678,1136.25 1679.28,1137.31 1680.56,1138.29 1681.84,1139.18 1683.12,1139.93 1684.4,1140.49" fill="none" stroke="#ff1482" stroke-width="2.6" stroke-linejoin="round" stroke-linecap="round" />
<rect x="1040.87" y="993.67" width="9.8" height="9.8" fill="none" stroke="#5a0f96" stroke-width="2"/>
<rect x="1040.87" y="993.67" width="9.8" height="5.15" fill="#5a0f96"/>
<rect x="1063.67" y="961.96" width="9.8" height="9.8" fill="none" stroke="#5a0f96" stroke-width="2"/>
<rect x="1063.67" y="961.96" width="9.8" height="5.15" fill="#5a0f96"/>
<rect x="1086.3" y="940.53" width="9.8" height="9.8" fill="none" stroke="#5a0f96" stroke-width="2"/>
<rect x="1086.3" y="940.53" width="9.8" height="5.15" fill="#5a0f96"/>
<rect x="1108.24" y="936.24" width="9.8" height="9.8" fill="none" stroke="#5a0f96" stroke-width="2"/>
<rect x="1108.24" y="936.24" width="9.8" height="5.15" fill="#5a0f96"/>
<rect x="1129.33" y="942.24" width="9.8" height="9.8" fill="none" stroke="#5a0f96" stroke-width="2"/>
<rect x="1129.33" y="942.24" width="9.8" height="5.15" fill="#5a0f96"/>
<rect x="1149.73" y="954.24" width="9.8" height="9.8" fill="none" stroke="#5a0f96" stroke-width="2"/>
<rect x="1149.73" y="954.24" width="9.8" height="5.15" fill="#5a0f96"/>
<rect x="1169.1" y="967.1" width="9.8" height="9.8" fill="none" stroke="#5a0f96" stroke-width="2"/>
<rect x="1169.1" y="967.1" width="9.8" height="5.15" fill="#5a0f96"/>
<rect x="1187.96" y="980.81" width="9.8" height="9.8" fill="none" stroke="#5a0f96" stroke-width="2"/>
<rect x="1187.96" y="980.81" width="9.8" height="5.15" fill="#5a0f96"/>
<rect x="1205.1" y="992.81" width="9.8" height="9.8" fill="none" stroke="#5a0f96" stroke-width="2"/>
<rect x="1205.1" y="992.81" width="9.8" height="5.15" fill="#5a0f96"/>
<rect x="1221.39" y="1004.81" width="9.8" height="9.8" fill="none" stroke="#5a0f96" stroke-width="2"/>
<rect x="1221.39" y="1004.81" width="9.8" height="5.15" fill="#5a0f96"/>
<rect x="1237.33" y="1019.39" width="9.8" height="9.8" fill="none" stroke="#5a0f96" stroke-width="2"/>
<rect x="1237.33" y="1019.39" width="9.8" height="5.15" fill="#5a0f96"/>
<rect x="1252.59" y="1033.96" width="9.8" height="9.8" fill="none" stroke="#5a0f96" stroke-width="2"/>
<rect x="1252.59" y="1033.96" width="9.8" height="5.15" fill="#5a0f96"/>
<rect x="1266.81" y="1047.67" width="9.8" height="9.8" fill="none" stroke="#5a0f96" stroke-width="2"/>
<rect x="1266.81" y="1047.67" width="9.8" height="5.15" fill="#5a0f96"/>
<rect x="1280.53" y="1058.81" width="9.8" height="9.8" fill="none" stroke="#5a0f96" stroke-width="2"/>
<rect x="1280.53" y="1058.81" width="9.8" height="5.15" fill="#5a0f96"/>
<rect x="1293.39" y="1066.53" width="9.8" height="9.8" fill="none" stroke="#5a0f96" stroke-width="2"/>
<rect x="1293.39" y="1066.53" width="9.8" height="5.15" fill="#5a0f96"/>
<rect x="1306.24" y="1069.96" width="9.8" height="9.8" fill="none" stroke="#5a0f96" stroke-width="2"/>
<rect x="1306.24" y="1069.96" width="9.8" height="5.15" fill="#5a0f96"/>
<rect x="1318.59" y="1072.53" width="9.8" height="9.8" fill="none" stroke="#5a0f96" stroke-width="2"/>
<rect x="1318.59" y="1072.53" width="9.8" height="5.15" fill="#5a0f96"/>
<rect x="1329.79" y="1069.67" width="9.8" height="9.8" fill="none" stroke="#5a0f96" stroke-width="2"/>
<rect x="1329.79" y="1069.67" width="9.8" height="5.15" fill="#5a0f96"/>
<rect x="1340.41" y="1067.1" width="9.8" height="9.8" fill="none" stroke="#5a0f96" stroke-width="2"/>
<rect x="1340.41" y="1067.1" width="9.8" height="5.15" fill="#5a0f96"/>
<rect x="1350.87" y="1052.53" width="9.8" height="9.8" fill="none" stroke="#5a0f96" stroke-width="2"/>
<rect x="1350.87" y="1052.53" width="9.8" height="5.15" fill="#5a0f96"/>
<rect x="1361.16" y="1039.67" width="9.8" height="9.8" fill="none" stroke="#5a0f96" stroke-width="2"/>
<rect x="1361.16" y="1039.67" width="9.8" height="5.15" fill="#5a0f96"/>
<rect x="1370.93" y="1021.67" width="9.8" height="9.8" fill="none" stroke="#5a0f96" stroke-width="2"/>
<rect x="1370.93" y="1021.67" width="9.8" height="5.15" fill="#5a0f96"/>
<rect x="1380.36" y="1001.96" width="9.8" height="9.8" fill="none" stroke="#5a0f96" stroke-width="2"/>
<rect x="1380.36" y="1001.96" width="9.8" height="5.15" fill="#5a0f96"/>
<rect x="1389.61" y="972.81" width="9.8" height="9.8" fill="none" stroke="#5a0f96" stroke-width="2"/>
<rect x="1389.61" y="972.81" width="9.8" height="5.15" fill="#5a0f96"/>
<rect x="1398.36" y="953.96" width="9.8" height="9.8" fill="none" stroke="#5a0f96" stroke-width="2"/>
<rect x="1398.36" y="953.96" width="9.8" height="5.15" fill="#5a0f96"/>
<rect x="1407.96" y="932.53" width="9.8" height="9.8" fill="none" stroke="#5a0f96" stroke-width="2"/>
<rect x="1407.96" y="932.53" width="9.8" height="5.15" fill="#5a0f96"/>
<rect x="1416.53" y="895.67" width="9.8" height="9.8" fill="none" stroke="#5a0f96" stroke-width="2"/>
<rect x="1416.53" y="895.67" width="9.8" height="5.15" fill="#5a0f96"/>
<rect x="1425.96" y="876.81" width="9.8" height="9.8" fill="none" stroke="#5a0f96" stroke-width="2"/>
<rect x="1425.96" y="876.81" width="9.8" height="5.15" fill="#5a0f96"/>
<rect x="1435.39" y="851.96" width="9.8" height="9.8" fill="none" stroke="#5a0f96" stroke-width="2"/>
<rect x="1435.39" y="851.96" width="9.8" height="5.15" fill="#5a0f96"/>
<rect x="1444.3" y="826.24" width="9.8" height="9.8" fill="none" stroke="#5a0f96" stroke-width="2"/>
<rect x="1444.3" y="826.24" width="9.8" height="5.15" fill="#5a0f96"/>
<rect x="1453.39" y="805.67" width="9.8" height="9.8" fill="none" stroke="#5a0f96" stroke-width="2"/>
<rect x="1453.39" y="805.67" width="9.8" height="5.15" fill="#5a0f96"/>
<rect x="1461.96" y="790.24" width="9.8" height="9.8" fill="none" stroke="#5a0f96" stroke-width="2"/>
<rect x="1461.96" y="790.24" width="9.8" height="5.15" fill="#5a0f96"/>
<rect x="1471.04" y="775.67" width="9.8" height="9.8" fill="none" stroke="#5a0f96" stroke-width="2"/>
<rect x="1471.04" y="775.67" width="9.8" height="5.15" fill="#5a0f96"/>
<rect x="1479.96" y="762.81" width="9.8" height="9.8" fill="none" stroke="#5a0f96" stroke-width="2"/>
<rect x="1479.96" y="762.81" width="9.8" height="5.15" fill="#5a0f96"/>
<rect x="1489.04" y="752.53" width="9.8" height="9.8" fill="none" stroke="#5a0f96" stroke-width="2"/>
<rect x="1489.04" y="752.53" width="9.8" height="5.15" fill="#5a0f96"/>
<rect x="1497.96" y="746.53" width="9.8" height="9.8" fill="none" stroke="#5a0f96" stroke-width="2"/>
<rect x="1497.96" y="746.53" width="9.8" height="5.15" fill="#5a0f96"/>
<rect x="1507.39" y="742.24" width="9.8" height="9.8" fill="none" stroke="#5a0f96" stroke-width="2"/>
<rect x="1507.39" y="742.24" width="9.8" height="5.15" fill="#5a0f96"/>
<rect x="1516.3" y="740.53" width="9.8" height="9.8" fill="none" stroke="#5a0f96" stroke-width="2"/>
<rect x="1516.3" y="740.53" width="9.8" height="5.15" fill="#5a0f96"/>
<rect x="1525.39" y="740.53" width="9.8" height="9.8" fill="none" stroke="#5a0f96" stroke-width="2"/>
<rect x="1525.39" y="740.53" width="9.8" height="5.15" fill="#5a0f96"/>
<rect x="1534.47" y="743.1" width="9.8" height="9.8" fill="none" stroke="#5a0f96" stroke-width="2"/>
<rect x="1534.47" y="743.1" width="9.8" height="5.15" fill="#5a0f96"/>
<rect x="1543.39" y="749.1" width="9.8" height="9.8" fill="none" stroke="#5a0f96" stroke-width="2"/>
<rect x="1543.39" y="749.1" width="9.8" height="5.15" fill="#5a0f96"/>
<rect x="1552.47" y="757.67" width="9.8" height="9.8" fill="none" stroke="#5a0f96" stroke-width="2"/>
<rect x="1552.47" y="757.67" width="9.8" height="5.15" fill="#5a0f96"/>
<rect x="1561.73" y="768.81" width="9.8" height="9.8" fill="none" stroke="#5a0f96" stroke-width="2"/>
<rect x="1561.73" y="768.81" width="9.8" height="5.15" fill="#5a0f96"/>
<rect x="1570.81" y="782.53" width="9.8" height="9.8" fill="none" stroke="#5a0f96" stroke-width="2"/>
<rect x="1570.81" y="782.53" width="9.8" height="5.15" fill="#5a0f96"/>
<rect x="1579.9" y="797.96" width="9.8" height="9.8" fill="none" stroke="#5a0f96" stroke-width="2"/>
<rect x="1579.9" y="797.96" width="9.8" height="5.15" fill="#5a0f96"/>
<rect x="1588.81" y="821.1" width="9.8" height="9.8" fill="none" stroke="#5a0f96" stroke-width="2"/>
<rect x="1588.81" y="821.1" width="9.8" height="5.15" fill="#5a0f96"/>
<rect x="1597.9" y="845.96" width="9.8" height="9.8" fill="none" stroke="#5a0f96" stroke-width="2"/>
<rect x="1597.9" y="845.96" width="9.8" height="5.15" fill="#5a0f96"/>
<rect x="1606.76" y="875.1" width="9.8" height="9.8" fill="none" stroke="#5a0f96" stroke-width="2"/>
<rect x="1606.76" y="875.1" width="9.8" height="5.15" fill="#5a0f96"/>
<rect x="1615.67" y="902.53" width="9.8" height="9.8" fill="none" stroke="#5a0f96" stroke-width="2"/>
<rect x="1615.67" y="902.53" width="9.8" height="5.15" fill="#5a0f96"/>
<rect x="1624.76" y="932.53" width="9.8" height="9.8" fill="none" stroke="#5a0f96" stroke-width="2"/>
<rect x="1624.76" y="932.53" width="9.8" height="5.15" fill="#5a0f96"/>
<rect x="1633.67" y="961.67" width="9.8" height="9.8" fill="none" stroke="#5a0f96" stroke-width="2"/>
<rect x="1633.67" y="961.67" width="9.8" height="5.15" fill="#5a0f96"/>
<rect x="1642.76" y="990.81" width="9.8" height="9.8" fill="none" stroke="#5a0f96" stroke-width="2"/>
<rect x="1642.76" y="990.81" width="9.8" height="5.15" fill="#5a0f96"/>
<rect x="1651.67" y="1008.81" width="9.8" height="9.8" fill="none" stroke="#5a0f96" stroke-width="2"/>
<rect x="1651.67" y="1008.81" width="9.8" height="5.15" fill="#5a0f96"/>
<rect x="1660.76" y="1039.67" width="9.8" height="9.8" fill="none" stroke="#5a0f96" stroke-width="2"/>
<rect x="1660.76" y="1039.67" width="9.8" height="5.15" fill="#5a0f96"/>
<rect x="1670.01" y="1031.1" width="9.8" height="9.8" fill="none" stroke="#5a0f96" stroke-width="2"/>
<rect x="1670.01" y="1031.1" width="9.8" height="5.15" fill="#5a0f96"/>
<rect x="1679.1" y="1041.39" width="9.8" height="9.8" fill="none" stroke="#5a0f96" stroke-width="2"/>
<rect x="1679.1" y="1041.39" width="9.8" height="5.15" fill="#5a0f96"/>
<polyline points="1045.77,999.41 1047.05,998.09 1048.33,996.41 1049.61,994.48 1050.89,992.45 1052.17,990.4 1053.45,988.38 1054.72,986.41 1056,984.48 1057.28,982.61 1058.56,980.79 1059.84,979.02 1061.12,977.29 1062.4,975.61 1063.68,973.95 1064.96,972.31 1066.24,970.67 1067.51,969.03 1068.79,967.36 1070.07,965.68 1071.35,963.98 1072.63,962.27 1073.91,960.57 1075.19,958.89 1076.47,957.25 1077.75,955.67 1079.03,954.18 1080.3,952.77 1081.58,951.44 1082.86,950.19 1084.14,949.02 1085.42,947.92 1086.7,946.89 1087.98,945.93 1089.26,945.04 1090.54,944.24 1091.82,943.51 1093.09,942.83 1094.37,942.21 1095.65,941.64 1096.93,941.12 1098.21,940.64 1099.49,940.21 1100.77,939.82 1102.05,939.48 1103.33,939.17 1104.61,938.89 1105.89,938.63 1107.16,938.4 1108.44,938.19 1109.72,938.03 1111,937.92 1112.28,937.87 1113.56,937.88 1114.84,937.97 1116.12,938.13 1117.4,938.35 1118.68,938.64 1119.95,938.97 1121.23,939.35 1122.51,939.75 1123.79,940.2 1125.07,940.68 1126.35,941.21 1127.63,941.8 1128.91,942.44 1130.19,943.12 1131.47,943.84 1132.74,944.57 1134.02,945.33 1135.3,946.09 1136.58,946.87 1137.86,947.66 1139.14,948.48 1140.42,949.31 1141.7,950.16 1142.98,951.02 1144.26,951.89 1145.53,952.78 1146.81,953.67 1148.09,954.56 1149.37,955.46 1150.65,956.36 1151.93,957.26 1153.21,958.15 1154.49,959.04 1155.77,959.94 1157.05,960.83 1158.32,961.73 1159.6,962.64 1160.88,963.54 1162.16,964.45 1163.44,965.37 1164.72,966.28 1166,967.19 1167.28,968.1 1168.56,969.02 1169.84,969.92 1171.11,970.83 1172.39,971.72 1173.67,972.62 1174.95,973.51 1176.23,974.39 1177.51,975.27 1178.79,976.14 1180.07,977.01 1181.35,977.88 1182.63,978.75 1183.91,979.62 1185.18,980.48 1186.46,981.35 1187.74,982.22 1189.02,983.09 1190.3,983.96 1191.58,984.84 1192.86,985.72 1194.14,986.6 1195.42,987.49 1196.7,988.37 1197.97,989.26 1199.25,990.15 1200.53,991.04 1201.81,991.93 1203.09,992.82 1204.37,993.72 1205.65,994.62 1206.93,995.53 1208.21,996.44 1209.49,997.35 1210.76,998.26 1212.04,999.17 1213.32,1000.08 1214.6,1000.99 1215.88,1001.9 1217.16,1002.82 1218.44,1003.75 1219.72,1004.69 1221,1005.64 1222.28,1006.6 1223.55,1007.59 1224.83,1008.6 1226.11,1009.63 1227.39,1010.69 1228.67,1011.77 1229.95,1012.89 1231.23,1014.02 1232.51,1015.18 1233.79,1016.35 1235.07,1017.54 1236.34,1018.74 1237.62,1019.94 1238.9,1021.15 1240.18,1022.35 1241.46,1023.56 1242.74,1024.77 1244.02,1025.97 1245.3,1027.18 1246.58,1028.4 1247.86,1029.62 1249.13,1030.84 1250.41,1032.06 1251.69,1033.29 1252.97,1034.52 1254.25,1035.75 1255.53,1036.98 1256.81,1038.22 1258.09,1039.46 1259.37,1040.7 1260.65,1041.95 1261.92,1043.21 1263.2,1044.47 1264.48,1045.72 1265.76,1046.97 1267.04,1048.2 1268.32,1049.41 1269.6,1050.61 1270.88,1051.78 1272.16,1052.93 1273.44,1054.06 1274.72,1055.17 1275.99,1056.27 1277.27,1057.35 1278.55,1058.41 1279.83,1059.45 1281.11,1060.46 1282.39,1061.44 1283.67,1062.4 1284.95,1063.33 1286.23,1064.23 1287.51,1065.11 1288.78,1065.96 1290.06,1066.8 1291.34,1067.61 1292.62,1068.38 1293.9,1069.13 1295.18,1069.83 1296.46,1070.48 1297.74,1071.1 1299.02,1071.67 1300.3,1072.21 1301.57,1072.71 1302.85,1073.19 1304.13,1073.64 1305.41,1074.06 1306.69,1074.47 1307.97,1074.84 1309.25,1075.2 1310.53,1075.54 1311.81,1075.86 1313.09,1076.18 1314.36,1076.48 1315.64,1076.78 1316.92,1077.05 1318.2,1077.29 1319.48,1077.5 1320.76,1077.66 1322.04,1077.78 1323.32,1077.84 1324.6,1077.86 1325.88,1077.85 1327.15,1077.8 1328.43,1077.73 1329.71,1077.63 1330.99,1077.52 1332.27,1077.37 1333.55,1077.18 1334.83,1076.92 1336.11,1076.57 1337.39,1076.11 1338.67,1075.53 1339.94,1074.83 1341.22,1074.04 1342.5,1073.16 1343.78,1072.18 1345.06,1071.12 1346.34,1069.94 1347.62,1068.63 1348.9,1067.19 1350.18,1065.64 1351.46,1064.01 1352.74,1062.34 1354.01,1060.66 1355.29,1059.02 1356.57,1057.41 1357.85,1055.83 1359.13,1054.28 1360.41,1052.72 1361.69,1051.14 1362.97,1049.5 1364.25,1047.77 1365.53,1045.94 1366.8,1043.99 1368.08,1041.91 1369.36,1039.71 1370.64,1037.4 1371.92,1035.01 1373.2,1032.56 1374.48,1030.07 1375.76,1027.56 1377.04,1025.02 1378.32,1022.46 1379.59,1019.86 1380.87,1017.2 1382.15,1014.47 1383.43,1011.65 1384.71,1008.71 1385.99,1005.64 1387.27,1002.43 1388.55,999.11 1389.83,995.7 1391.11,992.22 1392.38,988.73 1393.66,985.23 1394.94,981.76 1396.22,978.31 1397.5,974.88 1398.78,971.47 1400.06,968.1 1401.34,964.77 1402.62,961.51 1403.9,958.32 1405.17,955.2 1406.45,952.13 1407.73,949.08 1409.01,946.01 1410.29,942.86 1411.57,939.59 1412.85,936.16 1414.13,932.54 1415.41,928.77 1416.69,924.86 1417.96,920.89 1419.24,916.91 1420.52,912.97 1421.8,909.12 1423.08,905.35 1424.36,901.66 1425.64,898.02 1426.92,894.43 1428.2,890.85 1429.48,887.27 1430.75,883.69 1432.03,880.11 1433.31,876.52 1434.59,872.93 1435.87,869.32 1437.15,865.71 1438.43,862.08 1439.71,858.42 1440.99,854.72 1442.27,850.99 1443.55,847.25 1444.82,843.53 1446.1,839.87 1447.38,836.3 1448.66,832.86 1449.94,829.55 1451.22,826.37 1452.5,823.32 1453.78,820.37 1455.06,817.52 1456.34,814.77 1457.61,812.12 1458.89,809.55 1460.17,807.08 1461.45,804.69 1462.73,802.36 1464.01,800.09 1465.29,797.87 1466.57,795.69 1467.85,793.54 1469.13,791.41 1470.4,789.32 1471.68,787.26 1472.96,785.23 1474.24,783.23 1475.52,781.26 1476.8,779.3 1478.08,777.38 1479.36,775.48 1480.64,773.61 1481.92,771.8 1483.19,770.03 1484.47,768.32 1485.75,766.66 1487.03,765.06 1488.31,763.51 1489.59,762.03 1490.87,760.62 1492.15,759.31 1493.43,758.1 1494.71,756.98 1495.98,755.95 1497.26,755 1498.54,754.11 1499.82,753.28 1501.1,752.49 1502.38,751.75 1503.66,751.04 1504.94,750.35 1506.22,749.7 1507.5,749.09 1508.77,748.52 1510.05,748.01 1511.33,747.54 1512.61,747.13 1513.89,746.76 1515.17,746.43 1516.45,746.14 1517.73,745.9 1519.01,745.72 1520.29,745.59 1521.57,745.5 1522.84,745.46 1524.12,745.44 1525.4,745.43 1526.68,745.44 1527.96,745.45 1529.24,745.5 1530.52,745.58 1531.8,745.73 1533.08,745.96 1534.36,746.27 1535.63,746.65 1536.91,747.1 1538.19,747.62 1539.47,748.19 1540.75,748.83 1542.03,749.56 1543.31,750.36 1544.59,751.24 1545.87,752.17 1547.15,753.16 1548.42,754.19 1549.7,755.26 1550.98,756.38 1552.26,757.54 1553.54,758.75 1554.82,760.01 1556.1,761.32 1557.38,762.66 1558.66,764.05 1559.94,765.49 1561.21,766.98 1562.49,768.51 1563.77,770.1 1565.05,771.74 1566.33,773.43 1567.61,775.19 1568.89,777 1570.17,778.87 1571.45,780.79 1572.73,782.75 1574,784.74 1575.28,786.75 1576.56,788.78 1577.84,790.82 1579.12,792.9 1580.4,795.03 1581.68,797.26 1582.96,799.63 1584.24,802.15 1585.52,804.88 1586.79,807.81 1588.07,810.94 1589.35,814.22 1590.63,817.61 1591.91,821.06 1593.19,824.52 1594.47,827.99 1595.75,831.45 1597.03,834.92 1598.31,838.41 1599.58,841.93 1600.86,845.49 1602.14,849.1 1603.42,852.76 1604.7,856.48 1605.98,860.25 1607.26,864.07 1608.54,867.93 1609.82,871.82 1611.1,875.75 1612.38,879.7 1613.65,883.68 1614.93,887.69 1616.21,891.74 1617.49,895.82 1618.77,899.94 1620.05,904.12 1621.33,908.34 1622.61,912.62 1623.89,916.93 1625.17,921.28 1626.44,925.63 1627.72,929.98 1629,934.3 1630.28,938.6 1631.56,942.86 1632.84,947.1 1634.12,951.3 1635.4,955.46 1636.68,959.58 1637.96,963.66 1639.23,967.68 1640.51,971.65 1641.79,975.57 1643.07,979.45 1644.35,983.29 1645.63,987.11 1646.91,990.9 1648.19,994.68 1649.47,998.44 1650.75,1002.18 1652.02,1005.89 1653.3,1009.56 1654.58,1013.2 1655.86,1016.8 1657.14,1020.36 1658.42,1023.87 1659.7,1027.34 1660.98,1030.76 1662.26,1034.12 1663.54,1037.41 1664.81,1040.62 1666.09,1043.75 1667.37,1046.8 1668.65,1049.78 1669.93,1052.68 1671.21,1055.51 1672.49,1058.26 1673.77,1060.94 1675.05,1063.55 1676.33,1066.09 1677.6,1068.56 1678.88,1070.94 1680.16,1073.2 1681.44,1075.27 1682.72,1077.02 1684,1078.35" fill="none" stroke="#5a0f96" stroke-width="2.6" stroke-linejoin="round" stroke-linecap="round" />
<circle cx="1045.77" cy="1073.14" r="5.3" fill="none" stroke="#6b6b0e" stroke-width="2.2"/>
<path d="M1045.77,1067.84 A5.3,5.3 0 0 1 1045.77,1078.44 Z" fill="#6b6b0e"/>
<circle cx="1068.57" cy="1063.71" r="5.3" fill="none" stroke="#6b6b0e" stroke-width="2.2"/>
<path d="M1068.57,1058.41 A5.3,5.3 0 0 1 1068.57,1069.01 Z" fill="#6b6b0e"/>
<circle cx="1091.2" cy="1058.06" r="5.3" fill="none" stroke="#6b6b0e" stroke-width="2.2"/>
<path d="M1091.2,1052.76 A5.3,5.3 0 0 1 1091.2,1063.36 Z" fill="#6b6b0e"/>
<circle cx="1113.14" cy="1053.43" r="5.3" fill="none" stroke="#6b6b0e" stroke-width="2.2"/>
<path d="M1113.14,1048.13 A5.3,5.3 0 0 1 1113.14,1058.73 Z" fill="#6b6b0e"/>
<circle cx="1134.23" cy="1048.29" r="5.3" fill="none" stroke="#6b6b0e" stroke-width="2.2"/>
<path d="M1134.23,1042.99 A5.3,5.3 0 0 1 1134.23,1053.59 Z" fill="#6b6b0e"/>
<circle cx="1154.63" cy="1041.94" r="5.3" fill="none" stroke="#6b6b0e" stroke-width="2.2"/>
<path d="M1154.63,1036.64 A5.3,5.3 0 0 1 1154.63,1047.24 Z" fill="#6b6b0e"/>
<circle cx="1174" cy="1032.86" r="5.3" fill="none" stroke="#6b6b0e" stroke-width="2.2"/>
<path d="M1174,1027.56 A5.3,5.3 0 0 1 1174,1038.16 Z" fill="#6b6b0e"/>
<circle cx="1192.86" cy="1021.71" r="5.3" fill="none" stroke="#6b6b0e" stroke-width="2.2"/>
<path d="M1192.86,1016.41 A5.3,5.3 0 0 1 1192.86,1027.01 Z" fill="#6b6b0e"/>
<circle cx="1210" cy="1008.34" r="5.3" fill="none" stroke="#6b6b0e" stroke-width="2.2"/>
<path d="M1210,1003.04 A5.3,5.3 0 0 1 1210,1013.64 Z" fill="#6b6b0e"/>
<circle cx="1226.29" cy="994.29" r="5.3" fill="none" stroke="#6b6b0e" stroke-width="2.2"/>
<path d="M1226.29,988.99 A5.3,5.3 0 0 1 1226.29,999.59 Z" fill="#6b6b0e"/>
<circle cx="1242.23" cy="981.43" r="5.3" fill="none" stroke="#6b6b0e" stroke-width="2.2"/>
<path d="M1242.23,976.13 A5.3,5.3 0 0 1 1242.23,986.73 Z" fill="#6b6b0e"/>
<circle cx="1257.49" cy="971.14" r="5.3" fill="none" stroke="#6b6b0e" stroke-width="2.2"/>
<path d="M1257.49,965.84 A5.3,5.3 0 0 1 1257.49,976.44 Z" fill="#6b6b0e"/>
<circle cx="1271.71" cy="964.8" r="5.3" fill="none" stroke="#6b6b0e" stroke-width="2.2"/>
<path d="M1271.71,959.5 A5.3,5.3 0 0 1 1271.71,970.1 Z" fill="#6b6b0e"/>
<circle cx="1285.43" cy="963.09" r="5.3" fill="none" stroke="#6b6b0e" stroke-width="2.2"/>
<path d="M1285.43,957.79 A5.3,5.3 0 0 1 1285.43,968.39 Z" fill="#6b6b0e"/>
<circle cx="1298.29" cy="967.71" r="5.3" fill="none" stroke="#6b6b0e" stroke-width="2.2"/>
<path d="M1298.29,962.41 A5.3,5.3 0 0 1 1298.29,973.01 Z" fill="#6b6b0e"/>
<circle cx="1311.14" cy="977.14" r="5.3" fill="none" stroke="#6b6b0e" stroke-width="2.2"/>
<path d="M1311.14,971.84 A5.3,5.3 0 0 1 1311.14,982.44 Z" fill="#6b6b0e"/>
<circle cx="1323.49" cy="991.71" r="5.3" fill="none" stroke="#6b6b0e" stroke-width="2.2"/>
<path d="M1323.49,986.41 A5.3,5.3 0 0 1 1323.49,997.01 Z" fill="#6b6b0e"/>
<circle cx="1334.69" cy="1006.86" r="5.3" fill="none" stroke="#6b6b0e" stroke-width="2.2"/>
<path d="M1334.69,1001.56 A5.3,5.3 0 0 1 1334.69,1012.16 Z" fill="#6b6b0e"/>
<circle cx="1345.31" cy="1018.86" r="5.3" fill="none" stroke="#6b6b0e" stroke-width="2.2"/>
<path d="M1345.31,1013.56 A5.3,5.3 0 0 1 1345.31,1024.16 Z" fill="#6b6b0e"/>
<circle cx="1355.77" cy="1037.71" r="5.3" fill="none" stroke="#6b6b0e" stroke-width="2.2"/>
<path d="M1355.77,1032.41 A5.3,5.3 0 0 1 1355.77,1043.01 Z" fill="#6b6b0e"/>
<circle cx="1366.06" cy="1051.43" r="5.3" fill="none" stroke="#6b6b0e" stroke-width="2.2"/>
<path d="M1366.06,1046.13 A5.3,5.3 0 0 1 1366.06,1056.73 Z" fill="#6b6b0e"/>
<circle cx="1375.83" cy="1060.86" r="5.3" fill="none" stroke="#6b6b0e" stroke-width="2.2"/>
<path d="M1375.83,1055.56 A5.3,5.3 0 0 1 1375.83,1066.16 Z" fill="#6b6b0e"/>
<circle cx="1385.26" cy="1048.86" r="5.3" fill="none" stroke="#6b6b0e" stroke-width="2.2"/>
<path d="M1385.26,1043.56 A5.3,5.3 0 0 1 1385.26,1054.16 Z" fill="#6b6b0e"/>
<circle cx="1394.51" cy="1068.57" r="5.3" fill="none" stroke="#6b6b0e" stroke-width="2.2"/>
<path d="M1394.51,1063.27 A5.3,5.3 0 0 1 1394.51,1073.87 Z" fill="#6b6b0e"/>
<circle cx="1403.26" cy="1081.14" r="5.3" fill="none" stroke="#6b6b0e" stroke-width="2.2"/>
<path d="M1403.26,1075.84 A5.3,5.3 0 0 1 1403.26,1086.44 Z" fill="#6b6b0e"/>
<circle cx="1412.86" cy="1080.29" r="5.3" fill="none" stroke="#6b6b0e" stroke-width="2.2"/>
<path d="M1412.86,1074.99 A5.3,5.3 0 0 1 1412.86,1085.59 Z" fill="#6b6b0e"/>
<circle cx="1421.43" cy="1069.14" r="5.3" fill="none" stroke="#6b6b0e" stroke-width="2.2"/>
<path d="M1421.43,1063.84 A5.3,5.3 0 0 1 1421.43,1074.44 Z" fill="#6b6b0e"/>
<circle cx="1430.86" cy="1065.71" r="5.3" fill="none" stroke="#6b6b0e" stroke-width="2.2"/>
<path d="M1430.86,1060.41 A5.3,5.3 0 0 1 1430.86,1071.01 Z" fill="#6b6b0e"/>
<circle cx="1440.29" cy="1059.71" r="5.3" fill="none" stroke="#6b6b0e" stroke-width="2.2"/>
<path d="M1440.29,1054.41 A5.3,5.3 0 0 1 1440.29,1065.01 Z" fill="#6b6b0e"/>
<circle cx="1449.2" cy="1048.57" r="5.3" fill="none" stroke="#6b6b0e" stroke-width="2.2"/>
<path d="M1449.2,1043.27 A5.3,5.3 0 0 1 1449.2,1053.87 Z" fill="#6b6b0e"/>
<circle cx="1458.29" cy="1034" r="5.3" fill="none" stroke="#6b6b0e" stroke-width="2.2"/>
<path d="M1458.29,1028.7 A5.3,5.3 0 0 1 1458.29,1039.3 Z" fill="#6b6b0e"/>
<circle cx="1466.86" cy="1017.71" r="5.3" fill="none" stroke="#6b6b0e" stroke-width="2.2"/>
<path d="M1466.86,1012.41 A5.3,5.3 0 0 1 1466.86,1023.01 Z" fill="#6b6b0e"/>
<circle cx="1475.94" cy="1001.71" r="5.3" fill="none" stroke="#6b6b0e" stroke-width="2.2"/>
<path d="M1475.94,996.41 A5.3,5.3 0 0 1 1475.94,1007.01 Z" fill="#6b6b0e"/>
<circle cx="1484.86" cy="983.71" r="5.3" fill="none" stroke="#6b6b0e" stroke-width="2.2"/>
<path d="M1484.86,978.41 A5.3,5.3 0 0 1 1484.86,989.01 Z" fill="#6b6b0e"/>
<circle cx="1493.94" cy="964.86" r="5.3" fill="none" stroke="#6b6b0e" stroke-width="2.2"/>
<path d="M1493.94,959.56 A5.3,5.3 0 0 1 1493.94,970.16 Z" fill="#6b6b0e"/>
<circle cx="1502.86" cy="944.29" r="5.3" fill="none" stroke="#6b6b0e" stroke-width="2.2"/>
<path d="M1502.86,938.99 A5.3,5.3 0 0 1 1502.86,949.59 Z" fill="#6b6b0e"/>
<circle cx="1512.29" cy="923.71" r="5.3" fill="none" stroke="#6b6b0e" stroke-width="2.2"/>
<path d="M1512.29,918.41 A5.3,5.3 0 0 1 1512.29,929.01 Z" fill="#6b6b0e"/>
<circle cx="1521.2" cy="904" r="5.3" fill="none" stroke="#6b6b0e" stroke-width="2.2"/>
<path d="M1521.2,898.7 A5.3,5.3 0 0 1 1521.2,909.3 Z" fill="#6b6b0e"/>
<circle cx="1530.29" cy="886" r="5.3" fill="none" stroke="#6b6b0e" stroke-width="2.2"/>
<path d="M1530.29,880.7 A5.3,5.3 0 0 1 1530.29,891.3 Z" fill="#6b6b0e"/>
<circle cx="1539.14" cy="869.71" r="5.3" fill="none" stroke="#6b6b0e" stroke-width="2.2"/>
<path d="M1539.14,864.41 A5.3,5.3 0 0 1 1539.14,875.01 Z" fill="#6b6b0e"/>
<circle cx="1548.23" cy="851.71" r="5.3" fill="none" stroke="#6b6b0e" stroke-width="2.2"/>
<path d="M1548.23,846.41 A5.3,5.3 0 0 1 1548.23,857.01 Z" fill="#6b6b0e"/>
<circle cx="1558" cy="838.86" r="5.3" fill="none" stroke="#6b6b0e" stroke-width="2.2"/>
<path d="M1558,833.56 A5.3,5.3 0 0 1 1558,844.16 Z" fill="#6b6b0e"/>
<circle cx="1567.09" cy="822.57" r="5.3" fill="none" stroke="#6b6b0e" stroke-width="2.2"/>
<path d="M1567.09,817.27 A5.3,5.3 0 0 1 1567.09,827.87 Z" fill="#6b6b0e"/>
<circle cx="1576" cy="818.29" r="5.3" fill="none" stroke="#6b6b0e" stroke-width="2.2"/>
<path d="M1576,812.99 A5.3,5.3 0 0 1 1576,823.59 Z" fill="#6b6b0e"/>
<circle cx="1585.09" cy="808.86" r="5.3" fill="none" stroke="#6b6b0e" stroke-width="2.2"/>
<path d="M1585.09,803.56 A5.3,5.3 0 0 1 1585.09,814.16 Z" fill="#6b6b0e"/>
<circle cx="1593.14" cy="789.14" r="5.3" fill="none" stroke="#6b6b0e" stroke-width="2.2"/>
<path d="M1593.14,783.84 A5.3,5.3 0 0 1 1593.14,794.44 Z" fill="#6b6b0e"/>
<circle cx="1602.23" cy="790.86" r="5.3" fill="none" stroke="#6b6b0e" stroke-width="2.2"/>
<path d="M1602.23,785.56 A5.3,5.3 0 0 1 1602.23,796.16 Z" fill="#6b6b0e"/>
<circle cx="1611.14" cy="786.57" r="5.3" fill="none" stroke="#6b6b0e" stroke-width="2.2"/>
<path d="M1611.14,781.27 A5.3,5.3 0 0 1 1611.14,791.87 Z" fill="#6b6b0e"/>
<circle cx="1620.57" cy="795.14" r="5.3" fill="none" stroke="#6b6b0e" stroke-width="2.2"/>
<path d="M1620.57,789.84 A5.3,5.3 0 0 1 1620.57,800.44 Z" fill="#6b6b0e"/>
<circle cx="1629.66" cy="792.57" r="5.3" fill="none" stroke="#6b6b0e" stroke-width="2.2"/>
<path d="M1629.66,787.27 A5.3,5.3 0 0 1 1629.66,797.87 Z" fill="#6b6b0e"/>
<circle cx="1638.57" cy="753.66" r="5.3" fill="none" stroke="#6b6b0e" stroke-width="2.2"/>
<path d="M1638.57,748.36 A5.3,5.3 0 0 1 1638.57,758.96 Z" fill="#6b6b0e"/>
<circle cx="1647.66" cy="912.57" r="5.3" fill="none" stroke="#6b6b0e" stroke-width="2.2"/>
<path d="M1647.66,907.27 A5.3,5.3 0 0 1 1647.66,917.87 Z" fill="#6b6b0e"/>
<circle cx="1656.57" cy="828.57" r="5.3" fill="none" stroke="#6b6b0e" stroke-width="2.2"/>
<path d="M1656.57,823.27 A5.3,5.3 0 0 1 1656.57,833.87 Z" fill="#6b6b0e"/>
<circle cx="1665.66" cy="822.23" r="5.3" fill="none" stroke="#6b6b0e" stroke-width="2.2"/>
<path d="M1665.66,816.93 A5.3,5.3 0 0 1 1665.66,827.53 Z" fill="#6b6b0e"/>
<circle cx="1674.91" cy="870.23" r="5.3" fill="none" stroke="#6b6b0e" stroke-width="2.2"/>
<path d="M1674.91,864.93 A5.3,5.3 0 0 1 1674.91,875.53 Z" fill="#6b6b0e"/>
<circle cx="1684" cy="838" r="5.3" fill="none" stroke="#6b6b0e" stroke-width="2.2"/>
<path d="M1684,832.7 A5.3,5.3 0 0 1 1684,843.3 Z" fill="#6b6b0e"/>
<polyline points="1045.77,1072.66 1047.05,1072.29 1048.33,1071.81 1049.61,1071.27 1050.89,1070.7 1052.17,1070.12 1053.45,1069.54 1054.72,1068.98 1056,1068.42 1057.28,1067.88 1058.56,1067.36 1059.84,1066.84 1061.12,1066.35 1062.4,1065.86 1063.68,1065.39 1064.96,1064.94 1066.24,1064.5 1067.51,1064.08 1068.79,1063.68 1070.07,1063.28 1071.35,1062.91 1072.63,1062.54 1073.91,1062.19 1075.19,1061.85 1076.47,1061.51 1077.75,1061.19 1079.03,1060.87 1080.3,1060.56 1081.58,1060.26 1082.86,1059.96 1084.14,1059.66 1085.42,1059.37 1086.7,1059.08 1087.98,1058.79 1089.26,1058.5 1090.54,1058.21 1091.82,1057.92 1093.09,1057.64 1094.37,1057.36 1095.65,1057.09 1096.93,1056.82 1098.21,1056.55 1099.49,1056.29 1100.77,1056.02 1102.05,1055.76 1103.33,1055.5 1104.61,1055.24 1105.89,1054.98 1107.16,1054.71 1108.44,1054.44 1109.72,1054.17 1111,1053.89 1112.28,1053.61 1113.56,1053.33 1114.84,1053.04 1116.12,1052.75 1117.4,1052.45 1118.68,1052.16 1119.95,1051.86 1121.23,1051.56 1122.51,1051.26 1123.79,1050.95 1125.07,1050.64 1126.35,1050.32 1127.63,1050 1128.91,1049.68 1130.19,1049.35 1131.47,1049.02 1132.74,1048.68 1134.02,1048.33 1135.3,1047.98 1136.58,1047.63 1137.86,1047.27 1139.14,1046.91 1140.42,1046.55 1141.7,1046.17 1142.98,1045.79 1144.26,1045.41 1145.53,1045.01 1146.81,1044.61 1148.09,1044.2 1149.37,1043.78 1150.65,1043.34 1151.93,1042.9 1153.21,1042.44 1154.49,1041.96 1155.77,1041.47 1157.05,1040.96 1158.32,1040.43 1159.6,1039.89 1160.88,1039.32 1162.16,1038.74 1163.44,1038.15 1164.72,1037.54 1166,1036.92 1167.28,1036.29 1168.56,1035.65 1169.84,1035 1171.11,1034.35 1172.39,1033.68 1173.67,1033.02 1174.95,1032.34 1176.23,1031.66 1177.51,1030.96 1178.79,1030.26 1180.07,1029.55 1181.35,1028.82 1182.63,1028.08 1183.91,1027.33 1185.18,1026.57 1186.46,1025.79 1187.74,1025 1189.02,1024.19 1190.3,1023.37 1191.58,1022.53 1192.86,1021.67 1194.14,1020.78 1195.42,1019.88 1196.7,1018.94 1197.97,1017.99 1199.25,1017.01 1200.53,1016.02 1201.81,1015.01 1203.09,1013.99 1204.37,1012.95 1205.65,1011.91 1206.93,1010.86 1208.21,1009.81 1209.49,1008.75 1210.76,1007.69 1212.04,1006.61 1213.32,1005.52 1214.6,1004.43 1215.88,1003.32 1217.16,1002.2 1218.44,1001.08 1219.72,999.96 1221,998.84 1222.28,997.73 1223.55,996.63 1224.83,995.53 1226.11,994.45 1227.39,993.37 1228.67,992.3 1229.95,991.23 1231.23,990.17 1232.51,989.11 1233.79,988.06 1235.07,987.02 1236.34,985.99 1237.62,984.98 1238.9,983.98 1240.18,983 1241.46,982.03 1242.74,981.07 1244.02,980.12 1245.3,979.19 1246.58,978.26 1247.86,977.35 1249.13,976.45 1250.41,975.57 1251.69,974.71 1252.97,973.88 1254.25,973.08 1255.53,972.31 1256.81,971.56 1258.09,970.84 1259.37,970.14 1260.65,969.45 1261.92,968.77 1263.2,968.12 1264.48,967.5 1265.76,966.91 1267.04,966.38 1268.32,965.89 1269.6,965.47 1270.88,965.1 1272.16,964.79 1273.44,964.51 1274.72,964.27 1275.99,964.04 1277.27,963.84 1278.55,963.66 1279.83,963.5 1281.11,963.37 1282.39,963.28 1283.67,963.23 1284.95,963.24 1286.23,963.32 1287.51,963.49 1288.78,963.75 1290.06,964.11 1291.34,964.55 1292.62,965.06 1293.9,965.62 1295.18,966.21 1296.46,966.84 1297.74,967.49 1299.02,968.18 1300.3,968.91 1301.57,969.69 1302.85,970.53 1304.13,971.43 1305.41,972.38 1306.69,973.39 1307.97,974.44 1309.25,975.54 1310.53,976.7 1311.81,977.91 1313.09,979.19 1314.36,980.55 1315.64,981.97 1316.92,983.46 1318.2,985.01 1319.48,986.6 1320.76,988.22 1322.04,989.88 1323.32,991.56 1324.6,993.28 1325.88,995.04 1327.15,996.83 1328.43,998.66 1329.71,1000.51 1330.99,1002.36 1332.27,1004.21 1333.55,1006.04 1334.83,1007.85 1336.11,1009.64 1337.39,1011.4 1338.67,1013.16 1339.94,1014.9 1341.22,1016.65 1342.5,1018.41 1343.78,1020.19 1345.06,1022 1346.34,1023.83 1347.62,1025.69 1348.9,1027.58 1350.18,1029.48 1351.46,1031.38 1352.74,1033.27 1354.01,1035.13 1355.29,1036.98 1356.57,1038.8 1357.85,1040.59 1359.13,1042.37 1360.41,1044.11 1361.69,1045.82 1362.97,1047.49 1364.25,1049.12 1365.53,1050.69 1366.8,1052.22 1368.08,1053.7 1369.36,1055.14 1370.64,1056.53 1371.92,1057.87 1373.2,1059.15 1374.48,1060.37 1375.76,1061.53 1377.04,1062.64 1378.32,1063.68 1379.59,1064.68 1380.87,1065.63 1382.15,1066.52 1383.43,1067.36 1384.71,1068.15 1385.99,1068.89 1387.27,1069.59 1388.55,1070.24 1389.83,1070.85 1391.11,1071.43 1392.38,1071.98 1393.66,1072.5 1394.94,1073.01 1396.22,1073.49 1397.5,1073.95 1398.78,1074.37 1400.06,1074.73 1401.34,1075.01 1402.62,1075.2 1403.9,1075.32 1405.17,1075.39 1406.45,1075.41 1407.73,1075.42 1409.01,1075.42 1410.29,1075.4 1411.57,1075.36 1412.85,1075.28 1414.13,1075.12 1415.41,1074.88 1416.69,1074.56 1417.96,1074.16 1419.24,1073.68 1420.52,1073.15 1421.8,1072.57 1423.08,1071.92 1424.36,1071.21 1425.64,1070.44 1426.92,1069.61 1428.2,1068.74 1429.48,1067.83 1430.75,1066.91 1432.03,1065.97 1433.31,1065.01 1434.59,1064.02 1435.87,1062.98 1437.15,1061.9 1438.43,1060.75 1439.71,1059.53 1440.99,1058.22 1442.27,1056.81 1443.55,1055.32 1444.82,1053.75 1446.1,1052.11 1447.38,1050.42 1448.66,1048.68 1449.94,1046.9 1451.22,1045.08 1452.5,1043.22 1453.78,1041.31 1455.06,1039.35 1456.34,1037.33 1457.61,1035.27 1458.89,1033.14 1460.17,1030.95 1461.45,1028.71 1462.73,1026.42 1464.01,1024.1 1465.29,1021.75 1466.57,1019.39 1467.85,1017.02 1469.13,1014.64 1470.4,1012.24 1471.68,1009.84 1472.96,1007.41 1474.24,1004.96 1475.52,1002.48 1476.8,999.97 1478.08,997.44 1479.36,994.89 1480.64,992.31 1481.92,989.71 1483.19,987.11 1484.47,984.5 1485.75,981.89 1487.03,979.27 1488.31,976.64 1489.59,974 1490.87,971.33 1492.15,968.61 1493.43,965.85 1494.71,963.03 1495.98,960.16 1497.26,957.23 1498.54,954.28 1499.82,951.33 1501.1,948.38 1502.38,945.46 1503.66,942.58 1504.94,939.74 1506.22,936.92 1507.5,934.13 1508.77,931.34 1510.05,928.56 1511.33,925.76 1512.61,922.95 1513.89,920.13 1515.17,917.3 1516.45,914.47 1517.73,911.64 1519.01,908.84 1520.29,906.06 1521.57,903.33 1522.84,900.63 1524.12,897.96 1525.4,895.31 1526.68,892.66 1527.96,889.97 1529.24,887.22 1530.52,884.4 1531.8,881.49 1533.08,878.52 1534.36,875.53 1535.63,872.55 1536.91,869.66 1538.19,866.89 1539.47,864.26 1540.75,861.77 1542.03,859.42 1543.31,857.18 1544.59,855.02 1545.87,852.94 1547.15,850.91 1548.42,848.94 1549.7,847.03 1550.98,845.16 1552.26,843.33 1553.54,841.53 1554.82,839.76 1556.1,838.01 1557.38,836.27 1558.66,834.52 1559.94,832.79 1561.21,831.06 1562.49,829.35 1563.77,827.67 1565.05,826.04 1566.33,824.45 1567.61,822.93 1568.89,821.45 1570.17,820.02 1571.45,818.64 1572.73,817.31 1574,816.02 1575.28,814.77 1576.56,813.56 1577.84,812.39 1579.12,811.25 1580.4,810.15 1581.68,809.07 1582.96,808.01 1584.24,806.97 1585.52,805.94 1586.79,804.92 1588.07,803.92 1589.35,802.95 1590.63,802.04 1591.91,801.19 1593.19,800.4 1594.47,799.69 1595.75,799.04 1597.03,798.44 1598.31,797.9 1599.58,797.42 1600.86,797 1602.14,796.63 1603.42,796.31 1604.7,796.02 1605.98,795.78 1607.26,795.58 1608.54,795.42 1609.82,795.31 1611.1,795.26 1612.38,795.25 1613.65,795.29 1614.93,795.37 1616.21,795.49 1617.49,795.63 1618.77,795.8 1620.05,796.02 1621.33,796.28 1622.61,796.61 1623.89,797.01 1625.17,797.47 1626.44,797.99 1627.72,798.57 1629,799.19 1630.28,799.86 1631.56,800.58 1632.84,801.37 1634.12,802.21 1635.4,803.1 1636.68,804.04 1637.96,805.03 1639.23,806.07 1640.51,807.15 1641.79,808.29 1643.07,809.48 1644.35,810.71 1645.63,811.98 1646.91,813.29 1648.19,814.63 1649.47,816.02 1650.75,817.44 1652.02,818.89 1653.3,820.39 1654.58,821.91 1655.86,823.47 1657.14,825.06 1658.42,826.68 1659.7,828.33 1660.98,830.01 1662.26,831.71 1663.54,833.43 1664.81,835.15 1666.09,836.89 1667.37,838.63 1668.65,840.38 1669.93,842.15 1671.21,843.93 1672.49,845.72 1673.77,847.54 1675.05,849.38 1676.33,851.25 1677.6,853.13 1678.88,855.01 1680.16,856.87 1681.44,858.61 1682.72,860.13 1684,861.31" fill="none" stroke="#6b6b0e" stroke-width="2.6" stroke-linejoin="round" stroke-linecap="round" />
</g>
<line x1="998.2" y1="1161.2" x2="1009.7" y2="1161.2" stroke="#000" stroke-width="2.3" />
<line x1="998.2" y1="1051.8" x2="1009.7" y2="1051.8" stroke="#000" stroke-width="2.3" />
<line x1="998.2" y1="942.4" x2="1009.7" y2="942.4" stroke="#000" stroke-width="2.3" />
<line x1="998.2" y1="833" x2="1009.7" y2="833" stroke="#000" stroke-width="2.3" />
<line x1="998.2" y1="723.6" x2="1009.7" y2="723.6" stroke="#000" stroke-width="2.3" />
<line x1="998.2" y1="1188.55" x2="1004.4" y2="1188.55" stroke="#000" stroke-width="2.3" />
<line x1="998.2" y1="1133.85" x2="1004.4" y2="1133.85" stroke="#000" stroke-width="2.3" />
<line x1="998.2" y1="1106.5" x2="1004.4" y2="1106.5" stroke="#000" stroke-width="2.3" />
<line x1="998.2" y1="1079.15" x2="1004.4" y2="1079.15" stroke="#000" stroke-width="2.3" />
<line x1="998.2" y1="1024.45" x2="1004.4" y2="1024.45" stroke="#000" stroke-width="2.3" />
<line x1="998.2" y1="997.1" x2="1004.4" y2="997.1" stroke="#000" stroke-width="2.3" />
<line x1="998.2" y1="969.75" x2="1004.4" y2="969.75" stroke="#000" stroke-width="2.3" />
<line x1="998.2" y1="915.05" x2="1004.4" y2="915.05" stroke="#000" stroke-width="2.3" />
<line x1="998.2" y1="887.7" x2="1004.4" y2="887.7" stroke="#000" stroke-width="2.3" />
<line x1="998.2" y1="860.35" x2="1004.4" y2="860.35" stroke="#000" stroke-width="2.3" />
<line x1="998.2" y1="805.65" x2="1004.4" y2="805.65" stroke="#000" stroke-width="2.3" />
<line x1="998.2" y1="778.3" x2="1004.4" y2="778.3" stroke="#000" stroke-width="2.3" />
<line x1="998.2" y1="750.95" x2="1004.4" y2="750.95" stroke="#000" stroke-width="2.3" />
<line x1="998.2" y1="696.25" x2="1004.4" y2="696.25" stroke="#000" stroke-width="2.3" />
<line x1="1045.9" y1="1215.3" x2="1045.9" y2="1203.8" stroke="#000" stroke-width="2.3" />
<line x1="1137.07" y1="1215.3" x2="1137.07" y2="1203.8" stroke="#000" stroke-width="2.3" />
<line x1="1228.24" y1="1215.3" x2="1228.24" y2="1203.8" stroke="#000" stroke-width="2.3" />
<line x1="1319.41" y1="1215.3" x2="1319.41" y2="1203.8" stroke="#000" stroke-width="2.3" />
<line x1="1410.59" y1="1215.3" x2="1410.59" y2="1203.8" stroke="#000" stroke-width="2.3" />
<line x1="1501.76" y1="1215.3" x2="1501.76" y2="1203.8" stroke="#000" stroke-width="2.3" />
<line x1="1592.93" y1="1215.3" x2="1592.93" y2="1203.8" stroke="#000" stroke-width="2.3" />
<line x1="1684.1" y1="1215.3" x2="1684.1" y2="1203.8" stroke="#000" stroke-width="2.3" />
<line x1="1009.62" y1="1215.3" x2="1009.62" y2="1209.1" stroke="#000" stroke-width="2.3" />
<line x1="1018.45" y1="1215.3" x2="1018.45" y2="1209.1" stroke="#000" stroke-width="2.3" />
<line x1="1025.67" y1="1215.3" x2="1025.67" y2="1209.1" stroke="#000" stroke-width="2.3" />
<line x1="1031.78" y1="1215.3" x2="1031.78" y2="1209.1" stroke="#000" stroke-width="2.3" />
<line x1="1037.06" y1="1215.3" x2="1037.06" y2="1209.1" stroke="#000" stroke-width="2.3" />
<line x1="1041.73" y1="1215.3" x2="1041.73" y2="1209.1" stroke="#000" stroke-width="2.3" />
<line x1="1073.35" y1="1215.3" x2="1073.35" y2="1209.1" stroke="#000" stroke-width="2.3" />
<line x1="1089.4" y1="1215.3" x2="1089.4" y2="1209.1" stroke="#000" stroke-width="2.3" />
<line x1="1100.79" y1="1215.3" x2="1100.79" y2="1209.1" stroke="#000" stroke-width="2.3" />
<line x1="1109.63" y1="1215.3" x2="1109.63" y2="1209.1" stroke="#000" stroke-width="2.3" />
<line x1="1116.85" y1="1215.3" x2="1116.85" y2="1209.1" stroke="#000" stroke-width="2.3" />
<line x1="1122.95" y1="1215.3" x2="1122.95" y2="1209.1" stroke="#000" stroke-width="2.3" />
<line x1="1128.24" y1="1215.3" x2="1128.24" y2="1209.1" stroke="#000" stroke-width="2.3" />
<line x1="1132.9" y1="1215.3" x2="1132.9" y2="1209.1" stroke="#000" stroke-width="2.3" />
<line x1="1164.52" y1="1215.3" x2="1164.52" y2="1209.1" stroke="#000" stroke-width="2.3" />
<line x1="1180.57" y1="1215.3" x2="1180.57" y2="1209.1" stroke="#000" stroke-width="2.3" />
<line x1="1191.96" y1="1215.3" x2="1191.96" y2="1209.1" stroke="#000" stroke-width="2.3" />
<line x1="1200.8" y1="1215.3" x2="1200.8" y2="1209.1" stroke="#000" stroke-width="2.3" />
<line x1="1208.02" y1="1215.3" x2="1208.02" y2="1209.1" stroke="#000" stroke-width="2.3" />
<line x1="1214.12" y1="1215.3" x2="1214.12" y2="1209.1" stroke="#000" stroke-width="2.3" />
<line x1="1219.41" y1="1215.3" x2="1219.41" y2="1209.1" stroke="#000" stroke-width="2.3" />
<line x1="1224.07" y1="1215.3" x2="1224.07" y2="1209.1" stroke="#000" stroke-width="2.3" />
<line x1="1255.69" y1="1215.3" x2="1255.69" y2="1209.1" stroke="#000" stroke-width="2.3" />
<line x1="1271.74" y1="1215.3" x2="1271.74" y2="1209.1" stroke="#000" stroke-width="2.3" />
<line x1="1283.13" y1="1215.3" x2="1283.13" y2="1209.1" stroke="#000" stroke-width="2.3" />
<line x1="1291.97" y1="1215.3" x2="1291.97" y2="1209.1" stroke="#000" stroke-width="2.3" />
<line x1="1299.19" y1="1215.3" x2="1299.19" y2="1209.1" stroke="#000" stroke-width="2.3" />
<line x1="1305.29" y1="1215.3" x2="1305.29" y2="1209.1" stroke="#000" stroke-width="2.3" />
<line x1="1310.58" y1="1215.3" x2="1310.58" y2="1209.1" stroke="#000" stroke-width="2.3" />
<line x1="1315.24" y1="1215.3" x2="1315.24" y2="1209.1" stroke="#000" stroke-width="2.3" />
<line x1="1346.86" y1="1215.3" x2="1346.86" y2="1209.1" stroke="#000" stroke-width="2.3" />
<line x1="1362.91" y1="1215.3" x2="1362.91" y2="1209.1" stroke="#000" stroke-width="2.3" />
<line x1="1374.3" y1="1215.3" x2="1374.3" y2="1209.1" stroke="#000" stroke-width="2.3" />
<line x1="1383.14" y1="1215.3" x2="1383.14" y2="1209.1" stroke="#000" stroke-width="2.3" />
<line x1="1390.36" y1="1215.3" x2="1390.36" y2="1209.1" stroke="#000" stroke-width="2.3" />
<line x1="1396.46" y1="1215.3" x2="1396.46" y2="1209.1" stroke="#000" stroke-width="2.3" />
<line x1="1401.75" y1="1215.3" x2="1401.75" y2="1209.1" stroke="#000" stroke-width="2.3" />
<line x1="1406.41" y1="1215.3" x2="1406.41" y2="1209.1" stroke="#000" stroke-width="2.3" />
<line x1="1438.03" y1="1215.3" x2="1438.03" y2="1209.1" stroke="#000" stroke-width="2.3" />
<line x1="1454.09" y1="1215.3" x2="1454.09" y2="1209.1" stroke="#000" stroke-width="2.3" />
<line x1="1465.48" y1="1215.3" x2="1465.48" y2="1209.1" stroke="#000" stroke-width="2.3" />
<line x1="1474.31" y1="1215.3" x2="1474.31" y2="1209.1" stroke="#000" stroke-width="2.3" />
<line x1="1481.53" y1="1215.3" x2="1481.53" y2="1209.1" stroke="#000" stroke-width="2.3" />
<line x1="1487.63" y1="1215.3" x2="1487.63" y2="1209.1" stroke="#000" stroke-width="2.3" />
<line x1="1492.92" y1="1215.3" x2="1492.92" y2="1209.1" stroke="#000" stroke-width="2.3" />
<line x1="1497.59" y1="1215.3" x2="1497.59" y2="1209.1" stroke="#000" stroke-width="2.3" />
<line x1="1529.2" y1="1215.3" x2="1529.2" y2="1209.1" stroke="#000" stroke-width="2.3" />
<line x1="1545.26" y1="1215.3" x2="1545.26" y2="1209.1" stroke="#000" stroke-width="2.3" />
<line x1="1556.65" y1="1215.3" x2="1556.65" y2="1209.1" stroke="#000" stroke-width="2.3" />
<line x1="1565.48" y1="1215.3" x2="1565.48" y2="1209.1" stroke="#000" stroke-width="2.3" />
<line x1="1572.7" y1="1215.3" x2="1572.7" y2="1209.1" stroke="#000" stroke-width="2.3" />
<line x1="1578.81" y1="1215.3" x2="1578.81" y2="1209.1" stroke="#000" stroke-width="2.3" />
<line x1="1584.09" y1="1215.3" x2="1584.09" y2="1209.1" stroke="#000" stroke-width="2.3" />
<line x1="1588.76" y1="1215.3" x2="1588.76" y2="1209.1" stroke="#000" stroke-width="2.3" />
<line x1="1620.37" y1="1215.3" x2="1620.37" y2="1209.1" stroke="#000" stroke-width="2.3" />
<line x1="1636.43" y1="1215.3" x2="1636.43" y2="1209.1" stroke="#000" stroke-width="2.3" />
<line x1="1647.82" y1="1215.3" x2="1647.82" y2="1209.1" stroke="#000" stroke-width="2.3" />
<line x1="1656.65" y1="1215.3" x2="1656.65" y2="1209.1" stroke="#000" stroke-width="2.3" />
<line x1="1663.87" y1="1215.3" x2="1663.87" y2="1209.1" stroke="#000" stroke-width="2.3" />
<line x1="1669.98" y1="1215.3" x2="1669.98" y2="1209.1" stroke="#000" stroke-width="2.3" />
<line x1="1675.26" y1="1215.3" x2="1675.26" y2="1209.1" stroke="#000" stroke-width="2.3" />
<line x1="1679.93" y1="1215.3" x2="1679.93" y2="1209.1" stroke="#000" stroke-width="2.3" />
<line x1="1711.55" y1="1215.3" x2="1711.55" y2="1209.1" stroke="#000" stroke-width="2.3" />
<line x1="1727.6" y1="1215.3" x2="1727.6" y2="1209.1" stroke="#000" stroke-width="2.3" />
<line x1="1738.99" y1="1215.3" x2="1738.99" y2="1209.1" stroke="#000" stroke-width="2.3" />
<rect x="998.2" y="668.8" width="748.8" height="546.5" fill="none" stroke="#000" stroke-width="2.4"/>
<text x="985" y="1167.3" font-family='"Liberation Sans", sans-serif' font-size="24" font-weight="bold" text-anchor="end" fill="#000" >0</text>
<text x="985" y="1057.9" font-family='"Liberation Sans", sans-serif' font-size="24" font-weight="bold" text-anchor="end" fill="#000" >20</text>
<text x="985" y="948.5" font-family='"Liberation Sans", sans-serif' font-size="24" font-weight="bold" text-anchor="end" fill="#000" >40</text>
<text x="985" y="839.1" font-family='"Liberation Sans", sans-serif' font-size="24" font-weight="bold" text-anchor="end" fill="#000" >60</text>
<text x="985" y="729.7" font-family='"Liberation Sans", sans-serif' font-size="24" font-weight="bold" text-anchor="end" fill="#000" >80</text>
<text x="1045.9" y="1250" font-family='"Liberation Sans", sans-serif' font-size="24" font-weight="bold" text-anchor="middle" fill="#000">10<tspan dy="-14" font-size="13.5">-2</tspan></text>
<text x="1137.07" y="1250" font-family='"Liberation Sans", sans-serif' font-size="24" font-weight="bold" text-anchor="middle" fill="#000">10<tspan dy="-14" font-size="13.5">-1</tspan></text>
<text x="1228.24" y="1250" font-family='"Liberation Sans", sans-serif' font-size="24" font-weight="bold" text-anchor="middle" fill="#000">10<tspan dy="-14" font-size="13.5">0</tspan></text>
<text x="1319.41" y="1250" font-family='"Liberation Sans", sans-serif' font-size="24" font-weight="bold" text-anchor="middle" fill="#000">10<tspan dy="-14" font-size="13.5">1</tspan></text>
<text x="1410.59" y="1250" font-family='"Liberation Sans", sans-serif' font-size="24" font-weight="bold" text-anchor="middle" fill="#000">10<tspan dy="-14" font-size="13.5">2</tspan></text>
<text x="1501.76" y="1250" font-family='"Liberation Sans", sans-serif' font-size="24" font-weight="bold" text-anchor="middle" fill="#000">10<tspan dy="-14" font-size="13.5">3</tspan></text>
<text x="1592.93" y="1250" font-family='"Liberation Sans", sans-serif' font-size="24" font-weight="bold" text-anchor="middle" fill="#000">10<tspan dy="-14" font-size="13.5">4</tspan></text>
<text x="1684.1" y="1250" font-family='"Liberation Sans", sans-serif' font-size="24" font-weight="bold" text-anchor="middle" fill="#000">10<tspan dy="-14" font-size="13.5">5</tspan></text>
<text x="909.7" y="697.1" font-family='"Liberation Serif", serif' font-size="40.5" font-weight="bold" text-anchor="start" fill="#000" >(d)</text>
<text x="1373.2" y="1293.7" font-family='"Liberation Serif", serif' font-size="31.4" font-weight="bold" text-anchor="middle" fill="#000" >Frequency (Hz)</text>
<text transform="translate(935.2,939) rotate(-90)" text-anchor="middle" font-family='"Liberation Serif", serif' font-size="32" font-weight="bold" fill="#000">-Phase (<tspan dy="4.5" font-weight="normal">°</tspan><tspan dy="-4.5">)</tspan></text>
</svg>
</body></html>
